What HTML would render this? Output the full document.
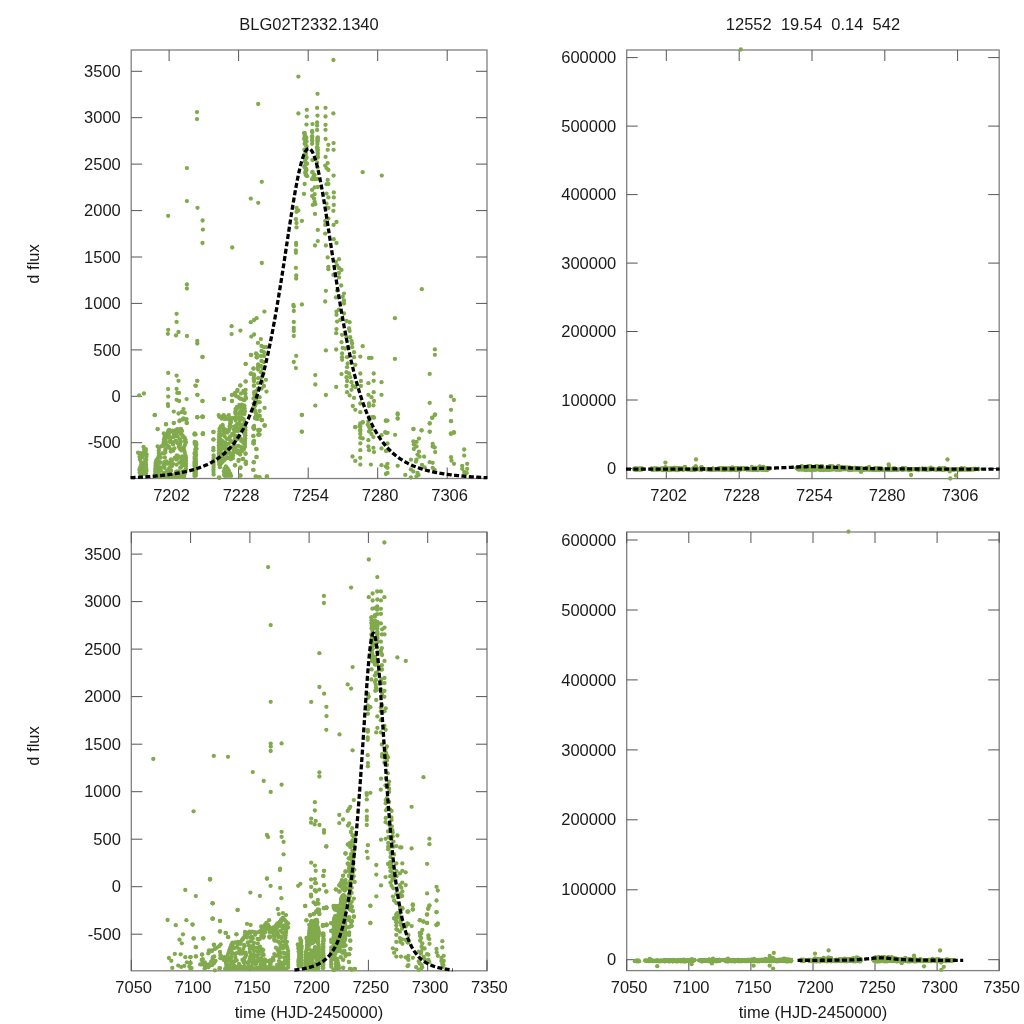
<!DOCTYPE html><html><head><meta charset="utf-8"><style>html,body{margin:0;padding:0;background:#fff;overflow:hidden}svg{display:block;will-change:transform}text{font-family:"Liberation Sans",sans-serif;font-size:16.5px;fill:#1a1a1a}</style></head><body>
<svg width="1024" height="1024" viewBox="0 0 1024 1024">
<rect width="1024" height="1024" fill="#fff"/>
<clipPath id="c1"><rect x="129.2" y="48" width="359.8" height="432.5"/></clipPath>
<rect x="131.2" y="50" width="355.8" height="428.5" fill="none" stroke="#808080" stroke-width="1.3"/>
<path d="M169.1,478.5V467.5M169.1,50V61M238.6,478.5V467.5M238.6,50V61M308.2,478.5V467.5M308.2,50V61M377.7,478.5V467.5M377.7,50V61M447.2,478.5V467.5M447.2,50V61M131.2,442.7H142.2M487,442.7H476M131.2,396.3H142.2M487,396.3H476M131.2,349.9H142.2M487,349.9H476M131.2,303.4H142.2M487,303.4H476M131.2,257.0H142.2M487,257.0H476M131.2,210.6H142.2M487,210.6H476M131.2,164.1H142.2M487,164.1H476M131.2,117.7H142.2M487,117.7H476M131.2,71.3H142.2M487,71.3H476" stroke="#555" stroke-width="1" fill="none"/>
<g fill="#80aa4c" clip-path="url(#c1)">
<polygon points="" stroke="#80aa4c" stroke-width="2" stroke-linejoin="round"/>
<polygon points="" stroke="#80aa4c" stroke-width="2" stroke-linejoin="round"/>
<polygon points="" stroke="#80aa4c" stroke-width="2" stroke-linejoin="round"/>
<polygon points="" stroke="#80aa4c" stroke-width="2" stroke-linejoin="round"/>
<polygon points="" stroke="#80aa4c" stroke-width="2" stroke-linejoin="round"/>
<polygon points="" stroke="#80aa4c" stroke-width="2" stroke-linejoin="round"/>
<polygon points="" stroke="#80aa4c" stroke-width="2" stroke-linejoin="round"/>
<polygon points="" stroke="#80aa4c" stroke-width="2" stroke-linejoin="round"/>
<polygon points="" stroke="#80aa4c" stroke-width="2" stroke-linejoin="round"/>
<polygon points="" stroke="#80aa4c" stroke-width="2" stroke-linejoin="round"/>
<polygon points="" stroke="#80aa4c" stroke-width="2" stroke-linejoin="round"/>
<polygon points="" stroke="#80aa4c" stroke-width="2" stroke-linejoin="round"/>
<polygon points="" stroke="#80aa4c" stroke-width="2" stroke-linejoin="round"/>
<polygon points="" stroke="#80aa4c" stroke-width="2" stroke-linejoin="round"/>
<polygon points="" stroke="#80aa4c" stroke-width="2" stroke-linejoin="round"/>
</g>
<g fill="#80aa4c">
<circle cx="197.0" cy="112.1" r="2.15"/>
<circle cx="197.0" cy="119.1" r="2.15"/>
<circle cx="186.9" cy="168.1" r="2.15"/>
<circle cx="258.2" cy="104.0" r="2.15"/>
<circle cx="333.4" cy="60.0" r="2.15"/>
<circle cx="298.4" cy="76.6" r="2.15"/>
<circle cx="317.5" cy="93.8" r="2.15"/>
<circle cx="298.4" cy="113.4" r="2.15"/>
<circle cx="306.8" cy="109.8" r="2.15"/>
<circle cx="306.8" cy="116.6" r="2.15"/>
<circle cx="317.1" cy="107.9" r="2.15"/>
<circle cx="317.5" cy="115.6" r="2.15"/>
<circle cx="325.5" cy="107.8" r="2.15"/>
<circle cx="325.5" cy="116.5" r="2.15"/>
<circle cx="333.4" cy="113.4" r="2.15"/>
<circle cx="306.5" cy="124.6" r="2.15"/>
<circle cx="312.5" cy="124.1" r="2.15"/>
<circle cx="317.1" cy="122.5" r="2.15"/>
<circle cx="317.1" cy="125.6" r="2.15"/>
<circle cx="317.1" cy="130.0" r="2.15"/>
<circle cx="325.5" cy="124.8" r="2.15"/>
<circle cx="325.5" cy="129.8" r="2.15"/>
<circle cx="312.1" cy="131.0" r="2.15"/>
<circle cx="325.6" cy="139.0" r="2.15"/>
<circle cx="328.4" cy="144.8" r="2.15"/>
<circle cx="333.6" cy="143.1" r="2.15"/>
<circle cx="327.7" cy="149.8" r="2.15"/>
<circle cx="333.6" cy="149.8" r="2.15"/>
<circle cx="325.6" cy="156.9" r="2.15"/>
<circle cx="327.7" cy="163.1" r="2.15"/>
<circle cx="325.2" cy="165.6" r="2.15"/>
<circle cx="326.5" cy="168.1" r="2.15"/>
<circle cx="328.4" cy="170.0" r="2.15"/>
<circle cx="333.6" cy="175.6" r="2.15"/>
<circle cx="362.7" cy="172.2" r="2.15"/>
<circle cx="381.8" cy="175.6" r="2.15"/>
<circle cx="304.0" cy="133.1" r="2.15"/>
<circle cx="305.5" cy="136.2" r="2.15"/>
<circle cx="304.0" cy="138.8" r="2.15"/>
<circle cx="306.5" cy="141.2" r="2.15"/>
<circle cx="304.6" cy="143.8" r="2.15"/>
<circle cx="306.5" cy="146.2" r="2.15"/>
<circle cx="304.6" cy="150.0" r="2.15"/>
<circle cx="305.9" cy="153.8" r="2.15"/>
<circle cx="306.5" cy="157.5" r="2.15"/>
<circle cx="305.2" cy="161.2" r="2.15"/>
<circle cx="307.1" cy="163.7" r="2.15"/>
<circle cx="304.6" cy="167.5" r="2.15"/>
<circle cx="306.5" cy="170.0" r="2.15"/>
<circle cx="305.2" cy="173.1" r="2.15"/>
<circle cx="307.1" cy="176.2" r="2.15"/>
<circle cx="312.1" cy="136.2" r="2.15"/>
<circle cx="312.1" cy="140.0" r="2.15"/>
<circle cx="312.1" cy="143.8" r="2.15"/>
<circle cx="312.5" cy="160.0" r="2.15"/>
<circle cx="312.5" cy="171.9" r="2.15"/>
<circle cx="314.6" cy="175.0" r="2.15"/>
<circle cx="317.8" cy="137.5" r="2.15"/>
<circle cx="317.8" cy="140.6" r="2.15"/>
<circle cx="317.1" cy="147.5" r="2.15"/>
<circle cx="317.8" cy="150.0" r="2.15"/>
<circle cx="317.8" cy="153.8" r="2.15"/>
<circle cx="317.8" cy="157.5" r="2.15"/>
<circle cx="317.1" cy="162.5" r="2.15"/>
<circle cx="317.5" cy="167.5" r="2.15"/>
<circle cx="186.9" cy="201.1" r="2.15"/>
<circle cx="197.5" cy="207.8" r="2.15"/>
<circle cx="168.2" cy="215.8" r="2.15"/>
<circle cx="202.6" cy="220.5" r="2.15"/>
<circle cx="202.9" cy="229.6" r="2.15"/>
<circle cx="202.5" cy="243.0" r="2.15"/>
<circle cx="232.2" cy="247.5" r="2.15"/>
<circle cx="250.8" cy="198.6" r="2.15"/>
<circle cx="258.2" cy="202.8" r="2.15"/>
<circle cx="186.9" cy="284.5" r="2.15"/>
<circle cx="186.9" cy="288.6" r="2.15"/>
<circle cx="261.8" cy="181.8" r="2.15"/>
<circle cx="304.6" cy="184.0" r="2.15"/>
<circle cx="304.0" cy="193.9" r="2.15"/>
<circle cx="312.1" cy="179.2" r="2.15"/>
<circle cx="314.6" cy="179.2" r="2.15"/>
<circle cx="317.1" cy="179.0" r="2.15"/>
<circle cx="327.7" cy="179.9" r="2.15"/>
<circle cx="326.5" cy="184.2" r="2.15"/>
<circle cx="328.4" cy="184.0" r="2.15"/>
<circle cx="312.1" cy="189.9" r="2.15"/>
<circle cx="314.6" cy="187.4" r="2.15"/>
<circle cx="317.8" cy="187.0" r="2.15"/>
<circle cx="312.1" cy="196.1" r="2.15"/>
<circle cx="314.6" cy="194.2" r="2.15"/>
<circle cx="314.0" cy="198.6" r="2.15"/>
<circle cx="314.6" cy="201.7" r="2.15"/>
<circle cx="312.8" cy="204.9" r="2.15"/>
<circle cx="315.3" cy="204.2" r="2.15"/>
<circle cx="326.5" cy="193.6" r="2.15"/>
<circle cx="328.4" cy="197.4" r="2.15"/>
<circle cx="333.8" cy="192.4" r="2.15"/>
<circle cx="333.8" cy="197.4" r="2.15"/>
<circle cx="333.8" cy="204.9" r="2.15"/>
<circle cx="333.4" cy="210.8" r="2.15"/>
<circle cx="326.5" cy="203.6" r="2.15"/>
<circle cx="328.4" cy="208.0" r="2.15"/>
<circle cx="296.5" cy="208.0" r="2.15"/>
<circle cx="296.5" cy="211.8" r="2.15"/>
<circle cx="298.4" cy="210.5" r="2.15"/>
<circle cx="295.9" cy="219.2" r="2.15"/>
<circle cx="296.5" cy="223.0" r="2.15"/>
<circle cx="296.5" cy="227.4" r="2.15"/>
<circle cx="301.9" cy="220.9" r="2.15"/>
<circle cx="315.0" cy="213.9" r="2.15"/>
<circle cx="317.8" cy="229.9" r="2.15"/>
<circle cx="325.2" cy="221.1" r="2.15"/>
<circle cx="328.4" cy="218.6" r="2.15"/>
<circle cx="325.2" cy="224.9" r="2.15"/>
<circle cx="336.5" cy="222.0" r="2.15"/>
<circle cx="333.6" cy="224.9" r="2.15"/>
<circle cx="325.2" cy="233.6" r="2.15"/>
<circle cx="333.8" cy="239.2" r="2.15"/>
<circle cx="336.5" cy="243.0" r="2.15"/>
<circle cx="317.8" cy="241.1" r="2.15"/>
<circle cx="315.0" cy="245.5" r="2.15"/>
<circle cx="325.9" cy="245.5" r="2.15"/>
<circle cx="296.1" cy="243.0" r="2.15"/>
<circle cx="296.1" cy="244.9" r="2.15"/>
<circle cx="295.9" cy="250.5" r="2.15"/>
<circle cx="295.9" cy="252.8" r="2.15"/>
<circle cx="327.7" cy="257.4" r="2.15"/>
<circle cx="339.0" cy="259.2" r="2.15"/>
<circle cx="335.9" cy="261.8" r="2.15"/>
<circle cx="337.1" cy="265.5" r="2.15"/>
<circle cx="328.4" cy="266.8" r="2.15"/>
<circle cx="328.4" cy="269.2" r="2.15"/>
<circle cx="339.0" cy="268.0" r="2.15"/>
<circle cx="341.5" cy="269.9" r="2.15"/>
<circle cx="339.0" cy="273.0" r="2.15"/>
<circle cx="333.4" cy="274.9" r="2.15"/>
<circle cx="339.0" cy="277.4" r="2.15"/>
<circle cx="295.9" cy="267.8" r="2.15"/>
<circle cx="296.2" cy="275.5" r="2.15"/>
<circle cx="296.2" cy="278.6" r="2.15"/>
<circle cx="261.8" cy="263.0" r="2.15"/>
<circle cx="325.9" cy="290.8" r="2.15"/>
<circle cx="325.2" cy="301.5" r="2.15"/>
<circle cx="341.2" cy="285.5" r="2.15"/>
<circle cx="337.1" cy="290.5" r="2.15"/>
<circle cx="344.0" cy="293.6" r="2.15"/>
<circle cx="342.7" cy="296.8" r="2.15"/>
<circle cx="344.0" cy="300.5" r="2.15"/>
<circle cx="335.9" cy="297.4" r="2.15"/>
<circle cx="344.0" cy="303.6" r="2.15"/>
<circle cx="293.4" cy="304.9" r="2.15"/>
<circle cx="301.9" cy="304.5" r="2.15"/>
<circle cx="421.8" cy="289.2" r="2.15"/>
<circle cx="176.6" cy="313.8" r="2.15"/>
<circle cx="176.6" cy="321.9" r="2.15"/>
<circle cx="168.2" cy="329.8" r="2.15"/>
<circle cx="167.9" cy="333.8" r="2.15"/>
<circle cx="176.0" cy="335.4" r="2.15"/>
<circle cx="178.5" cy="332.0" r="2.15"/>
<circle cx="187.0" cy="336.0" r="2.15"/>
<circle cx="197.3" cy="341.0" r="2.15"/>
<circle cx="197.3" cy="343.5" r="2.15"/>
<circle cx="202.5" cy="357.0" r="2.15"/>
<circle cx="231.6" cy="326.2" r="2.15"/>
<circle cx="231.6" cy="334.1" r="2.15"/>
<circle cx="240.4" cy="330.6" r="2.15"/>
<circle cx="250.8" cy="322.2" r="2.15"/>
<circle cx="254.1" cy="320.0" r="2.15"/>
<circle cx="256.6" cy="318.2" r="2.15"/>
<circle cx="251.3" cy="336.6" r="2.15"/>
<circle cx="254.1" cy="334.5" r="2.15"/>
<circle cx="257.9" cy="342.9" r="2.15"/>
<circle cx="251.3" cy="355.1" r="2.15"/>
<circle cx="256.0" cy="353.5" r="2.15"/>
<circle cx="256.6" cy="357.2" r="2.15"/>
<circle cx="245.7" cy="363.9" r="2.15"/>
<circle cx="253.5" cy="368.5" r="2.15"/>
<circle cx="257.9" cy="367.2" r="2.15"/>
<circle cx="251.0" cy="373.5" r="2.15"/>
<circle cx="254.1" cy="375.4" r="2.15"/>
<circle cx="254.1" cy="381.0" r="2.15"/>
<circle cx="254.1" cy="385.4" r="2.15"/>
<circle cx="245.7" cy="381.6" r="2.15"/>
<circle cx="240.4" cy="385.6" r="2.15"/>
<circle cx="168.2" cy="372.9" r="2.15"/>
<circle cx="176.6" cy="375.6" r="2.15"/>
<circle cx="178.5" cy="380.8" r="2.15"/>
<circle cx="197.3" cy="380.8" r="2.15"/>
<circle cx="195.4" cy="385.6" r="2.15"/>
<circle cx="168.1" cy="389.1" r="2.15"/>
<circle cx="176.6" cy="388.9" r="2.15"/>
<circle cx="177.3" cy="392.9" r="2.15"/>
<circle cx="179.1" cy="392.9" r="2.15"/>
<circle cx="168.2" cy="396.6" r="2.15"/>
<circle cx="197.3" cy="394.8" r="2.15"/>
<circle cx="186.6" cy="399.1" r="2.15"/>
<circle cx="202.5" cy="401.0" r="2.15"/>
<circle cx="176.6" cy="399.8" r="2.15"/>
<circle cx="179.1" cy="401.0" r="2.15"/>
<circle cx="168.1" cy="406.0" r="2.15"/>
<circle cx="167.9" cy="404.1" r="2.15"/>
<circle cx="224.1" cy="399.1" r="2.15"/>
<circle cx="232.0" cy="401.0" r="2.15"/>
<circle cx="154.7" cy="415.0" r="2.15"/>
<circle cx="173.8" cy="411.6" r="2.15"/>
<circle cx="178.5" cy="413.5" r="2.15"/>
<circle cx="181.6" cy="412.2" r="2.15"/>
<circle cx="183.5" cy="409.1" r="2.15"/>
<circle cx="184.8" cy="412.9" r="2.15"/>
<circle cx="197.3" cy="417.2" r="2.15"/>
<circle cx="202.5" cy="416.6" r="2.15"/>
<circle cx="166.0" cy="424.1" r="2.15"/>
<circle cx="173.8" cy="423.1" r="2.15"/>
<circle cx="179.8" cy="420.4" r="2.15"/>
<circle cx="183.5" cy="418.5" r="2.15"/>
<circle cx="186.0" cy="419.8" r="2.15"/>
<circle cx="186.6" cy="422.9" r="2.15"/>
<circle cx="157.6" cy="429.1" r="2.15"/>
<circle cx="168.5" cy="430.4" r="2.15"/>
<circle cx="177.3" cy="429.1" r="2.15"/>
<circle cx="180.4" cy="429.1" r="2.15"/>
<circle cx="182.0" cy="431.0" r="2.15"/>
<circle cx="194.7" cy="433.5" r="2.15"/>
<circle cx="202.9" cy="433.2" r="2.15"/>
<circle cx="139.1" cy="395.4" r="2.15"/>
<circle cx="143.9" cy="393.5" r="2.15"/>
<circle cx="254.1" cy="392.2" r="2.15"/>
<circle cx="254.7" cy="396.0" r="2.15"/>
<circle cx="253.5" cy="398.5" r="2.15"/>
<circle cx="257.3" cy="416.0" r="2.15"/>
<circle cx="255.4" cy="418.5" r="2.15"/>
<circle cx="254.1" cy="426.0" r="2.15"/>
<circle cx="254.1" cy="428.5" r="2.15"/>
<circle cx="258.5" cy="431.0" r="2.15"/>
<circle cx="237.3" cy="391.0" r="2.15"/>
<circle cx="234.7" cy="393.5" r="2.15"/>
<circle cx="232.2" cy="394.8" r="2.15"/>
<circle cx="241.0" cy="393.5" r="2.15"/>
<circle cx="243.5" cy="391.0" r="2.15"/>
<circle cx="245.4" cy="393.5" r="2.15"/>
<circle cx="246.0" cy="398.5" r="2.15"/>
<circle cx="243.5" cy="399.8" r="2.15"/>
<circle cx="239.8" cy="398.5" r="2.15"/>
<circle cx="236.0" cy="396.0" r="2.15"/>
<circle cx="260.9" cy="339.1" r="2.15"/>
<circle cx="261.5" cy="346.0" r="2.15"/>
<circle cx="264.0" cy="347.2" r="2.15"/>
<circle cx="266.5" cy="347.2" r="2.15"/>
<circle cx="261.5" cy="351.0" r="2.15"/>
<circle cx="264.0" cy="352.2" r="2.15"/>
<circle cx="260.9" cy="356.0" r="2.15"/>
<circle cx="264.0" cy="356.0" r="2.15"/>
<circle cx="261.5" cy="361.0" r="2.15"/>
<circle cx="264.0" cy="362.2" r="2.15"/>
<circle cx="260.9" cy="366.0" r="2.15"/>
<circle cx="262.7" cy="368.5" r="2.15"/>
<circle cx="260.9" cy="372.2" r="2.15"/>
<circle cx="263.4" cy="373.5" r="2.15"/>
<circle cx="261.5" cy="377.2" r="2.15"/>
<circle cx="265.9" cy="379.8" r="2.15"/>
<circle cx="262.1" cy="382.2" r="2.15"/>
<circle cx="264.0" cy="386.0" r="2.15"/>
<circle cx="261.5" cy="388.5" r="2.15"/>
<circle cx="266.5" cy="391.6" r="2.15"/>
<circle cx="259.6" cy="397.2" r="2.15"/>
<circle cx="259.6" cy="402.2" r="2.15"/>
<circle cx="264.6" cy="407.9" r="2.15"/>
<circle cx="259.6" cy="411.0" r="2.15"/>
<circle cx="259.6" cy="416.0" r="2.15"/>
<circle cx="261.5" cy="420.0" r="2.15"/>
<circle cx="264.6" cy="425.4" r="2.15"/>
<circle cx="259.6" cy="429.8" r="2.15"/>
<circle cx="264.4" cy="311.6" r="2.15"/>
<circle cx="293.8" cy="306.6" r="2.15"/>
<circle cx="293.8" cy="311.0" r="2.15"/>
<circle cx="293.8" cy="322.0" r="2.15"/>
<circle cx="293.8" cy="327.9" r="2.15"/>
<circle cx="293.8" cy="331.0" r="2.15"/>
<circle cx="293.8" cy="336.0" r="2.15"/>
<circle cx="296.2" cy="355.8" r="2.15"/>
<circle cx="293.8" cy="362.0" r="2.15"/>
<circle cx="295.9" cy="368.1" r="2.15"/>
<circle cx="315.3" cy="375.1" r="2.15"/>
<circle cx="315.3" cy="384.5" r="2.15"/>
<circle cx="325.9" cy="395.0" r="2.15"/>
<circle cx="315.3" cy="405.6" r="2.15"/>
<circle cx="301.8" cy="414.8" r="2.15"/>
<circle cx="301.8" cy="431.6" r="2.15"/>
<circle cx="325.9" cy="350.4" r="2.15"/>
<circle cx="336.2" cy="349.5" r="2.15"/>
<circle cx="336.2" cy="386.9" r="2.15"/>
<circle cx="336.5" cy="311.6" r="2.15"/>
<circle cx="339.0" cy="309.7" r="2.15"/>
<circle cx="336.5" cy="314.8" r="2.15"/>
<circle cx="344.0" cy="313.5" r="2.15"/>
<circle cx="337.1" cy="321.6" r="2.15"/>
<circle cx="340.3" cy="319.8" r="2.15"/>
<circle cx="346.5" cy="321.0" r="2.15"/>
<circle cx="349.6" cy="322.2" r="2.15"/>
<circle cx="349.0" cy="328.5" r="2.15"/>
<circle cx="349.6" cy="331.0" r="2.15"/>
<circle cx="336.5" cy="329.1" r="2.15"/>
<circle cx="336.2" cy="333.2" r="2.15"/>
<circle cx="342.1" cy="334.8" r="2.15"/>
<circle cx="346.5" cy="337.2" r="2.15"/>
<circle cx="350.2" cy="337.2" r="2.15"/>
<circle cx="351.5" cy="341.0" r="2.15"/>
<circle cx="352.1" cy="343.5" r="2.15"/>
<circle cx="341.5" cy="342.2" r="2.15"/>
<circle cx="342.7" cy="347.9" r="2.15"/>
<circle cx="345.2" cy="348.5" r="2.15"/>
<circle cx="352.1" cy="347.2" r="2.15"/>
<circle cx="354.0" cy="352.2" r="2.15"/>
<circle cx="342.1" cy="353.5" r="2.15"/>
<circle cx="342.1" cy="357.2" r="2.15"/>
<circle cx="342.1" cy="359.8" r="2.15"/>
<circle cx="347.1" cy="357.2" r="2.15"/>
<circle cx="354.0" cy="357.2" r="2.15"/>
<circle cx="347.7" cy="363.5" r="2.15"/>
<circle cx="347.1" cy="367.2" r="2.15"/>
<circle cx="355.3" cy="364.8" r="2.15"/>
<circle cx="346.5" cy="372.2" r="2.15"/>
<circle cx="349.0" cy="373.5" r="2.15"/>
<circle cx="346.5" cy="377.2" r="2.15"/>
<circle cx="350.2" cy="377.2" r="2.15"/>
<circle cx="347.1" cy="381.0" r="2.15"/>
<circle cx="346.5" cy="386.0" r="2.15"/>
<circle cx="351.5" cy="382.2" r="2.15"/>
<circle cx="352.8" cy="386.0" r="2.15"/>
<circle cx="351.5" cy="389.8" r="2.15"/>
<circle cx="355.3" cy="387.2" r="2.15"/>
<circle cx="347.1" cy="392.2" r="2.15"/>
<circle cx="349.6" cy="395.4" r="2.15"/>
<circle cx="354.0" cy="397.9" r="2.15"/>
<circle cx="341.5" cy="374.1" r="2.15"/>
<circle cx="360.3" cy="356.6" r="2.15"/>
<circle cx="362.7" cy="346.2" r="2.15"/>
<circle cx="369.0" cy="357.9" r="2.15"/>
<circle cx="371.5" cy="357.9" r="2.15"/>
<circle cx="360.3" cy="373.5" r="2.15"/>
<circle cx="373.7" cy="373.5" r="2.15"/>
<circle cx="373.7" cy="380.8" r="2.15"/>
<circle cx="368.4" cy="383.2" r="2.15"/>
<circle cx="360.9" cy="381.0" r="2.15"/>
<circle cx="360.9" cy="386.0" r="2.15"/>
<circle cx="381.5" cy="382.2" r="2.15"/>
<circle cx="381.5" cy="394.8" r="2.15"/>
<circle cx="373.7" cy="392.2" r="2.15"/>
<circle cx="368.4" cy="394.8" r="2.15"/>
<circle cx="371.5" cy="397.2" r="2.15"/>
<circle cx="374.0" cy="401.0" r="2.15"/>
<circle cx="369.0" cy="403.5" r="2.15"/>
<circle cx="373.4" cy="405.4" r="2.15"/>
<circle cx="369.0" cy="406.0" r="2.15"/>
<circle cx="360.3" cy="403.5" r="2.15"/>
<circle cx="352.8" cy="406.0" r="2.15"/>
<circle cx="355.3" cy="409.8" r="2.15"/>
<circle cx="360.3" cy="412.2" r="2.15"/>
<circle cx="369.0" cy="417.2" r="2.15"/>
<circle cx="373.7" cy="417.2" r="2.15"/>
<circle cx="362.7" cy="422.2" r="2.15"/>
<circle cx="359.6" cy="426.0" r="2.15"/>
<circle cx="355.3" cy="427.2" r="2.15"/>
<circle cx="367.7" cy="424.8" r="2.15"/>
<circle cx="370.2" cy="429.8" r="2.15"/>
<circle cx="360.3" cy="431.0" r="2.15"/>
<circle cx="385.9" cy="420.4" r="2.15"/>
<circle cx="385.2" cy="432.2" r="2.15"/>
<circle cx="394.9" cy="318.2" r="2.15"/>
<circle cx="394.9" cy="358.9" r="2.15"/>
<circle cx="434.9" cy="349.4" r="2.15"/>
<circle cx="434.9" cy="354.8" r="2.15"/>
<circle cx="429.7" cy="373.9" r="2.15"/>
<circle cx="451.0" cy="396.4" r="2.15"/>
<circle cx="453.9" cy="400.0" r="2.15"/>
<circle cx="429.7" cy="402.9" r="2.15"/>
<circle cx="451.0" cy="409.8" r="2.15"/>
<circle cx="397.6" cy="413.5" r="2.15"/>
<circle cx="397.6" cy="418.5" r="2.15"/>
<circle cx="435.1" cy="414.5" r="2.15"/>
<circle cx="432.2" cy="417.6" r="2.15"/>
<circle cx="429.7" cy="423.2" r="2.15"/>
<circle cx="451.0" cy="421.2" r="2.15"/>
<circle cx="413.5" cy="429.1" r="2.15"/>
<circle cx="421.6" cy="430.4" r="2.15"/>
<circle cx="429.7" cy="431.6" r="2.15"/>
<circle cx="453.9" cy="432.2" r="2.15"/>
<circle cx="450.8" cy="433.5" r="2.15"/>
<circle cx="154.8" cy="415.2" r="2.15"/>
<circle cx="197.4" cy="417.3" r="2.15"/>
<circle cx="202.7" cy="416.7" r="2.15"/>
<circle cx="179.4" cy="421.0" r="2.15"/>
<circle cx="182.6" cy="419.5" r="2.15"/>
<circle cx="186.5" cy="419.1" r="2.15"/>
<circle cx="186.9" cy="423.0" r="2.15"/>
<circle cx="173.8" cy="423.0" r="2.15"/>
<circle cx="166.0" cy="424.4" r="2.15"/>
<circle cx="157.7" cy="429.1" r="2.15"/>
<circle cx="194.4" cy="434.5" r="2.15"/>
<circle cx="202.7" cy="433.9" r="2.15"/>
<circle cx="157.6" cy="446.4" r="2.15"/>
<circle cx="169.3" cy="430.0" r="2.15"/>
<circle cx="170.8" cy="431.2" r="2.15"/>
<circle cx="143.5" cy="446.8" r="2.15"/>
<circle cx="145.8" cy="449.2" r="2.15"/>
<circle cx="138.0" cy="452.7" r="2.15"/>
<circle cx="140.4" cy="453.1" r="2.15"/>
<circle cx="146.6" cy="454.6" r="2.15"/>
<circle cx="163.8" cy="433.5" r="2.15"/>
<circle cx="181.0" cy="428.8" r="2.15"/>
<circle cx="202.6" cy="416.7" r="2.15"/>
<circle cx="203.0" cy="433.9" r="2.15"/>
<circle cx="213.5" cy="432.0" r="2.15"/>
<circle cx="213.5" cy="439.4" r="2.15"/>
<circle cx="255.7" cy="416.3" r="2.15"/>
<circle cx="258.8" cy="415.6" r="2.15"/>
<circle cx="261.9" cy="420.2" r="2.15"/>
<circle cx="264.7" cy="425.7" r="2.15"/>
<circle cx="253.7" cy="426.9" r="2.15"/>
<circle cx="253.7" cy="428.8" r="2.15"/>
<circle cx="259.2" cy="430.0" r="2.15"/>
<circle cx="258.8" cy="434.7" r="2.15"/>
<circle cx="253.3" cy="435.9" r="2.15"/>
<circle cx="254.1" cy="441.0" r="2.15"/>
<circle cx="253.7" cy="443.3" r="2.15"/>
<circle cx="256.5" cy="449.2" r="2.15"/>
<circle cx="256.5" cy="457.0" r="2.15"/>
<circle cx="253.7" cy="462.4" r="2.15"/>
<circle cx="253.3" cy="469.9" r="2.15"/>
<circle cx="255.7" cy="476.5" r="2.15"/>
<circle cx="259.2" cy="477.3" r="2.15"/>
<circle cx="267.0" cy="476.5" r="2.15"/>
<circle cx="245.5" cy="453.8" r="2.15"/>
<circle cx="240.1" cy="454.6" r="2.15"/>
<circle cx="243.2" cy="458.9" r="2.15"/>
<circle cx="238.5" cy="460.9" r="2.15"/>
<circle cx="245.9" cy="461.7" r="2.15"/>
<circle cx="245.9" cy="464.0" r="2.15"/>
<circle cx="235.0" cy="465.2" r="2.15"/>
<circle cx="240.5" cy="467.5" r="2.15"/>
<circle cx="240.5" cy="475.7" r="2.15"/>
<circle cx="219.0" cy="477.3" r="2.15"/>
<circle cx="220.5" cy="417.1" r="2.15"/>
<circle cx="222.9" cy="416.3" r="2.15"/>
<circle cx="259.6" cy="415.9" r="2.15"/>
<circle cx="261.8" cy="420.0" r="2.15"/>
<circle cx="264.6" cy="425.5" r="2.15"/>
<circle cx="259.6" cy="430.2" r="2.15"/>
<circle cx="259.6" cy="434.6" r="2.15"/>
<circle cx="301.9" cy="415.0" r="2.15"/>
<circle cx="301.9" cy="431.8" r="2.15"/>
<circle cx="259.6" cy="477.1" r="2.15"/>
<circle cx="266.8" cy="476.5" r="2.15"/>
<circle cx="355.3" cy="427.1" r="2.15"/>
<circle cx="360.3" cy="423.4" r="2.15"/>
<circle cx="362.7" cy="422.5" r="2.15"/>
<circle cx="360.3" cy="426.5" r="2.15"/>
<circle cx="360.3" cy="429.6" r="2.15"/>
<circle cx="360.3" cy="434.0" r="2.15"/>
<circle cx="360.3" cy="437.8" r="2.15"/>
<circle cx="362.7" cy="438.4" r="2.15"/>
<circle cx="360.3" cy="443.4" r="2.15"/>
<circle cx="360.3" cy="450.2" r="2.15"/>
<circle cx="360.3" cy="457.8" r="2.15"/>
<circle cx="352.5" cy="456.5" r="2.15"/>
<circle cx="355.3" cy="460.9" r="2.15"/>
<circle cx="360.3" cy="464.6" r="2.15"/>
<circle cx="369.0" cy="417.8" r="2.15"/>
<circle cx="372.1" cy="417.1" r="2.15"/>
<circle cx="374.0" cy="417.8" r="2.15"/>
<circle cx="368.4" cy="421.5" r="2.15"/>
<circle cx="369.0" cy="427.1" r="2.15"/>
<circle cx="371.5" cy="429.0" r="2.15"/>
<circle cx="369.0" cy="431.5" r="2.15"/>
<circle cx="371.5" cy="434.0" r="2.15"/>
<circle cx="373.4" cy="437.1" r="2.15"/>
<circle cx="368.4" cy="440.2" r="2.15"/>
<circle cx="368.4" cy="446.5" r="2.15"/>
<circle cx="373.4" cy="447.8" r="2.15"/>
<circle cx="369.0" cy="450.2" r="2.15"/>
<circle cx="374.0" cy="452.1" r="2.15"/>
<circle cx="370.9" cy="464.6" r="2.15"/>
<circle cx="381.5" cy="435.2" r="2.15"/>
<circle cx="385.9" cy="432.8" r="2.15"/>
<circle cx="381.5" cy="448.4" r="2.15"/>
<circle cx="385.9" cy="450.9" r="2.15"/>
<circle cx="381.5" cy="465.2" r="2.15"/>
<circle cx="385.9" cy="466.5" r="2.15"/>
<circle cx="385.9" cy="474.0" r="2.15"/>
<circle cx="385.9" cy="420.9" r="2.15"/>
<circle cx="397.7" cy="414.5" r="2.15"/>
<circle cx="397.7" cy="418.6" r="2.15"/>
<circle cx="387.5" cy="420.6" r="2.15"/>
<circle cx="387.5" cy="432.8" r="2.15"/>
<circle cx="387.5" cy="443.5" r="2.15"/>
<circle cx="387.5" cy="450.6" r="2.15"/>
<circle cx="395.1" cy="434.8" r="2.15"/>
<circle cx="413.4" cy="429.0" r="2.15"/>
<circle cx="421.5" cy="430.3" r="2.15"/>
<circle cx="429.7" cy="423.6" r="2.15"/>
<circle cx="432.2" cy="417.9" r="2.15"/>
<circle cx="434.7" cy="415.0" r="2.15"/>
<circle cx="429.7" cy="431.8" r="2.15"/>
<circle cx="419.0" cy="438.6" r="2.15"/>
<circle cx="413.4" cy="441.4" r="2.15"/>
<circle cx="416.5" cy="441.9" r="2.15"/>
<circle cx="413.9" cy="444.5" r="2.15"/>
<circle cx="416.5" cy="446.5" r="2.15"/>
<circle cx="413.9" cy="449.0" r="2.15"/>
<circle cx="432.7" cy="444.0" r="2.15"/>
<circle cx="434.7" cy="447.5" r="2.15"/>
<circle cx="435.2" cy="452.1" r="2.15"/>
<circle cx="432.7" cy="446.5" r="2.15"/>
<circle cx="419.0" cy="451.6" r="2.15"/>
<circle cx="417.5" cy="454.6" r="2.15"/>
<circle cx="419.5" cy="456.7" r="2.15"/>
<circle cx="416.5" cy="459.7" r="2.15"/>
<circle cx="415.9" cy="461.7" r="2.15"/>
<circle cx="410.9" cy="459.7" r="2.15"/>
<circle cx="424.1" cy="456.7" r="2.15"/>
<circle cx="429.7" cy="462.2" r="2.15"/>
<circle cx="432.7" cy="462.8" r="2.15"/>
<circle cx="422.0" cy="464.8" r="2.15"/>
<circle cx="424.6" cy="467.3" r="2.15"/>
<circle cx="432.7" cy="467.8" r="2.15"/>
<circle cx="434.7" cy="469.9" r="2.15"/>
<circle cx="410.9" cy="469.4" r="2.15"/>
<circle cx="413.4" cy="471.4" r="2.15"/>
<circle cx="417.5" cy="472.9" r="2.15"/>
<circle cx="418.5" cy="474.9" r="2.15"/>
<circle cx="405.3" cy="474.9" r="2.15"/>
<circle cx="410.9" cy="477.5" r="2.15"/>
<circle cx="416.5" cy="476.5" r="2.15"/>
<circle cx="397.7" cy="465.8" r="2.15"/>
<circle cx="387.5" cy="463.8" r="2.15"/>
<circle cx="387.5" cy="467.8" r="2.15"/>
<circle cx="387.5" cy="472.9" r="2.15"/>
<circle cx="451.0" cy="421.1" r="2.15"/>
<circle cx="451.0" cy="433.8" r="2.15"/>
<circle cx="454.0" cy="432.8" r="2.15"/>
<circle cx="451.0" cy="457.2" r="2.15"/>
<circle cx="451.5" cy="460.7" r="2.15"/>
<circle cx="454.0" cy="463.8" r="2.15"/>
<circle cx="464.2" cy="449.5" r="2.15"/>
<circle cx="464.2" cy="455.6" r="2.15"/>
<circle cx="462.2" cy="465.8" r="2.15"/>
<circle cx="467.2" cy="463.8" r="2.15"/>
<circle cx="462.2" cy="468.8" r="2.15"/>
<circle cx="467.2" cy="468.8" r="2.15"/>
<circle cx="464.2" cy="471.9" r="2.15"/>
<circle cx="466.7" cy="472.9" r="2.15"/>
<circle cx="464.2" cy="474.9" r="2.15"/>
<circle cx="202.5" cy="356.9" r="2.15"/>
<circle cx="197.2" cy="380.8" r="2.15"/>
<circle cx="195.9" cy="385.8" r="2.15"/>
<circle cx="197.5" cy="394.8" r="2.15"/>
<circle cx="202.5" cy="401.1" r="2.15"/>
<circle cx="224.1" cy="398.9" r="2.15"/>
<circle cx="231.9" cy="401.1" r="2.15"/>
<circle cx="218.7" cy="415.1" r="2.15"/>
<circle cx="223.7" cy="415.1" r="2.15"/>
<circle cx="228.8" cy="415.1" r="2.15"/>
<circle cx="245.6" cy="363.9" r="2.15"/>
<circle cx="250.9" cy="355.0" r="2.15"/>
<circle cx="256.9" cy="354.5" r="2.15"/>
<circle cx="256.9" cy="357.6" r="2.15"/>
<circle cx="258.1" cy="364.5" r="2.15"/>
<circle cx="258.1" cy="369.5" r="2.15"/>
<circle cx="253.4" cy="368.6" r="2.15"/>
<circle cx="250.6" cy="373.9" r="2.15"/>
<circle cx="253.8" cy="374.5" r="2.15"/>
<circle cx="253.8" cy="378.2" r="2.15"/>
<circle cx="253.8" cy="380.8" r="2.15"/>
<circle cx="258.1" cy="378.2" r="2.15"/>
<circle cx="258.1" cy="383.2" r="2.15"/>
<circle cx="253.8" cy="385.8" r="2.15"/>
<circle cx="245.6" cy="381.4" r="2.15"/>
<circle cx="240.3" cy="385.4" r="2.15"/>
<circle cx="237.5" cy="389.8" r="2.15"/>
<circle cx="231.9" cy="395.1" r="2.15"/>
<circle cx="235.0" cy="393.2" r="2.15"/>
<circle cx="238.1" cy="397.0" r="2.15"/>
<circle cx="241.2" cy="398.9" r="2.15"/>
<circle cx="245.6" cy="389.8" r="2.15"/>
<circle cx="245.0" cy="393.2" r="2.15"/>
<circle cx="245.6" cy="397.0" r="2.15"/>
<circle cx="244.4" cy="400.1" r="2.15"/>
<circle cx="197.2" cy="417.2" r="2.15"/>
<circle cx="202.5" cy="417.2" r="2.15"/>
<circle cx="202.8" cy="433.8" r="2.15"/>
<circle cx="195.6" cy="434.4" r="2.15"/>
<circle cx="213.4" cy="431.9" r="2.15"/>
<circle cx="213.4" cy="439.6" r="2.15"/>
<circle cx="253.4" cy="427.2" r="2.15"/>
<circle cx="253.4" cy="436.0" r="2.15"/>
<circle cx="253.4" cy="441.6" r="2.15"/>
<circle cx="253.4" cy="443.5" r="2.15"/>
<circle cx="256.2" cy="448.8" r="2.15"/>
<circle cx="256.6" cy="456.9" r="2.15"/>
<circle cx="253.8" cy="462.2" r="2.15"/>
<circle cx="253.4" cy="469.8" r="2.15"/>
<circle cx="258.1" cy="429.8" r="2.15"/>
<circle cx="258.1" cy="434.8" r="2.15"/>
<circle cx="240.0" cy="454.1" r="2.15"/>
<circle cx="245.6" cy="453.5" r="2.15"/>
<circle cx="238.7" cy="459.8" r="2.15"/>
<circle cx="242.5" cy="459.1" r="2.15"/>
<circle cx="245.6" cy="462.9" r="2.15"/>
<circle cx="235.0" cy="465.4" r="2.15"/>
<circle cx="240.3" cy="467.9" r="2.15"/>
<circle cx="240.3" cy="475.4" r="2.15"/>
<circle cx="256.2" cy="476.6" r="2.15"/>
<circle cx="255.0" cy="417.9" r="2.15"/>
<circle cx="257.5" cy="419.1" r="2.15"/>
<circle cx="219.4" cy="477.9" r="2.15"/>
<circle cx="140.0" cy="459.6" r="2.15"/>
<circle cx="141.0" cy="462.1" r="2.15"/>
<circle cx="141.4" cy="464.8" r="2.15"/>
<circle cx="140.2" cy="467.3" r="2.15"/>
<circle cx="139.4" cy="469.9" r="2.15"/>
<circle cx="139.7" cy="472.7" r="2.15"/>
<circle cx="140.9" cy="474.3" r="2.15"/>
<circle cx="143.7" cy="474.0" r="2.15"/>
<circle cx="146.1" cy="473.4" r="2.15"/>
<circle cx="146.5" cy="470.7" r="2.15"/>
<circle cx="146.3" cy="467.9" r="2.15"/>
<circle cx="146.1" cy="465.1" r="2.15"/>
<circle cx="145.8" cy="462.3" r="2.15"/>
<circle cx="146.2" cy="459.6" r="2.15"/>
<circle cx="146.4" cy="456.8" r="2.15"/>
<circle cx="146.1" cy="454.1" r="2.15"/>
<circle cx="145.6" cy="451.3" r="2.15"/>
<circle cx="144.3" cy="449.2" r="2.15"/>
<circle cx="144.0" cy="452.0" r="2.15"/>
<circle cx="142.6" cy="454.2" r="2.15"/>
<circle cx="139.8" cy="454.6" r="2.15"/>
<circle cx="139.5" cy="456.8" r="2.15"/>
<circle cx="145.1" cy="454.9" r="2.15"/>
<circle cx="140.3" cy="455.2" r="2.15"/>
<circle cx="142.0" cy="456.7" r="2.15"/>
<circle cx="142.0" cy="457.2" r="2.15"/>
<circle cx="145.1" cy="459.6" r="2.15"/>
<circle cx="142.9" cy="463.0" r="2.15"/>
<circle cx="141.6" cy="464.6" r="2.15"/>
<circle cx="145.2" cy="463.6" r="2.15"/>
<circle cx="141.9" cy="465.9" r="2.15"/>
<circle cx="143.8" cy="466.7" r="2.15"/>
<circle cx="139.9" cy="468.8" r="2.15"/>
<circle cx="142.7" cy="469.7" r="2.15"/>
<circle cx="145.1" cy="470.5" r="2.15"/>
<circle cx="140.1" cy="472.6" r="2.15"/>
<circle cx="143.8" cy="471.4" r="2.15"/>
<circle cx="186.0" cy="458.0" r="2.15"/>
<circle cx="185.4" cy="455.3" r="2.15"/>
<circle cx="184.8" cy="452.7" r="2.15"/>
<circle cx="184.2" cy="450.1" r="2.15"/>
<circle cx="183.7" cy="447.4" r="2.15"/>
<circle cx="184.9" cy="445.0" r="2.15"/>
<circle cx="185.9" cy="442.6" r="2.15"/>
<circle cx="185.6" cy="440.0" r="2.15"/>
<circle cx="184.6" cy="437.6" r="2.15"/>
<circle cx="182.7" cy="435.7" r="2.15"/>
<circle cx="180.8" cy="433.7" r="2.15"/>
<circle cx="179.9" cy="431.2" r="2.15"/>
<circle cx="178.0" cy="430.3" r="2.15"/>
<circle cx="175.3" cy="430.4" r="2.15"/>
<circle cx="172.6" cy="430.6" r="2.15"/>
<circle cx="169.9" cy="430.8" r="2.15"/>
<circle cx="167.8" cy="432.3" r="2.15"/>
<circle cx="166.1" cy="434.4" r="2.15"/>
<circle cx="164.6" cy="436.7" r="2.15"/>
<circle cx="164.0" cy="439.2" r="2.15"/>
<circle cx="163.7" cy="441.9" r="2.15"/>
<circle cx="163.3" cy="444.6" r="2.15"/>
<circle cx="161.2" cy="446.3" r="2.15"/>
<circle cx="159.0" cy="447.8" r="2.15"/>
<circle cx="158.8" cy="450.4" r="2.15"/>
<circle cx="158.8" cy="453.1" r="2.15"/>
<circle cx="158.8" cy="455.8" r="2.15"/>
<circle cx="157.8" cy="458.2" r="2.15"/>
<circle cx="156.3" cy="460.5" r="2.15"/>
<circle cx="155.6" cy="463.0" r="2.15"/>
<circle cx="155.5" cy="465.7" r="2.15"/>
<circle cx="155.3" cy="468.4" r="2.15"/>
<circle cx="155.2" cy="471.1" r="2.15"/>
<circle cx="155.1" cy="473.8" r="2.15"/>
<circle cx="155.0" cy="476.4" r="2.15"/>
<circle cx="157.3" cy="476.8" r="2.15"/>
<circle cx="160.0" cy="476.8" r="2.15"/>
<circle cx="162.7" cy="476.8" r="2.15"/>
<circle cx="165.4" cy="476.8" r="2.15"/>
<circle cx="168.1" cy="476.8" r="2.15"/>
<circle cx="170.8" cy="476.8" r="2.15"/>
<circle cx="173.5" cy="476.8" r="2.15"/>
<circle cx="176.2" cy="476.8" r="2.15"/>
<circle cx="178.9" cy="476.8" r="2.15"/>
<circle cx="181.6" cy="476.8" r="2.15"/>
<circle cx="184.1" cy="476.7" r="2.15"/>
<circle cx="184.7" cy="474.0" r="2.15"/>
<circle cx="185.4" cy="471.4" r="2.15"/>
<circle cx="186.0" cy="468.8" r="2.15"/>
<circle cx="186.0" cy="466.1" r="2.15"/>
<circle cx="186.0" cy="463.4" r="2.15"/>
<circle cx="186.0" cy="460.7" r="2.15"/>
<circle cx="178.7" cy="430.5" r="2.15"/>
<circle cx="169.6" cy="432.5" r="2.15"/>
<circle cx="174.6" cy="434.8" r="2.15"/>
<circle cx="176.9" cy="432.9" r="2.15"/>
<circle cx="180.3" cy="432.6" r="2.15"/>
<circle cx="166.4" cy="435.2" r="2.15"/>
<circle cx="168.9" cy="435.7" r="2.15"/>
<circle cx="173.7" cy="433.8" r="2.15"/>
<circle cx="175.2" cy="436.1" r="2.15"/>
<circle cx="177.6" cy="436.5" r="2.15"/>
<circle cx="181.9" cy="435.1" r="2.15"/>
<circle cx="165.3" cy="438.8" r="2.15"/>
<circle cx="167.8" cy="437.7" r="2.15"/>
<circle cx="171.5" cy="437.6" r="2.15"/>
<circle cx="173.2" cy="437.2" r="2.15"/>
<circle cx="179.8" cy="439.2" r="2.15"/>
<circle cx="183.3" cy="437.4" r="2.15"/>
<circle cx="165.9" cy="441.7" r="2.15"/>
<circle cx="170.2" cy="440.5" r="2.15"/>
<circle cx="175.8" cy="440.6" r="2.15"/>
<circle cx="180.7" cy="441.4" r="2.15"/>
<circle cx="184.8" cy="441.0" r="2.15"/>
<circle cx="165.9" cy="443.9" r="2.15"/>
<circle cx="169.8" cy="442.1" r="2.15"/>
<circle cx="172.2" cy="442.2" r="2.15"/>
<circle cx="175.2" cy="441.7" r="2.15"/>
<circle cx="177.7" cy="443.2" r="2.15"/>
<circle cx="180.5" cy="442.4" r="2.15"/>
<circle cx="163.2" cy="445.9" r="2.15"/>
<circle cx="167.3" cy="446.0" r="2.15"/>
<circle cx="168.7" cy="446.5" r="2.15"/>
<circle cx="173.0" cy="444.4" r="2.15"/>
<circle cx="178.7" cy="446.8" r="2.15"/>
<circle cx="180.0" cy="445.1" r="2.15"/>
<circle cx="165.5" cy="449.1" r="2.15"/>
<circle cx="168.7" cy="447.4" r="2.15"/>
<circle cx="170.8" cy="449.3" r="2.15"/>
<circle cx="174.3" cy="448.3" r="2.15"/>
<circle cx="180.0" cy="449.0" r="2.15"/>
<circle cx="181.1" cy="448.6" r="2.15"/>
<circle cx="165.3" cy="450.4" r="2.15"/>
<circle cx="165.3" cy="452.4" r="2.15"/>
<circle cx="170.8" cy="451.5" r="2.15"/>
<circle cx="173.2" cy="450.7" r="2.15"/>
<circle cx="181.4" cy="450.4" r="2.15"/>
<circle cx="159.4" cy="454.3" r="2.15"/>
<circle cx="162.3" cy="453.3" r="2.15"/>
<circle cx="164.0" cy="453.3" r="2.15"/>
<circle cx="160.0" cy="457.3" r="2.15"/>
<circle cx="164.9" cy="457.5" r="2.15"/>
<circle cx="176.8" cy="455.3" r="2.15"/>
<circle cx="178.5" cy="456.4" r="2.15"/>
<circle cx="182.2" cy="456.4" r="2.15"/>
<circle cx="184.9" cy="456.3" r="2.15"/>
<circle cx="156.9" cy="460.4" r="2.15"/>
<circle cx="159.5" cy="457.2" r="2.15"/>
<circle cx="160.7" cy="457.5" r="2.15"/>
<circle cx="170.9" cy="459.3" r="2.15"/>
<circle cx="174.7" cy="458.0" r="2.15"/>
<circle cx="177.4" cy="458.6" r="2.15"/>
<circle cx="180.6" cy="457.7" r="2.15"/>
<circle cx="184.4" cy="459.7" r="2.15"/>
<circle cx="157.6" cy="461.0" r="2.15"/>
<circle cx="159.7" cy="462.0" r="2.15"/>
<circle cx="164.2" cy="462.2" r="2.15"/>
<circle cx="166.3" cy="461.5" r="2.15"/>
<circle cx="169.6" cy="462.3" r="2.15"/>
<circle cx="171.9" cy="460.5" r="2.15"/>
<circle cx="176.4" cy="459.6" r="2.15"/>
<circle cx="179.5" cy="462.5" r="2.15"/>
<circle cx="181.7" cy="460.3" r="2.15"/>
<circle cx="184.8" cy="462.8" r="2.15"/>
<circle cx="156.6" cy="462.4" r="2.15"/>
<circle cx="160.3" cy="462.8" r="2.15"/>
<circle cx="165.1" cy="463.9" r="2.15"/>
<circle cx="167.7" cy="463.7" r="2.15"/>
<circle cx="170.3" cy="463.9" r="2.15"/>
<circle cx="173.1" cy="463.9" r="2.15"/>
<circle cx="176.6" cy="464.7" r="2.15"/>
<circle cx="181.8" cy="463.2" r="2.15"/>
<circle cx="183.3" cy="463.2" r="2.15"/>
<circle cx="157.9" cy="465.5" r="2.15"/>
<circle cx="161.0" cy="467.4" r="2.15"/>
<circle cx="163.9" cy="465.0" r="2.15"/>
<circle cx="170.0" cy="467.5" r="2.15"/>
<circle cx="172.0" cy="465.9" r="2.15"/>
<circle cx="181.3" cy="466.9" r="2.15"/>
<circle cx="183.5" cy="465.4" r="2.15"/>
<circle cx="158.1" cy="468.8" r="2.15"/>
<circle cx="159.4" cy="469.3" r="2.15"/>
<circle cx="164.6" cy="467.9" r="2.15"/>
<circle cx="169.2" cy="468.3" r="2.15"/>
<circle cx="171.1" cy="470.4" r="2.15"/>
<circle cx="180.2" cy="467.8" r="2.15"/>
<circle cx="157.6" cy="471.7" r="2.15"/>
<circle cx="160.9" cy="470.7" r="2.15"/>
<circle cx="163.9" cy="472.9" r="2.15"/>
<circle cx="166.8" cy="471.0" r="2.15"/>
<circle cx="169.4" cy="471.1" r="2.15"/>
<circle cx="176.2" cy="471.6" r="2.15"/>
<circle cx="178.1" cy="471.5" r="2.15"/>
<circle cx="182.2" cy="471.7" r="2.15"/>
<circle cx="185.0" cy="470.5" r="2.15"/>
<circle cx="156.2" cy="472.5" r="2.15"/>
<circle cx="159.6" cy="474.2" r="2.15"/>
<circle cx="165.0" cy="474.4" r="2.15"/>
<circle cx="168.7" cy="474.4" r="2.15"/>
<circle cx="171.1" cy="474.8" r="2.15"/>
<circle cx="174.9" cy="474.5" r="2.15"/>
<circle cx="177.8" cy="473.7" r="2.15"/>
<circle cx="181.0" cy="474.7" r="2.15"/>
<circle cx="182.1" cy="474.8" r="2.15"/>
<circle cx="194.6" cy="441.9" r="2.15"/>
<circle cx="194.7" cy="443.9" r="2.15"/>
<circle cx="195.9" cy="446.8" r="2.15"/>
<circle cx="195.2" cy="449.6" r="2.15"/>
<circle cx="194.7" cy="452.8" r="2.15"/>
<circle cx="194.6" cy="454.1" r="2.15"/>
<circle cx="194.6" cy="457.1" r="2.15"/>
<circle cx="194.6" cy="459.1" r="2.15"/>
<circle cx="194.5" cy="462.0" r="2.15"/>
<circle cx="194.5" cy="464.0" r="2.15"/>
<circle cx="194.5" cy="465.9" r="2.15"/>
<circle cx="194.5" cy="469.1" r="2.15"/>
<circle cx="194.5" cy="471.1" r="2.15"/>
<circle cx="194.5" cy="473.6" r="2.15"/>
<circle cx="194.5" cy="475.9" r="2.15"/>
<circle cx="244.9" cy="411.3" r="2.15"/>
<circle cx="244.6" cy="408.5" r="2.15"/>
<circle cx="244.4" cy="405.7" r="2.15"/>
<circle cx="241.9" cy="404.7" r="2.15"/>
<circle cx="239.4" cy="405.0" r="2.15"/>
<circle cx="237.2" cy="406.8" r="2.15"/>
<circle cx="235.6" cy="408.9" r="2.15"/>
<circle cx="235.4" cy="411.7" r="2.15"/>
<circle cx="235.8" cy="414.0" r="2.15"/>
<circle cx="238.7" cy="414.0" r="2.15"/>
<circle cx="241.5" cy="414.0" r="2.15"/>
<circle cx="244.4" cy="414.0" r="2.15"/>
<circle cx="241.8" cy="404.8" r="2.15"/>
<circle cx="237.0" cy="407.5" r="2.15"/>
<circle cx="239.7" cy="407.6" r="2.15"/>
<circle cx="242.6" cy="406.8" r="2.15"/>
<circle cx="236.5" cy="409.4" r="2.15"/>
<circle cx="242.0" cy="410.4" r="2.15"/>
<circle cx="243.4" cy="409.7" r="2.15"/>
<circle cx="235.4" cy="412.9" r="2.15"/>
<circle cx="240.2" cy="411.6" r="2.15"/>
<circle cx="257.9" cy="388.7" r="2.15"/>
<circle cx="256.3" cy="391.0" r="2.15"/>
<circle cx="254.7" cy="394.2" r="2.15"/>
<circle cx="254.7" cy="394.3" r="2.15"/>
<circle cx="256.7" cy="396.2" r="2.15"/>
<circle cx="255.4" cy="396.2" r="2.15"/>
<circle cx="256.5" cy="398.3" r="2.15"/>
<circle cx="256.9" cy="401.3" r="2.15"/>
<circle cx="253.7" cy="403.6" r="2.15"/>
<circle cx="256.8" cy="403.0" r="2.15"/>
<circle cx="253.9" cy="406.3" r="2.15"/>
<circle cx="255.1" cy="405.7" r="2.15"/>
<circle cx="253.5" cy="407.6" r="2.15"/>
<circle cx="253.3" cy="409.2" r="2.15"/>
<circle cx="254.2" cy="410.9" r="2.15"/>
<circle cx="255.1" cy="410.5" r="2.15"/>
<circle cx="256.0" cy="413.3" r="2.15"/>
<circle cx="219.9" cy="467.2" r="2.15"/>
<circle cx="220.5" cy="464.5" r="2.15"/>
<circle cx="222.1" cy="462.3" r="2.15"/>
<circle cx="224.1" cy="460.4" r="2.15"/>
<circle cx="226.0" cy="458.4" r="2.15"/>
<circle cx="228.5" cy="458.0" r="2.15"/>
<circle cx="231.0" cy="459.3" r="2.15"/>
<circle cx="232.8" cy="458.2" r="2.15"/>
<circle cx="233.0" cy="455.5" r="2.15"/>
<circle cx="233.2" cy="452.7" r="2.15"/>
<circle cx="235.4" cy="451.5" r="2.15"/>
<circle cx="237.7" cy="452.9" r="2.15"/>
<circle cx="240.0" cy="452.7" r="2.15"/>
<circle cx="242.2" cy="451.0" r="2.15"/>
<circle cx="244.0" cy="449.0" r="2.15"/>
<circle cx="244.9" cy="446.5" r="2.15"/>
<circle cx="245.0" cy="443.8" r="2.15"/>
<circle cx="245.1" cy="441.0" r="2.15"/>
<circle cx="245.2" cy="438.3" r="2.15"/>
<circle cx="245.3" cy="435.5" r="2.15"/>
<circle cx="245.4" cy="432.8" r="2.15"/>
<circle cx="245.5" cy="430.0" r="2.15"/>
<circle cx="245.3" cy="427.3" r="2.15"/>
<circle cx="244.8" cy="424.6" r="2.15"/>
<circle cx="244.4" cy="421.9" r="2.15"/>
<circle cx="243.7" cy="419.2" r="2.15"/>
<circle cx="241.9" cy="418.0" r="2.15"/>
<circle cx="239.2" cy="418.0" r="2.15"/>
<circle cx="236.4" cy="418.0" r="2.15"/>
<circle cx="233.7" cy="418.0" r="2.15"/>
<circle cx="231.0" cy="418.1" r="2.15"/>
<circle cx="230.4" cy="420.7" r="2.15"/>
<circle cx="230.1" cy="423.5" r="2.15"/>
<circle cx="229.8" cy="426.2" r="2.15"/>
<circle cx="229.5" cy="428.9" r="2.15"/>
<circle cx="227.5" cy="430.5" r="2.15"/>
<circle cx="224.9" cy="429.5" r="2.15"/>
<circle cx="223.0" cy="427.6" r="2.15"/>
<circle cx="222.7" cy="424.9" r="2.15"/>
<circle cx="220.8" cy="426.4" r="2.15"/>
<circle cx="219.6" cy="428.8" r="2.15"/>
<circle cx="219.4" cy="431.5" r="2.15"/>
<circle cx="219.2" cy="434.3" r="2.15"/>
<circle cx="219.1" cy="437.0" r="2.15"/>
<circle cx="218.9" cy="439.8" r="2.15"/>
<circle cx="218.9" cy="442.5" r="2.15"/>
<circle cx="218.9" cy="445.3" r="2.15"/>
<circle cx="218.9" cy="448.0" r="2.15"/>
<circle cx="218.9" cy="450.8" r="2.15"/>
<circle cx="218.9" cy="453.5" r="2.15"/>
<circle cx="218.9" cy="456.3" r="2.15"/>
<circle cx="218.9" cy="459.0" r="2.15"/>
<circle cx="218.9" cy="461.8" r="2.15"/>
<circle cx="219.3" cy="464.5" r="2.15"/>
<circle cx="231.3" cy="418.6" r="2.15"/>
<circle cx="230.6" cy="420.9" r="2.15"/>
<circle cx="235.6" cy="420.5" r="2.15"/>
<circle cx="239.9" cy="420.6" r="2.15"/>
<circle cx="230.8" cy="422.2" r="2.15"/>
<circle cx="237.4" cy="423.8" r="2.15"/>
<circle cx="239.7" cy="424.0" r="2.15"/>
<circle cx="243.0" cy="424.6" r="2.15"/>
<circle cx="230.0" cy="426.3" r="2.15"/>
<circle cx="231.0" cy="426.5" r="2.15"/>
<circle cx="234.8" cy="426.3" r="2.15"/>
<circle cx="236.5" cy="425.5" r="2.15"/>
<circle cx="240.8" cy="426.1" r="2.15"/>
<circle cx="221.0" cy="427.3" r="2.15"/>
<circle cx="233.9" cy="429.5" r="2.15"/>
<circle cx="237.2" cy="428.8" r="2.15"/>
<circle cx="239.7" cy="428.2" r="2.15"/>
<circle cx="241.7" cy="429.9" r="2.15"/>
<circle cx="223.1" cy="430.9" r="2.15"/>
<circle cx="226.5" cy="430.4" r="2.15"/>
<circle cx="228.7" cy="431.0" r="2.15"/>
<circle cx="234.7" cy="430.1" r="2.15"/>
<circle cx="234.6" cy="431.7" r="2.15"/>
<circle cx="237.9" cy="431.0" r="2.15"/>
<circle cx="240.5" cy="430.6" r="2.15"/>
<circle cx="221.5" cy="434.3" r="2.15"/>
<circle cx="224.8" cy="432.8" r="2.15"/>
<circle cx="227.4" cy="432.5" r="2.15"/>
<circle cx="232.2" cy="433.8" r="2.15"/>
<circle cx="233.4" cy="434.4" r="2.15"/>
<circle cx="236.7" cy="435.8" r="2.15"/>
<circle cx="244.0" cy="433.1" r="2.15"/>
<circle cx="220.1" cy="436.2" r="2.15"/>
<circle cx="224.6" cy="436.5" r="2.15"/>
<circle cx="230.1" cy="436.4" r="2.15"/>
<circle cx="234.0" cy="435.4" r="2.15"/>
<circle cx="235.8" cy="436.9" r="2.15"/>
<circle cx="245.2" cy="435.3" r="2.15"/>
<circle cx="220.9" cy="439.8" r="2.15"/>
<circle cx="226.7" cy="438.6" r="2.15"/>
<circle cx="228.0" cy="438.9" r="2.15"/>
<circle cx="229.7" cy="439.7" r="2.15"/>
<circle cx="235.1" cy="439.0" r="2.15"/>
<circle cx="237.1" cy="439.4" r="2.15"/>
<circle cx="240.3" cy="438.3" r="2.15"/>
<circle cx="243.7" cy="439.4" r="2.15"/>
<circle cx="220.4" cy="442.3" r="2.15"/>
<circle cx="222.7" cy="441.2" r="2.15"/>
<circle cx="225.1" cy="442.5" r="2.15"/>
<circle cx="231.2" cy="441.1" r="2.15"/>
<circle cx="241.3" cy="440.9" r="2.15"/>
<circle cx="244.4" cy="441.4" r="2.15"/>
<circle cx="222.1" cy="444.8" r="2.15"/>
<circle cx="225.4" cy="446.0" r="2.15"/>
<circle cx="228.6" cy="443.7" r="2.15"/>
<circle cx="232.4" cy="442.2" r="2.15"/>
<circle cx="234.5" cy="444.7" r="2.15"/>
<circle cx="243.4" cy="443.0" r="2.15"/>
<circle cx="220.2" cy="445.8" r="2.15"/>
<circle cx="222.6" cy="445.8" r="2.15"/>
<circle cx="226.4" cy="447.0" r="2.15"/>
<circle cx="232.3" cy="447.1" r="2.15"/>
<circle cx="235.1" cy="446.4" r="2.15"/>
<circle cx="238.4" cy="445.8" r="2.15"/>
<circle cx="241.0" cy="447.0" r="2.15"/>
<circle cx="244.7" cy="446.9" r="2.15"/>
<circle cx="220.7" cy="449.5" r="2.15"/>
<circle cx="222.7" cy="448.6" r="2.15"/>
<circle cx="225.3" cy="449.2" r="2.15"/>
<circle cx="228.9" cy="449.5" r="2.15"/>
<circle cx="233.2" cy="449.0" r="2.15"/>
<circle cx="235.6" cy="447.6" r="2.15"/>
<circle cx="241.9" cy="449.8" r="2.15"/>
<circle cx="220.6" cy="451.5" r="2.15"/>
<circle cx="223.9" cy="453.4" r="2.15"/>
<circle cx="226.5" cy="450.9" r="2.15"/>
<circle cx="229.2" cy="452.5" r="2.15"/>
<circle cx="233.9" cy="450.0" r="2.15"/>
<circle cx="236.2" cy="451.5" r="2.15"/>
<circle cx="238.1" cy="450.5" r="2.15"/>
<circle cx="221.1" cy="453.8" r="2.15"/>
<circle cx="225.7" cy="454.0" r="2.15"/>
<circle cx="226.5" cy="453.7" r="2.15"/>
<circle cx="231.5" cy="453.8" r="2.15"/>
<circle cx="222.4" cy="456.7" r="2.15"/>
<circle cx="226.5" cy="457.2" r="2.15"/>
<circle cx="230.4" cy="455.0" r="2.15"/>
<circle cx="231.7" cy="457.1" r="2.15"/>
<circle cx="219.1" cy="461.8" r="2.15"/>
<circle cx="220.8" cy="459.8" r="2.15"/>
<circle cx="224.4" cy="459.4" r="2.15"/>
<circle cx="230.5" cy="458.5" r="2.15"/>
<circle cx="231.1" cy="475.9" r="2.15"/>
<circle cx="230.1" cy="473.3" r="2.15"/>
<circle cx="228.9" cy="470.8" r="2.15"/>
<circle cx="227.5" cy="468.3" r="2.15"/>
<circle cx="225.9" cy="466.5" r="2.15"/>
<circle cx="224.5" cy="468.7" r="2.15"/>
<circle cx="223.9" cy="471.5" r="2.15"/>
<circle cx="224.2" cy="474.3" r="2.15"/>
<circle cx="225.5" cy="475.9" r="2.15"/>
<circle cx="228.3" cy="475.9" r="2.15"/>
<circle cx="226.9" cy="472.0" r="2.15"/>
<circle cx="224.4" cy="475.6" r="2.15"/>
<circle cx="228.1" cy="474.3" r="2.15"/>
<circle cx="213.4" cy="448.0" r="2.15"/>
<circle cx="213.4" cy="450.3" r="2.15"/>
<circle cx="213.6" cy="455.5" r="2.15"/>
<circle cx="213.6" cy="458.0" r="2.15"/>
<circle cx="213.4" cy="460.6" r="2.15"/>
<circle cx="213.5" cy="462.7" r="2.15"/>
<circle cx="213.5" cy="464.6" r="2.15"/>
<circle cx="213.6" cy="467.0" r="2.15"/>
<circle cx="213.5" cy="469.6" r="2.15"/>
<circle cx="213.5" cy="472.0" r="2.15"/>
<circle cx="213.6" cy="474.6" r="2.15"/>
<circle cx="225.3" cy="416.8" r="2.15"/>
<circle cx="222.3" cy="416.8" r="2.15"/>
<circle cx="219.3" cy="416.8" r="2.15"/>
<circle cx="221.6" cy="418.6" r="2.15"/>
<circle cx="224.5" cy="419.0" r="2.15"/>
<circle cx="227.4" cy="418.9" r="2.15"/>
<circle cx="196.0" cy="442.3" r="2.15"/>
<circle cx="196.4" cy="444.4" r="2.15"/>
<circle cx="196.6" cy="448.8" r="2.15"/>
<circle cx="195.9" cy="451.8" r="2.15"/>
<circle cx="195.9" cy="454.3" r="2.15"/>
<circle cx="195.9" cy="456.1" r="2.15"/>
<circle cx="195.9" cy="458.9" r="2.15"/>
<circle cx="195.9" cy="461.5" r="2.15"/>
<circle cx="195.9" cy="463.7" r="2.15"/>
<circle cx="195.9" cy="464.8" r="2.15"/>
<circle cx="195.9" cy="467.8" r="2.15"/>
<circle cx="195.9" cy="470.4" r="2.15"/>
<circle cx="195.9" cy="472.8" r="2.15"/>
<circle cx="195.9" cy="475.5" r="2.15"/>
<circle cx="304.8" cy="133.1" r="2.15"/>
<circle cx="304.6" cy="136.0" r="2.15"/>
<circle cx="306.3" cy="138.0" r="2.15"/>
<circle cx="305.2" cy="141.0" r="2.15"/>
<circle cx="305.6" cy="143.1" r="2.15"/>
<circle cx="304.6" cy="149.6" r="2.15"/>
<circle cx="305.7" cy="152.1" r="2.15"/>
<circle cx="304.7" cy="154.5" r="2.15"/>
<circle cx="305.7" cy="156.8" r="2.15"/>
<circle cx="306.0" cy="158.5" r="2.15"/>
<circle cx="305.3" cy="162.0" r="2.15"/>
<circle cx="305.9" cy="164.3" r="2.15"/>
<circle cx="304.6" cy="166.3" r="2.15"/>
<circle cx="306.1" cy="168.7" r="2.15"/>
<circle cx="305.6" cy="171.2" r="2.15"/>
<circle cx="305.9" cy="173.8" r="2.15"/>
<circle cx="306.0" cy="175.3" r="2.15"/>
<circle cx="312.2" cy="132.2" r="2.15"/>
<circle cx="312.1" cy="136.9" r="2.15"/>
<circle cx="312.3" cy="141.0" r="2.15"/>
<circle cx="312.4" cy="172.5" r="2.15"/>
<circle cx="313.9" cy="176.1" r="2.15"/>
<circle cx="313.5" cy="177.0" r="2.15"/>
<circle cx="313.8" cy="177.3" r="2.15"/>
<circle cx="317.5" cy="137.8" r="2.15"/>
<circle cx="317.5" cy="139.5" r="2.15"/>
<circle cx="317.4" cy="141.9" r="2.15"/>
<circle cx="317.4" cy="144.1" r="2.15"/>
<circle cx="317.4" cy="147.3" r="2.15"/>
<circle cx="317.3" cy="149.0" r="2.15"/>
<circle cx="317.5" cy="151.9" r="2.15"/>
<circle cx="317.7" cy="156.4" r="2.15"/>
</g>
<polyline points="130.56,477.69 131.15,477.66 131.75,477.63 132.35,477.60 132.94,477.57 133.54,477.54 134.13,477.51 134.73,477.48 135.32,477.45 135.92,477.42 136.51,477.39 137.11,477.35 137.71,477.32 138.30,477.29 138.90,477.25 139.49,477.22 140.09,477.18 140.68,477.15 141.28,477.11 141.88,477.07 142.47,477.03 143.07,477.00 143.66,476.96 144.26,476.92 144.85,476.88 145.45,476.84 146.04,476.80 146.64,476.75 147.24,476.71 147.83,476.67 148.43,476.62 149.02,476.58 149.62,476.53 150.21,476.49 150.81,476.44 151.41,476.39 152.00,476.34 152.60,476.29 153.19,476.24 153.79,476.19 154.38,476.14 154.98,476.08 155.58,476.03 156.17,475.98 156.77,475.92 157.36,475.86 157.96,475.81 158.55,475.75 159.15,475.69 159.74,475.63 160.34,475.57 160.94,475.50 161.53,475.44 162.13,475.38 162.72,475.31 163.32,475.24 163.91,475.17 164.51,475.10 165.11,475.03 165.70,474.96 166.30,474.89 166.89,474.81 167.49,474.74 168.08,474.66 168.68,474.58 169.27,474.50 169.87,474.42 170.47,474.34 171.06,474.25 171.66,474.17 172.25,474.08 172.85,473.99 173.44,473.90 174.04,473.81 174.64,473.72 175.23,473.62 175.83,473.52 176.42,473.42 177.02,473.32 177.61,473.22 178.21,473.12 178.81,473.01 179.40,472.90 180.00,472.79 180.59,472.68 181.19,472.56 181.78,472.44 182.38,472.32 182.97,472.20 183.57,472.08 184.17,471.95 184.76,471.82 185.36,471.69 185.95,471.56 186.55,471.42 187.14,471.28 187.74,471.14 188.34,471.00 188.93,470.85 189.53,470.70 190.12,470.55 190.72,470.39 191.31,470.23 191.91,470.07 192.50,469.90 193.10,469.73 193.70,469.56 194.29,469.38 194.89,469.20 195.48,469.02 196.08,468.83 196.67,468.64 197.27,468.45 197.87,468.25 198.46,468.05 199.06,467.84 199.65,467.63 200.25,467.41 200.84,467.19 201.44,466.97 202.04,466.74 202.63,466.51 203.23,466.27 203.82,466.02 204.42,465.77 205.01,465.52 205.61,465.26 206.20,464.99 206.80,464.72 207.40,464.45 207.99,464.16 208.59,463.87 209.18,463.58 209.78,463.28 210.37,462.97 210.97,462.66 211.57,462.33 212.16,462.01 212.76,461.67 213.35,461.33 213.95,460.98 214.54,460.62 215.14,460.25 215.73,459.88 216.33,459.49 216.93,459.10 217.52,458.70 218.12,458.29 218.71,457.88 219.31,457.45 219.90,457.01 220.50,456.57 221.10,456.11 221.69,455.64 222.29,455.16 222.88,454.67 223.48,454.17 224.07,453.66 224.67,453.14 225.27,452.60 225.86,452.06 226.46,451.50 227.05,450.92 227.65,450.34 228.24,449.74 228.84,449.12 229.43,448.50 230.03,447.85 230.63,447.20 231.22,446.52 231.82,445.83 232.41,445.13 233.01,444.41 233.60,443.67 234.20,442.91 234.80,442.14 235.39,441.35 235.99,440.54 236.58,439.71 237.18,438.86 237.77,437.99 238.37,437.10 238.96,436.19 239.56,435.26 240.16,434.30 240.75,433.33 241.35,432.33 241.94,431.30 242.54,430.25 243.13,429.18 243.73,428.08 244.33,426.96 244.92,425.80 245.52,424.63 246.11,423.42 246.71,422.18 247.30,420.92 247.90,419.63 248.50,418.30 249.09,416.95 249.69,415.56 250.28,414.14 250.88,412.68 251.47,411.20 252.07,409.67 252.66,408.12 253.26,406.52 253.86,404.89 254.45,403.22 255.05,401.52 255.64,399.77 256.24,397.99 256.83,396.16 257.43,394.29 258.03,392.38 258.62,390.43 259.22,388.43 259.81,386.39 260.41,384.31 261.00,382.18 261.60,380.00 262.19,377.78 262.79,375.51 263.39,373.19 263.98,370.82 264.58,368.40 265.17,365.94 265.77,363.42 266.36,360.85 266.96,358.23 267.56,355.56 268.15,352.84 268.75,350.07 269.34,347.24 269.94,344.36 270.53,341.43 271.13,338.45 271.73,335.41 272.32,332.33 272.92,329.19 273.51,326.00 274.11,322.76 274.70,319.47 275.30,316.13 275.89,312.74 276.49,309.30 277.09,305.82 277.68,302.29 278.28,298.72 278.87,295.11 279.47,291.45 280.06,287.76 280.66,284.03 281.26,280.27 281.85,276.48 282.45,272.65 283.04,268.81 283.64,264.94 284.23,261.05 284.83,257.14 285.43,253.23 286.02,249.30 286.62,245.37 287.21,241.44 287.81,237.52 288.40,233.61 289.00,229.71 289.59,225.83 290.19,221.98 290.79,218.16 291.38,214.37 291.98,210.63 292.57,206.94 293.17,203.30 293.76,199.73 294.36,196.23 294.96,192.79 295.55,189.45 296.15,186.18 296.74,183.02 297.34,179.95 297.93,176.99 298.53,174.15 299.12,171.43 299.72,168.83 300.32,166.37 300.91,164.05 301.51,161.87 302.10,159.84 302.70,157.97 303.29,156.25 303.89,154.70 304.49,153.32 305.08,152.11 305.68,151.07 306.27,150.21 306.87,149.54 307.46,149.04 308.06,148.73 308.66,148.60 309.25,148.65 309.85,148.89 310.44,149.32 311.04,149.92 311.63,150.71 312.23,151.68 312.82,152.82 313.42,154.13 314.02,155.62 314.61,157.27 315.21,159.08 315.80,161.05 316.40,163.17 316.99,165.43 317.59,167.84 318.19,170.38 318.78,173.06 319.38,175.85 319.97,178.76 320.57,181.79 321.16,184.91 321.76,188.14 322.35,191.45 322.95,194.85 323.55,198.33 324.14,201.88 324.74,205.49 325.33,209.16 325.93,212.88 326.52,216.65 327.12,220.46 327.72,224.30 328.31,228.16 328.91,232.05 329.50,235.96 330.10,239.88 330.69,243.81 331.29,247.74 331.89,251.67 332.48,255.59 333.08,259.50 333.67,263.39 334.27,267.27 334.86,271.13 335.46,274.96 336.05,278.77 336.65,282.54 337.25,286.28 337.84,289.99 338.44,293.66 339.03,297.29 339.63,300.88 340.22,304.42 340.82,307.92 341.42,311.38 342.01,314.79 342.61,318.15 343.20,321.46 343.80,324.72 344.39,327.93 344.99,331.09 345.58,334.19 346.18,337.25 346.78,340.25 347.37,343.21 347.97,346.10 348.56,348.95 349.16,351.75 349.75,354.49 350.35,357.18 350.95,359.82 351.54,362.41 352.14,364.94 352.73,367.43 353.33,369.87 353.92,372.26 354.52,374.59 355.12,376.88 355.71,379.13 356.31,381.32 356.90,383.47 357.50,385.57 358.09,387.63 358.69,389.64 359.28,391.61 359.88,393.54 360.48,395.42 361.07,397.27 361.67,399.07 362.26,400.83 362.86,402.55 363.45,404.23 364.05,405.88 364.65,407.49 365.24,409.06 365.84,410.60 366.43,412.10 367.03,413.56 367.62,415.00 368.22,416.40 368.81,417.77 369.41,419.10 370.01,420.41 370.60,421.69 371.20,422.93 371.79,424.15 372.39,425.34 372.98,426.50 373.58,427.64 374.18,428.75 374.77,429.83 375.37,430.89 375.96,431.92 376.56,432.93 377.15,433.92 377.75,434.88 378.35,435.82 378.94,436.74 379.54,437.64 380.13,438.52 380.73,439.37 381.32,440.21 381.92,441.03 382.51,441.83 383.11,442.61 383.71,443.37 384.30,444.12 384.90,444.84 385.49,445.56 386.09,446.25 386.68,446.93 387.28,447.59 387.88,448.24 388.47,448.88 389.07,449.50 389.66,450.10 390.26,450.69 390.85,451.27 391.45,451.84 392.04,452.39 392.64,452.93 393.24,453.46 393.83,453.97 394.43,454.48 395.02,454.97 395.62,455.45 396.21,455.92 396.81,456.39 397.41,456.84 398.00,457.28 398.60,457.71 399.19,458.13 399.79,458.54 400.38,458.95 400.98,459.34 401.58,459.73 402.17,460.10 402.77,460.47 403.36,460.83 403.96,461.19 404.55,461.53 405.15,461.87 405.74,462.20 406.34,462.53 406.94,462.85 407.53,463.16 408.13,463.46 408.72,463.76 409.32,464.05 409.91,464.33 410.51,464.61 411.11,464.89 411.70,465.15 412.30,465.42 412.89,465.67 413.49,465.92 414.08,466.17 414.68,466.41 415.28,466.65 415.87,466.88 416.47,467.10 417.06,467.33 417.66,467.54 418.25,467.76 418.85,467.97 419.44,468.17 420.04,468.37 420.64,468.57 421.23,468.76 421.83,468.95 422.42,469.13 423.02,469.31 423.61,469.49 424.21,469.66 424.81,469.83 425.40,470.00 426.00,470.17 426.59,470.33 427.19,470.48 427.78,470.64 428.38,470.79 428.97,470.94 429.57,471.08 430.17,471.23 430.76,471.37 431.36,471.50 431.95,471.64 432.55,471.77 433.14,471.90 433.74,472.03 434.34,472.15 434.93,472.28 435.53,472.40 436.12,472.51 436.72,472.63 437.31,472.74 437.91,472.86 438.51,472.97 439.10,473.07 439.70,473.18 440.29,473.28 440.89,473.38 441.48,473.48 442.08,473.58 442.67,473.68 443.27,473.77 443.87,473.87 444.46,473.96 445.06,474.05 445.65,474.13 446.25,474.22 446.84,474.31 447.44,474.39 448.04,474.47 448.63,474.55 449.23,474.63 449.82,474.71 450.42,474.78 451.01,474.86 451.61,474.93 452.20,475.01 452.80,475.08 453.40,475.15 453.99,475.22 454.59,475.28 455.18,475.35 455.78,475.41 456.37,475.48 456.97,475.54 457.57,475.60 458.16,475.66 458.76,475.72 459.35,475.78 459.95,475.84 460.54,475.90 461.14,475.95 461.74,476.01 462.33,476.06 462.93,476.12 463.52,476.17 464.12,476.22 464.71,476.27 465.31,476.32 465.90,476.37 466.50,476.42 467.10,476.47 467.69,476.51 468.29,476.56 468.88,476.60 469.48,476.65 470.07,476.69 470.67,476.74 471.27,476.78 471.86,476.82 472.46,476.86 473.05,476.90 473.65,476.94 474.24,476.98 474.84,477.02 475.43,477.06 476.03,477.10 476.63,477.13 477.22,477.17 477.82,477.20 478.41,477.24 479.01,477.27 479.60,477.31 480.20,477.34 480.80,477.37 481.39,477.41 481.99,477.44 482.58,477.47 483.18,477.50 483.77,477.53 484.37,477.56 484.97,477.59 485.56,477.62 486.16,477.65 486.75,477.68 487.35,477.71" fill="none" stroke="#000" stroke-width="3.3" stroke-dasharray="5 2.4"/>
<text x="171.5" y="501.0" text-anchor="middle">7202</text>
<text x="241.0" y="501.0" text-anchor="middle">7228</text>
<text x="310.6" y="501.0" text-anchor="middle">7254</text>
<text x="380.1" y="501.0" text-anchor="middle">7280</text>
<text x="449.6" y="501.0" text-anchor="middle">7306</text>
<text x="120.8" y="448.3" text-anchor="end">-500</text>
<text x="120.8" y="401.9" text-anchor="end">0</text>
<text x="120.8" y="355.5" text-anchor="end">500</text>
<text x="120.8" y="309.0" text-anchor="end">1000</text>
<text x="120.8" y="262.6" text-anchor="end">1500</text>
<text x="120.8" y="216.2" text-anchor="end">2000</text>
<text x="120.8" y="169.7" text-anchor="end">2500</text>
<text x="120.8" y="123.3" text-anchor="end">3000</text>
<text x="120.8" y="76.9" text-anchor="end">3500</text>
<clipPath id="c2"><rect x="624.7" y="48" width="376.5" height="432.6"/></clipPath>
<rect x="626.7" y="50" width="372.5" height="428.6" fill="none" stroke="#808080" stroke-width="1.3"/>
<path d="M666.3,478.6V467.6M666.3,50V61M739.2,478.6V467.6M739.2,50V61M812.0,478.6V467.6M812.0,50V61M884.8,478.6V467.6M884.8,50V61M957.6,478.6V467.6M957.6,50V61M626.7,468.5H637.7M999.2,468.5H988.2M626.7,400.0H637.7M999.2,400.0H988.2M626.7,331.5H637.7M999.2,331.5H988.2M626.7,263.1H637.7M999.2,263.1H988.2M626.7,194.6H637.7M999.2,194.6H988.2M626.7,126.1H637.7M999.2,126.1H988.2M626.7,57.6H637.7M999.2,57.6H988.2" stroke="#555" stroke-width="1" fill="none"/>
<g fill="#80aa4c" clip-path="url(#c2)">
<polygon points="" stroke="#80aa4c" stroke-width="2" stroke-linejoin="round"/>
<polygon points="" stroke="#80aa4c" stroke-width="2" stroke-linejoin="round"/>
<polygon points="" stroke="#80aa4c" stroke-width="2" stroke-linejoin="round"/>
<polygon points="" stroke="#80aa4c" stroke-width="2" stroke-linejoin="round"/>
<polygon points="" stroke="#80aa4c" stroke-width="2" stroke-linejoin="round"/>
<polygon points="" stroke="#80aa4c" stroke-width="2" stroke-linejoin="round"/>
<polygon points="" stroke="#80aa4c" stroke-width="2" stroke-linejoin="round"/>
<polygon points="" stroke="#80aa4c" stroke-width="2" stroke-linejoin="round"/>
<polygon points="" stroke="#80aa4c" stroke-width="2" stroke-linejoin="round"/>
<polygon points="" stroke="#80aa4c" stroke-width="2" stroke-linejoin="round"/>
<polygon points="" stroke="#80aa4c" stroke-width="2" stroke-linejoin="round"/>
<polygon points="" stroke="#80aa4c" stroke-width="2" stroke-linejoin="round"/>
<polygon points="" stroke="#80aa4c" stroke-width="2" stroke-linejoin="round"/>
<polygon points="" stroke="#80aa4c" stroke-width="2" stroke-linejoin="round"/>
<polygon points="" stroke="#80aa4c" stroke-width="2" stroke-linejoin="round"/>
</g>
<g fill="#80aa4c">
<circle cx="695.6" cy="466.4" r="2.15"/>
<circle cx="695.6" cy="466.5" r="2.15"/>
<circle cx="685.0" cy="466.8" r="2.15"/>
<circle cx="759.7" cy="466.3" r="2.15"/>
<circle cx="838.4" cy="466.0" r="2.15"/>
<circle cx="801.7" cy="466.1" r="2.15"/>
<circle cx="821.7" cy="466.3" r="2.15"/>
<circle cx="801.7" cy="466.4" r="2.15"/>
<circle cx="810.5" cy="466.4" r="2.15"/>
<circle cx="810.5" cy="466.4" r="2.15"/>
<circle cx="821.4" cy="466.4" r="2.15"/>
<circle cx="821.7" cy="466.4" r="2.15"/>
<circle cx="830.1" cy="466.4" r="2.15"/>
<circle cx="830.1" cy="466.4" r="2.15"/>
<circle cx="838.4" cy="466.4" r="2.15"/>
<circle cx="810.2" cy="466.5" r="2.15"/>
<circle cx="816.5" cy="466.5" r="2.15"/>
<circle cx="821.4" cy="466.5" r="2.15"/>
<circle cx="821.4" cy="466.5" r="2.15"/>
<circle cx="821.4" cy="466.5" r="2.15"/>
<circle cx="830.1" cy="466.5" r="2.15"/>
<circle cx="830.1" cy="466.5" r="2.15"/>
<circle cx="816.1" cy="466.5" r="2.15"/>
<circle cx="830.3" cy="466.6" r="2.15"/>
<circle cx="833.1" cy="466.6" r="2.15"/>
<circle cx="838.6" cy="466.6" r="2.15"/>
<circle cx="832.5" cy="466.7" r="2.15"/>
<circle cx="838.6" cy="466.7" r="2.15"/>
<circle cx="830.3" cy="466.7" r="2.15"/>
<circle cx="832.5" cy="466.8" r="2.15"/>
<circle cx="829.9" cy="466.8" r="2.15"/>
<circle cx="831.2" cy="466.8" r="2.15"/>
<circle cx="833.1" cy="466.8" r="2.15"/>
<circle cx="838.6" cy="466.9" r="2.15"/>
<circle cx="869.1" cy="466.8" r="2.15"/>
<circle cx="889.0" cy="466.9" r="2.15"/>
<circle cx="807.6" cy="466.6" r="2.15"/>
<circle cx="809.2" cy="466.6" r="2.15"/>
<circle cx="807.6" cy="466.6" r="2.15"/>
<circle cx="810.2" cy="466.6" r="2.15"/>
<circle cx="808.3" cy="466.6" r="2.15"/>
<circle cx="810.2" cy="466.7" r="2.15"/>
<circle cx="808.3" cy="466.7" r="2.15"/>
<circle cx="809.6" cy="466.7" r="2.15"/>
<circle cx="810.2" cy="466.7" r="2.15"/>
<circle cx="808.9" cy="466.8" r="2.15"/>
<circle cx="810.9" cy="466.8" r="2.15"/>
<circle cx="808.3" cy="466.8" r="2.15"/>
<circle cx="810.2" cy="466.8" r="2.15"/>
<circle cx="808.9" cy="466.9" r="2.15"/>
<circle cx="810.9" cy="466.9" r="2.15"/>
<circle cx="816.1" cy="466.6" r="2.15"/>
<circle cx="816.1" cy="466.6" r="2.15"/>
<circle cx="816.1" cy="466.6" r="2.15"/>
<circle cx="816.5" cy="466.8" r="2.15"/>
<circle cx="816.5" cy="466.8" r="2.15"/>
<circle cx="818.7" cy="466.9" r="2.15"/>
<circle cx="822.0" cy="466.6" r="2.15"/>
<circle cx="822.0" cy="466.6" r="2.15"/>
<circle cx="821.4" cy="466.7" r="2.15"/>
<circle cx="822.0" cy="466.7" r="2.15"/>
<circle cx="822.0" cy="466.7" r="2.15"/>
<circle cx="822.0" cy="466.7" r="2.15"/>
<circle cx="821.4" cy="466.8" r="2.15"/>
<circle cx="821.7" cy="466.8" r="2.15"/>
<circle cx="685.0" cy="467.1" r="2.15"/>
<circle cx="696.1" cy="467.1" r="2.15"/>
<circle cx="665.5" cy="467.2" r="2.15"/>
<circle cx="701.5" cy="467.2" r="2.15"/>
<circle cx="701.7" cy="467.3" r="2.15"/>
<circle cx="701.3" cy="467.4" r="2.15"/>
<circle cx="732.5" cy="467.4" r="2.15"/>
<circle cx="751.9" cy="467.0" r="2.15"/>
<circle cx="759.7" cy="467.1" r="2.15"/>
<circle cx="685.0" cy="467.7" r="2.15"/>
<circle cx="685.0" cy="467.7" r="2.15"/>
<circle cx="763.4" cy="466.9" r="2.15"/>
<circle cx="808.3" cy="466.9" r="2.15"/>
<circle cx="807.6" cy="467.0" r="2.15"/>
<circle cx="816.1" cy="466.9" r="2.15"/>
<circle cx="818.7" cy="466.9" r="2.15"/>
<circle cx="821.4" cy="466.9" r="2.15"/>
<circle cx="832.5" cy="466.9" r="2.15"/>
<circle cx="831.2" cy="466.9" r="2.15"/>
<circle cx="833.1" cy="466.9" r="2.15"/>
<circle cx="816.1" cy="467.0" r="2.15"/>
<circle cx="818.7" cy="467.0" r="2.15"/>
<circle cx="822.0" cy="467.0" r="2.15"/>
<circle cx="816.1" cy="467.0" r="2.15"/>
<circle cx="818.7" cy="467.0" r="2.15"/>
<circle cx="818.1" cy="467.0" r="2.15"/>
<circle cx="818.7" cy="467.1" r="2.15"/>
<circle cx="816.8" cy="467.1" r="2.15"/>
<circle cx="819.4" cy="467.1" r="2.15"/>
<circle cx="831.2" cy="467.0" r="2.15"/>
<circle cx="833.1" cy="467.0" r="2.15"/>
<circle cx="838.8" cy="467.0" r="2.15"/>
<circle cx="838.8" cy="467.0" r="2.15"/>
<circle cx="838.8" cy="467.1" r="2.15"/>
<circle cx="838.4" cy="467.1" r="2.15"/>
<circle cx="831.2" cy="467.1" r="2.15"/>
<circle cx="833.1" cy="467.1" r="2.15"/>
<circle cx="799.8" cy="467.1" r="2.15"/>
<circle cx="799.8" cy="467.1" r="2.15"/>
<circle cx="801.7" cy="467.1" r="2.15"/>
<circle cx="799.1" cy="467.2" r="2.15"/>
<circle cx="799.8" cy="467.2" r="2.15"/>
<circle cx="799.8" cy="467.3" r="2.15"/>
<circle cx="805.4" cy="467.2" r="2.15"/>
<circle cx="819.1" cy="467.2" r="2.15"/>
<circle cx="822.0" cy="467.3" r="2.15"/>
<circle cx="829.9" cy="467.2" r="2.15"/>
<circle cx="833.1" cy="467.2" r="2.15"/>
<circle cx="829.9" cy="467.2" r="2.15"/>
<circle cx="841.6" cy="467.2" r="2.15"/>
<circle cx="838.6" cy="467.2" r="2.15"/>
<circle cx="829.9" cy="467.3" r="2.15"/>
<circle cx="838.8" cy="467.3" r="2.15"/>
<circle cx="841.6" cy="467.4" r="2.15"/>
<circle cx="822.0" cy="467.4" r="2.15"/>
<circle cx="819.1" cy="467.4" r="2.15"/>
<circle cx="830.5" cy="467.4" r="2.15"/>
<circle cx="799.4" cy="467.4" r="2.15"/>
<circle cx="799.4" cy="467.4" r="2.15"/>
<circle cx="799.1" cy="467.4" r="2.15"/>
<circle cx="799.1" cy="467.4" r="2.15"/>
<circle cx="832.5" cy="467.5" r="2.15"/>
<circle cx="844.3" cy="467.5" r="2.15"/>
<circle cx="841.0" cy="467.5" r="2.15"/>
<circle cx="842.3" cy="467.5" r="2.15"/>
<circle cx="833.1" cy="467.5" r="2.15"/>
<circle cx="833.1" cy="467.6" r="2.15"/>
<circle cx="844.3" cy="467.6" r="2.15"/>
<circle cx="846.9" cy="467.6" r="2.15"/>
<circle cx="844.3" cy="467.6" r="2.15"/>
<circle cx="838.4" cy="467.6" r="2.15"/>
<circle cx="844.3" cy="467.6" r="2.15"/>
<circle cx="799.1" cy="467.6" r="2.15"/>
<circle cx="799.5" cy="467.6" r="2.15"/>
<circle cx="799.5" cy="467.6" r="2.15"/>
<circle cx="763.4" cy="467.5" r="2.15"/>
<circle cx="830.5" cy="467.7" r="2.15"/>
<circle cx="829.9" cy="467.8" r="2.15"/>
<circle cx="846.6" cy="467.7" r="2.15"/>
<circle cx="842.3" cy="467.7" r="2.15"/>
<circle cx="849.5" cy="467.7" r="2.15"/>
<circle cx="848.2" cy="467.8" r="2.15"/>
<circle cx="849.5" cy="467.8" r="2.15"/>
<circle cx="841.0" cy="467.8" r="2.15"/>
<circle cx="849.5" cy="467.8" r="2.15"/>
<circle cx="796.5" cy="467.8" r="2.15"/>
<circle cx="805.4" cy="467.8" r="2.15"/>
<circle cx="930.9" cy="467.7" r="2.15"/>
<circle cx="674.3" cy="467.9" r="2.15"/>
<circle cx="674.3" cy="468.0" r="2.15"/>
<circle cx="665.5" cy="468.0" r="2.15"/>
<circle cx="665.1" cy="468.0" r="2.15"/>
<circle cx="673.6" cy="468.1" r="2.15"/>
<circle cx="676.2" cy="468.0" r="2.15"/>
<circle cx="685.1" cy="468.1" r="2.15"/>
<circle cx="695.9" cy="468.1" r="2.15"/>
<circle cx="695.9" cy="468.1" r="2.15"/>
<circle cx="701.3" cy="468.2" r="2.15"/>
<circle cx="731.8" cy="468.0" r="2.15"/>
<circle cx="731.8" cy="468.0" r="2.15"/>
<circle cx="741.0" cy="468.0" r="2.15"/>
<circle cx="751.9" cy="468.0" r="2.15"/>
<circle cx="755.4" cy="467.9" r="2.15"/>
<circle cx="758.0" cy="467.9" r="2.15"/>
<circle cx="752.4" cy="468.1" r="2.15"/>
<circle cx="755.4" cy="468.0" r="2.15"/>
<circle cx="759.3" cy="468.1" r="2.15"/>
<circle cx="752.4" cy="468.2" r="2.15"/>
<circle cx="757.4" cy="468.2" r="2.15"/>
<circle cx="758.0" cy="468.2" r="2.15"/>
<circle cx="746.6" cy="468.3" r="2.15"/>
<circle cx="754.7" cy="468.3" r="2.15"/>
<circle cx="759.3" cy="468.3" r="2.15"/>
<circle cx="752.1" cy="468.3" r="2.15"/>
<circle cx="755.4" cy="468.3" r="2.15"/>
<circle cx="755.4" cy="468.4" r="2.15"/>
<circle cx="755.4" cy="468.4" r="2.15"/>
<circle cx="746.6" cy="468.4" r="2.15"/>
<circle cx="741.0" cy="468.4" r="2.15"/>
<circle cx="665.5" cy="468.3" r="2.15"/>
<circle cx="674.3" cy="468.3" r="2.15"/>
<circle cx="676.2" cy="468.4" r="2.15"/>
<circle cx="695.9" cy="468.4" r="2.15"/>
<circle cx="693.9" cy="468.4" r="2.15"/>
<circle cx="665.4" cy="468.4" r="2.15"/>
<circle cx="674.3" cy="468.4" r="2.15"/>
<circle cx="674.9" cy="468.5" r="2.15"/>
<circle cx="676.9" cy="468.5" r="2.15"/>
<circle cx="665.5" cy="468.5" r="2.15"/>
<circle cx="695.9" cy="468.5" r="2.15"/>
<circle cx="684.7" cy="468.5" r="2.15"/>
<circle cx="701.3" cy="468.5" r="2.15"/>
<circle cx="674.3" cy="468.5" r="2.15"/>
<circle cx="676.9" cy="468.5" r="2.15"/>
<circle cx="665.4" cy="468.6" r="2.15"/>
<circle cx="665.1" cy="468.6" r="2.15"/>
<circle cx="724.0" cy="468.5" r="2.15"/>
<circle cx="732.2" cy="468.5" r="2.15"/>
<circle cx="651.4" cy="468.6" r="2.15"/>
<circle cx="671.2" cy="468.6" r="2.15"/>
<circle cx="676.2" cy="468.6" r="2.15"/>
<circle cx="679.5" cy="468.6" r="2.15"/>
<circle cx="681.5" cy="468.6" r="2.15"/>
<circle cx="682.8" cy="468.6" r="2.15"/>
<circle cx="695.9" cy="468.7" r="2.15"/>
<circle cx="701.3" cy="468.7" r="2.15"/>
<circle cx="663.1" cy="468.7" r="2.15"/>
<circle cx="671.2" cy="468.7" r="2.15"/>
<circle cx="677.5" cy="468.7" r="2.15"/>
<circle cx="681.5" cy="468.7" r="2.15"/>
<circle cx="684.1" cy="468.7" r="2.15"/>
<circle cx="684.7" cy="468.7" r="2.15"/>
<circle cx="654.4" cy="468.7" r="2.15"/>
<circle cx="665.8" cy="468.8" r="2.15"/>
<circle cx="674.9" cy="468.7" r="2.15"/>
<circle cx="678.2" cy="468.7" r="2.15"/>
<circle cx="679.9" cy="468.8" r="2.15"/>
<circle cx="693.2" cy="468.8" r="2.15"/>
<circle cx="701.7" cy="468.8" r="2.15"/>
<circle cx="635.0" cy="468.5" r="2.15"/>
<circle cx="640.0" cy="468.5" r="2.15"/>
<circle cx="755.4" cy="468.5" r="2.15"/>
<circle cx="756.0" cy="468.5" r="2.15"/>
<circle cx="754.7" cy="468.5" r="2.15"/>
<circle cx="758.7" cy="468.6" r="2.15"/>
<circle cx="756.7" cy="468.7" r="2.15"/>
<circle cx="755.4" cy="468.7" r="2.15"/>
<circle cx="755.4" cy="468.7" r="2.15"/>
<circle cx="760.0" cy="468.8" r="2.15"/>
<circle cx="737.7" cy="468.5" r="2.15"/>
<circle cx="735.1" cy="468.5" r="2.15"/>
<circle cx="732.5" cy="468.5" r="2.15"/>
<circle cx="741.7" cy="468.5" r="2.15"/>
<circle cx="744.3" cy="468.5" r="2.15"/>
<circle cx="746.2" cy="468.5" r="2.15"/>
<circle cx="746.9" cy="468.5" r="2.15"/>
<circle cx="744.3" cy="468.5" r="2.15"/>
<circle cx="740.3" cy="468.5" r="2.15"/>
<circle cx="736.4" cy="468.5" r="2.15"/>
<circle cx="762.5" cy="468.1" r="2.15"/>
<circle cx="763.1" cy="468.1" r="2.15"/>
<circle cx="765.7" cy="468.1" r="2.15"/>
<circle cx="768.4" cy="468.1" r="2.15"/>
<circle cx="763.1" cy="468.2" r="2.15"/>
<circle cx="765.7" cy="468.2" r="2.15"/>
<circle cx="762.5" cy="468.2" r="2.15"/>
<circle cx="765.7" cy="468.2" r="2.15"/>
<circle cx="763.1" cy="468.2" r="2.15"/>
<circle cx="765.7" cy="468.2" r="2.15"/>
<circle cx="762.5" cy="468.3" r="2.15"/>
<circle cx="764.4" cy="468.3" r="2.15"/>
<circle cx="762.5" cy="468.3" r="2.15"/>
<circle cx="765.1" cy="468.3" r="2.15"/>
<circle cx="763.1" cy="468.4" r="2.15"/>
<circle cx="767.7" cy="468.4" r="2.15"/>
<circle cx="763.8" cy="468.4" r="2.15"/>
<circle cx="765.7" cy="468.4" r="2.15"/>
<circle cx="763.1" cy="468.4" r="2.15"/>
<circle cx="768.4" cy="468.5" r="2.15"/>
<circle cx="761.2" cy="468.5" r="2.15"/>
<circle cx="761.2" cy="468.5" r="2.15"/>
<circle cx="766.4" cy="468.6" r="2.15"/>
<circle cx="761.2" cy="468.6" r="2.15"/>
<circle cx="761.2" cy="468.6" r="2.15"/>
<circle cx="763.1" cy="468.7" r="2.15"/>
<circle cx="766.4" cy="468.7" r="2.15"/>
<circle cx="761.2" cy="468.7" r="2.15"/>
<circle cx="766.1" cy="467.9" r="2.15"/>
<circle cx="796.9" cy="467.8" r="2.15"/>
<circle cx="796.9" cy="467.9" r="2.15"/>
<circle cx="796.9" cy="468.0" r="2.15"/>
<circle cx="796.9" cy="468.0" r="2.15"/>
<circle cx="796.9" cy="468.0" r="2.15"/>
<circle cx="796.9" cy="468.1" r="2.15"/>
<circle cx="799.5" cy="468.2" r="2.15"/>
<circle cx="796.9" cy="468.2" r="2.15"/>
<circle cx="799.1" cy="468.3" r="2.15"/>
<circle cx="819.4" cy="468.3" r="2.15"/>
<circle cx="819.4" cy="468.4" r="2.15"/>
<circle cx="830.5" cy="468.5" r="2.15"/>
<circle cx="819.4" cy="468.6" r="2.15"/>
<circle cx="805.3" cy="468.6" r="2.15"/>
<circle cx="805.3" cy="468.8" r="2.15"/>
<circle cx="830.5" cy="468.2" r="2.15"/>
<circle cx="841.4" cy="468.2" r="2.15"/>
<circle cx="841.4" cy="468.4" r="2.15"/>
<circle cx="841.6" cy="467.9" r="2.15"/>
<circle cx="844.3" cy="467.9" r="2.15"/>
<circle cx="841.6" cy="467.9" r="2.15"/>
<circle cx="849.5" cy="467.9" r="2.15"/>
<circle cx="842.3" cy="467.9" r="2.15"/>
<circle cx="845.6" cy="467.9" r="2.15"/>
<circle cx="852.1" cy="467.9" r="2.15"/>
<circle cx="855.4" cy="468.0" r="2.15"/>
<circle cx="854.7" cy="468.0" r="2.15"/>
<circle cx="855.4" cy="468.0" r="2.15"/>
<circle cx="841.6" cy="468.0" r="2.15"/>
<circle cx="841.4" cy="468.0" r="2.15"/>
<circle cx="847.5" cy="468.0" r="2.15"/>
<circle cx="852.1" cy="468.1" r="2.15"/>
<circle cx="856.0" cy="468.1" r="2.15"/>
<circle cx="857.3" cy="468.1" r="2.15"/>
<circle cx="858.0" cy="468.1" r="2.15"/>
<circle cx="846.9" cy="468.1" r="2.15"/>
<circle cx="848.2" cy="468.1" r="2.15"/>
<circle cx="850.8" cy="468.1" r="2.15"/>
<circle cx="858.0" cy="468.1" r="2.15"/>
<circle cx="860.0" cy="468.2" r="2.15"/>
<circle cx="847.5" cy="468.2" r="2.15"/>
<circle cx="847.5" cy="468.2" r="2.15"/>
<circle cx="847.5" cy="468.2" r="2.15"/>
<circle cx="852.8" cy="468.2" r="2.15"/>
<circle cx="860.0" cy="468.2" r="2.15"/>
<circle cx="853.4" cy="468.3" r="2.15"/>
<circle cx="852.8" cy="468.3" r="2.15"/>
<circle cx="861.3" cy="468.3" r="2.15"/>
<circle cx="852.1" cy="468.3" r="2.15"/>
<circle cx="854.7" cy="468.3" r="2.15"/>
<circle cx="852.1" cy="468.4" r="2.15"/>
<circle cx="856.0" cy="468.4" r="2.15"/>
<circle cx="852.8" cy="468.4" r="2.15"/>
<circle cx="852.1" cy="468.4" r="2.15"/>
<circle cx="857.3" cy="468.4" r="2.15"/>
<circle cx="858.6" cy="468.4" r="2.15"/>
<circle cx="857.3" cy="468.5" r="2.15"/>
<circle cx="861.3" cy="468.4" r="2.15"/>
<circle cx="852.8" cy="468.5" r="2.15"/>
<circle cx="855.4" cy="468.5" r="2.15"/>
<circle cx="860.0" cy="468.5" r="2.15"/>
<circle cx="846.9" cy="468.3" r="2.15"/>
<circle cx="866.5" cy="468.2" r="2.15"/>
<circle cx="869.1" cy="468.1" r="2.15"/>
<circle cx="875.7" cy="468.2" r="2.15"/>
<circle cx="878.3" cy="468.2" r="2.15"/>
<circle cx="866.5" cy="468.3" r="2.15"/>
<circle cx="880.6" cy="468.3" r="2.15"/>
<circle cx="880.6" cy="468.4" r="2.15"/>
<circle cx="875.0" cy="468.4" r="2.15"/>
<circle cx="867.2" cy="468.4" r="2.15"/>
<circle cx="867.2" cy="468.4" r="2.15"/>
<circle cx="888.7" cy="468.4" r="2.15"/>
<circle cx="888.7" cy="468.5" r="2.15"/>
<circle cx="880.6" cy="468.5" r="2.15"/>
<circle cx="875.0" cy="468.5" r="2.15"/>
<circle cx="878.3" cy="468.5" r="2.15"/>
<circle cx="880.9" cy="468.5" r="2.15"/>
<circle cx="875.7" cy="468.6" r="2.15"/>
<circle cx="880.2" cy="468.6" r="2.15"/>
<circle cx="875.7" cy="468.6" r="2.15"/>
<circle cx="866.5" cy="468.6" r="2.15"/>
<circle cx="858.6" cy="468.6" r="2.15"/>
<circle cx="861.3" cy="468.6" r="2.15"/>
<circle cx="866.5" cy="468.6" r="2.15"/>
<circle cx="875.7" cy="468.7" r="2.15"/>
<circle cx="880.6" cy="468.7" r="2.15"/>
<circle cx="869.1" cy="468.7" r="2.15"/>
<circle cx="865.8" cy="468.7" r="2.15"/>
<circle cx="861.3" cy="468.7" r="2.15"/>
<circle cx="874.4" cy="468.7" r="2.15"/>
<circle cx="877.0" cy="468.7" r="2.15"/>
<circle cx="866.5" cy="468.8" r="2.15"/>
<circle cx="893.3" cy="468.7" r="2.15"/>
<circle cx="892.7" cy="468.8" r="2.15"/>
<circle cx="902.8" cy="467.9" r="2.15"/>
<circle cx="902.8" cy="468.2" r="2.15"/>
<circle cx="944.6" cy="468.2" r="2.15"/>
<circle cx="944.6" cy="468.2" r="2.15"/>
<circle cx="939.3" cy="468.3" r="2.15"/>
<circle cx="961.5" cy="468.5" r="2.15"/>
<circle cx="964.5" cy="468.5" r="2.15"/>
<circle cx="939.3" cy="468.5" r="2.15"/>
<circle cx="961.5" cy="468.6" r="2.15"/>
<circle cx="905.6" cy="468.6" r="2.15"/>
<circle cx="905.6" cy="468.7" r="2.15"/>
<circle cx="944.9" cy="468.6" r="2.15"/>
<circle cx="941.9" cy="468.7" r="2.15"/>
<circle cx="939.3" cy="468.7" r="2.15"/>
<circle cx="961.5" cy="468.7" r="2.15"/>
<circle cx="922.3" cy="468.7" r="2.15"/>
<circle cx="930.8" cy="468.8" r="2.15"/>
<circle cx="939.3" cy="468.8" r="2.15"/>
<circle cx="964.5" cy="468.8" r="2.15"/>
<circle cx="961.2" cy="468.8" r="2.15"/>
<circle cx="651.4" cy="468.6" r="2.15"/>
<circle cx="696.0" cy="468.7" r="2.15"/>
<circle cx="701.6" cy="468.7" r="2.15"/>
<circle cx="677.2" cy="468.7" r="2.15"/>
<circle cx="680.5" cy="468.7" r="2.15"/>
<circle cx="684.6" cy="468.7" r="2.15"/>
<circle cx="685.0" cy="468.7" r="2.15"/>
<circle cx="671.3" cy="468.7" r="2.15"/>
<circle cx="663.1" cy="468.7" r="2.15"/>
<circle cx="654.5" cy="468.7" r="2.15"/>
<circle cx="692.9" cy="468.8" r="2.15"/>
<circle cx="701.6" cy="468.8" r="2.15"/>
<circle cx="654.3" cy="468.9" r="2.15"/>
<circle cx="666.6" cy="468.7" r="2.15"/>
<circle cx="668.2" cy="468.8" r="2.15"/>
<circle cx="639.6" cy="468.9" r="2.15"/>
<circle cx="642.0" cy="468.9" r="2.15"/>
<circle cx="633.9" cy="468.9" r="2.15"/>
<circle cx="636.3" cy="468.9" r="2.15"/>
<circle cx="642.8" cy="468.9" r="2.15"/>
<circle cx="660.8" cy="468.8" r="2.15"/>
<circle cx="678.8" cy="468.7" r="2.15"/>
<circle cx="701.4" cy="468.7" r="2.15"/>
<circle cx="701.8" cy="468.8" r="2.15"/>
<circle cx="712.9" cy="468.8" r="2.15"/>
<circle cx="712.9" cy="468.8" r="2.15"/>
<circle cx="757.0" cy="468.6" r="2.15"/>
<circle cx="760.3" cy="468.6" r="2.15"/>
<circle cx="763.6" cy="468.7" r="2.15"/>
<circle cx="766.4" cy="468.7" r="2.15"/>
<circle cx="755.0" cy="468.7" r="2.15"/>
<circle cx="755.0" cy="468.7" r="2.15"/>
<circle cx="760.7" cy="468.7" r="2.15"/>
<circle cx="760.3" cy="468.8" r="2.15"/>
<circle cx="754.6" cy="468.8" r="2.15"/>
<circle cx="755.4" cy="468.8" r="2.15"/>
<circle cx="755.0" cy="468.8" r="2.15"/>
<circle cx="757.8" cy="468.9" r="2.15"/>
<circle cx="757.8" cy="468.9" r="2.15"/>
<circle cx="755.0" cy="469.0" r="2.15"/>
<circle cx="754.6" cy="469.0" r="2.15"/>
<circle cx="757.0" cy="469.1" r="2.15"/>
<circle cx="760.7" cy="469.1" r="2.15"/>
<circle cx="768.9" cy="469.1" r="2.15"/>
<circle cx="746.4" cy="468.9" r="2.15"/>
<circle cx="740.7" cy="468.9" r="2.15"/>
<circle cx="743.9" cy="469.0" r="2.15"/>
<circle cx="739.0" cy="469.0" r="2.15"/>
<circle cx="746.8" cy="469.0" r="2.15"/>
<circle cx="746.8" cy="469.0" r="2.15"/>
<circle cx="735.4" cy="469.0" r="2.15"/>
<circle cx="741.1" cy="469.0" r="2.15"/>
<circle cx="741.1" cy="469.1" r="2.15"/>
<circle cx="718.6" cy="469.1" r="2.15"/>
<circle cx="720.2" cy="468.7" r="2.15"/>
<circle cx="722.7" cy="468.6" r="2.15"/>
<circle cx="761.2" cy="468.6" r="2.15"/>
<circle cx="763.4" cy="468.7" r="2.15"/>
<circle cx="766.4" cy="468.7" r="2.15"/>
<circle cx="761.2" cy="468.8" r="2.15"/>
<circle cx="761.2" cy="468.8" r="2.15"/>
<circle cx="805.4" cy="468.6" r="2.15"/>
<circle cx="805.4" cy="468.8" r="2.15"/>
<circle cx="761.2" cy="469.1" r="2.15"/>
<circle cx="768.6" cy="469.1" r="2.15"/>
<circle cx="861.3" cy="468.7" r="2.15"/>
<circle cx="866.5" cy="468.7" r="2.15"/>
<circle cx="869.1" cy="468.7" r="2.15"/>
<circle cx="866.5" cy="468.7" r="2.15"/>
<circle cx="866.5" cy="468.7" r="2.15"/>
<circle cx="866.5" cy="468.8" r="2.15"/>
<circle cx="866.5" cy="468.8" r="2.15"/>
<circle cx="869.1" cy="468.8" r="2.15"/>
<circle cx="866.5" cy="468.8" r="2.15"/>
<circle cx="866.5" cy="468.9" r="2.15"/>
<circle cx="866.5" cy="469.0" r="2.15"/>
<circle cx="858.4" cy="468.9" r="2.15"/>
<circle cx="861.3" cy="469.0" r="2.15"/>
<circle cx="866.5" cy="469.0" r="2.15"/>
<circle cx="875.7" cy="468.7" r="2.15"/>
<circle cx="878.9" cy="468.7" r="2.15"/>
<circle cx="880.9" cy="468.7" r="2.15"/>
<circle cx="875.0" cy="468.7" r="2.15"/>
<circle cx="875.7" cy="468.7" r="2.15"/>
<circle cx="878.3" cy="468.7" r="2.15"/>
<circle cx="875.7" cy="468.8" r="2.15"/>
<circle cx="878.3" cy="468.8" r="2.15"/>
<circle cx="880.2" cy="468.8" r="2.15"/>
<circle cx="875.0" cy="468.8" r="2.15"/>
<circle cx="875.0" cy="468.9" r="2.15"/>
<circle cx="880.2" cy="468.9" r="2.15"/>
<circle cx="875.7" cy="468.9" r="2.15"/>
<circle cx="880.9" cy="468.9" r="2.15"/>
<circle cx="877.6" cy="469.0" r="2.15"/>
<circle cx="888.7" cy="468.8" r="2.15"/>
<circle cx="893.3" cy="468.8" r="2.15"/>
<circle cx="888.7" cy="468.9" r="2.15"/>
<circle cx="893.3" cy="468.9" r="2.15"/>
<circle cx="888.7" cy="469.0" r="2.15"/>
<circle cx="893.3" cy="469.0" r="2.15"/>
<circle cx="893.3" cy="469.1" r="2.15"/>
<circle cx="893.3" cy="468.7" r="2.15"/>
<circle cx="905.7" cy="468.6" r="2.15"/>
<circle cx="905.7" cy="468.7" r="2.15"/>
<circle cx="895.0" cy="468.7" r="2.15"/>
<circle cx="895.0" cy="468.8" r="2.15"/>
<circle cx="895.0" cy="468.8" r="2.15"/>
<circle cx="895.0" cy="468.9" r="2.15"/>
<circle cx="903.0" cy="468.8" r="2.15"/>
<circle cx="922.2" cy="468.7" r="2.15"/>
<circle cx="930.7" cy="468.8" r="2.15"/>
<circle cx="939.2" cy="468.7" r="2.15"/>
<circle cx="941.8" cy="468.7" r="2.15"/>
<circle cx="944.5" cy="468.6" r="2.15"/>
<circle cx="939.2" cy="468.8" r="2.15"/>
<circle cx="928.0" cy="468.8" r="2.15"/>
<circle cx="922.2" cy="468.8" r="2.15"/>
<circle cx="925.3" cy="468.8" r="2.15"/>
<circle cx="922.7" cy="468.9" r="2.15"/>
<circle cx="925.3" cy="468.9" r="2.15"/>
<circle cx="922.7" cy="468.9" r="2.15"/>
<circle cx="942.4" cy="468.9" r="2.15"/>
<circle cx="944.5" cy="468.9" r="2.15"/>
<circle cx="945.0" cy="468.9" r="2.15"/>
<circle cx="942.4" cy="468.9" r="2.15"/>
<circle cx="928.0" cy="468.9" r="2.15"/>
<circle cx="926.4" cy="468.9" r="2.15"/>
<circle cx="928.5" cy="468.9" r="2.15"/>
<circle cx="925.3" cy="469.0" r="2.15"/>
<circle cx="924.8" cy="469.0" r="2.15"/>
<circle cx="919.5" cy="469.0" r="2.15"/>
<circle cx="933.3" cy="468.9" r="2.15"/>
<circle cx="939.2" cy="469.0" r="2.15"/>
<circle cx="942.4" cy="469.0" r="2.15"/>
<circle cx="931.2" cy="469.0" r="2.15"/>
<circle cx="933.8" cy="469.0" r="2.15"/>
<circle cx="942.4" cy="469.0" r="2.15"/>
<circle cx="944.5" cy="469.0" r="2.15"/>
<circle cx="919.5" cy="469.0" r="2.15"/>
<circle cx="922.2" cy="469.1" r="2.15"/>
<circle cx="926.4" cy="469.1" r="2.15"/>
<circle cx="927.5" cy="469.1" r="2.15"/>
<circle cx="913.6" cy="469.1" r="2.15"/>
<circle cx="919.5" cy="469.1" r="2.15"/>
<circle cx="925.3" cy="469.1" r="2.15"/>
<circle cx="905.7" cy="469.0" r="2.15"/>
<circle cx="895.0" cy="469.0" r="2.15"/>
<circle cx="895.0" cy="469.0" r="2.15"/>
<circle cx="895.0" cy="469.1" r="2.15"/>
<circle cx="961.5" cy="468.7" r="2.15"/>
<circle cx="961.5" cy="468.8" r="2.15"/>
<circle cx="964.7" cy="468.8" r="2.15"/>
<circle cx="961.5" cy="468.9" r="2.15"/>
<circle cx="962.0" cy="469.0" r="2.15"/>
<circle cx="964.7" cy="469.0" r="2.15"/>
<circle cx="975.3" cy="468.9" r="2.15"/>
<circle cx="975.3" cy="468.9" r="2.15"/>
<circle cx="973.2" cy="469.0" r="2.15"/>
<circle cx="978.5" cy="469.0" r="2.15"/>
<circle cx="973.2" cy="469.0" r="2.15"/>
<circle cx="978.5" cy="469.0" r="2.15"/>
<circle cx="975.3" cy="469.1" r="2.15"/>
<circle cx="978.0" cy="469.1" r="2.15"/>
<circle cx="975.3" cy="469.1" r="2.15"/>
<circle cx="701.3" cy="468.2" r="2.15"/>
<circle cx="695.8" cy="468.4" r="2.15"/>
<circle cx="694.5" cy="468.4" r="2.15"/>
<circle cx="696.1" cy="468.5" r="2.15"/>
<circle cx="701.3" cy="468.5" r="2.15"/>
<circle cx="723.9" cy="468.5" r="2.15"/>
<circle cx="732.1" cy="468.5" r="2.15"/>
<circle cx="718.4" cy="468.6" r="2.15"/>
<circle cx="723.6" cy="468.6" r="2.15"/>
<circle cx="728.8" cy="468.6" r="2.15"/>
<circle cx="746.5" cy="468.3" r="2.15"/>
<circle cx="752.1" cy="468.2" r="2.15"/>
<circle cx="758.3" cy="468.2" r="2.15"/>
<circle cx="758.3" cy="468.2" r="2.15"/>
<circle cx="759.6" cy="468.3" r="2.15"/>
<circle cx="759.6" cy="468.3" r="2.15"/>
<circle cx="754.7" cy="468.3" r="2.15"/>
<circle cx="751.7" cy="468.3" r="2.15"/>
<circle cx="755.0" cy="468.3" r="2.15"/>
<circle cx="755.0" cy="468.4" r="2.15"/>
<circle cx="755.0" cy="468.4" r="2.15"/>
<circle cx="759.6" cy="468.4" r="2.15"/>
<circle cx="759.6" cy="468.4" r="2.15"/>
<circle cx="755.0" cy="468.4" r="2.15"/>
<circle cx="746.5" cy="468.4" r="2.15"/>
<circle cx="740.9" cy="468.4" r="2.15"/>
<circle cx="738.0" cy="468.5" r="2.15"/>
<circle cx="732.1" cy="468.5" r="2.15"/>
<circle cx="735.4" cy="468.5" r="2.15"/>
<circle cx="738.6" cy="468.5" r="2.15"/>
<circle cx="741.9" cy="468.5" r="2.15"/>
<circle cx="746.5" cy="468.5" r="2.15"/>
<circle cx="745.8" cy="468.5" r="2.15"/>
<circle cx="746.5" cy="468.5" r="2.15"/>
<circle cx="745.2" cy="468.5" r="2.15"/>
<circle cx="695.8" cy="468.7" r="2.15"/>
<circle cx="701.3" cy="468.7" r="2.15"/>
<circle cx="701.7" cy="468.8" r="2.15"/>
<circle cx="694.1" cy="468.8" r="2.15"/>
<circle cx="712.8" cy="468.8" r="2.15"/>
<circle cx="712.8" cy="468.8" r="2.15"/>
<circle cx="754.7" cy="468.7" r="2.15"/>
<circle cx="754.7" cy="468.8" r="2.15"/>
<circle cx="754.7" cy="468.8" r="2.15"/>
<circle cx="754.7" cy="468.8" r="2.15"/>
<circle cx="757.6" cy="468.9" r="2.15"/>
<circle cx="757.9" cy="468.9" r="2.15"/>
<circle cx="755.0" cy="469.0" r="2.15"/>
<circle cx="754.7" cy="469.0" r="2.15"/>
<circle cx="759.6" cy="468.7" r="2.15"/>
<circle cx="759.6" cy="468.8" r="2.15"/>
<circle cx="740.6" cy="468.9" r="2.15"/>
<circle cx="746.5" cy="468.9" r="2.15"/>
<circle cx="739.3" cy="469.0" r="2.15"/>
<circle cx="743.2" cy="469.0" r="2.15"/>
<circle cx="746.5" cy="469.0" r="2.15"/>
<circle cx="735.4" cy="469.0" r="2.15"/>
<circle cx="740.9" cy="469.0" r="2.15"/>
<circle cx="740.9" cy="469.1" r="2.15"/>
<circle cx="757.6" cy="469.1" r="2.15"/>
<circle cx="756.3" cy="468.7" r="2.15"/>
<circle cx="758.9" cy="468.7" r="2.15"/>
<circle cx="719.0" cy="469.1" r="2.15"/>
<circle cx="635.9" cy="469.0" r="2.15"/>
<circle cx="637.0" cy="469.0" r="2.15"/>
<circle cx="637.4" cy="469.0" r="2.15"/>
<circle cx="636.1" cy="469.0" r="2.15"/>
<circle cx="635.3" cy="469.0" r="2.15"/>
<circle cx="635.6" cy="469.1" r="2.15"/>
<circle cx="636.9" cy="469.1" r="2.15"/>
<circle cx="639.8" cy="469.1" r="2.15"/>
<circle cx="642.3" cy="469.1" r="2.15"/>
<circle cx="642.7" cy="469.0" r="2.15"/>
<circle cx="642.5" cy="469.0" r="2.15"/>
<circle cx="642.3" cy="469.0" r="2.15"/>
<circle cx="642.0" cy="469.0" r="2.15"/>
<circle cx="642.5" cy="469.0" r="2.15"/>
<circle cx="642.7" cy="468.9" r="2.15"/>
<circle cx="642.3" cy="468.9" r="2.15"/>
<circle cx="641.8" cy="468.9" r="2.15"/>
<circle cx="640.4" cy="468.9" r="2.15"/>
<circle cx="640.1" cy="468.9" r="2.15"/>
<circle cx="638.6" cy="468.9" r="2.15"/>
<circle cx="635.8" cy="468.9" r="2.15"/>
<circle cx="635.4" cy="468.9" r="2.15"/>
<circle cx="641.3" cy="468.9" r="2.15"/>
<circle cx="636.2" cy="468.9" r="2.15"/>
<circle cx="638.0" cy="468.9" r="2.15"/>
<circle cx="638.0" cy="468.9" r="2.15"/>
<circle cx="641.3" cy="469.0" r="2.15"/>
<circle cx="639.0" cy="469.0" r="2.15"/>
<circle cx="637.6" cy="469.0" r="2.15"/>
<circle cx="641.4" cy="469.0" r="2.15"/>
<circle cx="637.9" cy="469.0" r="2.15"/>
<circle cx="639.9" cy="469.0" r="2.15"/>
<circle cx="635.8" cy="469.0" r="2.15"/>
<circle cx="638.7" cy="469.0" r="2.15"/>
<circle cx="641.3" cy="469.0" r="2.15"/>
<circle cx="636.0" cy="469.1" r="2.15"/>
<circle cx="639.9" cy="469.1" r="2.15"/>
<circle cx="684.1" cy="469.0" r="2.15"/>
<circle cx="683.5" cy="468.9" r="2.15"/>
<circle cx="682.8" cy="468.9" r="2.15"/>
<circle cx="682.2" cy="468.9" r="2.15"/>
<circle cx="681.7" cy="468.9" r="2.15"/>
<circle cx="682.9" cy="468.9" r="2.15"/>
<circle cx="684.0" cy="468.8" r="2.15"/>
<circle cx="683.6" cy="468.8" r="2.15"/>
<circle cx="682.6" cy="468.8" r="2.15"/>
<circle cx="680.6" cy="468.8" r="2.15"/>
<circle cx="678.6" cy="468.8" r="2.15"/>
<circle cx="677.7" cy="468.8" r="2.15"/>
<circle cx="675.7" cy="468.8" r="2.15"/>
<circle cx="672.8" cy="468.8" r="2.15"/>
<circle cx="670.0" cy="468.8" r="2.15"/>
<circle cx="667.2" cy="468.8" r="2.15"/>
<circle cx="665.0" cy="468.8" r="2.15"/>
<circle cx="663.3" cy="468.8" r="2.15"/>
<circle cx="661.7" cy="468.8" r="2.15"/>
<circle cx="661.0" cy="468.8" r="2.15"/>
<circle cx="660.7" cy="468.8" r="2.15"/>
<circle cx="660.3" cy="468.9" r="2.15"/>
<circle cx="658.1" cy="468.9" r="2.15"/>
<circle cx="655.8" cy="468.9" r="2.15"/>
<circle cx="655.6" cy="468.9" r="2.15"/>
<circle cx="655.6" cy="468.9" r="2.15"/>
<circle cx="655.6" cy="468.9" r="2.15"/>
<circle cx="654.6" cy="469.0" r="2.15"/>
<circle cx="653.0" cy="469.0" r="2.15"/>
<circle cx="652.2" cy="469.0" r="2.15"/>
<circle cx="652.1" cy="469.0" r="2.15"/>
<circle cx="652.0" cy="469.0" r="2.15"/>
<circle cx="651.8" cy="469.1" r="2.15"/>
<circle cx="651.7" cy="469.1" r="2.15"/>
<circle cx="651.6" cy="469.1" r="2.15"/>
<circle cx="654.0" cy="469.1" r="2.15"/>
<circle cx="656.8" cy="469.1" r="2.15"/>
<circle cx="659.6" cy="469.1" r="2.15"/>
<circle cx="662.5" cy="469.1" r="2.15"/>
<circle cx="665.3" cy="469.1" r="2.15"/>
<circle cx="668.1" cy="469.1" r="2.15"/>
<circle cx="671.0" cy="469.1" r="2.15"/>
<circle cx="673.8" cy="469.1" r="2.15"/>
<circle cx="676.6" cy="469.1" r="2.15"/>
<circle cx="679.4" cy="469.1" r="2.15"/>
<circle cx="682.1" cy="469.1" r="2.15"/>
<circle cx="682.8" cy="469.1" r="2.15"/>
<circle cx="683.4" cy="469.1" r="2.15"/>
<circle cx="684.0" cy="469.0" r="2.15"/>
<circle cx="684.1" cy="469.0" r="2.15"/>
<circle cx="684.1" cy="469.0" r="2.15"/>
<circle cx="684.1" cy="469.0" r="2.15"/>
<circle cx="676.4" cy="468.8" r="2.15"/>
<circle cx="666.9" cy="468.8" r="2.15"/>
<circle cx="672.1" cy="468.8" r="2.15"/>
<circle cx="674.5" cy="468.8" r="2.15"/>
<circle cx="678.1" cy="468.8" r="2.15"/>
<circle cx="663.6" cy="468.8" r="2.15"/>
<circle cx="666.2" cy="468.8" r="2.15"/>
<circle cx="671.2" cy="468.8" r="2.15"/>
<circle cx="672.8" cy="468.8" r="2.15"/>
<circle cx="675.3" cy="468.8" r="2.15"/>
<circle cx="679.8" cy="468.8" r="2.15"/>
<circle cx="662.4" cy="468.8" r="2.15"/>
<circle cx="665.1" cy="468.8" r="2.15"/>
<circle cx="668.9" cy="468.8" r="2.15"/>
<circle cx="670.7" cy="468.8" r="2.15"/>
<circle cx="677.6" cy="468.8" r="2.15"/>
<circle cx="681.2" cy="468.8" r="2.15"/>
<circle cx="663.0" cy="468.8" r="2.15"/>
<circle cx="667.6" cy="468.8" r="2.15"/>
<circle cx="673.4" cy="468.8" r="2.15"/>
<circle cx="678.5" cy="468.8" r="2.15"/>
<circle cx="682.9" cy="468.8" r="2.15"/>
<circle cx="663.0" cy="468.9" r="2.15"/>
<circle cx="667.1" cy="468.8" r="2.15"/>
<circle cx="669.6" cy="468.8" r="2.15"/>
<circle cx="672.8" cy="468.8" r="2.15"/>
<circle cx="675.4" cy="468.8" r="2.15"/>
<circle cx="678.3" cy="468.8" r="2.15"/>
<circle cx="660.2" cy="468.9" r="2.15"/>
<circle cx="664.5" cy="468.9" r="2.15"/>
<circle cx="666.0" cy="468.9" r="2.15"/>
<circle cx="670.4" cy="468.9" r="2.15"/>
<circle cx="676.4" cy="468.9" r="2.15"/>
<circle cx="677.8" cy="468.9" r="2.15"/>
<circle cx="662.6" cy="468.9" r="2.15"/>
<circle cx="665.9" cy="468.9" r="2.15"/>
<circle cx="668.2" cy="468.9" r="2.15"/>
<circle cx="671.9" cy="468.9" r="2.15"/>
<circle cx="677.8" cy="468.9" r="2.15"/>
<circle cx="679.0" cy="468.9" r="2.15"/>
<circle cx="662.4" cy="468.9" r="2.15"/>
<circle cx="662.4" cy="468.9" r="2.15"/>
<circle cx="668.1" cy="468.9" r="2.15"/>
<circle cx="670.6" cy="468.9" r="2.15"/>
<circle cx="679.3" cy="468.9" r="2.15"/>
<circle cx="656.2" cy="468.9" r="2.15"/>
<circle cx="659.2" cy="468.9" r="2.15"/>
<circle cx="661.1" cy="468.9" r="2.15"/>
<circle cx="656.8" cy="469.0" r="2.15"/>
<circle cx="662.0" cy="469.0" r="2.15"/>
<circle cx="674.5" cy="468.9" r="2.15"/>
<circle cx="676.2" cy="468.9" r="2.15"/>
<circle cx="680.0" cy="468.9" r="2.15"/>
<circle cx="682.9" cy="468.9" r="2.15"/>
<circle cx="653.6" cy="469.0" r="2.15"/>
<circle cx="656.3" cy="468.9" r="2.15"/>
<circle cx="657.6" cy="469.0" r="2.15"/>
<circle cx="668.2" cy="469.0" r="2.15"/>
<circle cx="672.2" cy="469.0" r="2.15"/>
<circle cx="675.1" cy="469.0" r="2.15"/>
<circle cx="678.4" cy="469.0" r="2.15"/>
<circle cx="682.4" cy="469.0" r="2.15"/>
<circle cx="654.4" cy="469.0" r="2.15"/>
<circle cx="656.5" cy="469.0" r="2.15"/>
<circle cx="661.2" cy="469.0" r="2.15"/>
<circle cx="663.4" cy="469.0" r="2.15"/>
<circle cx="666.9" cy="469.0" r="2.15"/>
<circle cx="669.3" cy="469.0" r="2.15"/>
<circle cx="674.0" cy="469.0" r="2.15"/>
<circle cx="677.3" cy="469.0" r="2.15"/>
<circle cx="679.6" cy="469.0" r="2.15"/>
<circle cx="682.8" cy="469.0" r="2.15"/>
<circle cx="653.3" cy="469.0" r="2.15"/>
<circle cx="657.2" cy="469.0" r="2.15"/>
<circle cx="662.1" cy="469.0" r="2.15"/>
<circle cx="664.9" cy="469.0" r="2.15"/>
<circle cx="667.6" cy="469.0" r="2.15"/>
<circle cx="670.6" cy="469.0" r="2.15"/>
<circle cx="674.2" cy="469.0" r="2.15"/>
<circle cx="679.7" cy="469.0" r="2.15"/>
<circle cx="681.2" cy="469.0" r="2.15"/>
<circle cx="654.7" cy="469.0" r="2.15"/>
<circle cx="657.9" cy="469.0" r="2.15"/>
<circle cx="661.0" cy="469.0" r="2.15"/>
<circle cx="667.4" cy="469.0" r="2.15"/>
<circle cx="669.4" cy="469.0" r="2.15"/>
<circle cx="679.1" cy="469.0" r="2.15"/>
<circle cx="681.5" cy="469.0" r="2.15"/>
<circle cx="654.9" cy="469.0" r="2.15"/>
<circle cx="656.3" cy="469.0" r="2.15"/>
<circle cx="661.6" cy="469.0" r="2.15"/>
<circle cx="666.5" cy="469.0" r="2.15"/>
<circle cx="668.5" cy="469.0" r="2.15"/>
<circle cx="678.0" cy="469.0" r="2.15"/>
<circle cx="654.3" cy="469.1" r="2.15"/>
<circle cx="657.8" cy="469.0" r="2.15"/>
<circle cx="661.0" cy="469.1" r="2.15"/>
<circle cx="664.0" cy="469.1" r="2.15"/>
<circle cx="666.7" cy="469.1" r="2.15"/>
<circle cx="673.8" cy="469.1" r="2.15"/>
<circle cx="675.8" cy="469.1" r="2.15"/>
<circle cx="680.1" cy="469.1" r="2.15"/>
<circle cx="683.1" cy="469.0" r="2.15"/>
<circle cx="652.9" cy="469.1" r="2.15"/>
<circle cx="656.4" cy="469.1" r="2.15"/>
<circle cx="662.1" cy="469.1" r="2.15"/>
<circle cx="665.9" cy="469.1" r="2.15"/>
<circle cx="668.4" cy="469.1" r="2.15"/>
<circle cx="672.4" cy="469.1" r="2.15"/>
<circle cx="675.5" cy="469.1" r="2.15"/>
<circle cx="678.9" cy="469.1" r="2.15"/>
<circle cx="680.0" cy="469.1" r="2.15"/>
<circle cx="693.1" cy="468.8" r="2.15"/>
<circle cx="693.2" cy="468.9" r="2.15"/>
<circle cx="694.4" cy="468.9" r="2.15"/>
<circle cx="693.8" cy="468.9" r="2.15"/>
<circle cx="693.1" cy="468.9" r="2.15"/>
<circle cx="693.1" cy="468.9" r="2.15"/>
<circle cx="693.1" cy="468.9" r="2.15"/>
<circle cx="693.0" cy="469.0" r="2.15"/>
<circle cx="693.0" cy="469.0" r="2.15"/>
<circle cx="693.0" cy="469.0" r="2.15"/>
<circle cx="693.0" cy="469.0" r="2.15"/>
<circle cx="693.0" cy="469.0" r="2.15"/>
<circle cx="693.0" cy="469.1" r="2.15"/>
<circle cx="693.0" cy="469.1" r="2.15"/>
<circle cx="693.0" cy="469.1" r="2.15"/>
<circle cx="745.7" cy="468.6" r="2.15"/>
<circle cx="745.5" cy="468.6" r="2.15"/>
<circle cx="745.2" cy="468.6" r="2.15"/>
<circle cx="742.6" cy="468.6" r="2.15"/>
<circle cx="740.0" cy="468.6" r="2.15"/>
<circle cx="737.7" cy="468.6" r="2.15"/>
<circle cx="736.0" cy="468.6" r="2.15"/>
<circle cx="735.8" cy="468.6" r="2.15"/>
<circle cx="736.3" cy="468.6" r="2.15"/>
<circle cx="739.2" cy="468.6" r="2.15"/>
<circle cx="742.2" cy="468.6" r="2.15"/>
<circle cx="745.2" cy="468.6" r="2.15"/>
<circle cx="742.4" cy="468.6" r="2.15"/>
<circle cx="737.5" cy="468.6" r="2.15"/>
<circle cx="740.3" cy="468.6" r="2.15"/>
<circle cx="743.4" cy="468.6" r="2.15"/>
<circle cx="736.9" cy="468.6" r="2.15"/>
<circle cx="742.7" cy="468.6" r="2.15"/>
<circle cx="744.2" cy="468.6" r="2.15"/>
<circle cx="735.8" cy="468.6" r="2.15"/>
<circle cx="740.8" cy="468.6" r="2.15"/>
<circle cx="759.3" cy="468.4" r="2.15"/>
<circle cx="757.6" cy="468.5" r="2.15"/>
<circle cx="756.0" cy="468.5" r="2.15"/>
<circle cx="756.0" cy="468.5" r="2.15"/>
<circle cx="758.1" cy="468.5" r="2.15"/>
<circle cx="756.8" cy="468.5" r="2.15"/>
<circle cx="757.9" cy="468.5" r="2.15"/>
<circle cx="758.3" cy="468.5" r="2.15"/>
<circle cx="755.0" cy="468.6" r="2.15"/>
<circle cx="758.2" cy="468.5" r="2.15"/>
<circle cx="755.1" cy="468.6" r="2.15"/>
<circle cx="756.4" cy="468.6" r="2.15"/>
<circle cx="754.7" cy="468.6" r="2.15"/>
<circle cx="754.5" cy="468.6" r="2.15"/>
<circle cx="755.5" cy="468.6" r="2.15"/>
<circle cx="756.4" cy="468.6" r="2.15"/>
<circle cx="757.4" cy="468.6" r="2.15"/>
<circle cx="719.6" cy="469.0" r="2.15"/>
<circle cx="720.2" cy="469.0" r="2.15"/>
<circle cx="721.9" cy="469.0" r="2.15"/>
<circle cx="723.9" cy="469.0" r="2.15"/>
<circle cx="726.0" cy="469.0" r="2.15"/>
<circle cx="728.6" cy="469.0" r="2.15"/>
<circle cx="731.2" cy="469.0" r="2.15"/>
<circle cx="733.1" cy="469.0" r="2.15"/>
<circle cx="733.3" cy="468.9" r="2.15"/>
<circle cx="733.4" cy="468.9" r="2.15"/>
<circle cx="735.8" cy="468.9" r="2.15"/>
<circle cx="738.2" cy="468.9" r="2.15"/>
<circle cx="740.6" cy="468.9" r="2.15"/>
<circle cx="742.9" cy="468.9" r="2.15"/>
<circle cx="744.8" cy="468.9" r="2.15"/>
<circle cx="745.8" cy="468.9" r="2.15"/>
<circle cx="745.9" cy="468.9" r="2.15"/>
<circle cx="746.0" cy="468.8" r="2.15"/>
<circle cx="746.0" cy="468.8" r="2.15"/>
<circle cx="746.1" cy="468.8" r="2.15"/>
<circle cx="746.2" cy="468.8" r="2.15"/>
<circle cx="746.3" cy="468.7" r="2.15"/>
<circle cx="746.1" cy="468.7" r="2.15"/>
<circle cx="745.7" cy="468.7" r="2.15"/>
<circle cx="745.2" cy="468.7" r="2.15"/>
<circle cx="744.5" cy="468.7" r="2.15"/>
<circle cx="742.6" cy="468.7" r="2.15"/>
<circle cx="739.8" cy="468.7" r="2.15"/>
<circle cx="736.9" cy="468.7" r="2.15"/>
<circle cx="734.0" cy="468.7" r="2.15"/>
<circle cx="731.2" cy="468.7" r="2.15"/>
<circle cx="730.6" cy="468.7" r="2.15"/>
<circle cx="730.2" cy="468.7" r="2.15"/>
<circle cx="729.9" cy="468.7" r="2.15"/>
<circle cx="729.6" cy="468.7" r="2.15"/>
<circle cx="727.5" cy="468.8" r="2.15"/>
<circle cx="724.8" cy="468.7" r="2.15"/>
<circle cx="722.9" cy="468.7" r="2.15"/>
<circle cx="722.5" cy="468.7" r="2.15"/>
<circle cx="720.5" cy="468.7" r="2.15"/>
<circle cx="719.2" cy="468.7" r="2.15"/>
<circle cx="719.0" cy="468.8" r="2.15"/>
<circle cx="718.8" cy="468.8" r="2.15"/>
<circle cx="718.7" cy="468.8" r="2.15"/>
<circle cx="718.6" cy="468.8" r="2.15"/>
<circle cx="718.5" cy="468.8" r="2.15"/>
<circle cx="718.5" cy="468.9" r="2.15"/>
<circle cx="718.5" cy="468.9" r="2.15"/>
<circle cx="718.5" cy="468.9" r="2.15"/>
<circle cx="718.5" cy="468.9" r="2.15"/>
<circle cx="718.5" cy="468.9" r="2.15"/>
<circle cx="718.5" cy="469.0" r="2.15"/>
<circle cx="718.5" cy="469.0" r="2.15"/>
<circle cx="718.9" cy="469.0" r="2.15"/>
<circle cx="731.5" cy="468.7" r="2.15"/>
<circle cx="730.7" cy="468.7" r="2.15"/>
<circle cx="736.0" cy="468.7" r="2.15"/>
<circle cx="740.5" cy="468.7" r="2.15"/>
<circle cx="731.0" cy="468.7" r="2.15"/>
<circle cx="737.8" cy="468.7" r="2.15"/>
<circle cx="740.3" cy="468.7" r="2.15"/>
<circle cx="743.7" cy="468.7" r="2.15"/>
<circle cx="730.1" cy="468.7" r="2.15"/>
<circle cx="731.1" cy="468.7" r="2.15"/>
<circle cx="735.1" cy="468.7" r="2.15"/>
<circle cx="736.9" cy="468.7" r="2.15"/>
<circle cx="741.4" cy="468.7" r="2.15"/>
<circle cx="720.8" cy="468.7" r="2.15"/>
<circle cx="734.2" cy="468.7" r="2.15"/>
<circle cx="737.7" cy="468.7" r="2.15"/>
<circle cx="740.3" cy="468.7" r="2.15"/>
<circle cx="742.3" cy="468.7" r="2.15"/>
<circle cx="722.9" cy="468.8" r="2.15"/>
<circle cx="726.4" cy="468.8" r="2.15"/>
<circle cx="728.8" cy="468.8" r="2.15"/>
<circle cx="735.0" cy="468.7" r="2.15"/>
<circle cx="735.0" cy="468.8" r="2.15"/>
<circle cx="738.4" cy="468.8" r="2.15"/>
<circle cx="741.1" cy="468.8" r="2.15"/>
<circle cx="721.2" cy="468.8" r="2.15"/>
<circle cx="724.7" cy="468.8" r="2.15"/>
<circle cx="727.4" cy="468.8" r="2.15"/>
<circle cx="732.4" cy="468.8" r="2.15"/>
<circle cx="733.7" cy="468.8" r="2.15"/>
<circle cx="737.2" cy="468.8" r="2.15"/>
<circle cx="744.8" cy="468.8" r="2.15"/>
<circle cx="719.8" cy="468.8" r="2.15"/>
<circle cx="724.4" cy="468.8" r="2.15"/>
<circle cx="730.2" cy="468.8" r="2.15"/>
<circle cx="734.3" cy="468.8" r="2.15"/>
<circle cx="736.2" cy="468.8" r="2.15"/>
<circle cx="746.0" cy="468.8" r="2.15"/>
<circle cx="720.6" cy="468.8" r="2.15"/>
<circle cx="726.7" cy="468.8" r="2.15"/>
<circle cx="728.0" cy="468.8" r="2.15"/>
<circle cx="729.8" cy="468.8" r="2.15"/>
<circle cx="735.5" cy="468.8" r="2.15"/>
<circle cx="737.6" cy="468.8" r="2.15"/>
<circle cx="740.9" cy="468.8" r="2.15"/>
<circle cx="744.5" cy="468.8" r="2.15"/>
<circle cx="720.1" cy="468.8" r="2.15"/>
<circle cx="722.5" cy="468.8" r="2.15"/>
<circle cx="725.0" cy="468.8" r="2.15"/>
<circle cx="731.4" cy="468.8" r="2.15"/>
<circle cx="742.0" cy="468.8" r="2.15"/>
<circle cx="745.3" cy="468.8" r="2.15"/>
<circle cx="721.8" cy="468.9" r="2.15"/>
<circle cx="725.3" cy="468.9" r="2.15"/>
<circle cx="728.7" cy="468.8" r="2.15"/>
<circle cx="732.7" cy="468.8" r="2.15"/>
<circle cx="734.8" cy="468.9" r="2.15"/>
<circle cx="744.2" cy="468.8" r="2.15"/>
<circle cx="719.8" cy="468.9" r="2.15"/>
<circle cx="722.3" cy="468.9" r="2.15"/>
<circle cx="726.3" cy="468.9" r="2.15"/>
<circle cx="732.5" cy="468.9" r="2.15"/>
<circle cx="735.4" cy="468.9" r="2.15"/>
<circle cx="739.0" cy="468.9" r="2.15"/>
<circle cx="741.7" cy="468.9" r="2.15"/>
<circle cx="745.5" cy="468.9" r="2.15"/>
<circle cx="720.4" cy="468.9" r="2.15"/>
<circle cx="722.5" cy="468.9" r="2.15"/>
<circle cx="725.2" cy="468.9" r="2.15"/>
<circle cx="729.0" cy="468.9" r="2.15"/>
<circle cx="733.5" cy="468.9" r="2.15"/>
<circle cx="736.0" cy="468.9" r="2.15"/>
<circle cx="742.6" cy="468.9" r="2.15"/>
<circle cx="720.3" cy="468.9" r="2.15"/>
<circle cx="723.7" cy="468.9" r="2.15"/>
<circle cx="726.5" cy="468.9" r="2.15"/>
<circle cx="729.3" cy="468.9" r="2.15"/>
<circle cx="734.3" cy="468.9" r="2.15"/>
<circle cx="736.6" cy="468.9" r="2.15"/>
<circle cx="738.7" cy="468.9" r="2.15"/>
<circle cx="720.9" cy="468.9" r="2.15"/>
<circle cx="725.6" cy="468.9" r="2.15"/>
<circle cx="726.5" cy="468.9" r="2.15"/>
<circle cx="731.8" cy="468.9" r="2.15"/>
<circle cx="722.2" cy="468.9" r="2.15"/>
<circle cx="726.5" cy="468.9" r="2.15"/>
<circle cx="730.6" cy="468.9" r="2.15"/>
<circle cx="732.0" cy="468.9" r="2.15"/>
<circle cx="718.8" cy="469.0" r="2.15"/>
<circle cx="720.5" cy="469.0" r="2.15"/>
<circle cx="724.3" cy="469.0" r="2.15"/>
<circle cx="730.6" cy="469.0" r="2.15"/>
<circle cx="731.3" cy="469.1" r="2.15"/>
<circle cx="730.3" cy="469.1" r="2.15"/>
<circle cx="729.0" cy="469.0" r="2.15"/>
<circle cx="727.5" cy="469.0" r="2.15"/>
<circle cx="725.9" cy="469.0" r="2.15"/>
<circle cx="724.4" cy="469.0" r="2.15"/>
<circle cx="723.8" cy="469.1" r="2.15"/>
<circle cx="724.0" cy="469.1" r="2.15"/>
<circle cx="725.4" cy="469.1" r="2.15"/>
<circle cx="728.4" cy="469.1" r="2.15"/>
<circle cx="726.9" cy="469.1" r="2.15"/>
<circle cx="724.2" cy="469.1" r="2.15"/>
<circle cx="728.1" cy="469.1" r="2.15"/>
<circle cx="712.8" cy="468.9" r="2.15"/>
<circle cx="712.8" cy="468.9" r="2.15"/>
<circle cx="713.0" cy="468.9" r="2.15"/>
<circle cx="712.9" cy="469.0" r="2.15"/>
<circle cx="712.7" cy="469.0" r="2.15"/>
<circle cx="712.8" cy="469.0" r="2.15"/>
<circle cx="712.9" cy="469.0" r="2.15"/>
<circle cx="713.0" cy="469.0" r="2.15"/>
<circle cx="712.9" cy="469.0" r="2.15"/>
<circle cx="712.9" cy="469.1" r="2.15"/>
<circle cx="712.9" cy="469.1" r="2.15"/>
<circle cx="725.2" cy="468.7" r="2.15"/>
<circle cx="722.1" cy="468.7" r="2.15"/>
<circle cx="718.9" cy="468.7" r="2.15"/>
<circle cx="721.4" cy="468.7" r="2.15"/>
<circle cx="724.4" cy="468.7" r="2.15"/>
<circle cx="727.4" cy="468.7" r="2.15"/>
<circle cx="694.6" cy="468.8" r="2.15"/>
<circle cx="694.9" cy="468.9" r="2.15"/>
<circle cx="695.1" cy="468.9" r="2.15"/>
<circle cx="694.5" cy="468.9" r="2.15"/>
<circle cx="694.5" cy="468.9" r="2.15"/>
<circle cx="694.5" cy="468.9" r="2.15"/>
<circle cx="694.5" cy="469.0" r="2.15"/>
<circle cx="694.5" cy="469.0" r="2.15"/>
<circle cx="694.5" cy="469.0" r="2.15"/>
<circle cx="694.5" cy="469.0" r="2.15"/>
<circle cx="694.5" cy="469.0" r="2.15"/>
<circle cx="694.5" cy="469.0" r="2.15"/>
<circle cx="694.5" cy="469.1" r="2.15"/>
<circle cx="694.5" cy="469.1" r="2.15"/>
<circle cx="808.5" cy="466.6" r="2.15"/>
<circle cx="808.3" cy="466.6" r="2.15"/>
<circle cx="810.0" cy="466.6" r="2.15"/>
<circle cx="808.8" cy="466.6" r="2.15"/>
<circle cx="809.3" cy="466.6" r="2.15"/>
<circle cx="808.2" cy="466.7" r="2.15"/>
<circle cx="809.4" cy="466.7" r="2.15"/>
<circle cx="808.3" cy="466.7" r="2.15"/>
<circle cx="809.4" cy="466.7" r="2.15"/>
<circle cx="809.7" cy="466.7" r="2.15"/>
<circle cx="809.0" cy="466.8" r="2.15"/>
<circle cx="809.6" cy="466.8" r="2.15"/>
<circle cx="808.3" cy="466.8" r="2.15"/>
<circle cx="809.8" cy="466.8" r="2.15"/>
<circle cx="809.3" cy="466.8" r="2.15"/>
<circle cx="809.6" cy="466.9" r="2.15"/>
<circle cx="809.7" cy="466.9" r="2.15"/>
<circle cx="816.2" cy="466.6" r="2.15"/>
<circle cx="816.1" cy="466.6" r="2.15"/>
<circle cx="816.3" cy="466.6" r="2.15"/>
<circle cx="816.4" cy="466.8" r="2.15"/>
<circle cx="818.0" cy="466.9" r="2.15"/>
<circle cx="817.6" cy="466.9" r="2.15"/>
<circle cx="817.9" cy="466.9" r="2.15"/>
<circle cx="821.7" cy="466.6" r="2.15"/>
<circle cx="821.8" cy="466.6" r="2.15"/>
<circle cx="821.6" cy="466.6" r="2.15"/>
<circle cx="821.7" cy="466.6" r="2.15"/>
<circle cx="821.7" cy="466.7" r="2.15"/>
<circle cx="821.6" cy="466.7" r="2.15"/>
<circle cx="821.7" cy="466.7" r="2.15"/>
<circle cx="822.0" cy="466.7" r="2.15"/>
<circle cx="665.4" cy="462.6" r="2.15"/>
<circle cx="696.0" cy="459.4" r="2.15"/>
<circle cx="861.0" cy="471.9" r="2.15"/>
<circle cx="888.7" cy="464.5" r="2.15"/>
<circle cx="947.5" cy="459.5" r="2.15"/>
<circle cx="950.3" cy="478.5" r="2.15"/>
<circle cx="955.9" cy="475.5" r="2.15"/>
<circle cx="911.1" cy="475.0" r="2.15"/>
<circle cx="949.7" cy="471.4" r="2.15"/>
<circle cx="740.8" cy="49.5" r="2.15"/>
<circle cx="634.7" cy="469.7" r="2.15"/>
<circle cx="636.1" cy="469.9" r="2.15"/>
<circle cx="637.5" cy="469.4" r="2.15"/>
<circle cx="638.9" cy="469.6" r="2.15"/>
<circle cx="640.3" cy="469.8" r="2.15"/>
<circle cx="652.3" cy="469.9" r="2.15"/>
<circle cx="653.7" cy="469.3" r="2.15"/>
<circle cx="655.1" cy="469.4" r="2.15"/>
<circle cx="656.5" cy="469.7" r="2.15"/>
<circle cx="657.9" cy="469.7" r="2.15"/>
<circle cx="659.3" cy="469.4" r="2.15"/>
<circle cx="660.7" cy="469.1" r="2.15"/>
<circle cx="662.1" cy="470.1" r="2.15"/>
<circle cx="663.5" cy="470.0" r="2.15"/>
<circle cx="664.9" cy="469.8" r="2.15"/>
<circle cx="666.3" cy="469.6" r="2.15"/>
<circle cx="667.7" cy="470.1" r="2.15"/>
<circle cx="669.1" cy="470.1" r="2.15"/>
<circle cx="670.5" cy="469.9" r="2.15"/>
<circle cx="671.9" cy="469.7" r="2.15"/>
<circle cx="673.4" cy="469.4" r="2.15"/>
<circle cx="674.8" cy="469.5" r="2.15"/>
<circle cx="676.2" cy="470.1" r="2.15"/>
<circle cx="677.6" cy="470.1" r="2.15"/>
<circle cx="679.0" cy="469.7" r="2.15"/>
<circle cx="680.4" cy="469.2" r="2.15"/>
<circle cx="681.8" cy="469.2" r="2.15"/>
<circle cx="683.2" cy="469.8" r="2.15"/>
<circle cx="684.6" cy="469.2" r="2.15"/>
<circle cx="686.0" cy="469.2" r="2.15"/>
<circle cx="687.4" cy="469.7" r="2.15"/>
<circle cx="688.8" cy="469.4" r="2.15"/>
<circle cx="690.2" cy="469.8" r="2.15"/>
<circle cx="691.6" cy="470.0" r="2.15"/>
<circle cx="693.0" cy="469.6" r="2.15"/>
<circle cx="694.4" cy="470.1" r="2.15"/>
<circle cx="695.8" cy="469.5" r="2.15"/>
<circle cx="697.2" cy="469.3" r="2.15"/>
<circle cx="698.6" cy="469.2" r="2.15"/>
<circle cx="700.0" cy="469.7" r="2.15"/>
<circle cx="701.4" cy="470.0" r="2.15"/>
<circle cx="702.8" cy="469.2" r="2.15"/>
<circle cx="704.2" cy="469.2" r="2.15"/>
<circle cx="705.6" cy="469.1" r="2.15"/>
<circle cx="707.0" cy="469.5" r="2.15"/>
<circle cx="708.4" cy="469.5" r="2.15"/>
<circle cx="709.8" cy="469.8" r="2.15"/>
<circle cx="711.2" cy="470.0" r="2.15"/>
<circle cx="712.6" cy="469.8" r="2.15"/>
<circle cx="714.0" cy="469.4" r="2.15"/>
<circle cx="715.4" cy="469.8" r="2.15"/>
<circle cx="716.8" cy="469.4" r="2.15"/>
<circle cx="718.2" cy="469.6" r="2.15"/>
<circle cx="719.6" cy="469.7" r="2.15"/>
<circle cx="721.0" cy="469.1" r="2.15"/>
<circle cx="722.4" cy="470.0" r="2.15"/>
<circle cx="723.8" cy="469.6" r="2.15"/>
<circle cx="725.2" cy="470.0" r="2.15"/>
<circle cx="726.6" cy="469.2" r="2.15"/>
<circle cx="728.0" cy="469.6" r="2.15"/>
<circle cx="729.4" cy="469.8" r="2.15"/>
<circle cx="730.8" cy="470.0" r="2.15"/>
<circle cx="732.2" cy="469.5" r="2.15"/>
<circle cx="733.6" cy="469.7" r="2.15"/>
<circle cx="735.0" cy="470.0" r="2.15"/>
<circle cx="736.4" cy="470.1" r="2.15"/>
<circle cx="737.8" cy="469.7" r="2.15"/>
<circle cx="739.2" cy="469.5" r="2.15"/>
<circle cx="740.6" cy="469.6" r="2.15"/>
<circle cx="742.0" cy="469.2" r="2.15"/>
<circle cx="743.4" cy="469.2" r="2.15"/>
<circle cx="744.8" cy="469.2" r="2.15"/>
<circle cx="746.2" cy="469.3" r="2.15"/>
<circle cx="747.6" cy="469.7" r="2.15"/>
<circle cx="749.0" cy="469.6" r="2.15"/>
<circle cx="750.4" cy="469.7" r="2.15"/>
<circle cx="751.8" cy="469.7" r="2.15"/>
<circle cx="753.2" cy="470.1" r="2.15"/>
<circle cx="754.6" cy="469.3" r="2.15"/>
<circle cx="756.0" cy="469.9" r="2.15"/>
<circle cx="757.4" cy="470.1" r="2.15"/>
<circle cx="758.8" cy="469.7" r="2.15"/>
<circle cx="760.2" cy="469.4" r="2.15"/>
<circle cx="761.6" cy="469.7" r="2.15"/>
<circle cx="763.0" cy="469.8" r="2.15"/>
<circle cx="764.4" cy="469.5" r="2.15"/>
<circle cx="765.8" cy="470.0" r="2.15"/>
<circle cx="767.2" cy="470.1" r="2.15"/>
<circle cx="798.2" cy="469.5" r="2.15"/>
<circle cx="799.6" cy="469.6" r="2.15"/>
<circle cx="801.0" cy="469.3" r="2.15"/>
<circle cx="802.4" cy="469.7" r="2.15"/>
<circle cx="803.8" cy="469.3" r="2.15"/>
<circle cx="805.2" cy="470.1" r="2.15"/>
<circle cx="806.6" cy="470.1" r="2.15"/>
<circle cx="808.0" cy="469.5" r="2.15"/>
<circle cx="809.4" cy="469.9" r="2.15"/>
<circle cx="810.8" cy="470.1" r="2.15"/>
<circle cx="812.2" cy="470.0" r="2.15"/>
<circle cx="813.6" cy="469.8" r="2.15"/>
<circle cx="815.0" cy="469.8" r="2.15"/>
<circle cx="816.4" cy="469.6" r="2.15"/>
<circle cx="817.8" cy="469.2" r="2.15"/>
<circle cx="819.2" cy="469.8" r="2.15"/>
<circle cx="820.6" cy="470.0" r="2.15"/>
<circle cx="822.0" cy="469.5" r="2.15"/>
<circle cx="823.4" cy="470.1" r="2.15"/>
<circle cx="824.8" cy="469.7" r="2.15"/>
<circle cx="826.2" cy="469.8" r="2.15"/>
<circle cx="827.6" cy="469.7" r="2.15"/>
<circle cx="829.0" cy="470.1" r="2.15"/>
<circle cx="830.4" cy="469.6" r="2.15"/>
<circle cx="831.8" cy="469.5" r="2.15"/>
<circle cx="833.2" cy="469.4" r="2.15"/>
<circle cx="834.6" cy="469.2" r="2.15"/>
<circle cx="836.0" cy="469.8" r="2.15"/>
<circle cx="837.4" cy="469.5" r="2.15"/>
<circle cx="838.8" cy="469.7" r="2.15"/>
<circle cx="840.2" cy="469.9" r="2.15"/>
<circle cx="841.6" cy="469.2" r="2.15"/>
<circle cx="843.0" cy="469.4" r="2.15"/>
<circle cx="844.4" cy="469.2" r="2.15"/>
<circle cx="845.8" cy="469.3" r="2.15"/>
<circle cx="847.2" cy="469.2" r="2.15"/>
<circle cx="848.6" cy="470.0" r="2.15"/>
<circle cx="850.0" cy="470.1" r="2.15"/>
<circle cx="851.4" cy="469.9" r="2.15"/>
<circle cx="852.8" cy="469.7" r="2.15"/>
<circle cx="854.2" cy="469.4" r="2.15"/>
<circle cx="855.6" cy="469.7" r="2.15"/>
<circle cx="857.0" cy="469.6" r="2.15"/>
<circle cx="858.4" cy="469.4" r="2.15"/>
<circle cx="859.8" cy="470.1" r="2.15"/>
<circle cx="861.2" cy="469.4" r="2.15"/>
<circle cx="862.6" cy="470.1" r="2.15"/>
<circle cx="864.0" cy="469.9" r="2.15"/>
<circle cx="865.4" cy="469.4" r="2.15"/>
<circle cx="866.8" cy="469.4" r="2.15"/>
<circle cx="868.2" cy="469.7" r="2.15"/>
<circle cx="869.6" cy="469.8" r="2.15"/>
<circle cx="871.0" cy="469.3" r="2.15"/>
<circle cx="872.4" cy="469.9" r="2.15"/>
<circle cx="873.8" cy="470.1" r="2.15"/>
<circle cx="875.2" cy="469.9" r="2.15"/>
<circle cx="876.6" cy="470.1" r="2.15"/>
<circle cx="878.0" cy="469.3" r="2.15"/>
<circle cx="879.4" cy="470.0" r="2.15"/>
<circle cx="880.8" cy="469.1" r="2.15"/>
<circle cx="882.2" cy="469.9" r="2.15"/>
<circle cx="883.6" cy="469.8" r="2.15"/>
<circle cx="885.0" cy="469.5" r="2.15"/>
<circle cx="886.4" cy="469.8" r="2.15"/>
<circle cx="887.8" cy="469.8" r="2.15"/>
<circle cx="889.2" cy="470.0" r="2.15"/>
<circle cx="890.6" cy="469.7" r="2.15"/>
<circle cx="892.0" cy="470.1" r="2.15"/>
<circle cx="893.4" cy="469.9" r="2.15"/>
<circle cx="894.8" cy="469.2" r="2.15"/>
<circle cx="896.2" cy="469.9" r="2.15"/>
<circle cx="897.6" cy="469.9" r="2.15"/>
<circle cx="899.0" cy="469.4" r="2.15"/>
<circle cx="900.4" cy="469.2" r="2.15"/>
<circle cx="901.8" cy="469.8" r="2.15"/>
<circle cx="903.2" cy="469.8" r="2.15"/>
<circle cx="904.6" cy="469.4" r="2.15"/>
<circle cx="906.0" cy="469.3" r="2.15"/>
<circle cx="907.4" cy="469.5" r="2.15"/>
<circle cx="908.8" cy="470.0" r="2.15"/>
<circle cx="910.2" cy="470.0" r="2.15"/>
<circle cx="911.6" cy="469.4" r="2.15"/>
<circle cx="913.0" cy="469.4" r="2.15"/>
<circle cx="914.4" cy="469.2" r="2.15"/>
<circle cx="915.8" cy="469.3" r="2.15"/>
<circle cx="917.2" cy="469.7" r="2.15"/>
<circle cx="918.6" cy="470.0" r="2.15"/>
<circle cx="920.0" cy="469.2" r="2.15"/>
<circle cx="921.4" cy="469.4" r="2.15"/>
<circle cx="922.8" cy="469.6" r="2.15"/>
<circle cx="924.2" cy="469.4" r="2.15"/>
<circle cx="925.6" cy="469.7" r="2.15"/>
<circle cx="927.0" cy="469.8" r="2.15"/>
<circle cx="928.4" cy="469.6" r="2.15"/>
<circle cx="929.8" cy="469.6" r="2.15"/>
<circle cx="931.2" cy="469.4" r="2.15"/>
<circle cx="932.6" cy="469.2" r="2.15"/>
<circle cx="934.0" cy="469.3" r="2.15"/>
<circle cx="935.4" cy="469.7" r="2.15"/>
<circle cx="936.8" cy="469.8" r="2.15"/>
<circle cx="938.2" cy="469.2" r="2.15"/>
<circle cx="939.6" cy="469.7" r="2.15"/>
<circle cx="941.0" cy="469.3" r="2.15"/>
<circle cx="942.4" cy="470.0" r="2.15"/>
<circle cx="943.8" cy="469.7" r="2.15"/>
<circle cx="945.2" cy="469.6" r="2.15"/>
<circle cx="946.6" cy="469.3" r="2.15"/>
<circle cx="948.0" cy="469.2" r="2.15"/>
<circle cx="949.4" cy="470.0" r="2.15"/>
<circle cx="950.8" cy="469.5" r="2.15"/>
<circle cx="952.2" cy="469.5" r="2.15"/>
<circle cx="953.6" cy="470.0" r="2.15"/>
<circle cx="955.0" cy="469.3" r="2.15"/>
<circle cx="956.4" cy="469.6" r="2.15"/>
<circle cx="957.8" cy="469.2" r="2.15"/>
<circle cx="959.2" cy="470.0" r="2.15"/>
<circle cx="960.6" cy="469.6" r="2.15"/>
<circle cx="962.0" cy="469.8" r="2.15"/>
<circle cx="963.4" cy="469.5" r="2.15"/>
<circle cx="964.8" cy="469.5" r="2.15"/>
<circle cx="966.2" cy="469.6" r="2.15"/>
<circle cx="967.6" cy="469.8" r="2.15"/>
<circle cx="969.0" cy="469.6" r="2.15"/>
<circle cx="970.4" cy="469.8" r="2.15"/>
<circle cx="971.8" cy="469.2" r="2.15"/>
<circle cx="973.2" cy="469.7" r="2.15"/>
</g>
<polyline points="626.03,469.10 626.65,469.10 627.28,469.10 627.90,469.10 628.52,469.10 629.15,469.10 629.77,469.10 630.39,469.10 631.02,469.10 631.64,469.10 632.26,469.10 632.89,469.10 633.51,469.10 634.13,469.10 634.76,469.10 635.38,469.10 636.01,469.10 636.63,469.10 637.25,469.10 637.88,469.10 638.50,469.10 639.12,469.10 639.75,469.10 640.37,469.09 640.99,469.09 641.62,469.09 642.24,469.09 642.87,469.09 643.49,469.09 644.11,469.09 644.74,469.09 645.36,469.09 645.98,469.09 646.61,469.09 647.23,469.09 647.85,469.09 648.48,469.09 649.10,469.09 649.72,469.09 650.35,469.09 650.97,469.09 651.60,469.09 652.22,469.09 652.84,469.09 653.47,469.09 654.09,469.09 654.71,469.09 655.34,469.09 655.96,469.09 656.58,469.09 657.21,469.08 657.83,469.08 658.46,469.08 659.08,469.08 659.70,469.08 660.33,469.08 660.95,469.08 661.57,469.08 662.20,469.08 662.82,469.08 663.44,469.08 664.07,469.08 664.69,469.08 665.31,469.08 665.94,469.08 666.56,469.08 667.19,469.08 667.81,469.08 668.43,469.08 669.06,469.07 669.68,469.07 670.30,469.07 670.93,469.07 671.55,469.07 672.17,469.07 672.80,469.07 673.42,469.07 674.05,469.07 674.67,469.07 675.29,469.07 675.92,469.07 676.54,469.07 677.16,469.07 677.79,469.06 678.41,469.06 679.03,469.06 679.66,469.06 680.28,469.06 680.90,469.06 681.53,469.06 682.15,469.06 682.78,469.06 683.40,469.06 684.02,469.06 684.65,469.05 685.27,469.05 685.89,469.05 686.52,469.05 687.14,469.05 687.76,469.05 688.39,469.05 689.01,469.05 689.64,469.05 690.26,469.04 690.88,469.04 691.51,469.04 692.13,469.04 692.75,469.04 693.38,469.04 694.00,469.04 694.62,469.04 695.25,469.03 695.87,469.03 696.49,469.03 697.12,469.03 697.74,469.03 698.37,469.03 698.99,469.02 699.61,469.02 700.24,469.02 700.86,469.02 701.48,469.02 702.11,469.02 702.73,469.01 703.35,469.01 703.98,469.01 704.60,469.01 705.23,469.01 705.85,469.00 706.47,469.00 707.10,469.00 707.72,469.00 708.34,469.00 708.97,468.99 709.59,468.99 710.21,468.99 710.84,468.99 711.46,468.98 712.08,468.98 712.71,468.98 713.33,468.98 713.96,468.97 714.58,468.97 715.20,468.97 715.83,468.97 716.45,468.96 717.07,468.96 717.70,468.96 718.32,468.95 718.94,468.95 719.57,468.95 720.19,468.94 720.82,468.94 721.44,468.94 722.06,468.93 722.69,468.93 723.31,468.93 723.93,468.92 724.56,468.92 725.18,468.92 725.80,468.91 726.43,468.91 727.05,468.90 727.67,468.90 728.30,468.89 728.92,468.89 729.55,468.89 730.17,468.88 730.79,468.88 731.42,468.87 732.04,468.87 732.66,468.86 733.29,468.86 733.91,468.85 734.53,468.84 735.16,468.84 735.78,468.83 736.41,468.83 737.03,468.82 737.65,468.81 738.28,468.81 738.90,468.80 739.52,468.79 740.15,468.79 740.77,468.78 741.39,468.77 742.02,468.77 742.64,468.76 743.26,468.75 743.89,468.74 744.51,468.73 745.14,468.73 745.76,468.72 746.38,468.71 747.01,468.70 747.63,468.69 748.25,468.68 748.88,468.67 749.50,468.66 750.12,468.65 750.75,468.64 751.37,468.63 752.00,468.62 752.62,468.61 753.24,468.60 753.87,468.59 754.49,468.58 755.11,468.56 755.74,468.55 756.36,468.54 756.98,468.53 757.61,468.51 758.23,468.50 758.85,468.49 759.48,468.47 760.10,468.46 760.73,468.44 761.35,468.43 761.97,468.41 762.60,468.40 763.22,468.38 763.84,468.36 764.47,468.35 765.09,468.33 765.71,468.31 766.34,468.29 766.96,468.28 767.59,468.26 768.21,468.24 768.83,468.22 769.46,468.20 770.08,468.18 770.70,468.16 771.33,468.14 771.95,468.12 772.57,468.10 773.20,468.07 773.82,468.05 774.44,468.03 775.07,468.01 775.69,467.98 776.32,467.96 776.94,467.93 777.56,467.91 778.19,467.88 778.81,467.86 779.43,467.83 780.06,467.81 780.68,467.78 781.30,467.75 781.93,467.73 782.55,467.70 783.18,467.67 783.80,467.64 784.42,467.62 785.05,467.59 785.67,467.56 786.29,467.53 786.92,467.50 787.54,467.47 788.16,467.44 788.79,467.42 789.41,467.39 790.03,467.36 790.66,467.33 791.28,467.30 791.91,467.27 792.53,467.24 793.15,467.21 793.78,467.19 794.40,467.16 795.02,467.13 795.65,467.10 796.27,467.08 796.89,467.05 797.52,467.02 798.14,467.00 798.77,466.97 799.39,466.95 800.01,466.93 800.64,466.90 801.26,466.88 801.88,466.86 802.51,466.84 803.13,466.82 803.75,466.80 804.38,466.79 805.00,466.77 805.62,466.76 806.25,466.74 806.87,466.73 807.50,466.72 808.12,466.71 808.74,466.70 809.37,466.69 809.99,466.69 810.61,466.68 811.24,466.68 811.86,466.67 812.48,466.67 813.11,466.67 813.73,466.68 814.35,466.68 814.98,466.68 815.60,466.69 816.23,466.70 816.85,466.70 817.47,466.71 818.10,466.72 818.72,466.74 819.34,466.75 819.97,466.77 820.59,466.78 821.21,466.80 821.84,466.82 822.46,466.83 823.09,466.85 823.71,466.87 824.33,466.90 824.96,466.92 825.58,466.94 826.20,466.96 826.83,466.99 827.45,467.01 828.07,467.04 828.70,467.07 829.32,467.09 829.94,467.12 830.57,467.15 831.19,467.18 831.82,467.20 832.44,467.23 833.06,467.26 833.69,467.29 834.31,467.32 834.93,467.35 835.56,467.38 836.18,467.40 836.80,467.43 837.43,467.46 838.05,467.49 838.68,467.52 839.30,467.55 839.92,467.58 840.55,467.61 841.17,467.63 841.79,467.66 842.42,467.69 843.04,467.72 843.66,467.74 844.29,467.77 844.91,467.80 845.53,467.82 846.16,467.85 846.78,467.87 847.41,467.90 848.03,467.92 848.65,467.95 849.28,467.97 849.90,468.00 850.52,468.02 851.15,468.04 851.77,468.06 852.39,468.09 853.02,468.11 853.64,468.13 854.27,468.15 854.89,468.17 855.51,468.19 856.14,468.21 856.76,468.23 857.38,468.25 858.01,468.27 858.63,468.29 859.25,468.31 859.88,468.32 860.50,468.34 861.12,468.36 861.75,468.37 862.37,468.39 863.00,468.41 863.62,468.42 864.24,468.44 864.87,468.45 865.49,468.47 866.11,468.48 866.74,468.49 867.36,468.51 867.98,468.52 868.61,468.53 869.23,468.55 869.86,468.56 870.48,468.57 871.10,468.58 871.73,468.59 872.35,468.61 872.97,468.62 873.60,468.63 874.22,468.64 874.84,468.65 875.47,468.66 876.09,468.67 876.71,468.68 877.34,468.69 877.96,468.70 878.59,468.71 879.21,468.71 879.83,468.72 880.46,468.73 881.08,468.74 881.70,468.75 882.33,468.76 882.95,468.76 883.57,468.77 884.20,468.78 884.82,468.78 885.45,468.79 886.07,468.80 886.69,468.81 887.32,468.81 887.94,468.82 888.56,468.82 889.19,468.83 889.81,468.84 890.43,468.84 891.06,468.85 891.68,468.85 892.30,468.86 892.93,468.86 893.55,468.87 894.18,468.87 894.80,468.88 895.42,468.88 896.05,468.89 896.67,468.89 897.29,468.90 897.92,468.90 898.54,468.91 899.16,468.91 899.79,468.91 900.41,468.92 901.04,468.92 901.66,468.93 902.28,468.93 902.91,468.93 903.53,468.94 904.15,468.94 904.78,468.94 905.40,468.95 906.02,468.95 906.65,468.95 907.27,468.96 907.89,468.96 908.52,468.96 909.14,468.97 909.77,468.97 910.39,468.97 911.01,468.97 911.64,468.98 912.26,468.98 912.88,468.98 913.51,468.98 914.13,468.99 914.75,468.99 915.38,468.99 916.00,468.99 916.63,469.00 917.25,469.00 917.87,469.00 918.50,469.00 919.12,469.00 919.74,469.01 920.37,469.01 920.99,469.01 921.61,469.01 922.24,469.01 922.86,469.02 923.48,469.02 924.11,469.02 924.73,469.02 925.36,469.02 925.98,469.02 926.60,469.03 927.23,469.03 927.85,469.03 928.47,469.03 929.10,469.03 929.72,469.03 930.34,469.03 930.97,469.04 931.59,469.04 932.22,469.04 932.84,469.04 933.46,469.04 934.09,469.04 934.71,469.04 935.33,469.04 935.96,469.05 936.58,469.05 937.20,469.05 937.83,469.05 938.45,469.05 939.07,469.05 939.70,469.05 940.32,469.05 940.95,469.05 941.57,469.06 942.19,469.06 942.82,469.06 943.44,469.06 944.06,469.06 944.69,469.06 945.31,469.06 945.93,469.06 946.56,469.06 947.18,469.06 947.81,469.06 948.43,469.07 949.05,469.07 949.68,469.07 950.30,469.07 950.92,469.07 951.55,469.07 952.17,469.07 952.79,469.07 953.42,469.07 954.04,469.07 954.66,469.07 955.29,469.07 955.91,469.07 956.54,469.07 957.16,469.08 957.78,469.08 958.41,469.08 959.03,469.08 959.65,469.08 960.28,469.08 960.90,469.08 961.52,469.08 962.15,469.08 962.77,469.08 963.40,469.08 964.02,469.08 964.64,469.08 965.27,469.08 965.89,469.08 966.51,469.08 967.14,469.08 967.76,469.08 968.38,469.09 969.01,469.09 969.63,469.09 970.25,469.09 970.88,469.09 971.50,469.09 972.13,469.09 972.75,469.09 973.37,469.09 974.00,469.09 974.62,469.09 975.24,469.09 975.87,469.09 976.49,469.09 977.11,469.09 977.74,469.09 978.36,469.09 978.99,469.09 979.61,469.09 980.23,469.09 980.86,469.09 981.48,469.09 982.10,469.09 982.73,469.09 983.35,469.09 983.97,469.09 984.60,469.09 985.22,469.09 985.84,469.10 986.47,469.10 987.09,469.10 987.72,469.10 988.34,469.10 988.96,469.10 989.59,469.10 990.21,469.10 990.83,469.10 991.46,469.10 992.08,469.10 992.70,469.10 993.33,469.10 993.95,469.10 994.58,469.10 995.20,469.10 995.82,469.10 996.45,469.10 997.07,469.10 997.69,469.10 998.32,469.10 998.94,469.10 999.56,469.10" fill="none" stroke="#000" stroke-width="3.3" stroke-dasharray="5 2.4"/>
<text x="668.7" y="501.1" text-anchor="middle">7202</text>
<text x="741.6" y="501.1" text-anchor="middle">7228</text>
<text x="814.4" y="501.1" text-anchor="middle">7254</text>
<text x="887.2" y="501.1" text-anchor="middle">7280</text>
<text x="960.0" y="501.1" text-anchor="middle">7306</text>
<text x="616.3" y="474.1" text-anchor="end">0</text>
<text x="616.3" y="405.6" text-anchor="end">100000</text>
<text x="616.3" y="337.1" text-anchor="end">200000</text>
<text x="616.3" y="268.7" text-anchor="end">300000</text>
<text x="616.3" y="200.2" text-anchor="end">400000</text>
<text x="616.3" y="131.7" text-anchor="end">500000</text>
<text x="616.3" y="63.2" text-anchor="end">600000</text>
<clipPath id="c3"><rect x="129.3" y="530" width="359.7" height="442.79999999999995"/></clipPath>
<rect x="131.3" y="532" width="355.7" height="438.79999999999995" fill="none" stroke="#808080" stroke-width="1.3"/>
<path d="M131.3,970.8V959.8M131.3,532V543M190.6,970.8V959.8M190.6,532V543M249.9,970.8V959.8M249.9,532V543M309.1,970.8V959.8M309.1,532V543M368.4,970.8V959.8M368.4,532V543M427.7,970.8V959.8M427.7,532V543M487.0,970.8V959.8M487.0,532V543M131.3,934.2H142.3M487,934.2H476M131.3,886.7H142.3M487,886.7H476M131.3,839.2H142.3M487,839.2H476M131.3,791.7H142.3M487,791.7H476M131.3,744.2H142.3M487,744.2H476M131.3,696.6H142.3M487,696.6H476M131.3,649.1H142.3M487,649.1H476M131.3,601.6H142.3M487,601.6H476M131.3,554.1H142.3M487,554.1H476" stroke="#555" stroke-width="1" fill="none"/>
<g fill="#80aa4c" clip-path="url(#c3)">
<polygon points="" stroke="#80aa4c" stroke-width="2" stroke-linejoin="round"/>
<polygon points="" stroke="#80aa4c" stroke-width="2" stroke-linejoin="round"/>
<polygon points="" stroke="#80aa4c" stroke-width="2" stroke-linejoin="round"/>
<polygon points="" stroke="#80aa4c" stroke-width="2" stroke-linejoin="round"/>
<polygon points="" stroke="#80aa4c" stroke-width="2" stroke-linejoin="round"/>
<polygon points="" stroke="#80aa4c" stroke-width="2" stroke-linejoin="round"/>
<polygon points="" stroke="#80aa4c" stroke-width="2" stroke-linejoin="round"/>
<polygon points="" stroke="#80aa4c" stroke-width="2" stroke-linejoin="round"/>
<polygon points="" stroke="#80aa4c" stroke-width="2" stroke-linejoin="round"/>
<polygon points="" stroke="#80aa4c" stroke-width="2" stroke-linejoin="round"/>
<polygon points="" stroke="#80aa4c" stroke-width="2" stroke-linejoin="round"/>
<polygon points="" stroke="#80aa4c" stroke-width="2" stroke-linejoin="round"/>
<polygon points="" stroke="#80aa4c" stroke-width="2" stroke-linejoin="round"/>
<polygon points="" stroke="#80aa4c" stroke-width="2" stroke-linejoin="round"/>
<polygon points="" stroke="#80aa4c" stroke-width="2" stroke-linejoin="round"/>
</g>
<g fill="#80aa4c">
<circle cx="323.9" cy="595.9" r="2.15"/>
<circle cx="323.9" cy="603.0" r="2.15"/>
<circle cx="319.4" cy="653.2" r="2.15"/>
<circle cx="351.1" cy="587.6" r="2.15"/>
<circle cx="384.4" cy="542.5" r="2.15"/>
<circle cx="368.8" cy="559.5" r="2.15"/>
<circle cx="377.3" cy="577.1" r="2.15"/>
<circle cx="368.8" cy="597.2" r="2.15"/>
<circle cx="372.6" cy="593.5" r="2.15"/>
<circle cx="372.6" cy="600.5" r="2.15"/>
<circle cx="377.2" cy="591.5" r="2.15"/>
<circle cx="377.3" cy="599.5" r="2.15"/>
<circle cx="380.9" cy="591.4" r="2.15"/>
<circle cx="380.9" cy="600.4" r="2.15"/>
<circle cx="384.4" cy="597.2" r="2.15"/>
<circle cx="372.4" cy="608.7" r="2.15"/>
<circle cx="375.1" cy="608.2" r="2.15"/>
<circle cx="377.2" cy="606.5" r="2.15"/>
<circle cx="377.2" cy="609.7" r="2.15"/>
<circle cx="377.2" cy="614.2" r="2.15"/>
<circle cx="380.9" cy="608.8" r="2.15"/>
<circle cx="380.9" cy="613.9" r="2.15"/>
<circle cx="374.9" cy="615.2" r="2.15"/>
<circle cx="380.9" cy="623.4" r="2.15"/>
<circle cx="382.1" cy="629.3" r="2.15"/>
<circle cx="384.5" cy="627.6" r="2.15"/>
<circle cx="381.9" cy="634.4" r="2.15"/>
<circle cx="384.5" cy="634.4" r="2.15"/>
<circle cx="380.9" cy="641.7" r="2.15"/>
<circle cx="381.9" cy="648.1" r="2.15"/>
<circle cx="380.8" cy="650.6" r="2.15"/>
<circle cx="381.3" cy="653.2" r="2.15"/>
<circle cx="382.1" cy="655.1" r="2.15"/>
<circle cx="384.5" cy="660.9" r="2.15"/>
<circle cx="397.4" cy="657.4" r="2.15"/>
<circle cx="405.8" cy="660.9" r="2.15"/>
<circle cx="371.3" cy="617.4" r="2.15"/>
<circle cx="372.0" cy="620.6" r="2.15"/>
<circle cx="371.3" cy="623.1" r="2.15"/>
<circle cx="372.4" cy="625.7" r="2.15"/>
<circle cx="371.6" cy="628.2" r="2.15"/>
<circle cx="372.4" cy="630.8" r="2.15"/>
<circle cx="371.6" cy="634.6" r="2.15"/>
<circle cx="372.2" cy="638.5" r="2.15"/>
<circle cx="372.4" cy="642.3" r="2.15"/>
<circle cx="371.9" cy="646.2" r="2.15"/>
<circle cx="372.7" cy="648.7" r="2.15"/>
<circle cx="371.6" cy="652.6" r="2.15"/>
<circle cx="372.4" cy="655.1" r="2.15"/>
<circle cx="371.9" cy="658.3" r="2.15"/>
<circle cx="372.7" cy="661.5" r="2.15"/>
<circle cx="374.9" cy="620.6" r="2.15"/>
<circle cx="374.9" cy="624.4" r="2.15"/>
<circle cx="374.9" cy="628.2" r="2.15"/>
<circle cx="375.1" cy="644.9" r="2.15"/>
<circle cx="375.1" cy="657.0" r="2.15"/>
<circle cx="376.0" cy="660.2" r="2.15"/>
<circle cx="377.4" cy="621.9" r="2.15"/>
<circle cx="377.4" cy="625.0" r="2.15"/>
<circle cx="377.2" cy="632.1" r="2.15"/>
<circle cx="377.4" cy="634.6" r="2.15"/>
<circle cx="377.4" cy="638.5" r="2.15"/>
<circle cx="377.4" cy="642.3" r="2.15"/>
<circle cx="377.2" cy="647.4" r="2.15"/>
<circle cx="377.3" cy="652.6" r="2.15"/>
<circle cx="319.4" cy="687.0" r="2.15"/>
<circle cx="324.1" cy="693.7" r="2.15"/>
<circle cx="311.2" cy="701.9" r="2.15"/>
<circle cx="326.4" cy="706.8" r="2.15"/>
<circle cx="326.5" cy="716.1" r="2.15"/>
<circle cx="326.3" cy="729.8" r="2.15"/>
<circle cx="339.5" cy="734.4" r="2.15"/>
<circle cx="347.7" cy="684.4" r="2.15"/>
<circle cx="351.1" cy="688.6" r="2.15"/>
<circle cx="319.4" cy="772.3" r="2.15"/>
<circle cx="319.4" cy="776.5" r="2.15"/>
<circle cx="352.6" cy="667.1" r="2.15"/>
<circle cx="371.6" cy="669.4" r="2.15"/>
<circle cx="371.3" cy="679.5" r="2.15"/>
<circle cx="374.9" cy="664.6" r="2.15"/>
<circle cx="376.0" cy="664.6" r="2.15"/>
<circle cx="377.2" cy="664.3" r="2.15"/>
<circle cx="381.9" cy="665.2" r="2.15"/>
<circle cx="381.3" cy="669.7" r="2.15"/>
<circle cx="382.1" cy="669.4" r="2.15"/>
<circle cx="374.9" cy="675.5" r="2.15"/>
<circle cx="376.0" cy="672.9" r="2.15"/>
<circle cx="377.4" cy="672.5" r="2.15"/>
<circle cx="374.9" cy="681.8" r="2.15"/>
<circle cx="376.0" cy="679.9" r="2.15"/>
<circle cx="375.8" cy="684.4" r="2.15"/>
<circle cx="376.0" cy="687.6" r="2.15"/>
<circle cx="375.2" cy="690.8" r="2.15"/>
<circle cx="376.3" cy="690.2" r="2.15"/>
<circle cx="381.3" cy="679.3" r="2.15"/>
<circle cx="382.1" cy="683.1" r="2.15"/>
<circle cx="384.5" cy="678.0" r="2.15"/>
<circle cx="384.5" cy="683.1" r="2.15"/>
<circle cx="384.5" cy="690.8" r="2.15"/>
<circle cx="384.4" cy="696.8" r="2.15"/>
<circle cx="381.3" cy="689.5" r="2.15"/>
<circle cx="382.1" cy="694.0" r="2.15"/>
<circle cx="368.0" cy="694.0" r="2.15"/>
<circle cx="368.0" cy="697.8" r="2.15"/>
<circle cx="368.8" cy="696.6" r="2.15"/>
<circle cx="367.7" cy="705.5" r="2.15"/>
<circle cx="368.0" cy="709.4" r="2.15"/>
<circle cx="368.0" cy="713.8" r="2.15"/>
<circle cx="370.4" cy="707.2" r="2.15"/>
<circle cx="376.2" cy="700.0" r="2.15"/>
<circle cx="377.4" cy="716.4" r="2.15"/>
<circle cx="380.8" cy="707.4" r="2.15"/>
<circle cx="382.1" cy="704.9" r="2.15"/>
<circle cx="380.8" cy="711.3" r="2.15"/>
<circle cx="385.7" cy="708.3" r="2.15"/>
<circle cx="384.5" cy="711.3" r="2.15"/>
<circle cx="380.8" cy="720.2" r="2.15"/>
<circle cx="384.5" cy="726.0" r="2.15"/>
<circle cx="385.7" cy="729.8" r="2.15"/>
<circle cx="377.4" cy="727.9" r="2.15"/>
<circle cx="376.2" cy="732.4" r="2.15"/>
<circle cx="381.0" cy="732.4" r="2.15"/>
<circle cx="367.8" cy="729.8" r="2.15"/>
<circle cx="367.8" cy="731.7" r="2.15"/>
<circle cx="367.7" cy="737.5" r="2.15"/>
<circle cx="367.7" cy="739.8" r="2.15"/>
<circle cx="381.9" cy="744.5" r="2.15"/>
<circle cx="386.9" cy="746.5" r="2.15"/>
<circle cx="385.5" cy="749.0" r="2.15"/>
<circle cx="386.0" cy="752.8" r="2.15"/>
<circle cx="382.1" cy="754.1" r="2.15"/>
<circle cx="382.1" cy="756.7" r="2.15"/>
<circle cx="386.9" cy="755.4" r="2.15"/>
<circle cx="388.0" cy="757.3" r="2.15"/>
<circle cx="386.9" cy="760.5" r="2.15"/>
<circle cx="384.4" cy="762.4" r="2.15"/>
<circle cx="386.9" cy="765.0" r="2.15"/>
<circle cx="367.7" cy="755.2" r="2.15"/>
<circle cx="367.9" cy="763.1" r="2.15"/>
<circle cx="367.9" cy="766.3" r="2.15"/>
<circle cx="352.6" cy="750.3" r="2.15"/>
<circle cx="381.0" cy="778.7" r="2.15"/>
<circle cx="380.8" cy="789.7" r="2.15"/>
<circle cx="387.8" cy="773.3" r="2.15"/>
<circle cx="386.0" cy="778.4" r="2.15"/>
<circle cx="389.1" cy="781.6" r="2.15"/>
<circle cx="388.5" cy="784.8" r="2.15"/>
<circle cx="389.1" cy="788.7" r="2.15"/>
<circle cx="385.5" cy="785.5" r="2.15"/>
<circle cx="389.1" cy="791.9" r="2.15"/>
<circle cx="366.6" cy="793.1" r="2.15"/>
<circle cx="370.4" cy="792.8" r="2.15"/>
<circle cx="423.5" cy="777.2" r="2.15"/>
<circle cx="314.9" cy="802.2" r="2.15"/>
<circle cx="314.9" cy="810.5" r="2.15"/>
<circle cx="311.2" cy="818.6" r="2.15"/>
<circle cx="311.0" cy="822.7" r="2.15"/>
<circle cx="314.6" cy="824.4" r="2.15"/>
<circle cx="315.7" cy="820.9" r="2.15"/>
<circle cx="319.5" cy="825.0" r="2.15"/>
<circle cx="324.0" cy="830.1" r="2.15"/>
<circle cx="324.0" cy="832.7" r="2.15"/>
<circle cx="326.3" cy="846.5" r="2.15"/>
<circle cx="339.3" cy="815.0" r="2.15"/>
<circle cx="339.3" cy="823.1" r="2.15"/>
<circle cx="343.1" cy="819.5" r="2.15"/>
<circle cx="347.7" cy="810.9" r="2.15"/>
<circle cx="349.2" cy="808.6" r="2.15"/>
<circle cx="350.3" cy="806.8" r="2.15"/>
<circle cx="348.0" cy="825.6" r="2.15"/>
<circle cx="349.2" cy="823.5" r="2.15"/>
<circle cx="350.9" cy="832.0" r="2.15"/>
<circle cx="348.0" cy="844.6" r="2.15"/>
<circle cx="350.1" cy="842.9" r="2.15"/>
<circle cx="350.3" cy="846.7" r="2.15"/>
<circle cx="345.5" cy="853.5" r="2.15"/>
<circle cx="348.9" cy="858.3" r="2.15"/>
<circle cx="350.9" cy="857.0" r="2.15"/>
<circle cx="347.8" cy="863.4" r="2.15"/>
<circle cx="349.2" cy="865.3" r="2.15"/>
<circle cx="349.2" cy="871.1" r="2.15"/>
<circle cx="349.2" cy="875.5" r="2.15"/>
<circle cx="345.5" cy="871.7" r="2.15"/>
<circle cx="343.1" cy="875.8" r="2.15"/>
<circle cx="311.2" cy="862.7" r="2.15"/>
<circle cx="314.9" cy="865.6" r="2.15"/>
<circle cx="315.7" cy="870.8" r="2.15"/>
<circle cx="324.0" cy="870.8" r="2.15"/>
<circle cx="323.2" cy="875.8" r="2.15"/>
<circle cx="311.1" cy="879.4" r="2.15"/>
<circle cx="314.9" cy="879.1" r="2.15"/>
<circle cx="315.1" cy="883.2" r="2.15"/>
<circle cx="316.0" cy="883.2" r="2.15"/>
<circle cx="311.2" cy="887.0" r="2.15"/>
<circle cx="324.0" cy="885.1" r="2.15"/>
<circle cx="319.3" cy="889.6" r="2.15"/>
<circle cx="326.3" cy="891.5" r="2.15"/>
<circle cx="314.9" cy="890.2" r="2.15"/>
<circle cx="316.0" cy="891.5" r="2.15"/>
<circle cx="311.1" cy="896.6" r="2.15"/>
<circle cx="311.0" cy="894.7" r="2.15"/>
<circle cx="335.9" cy="889.6" r="2.15"/>
<circle cx="339.4" cy="891.5" r="2.15"/>
<circle cx="305.2" cy="905.9" r="2.15"/>
<circle cx="313.6" cy="902.4" r="2.15"/>
<circle cx="315.7" cy="904.3" r="2.15"/>
<circle cx="317.1" cy="903.0" r="2.15"/>
<circle cx="317.9" cy="899.8" r="2.15"/>
<circle cx="318.5" cy="903.7" r="2.15"/>
<circle cx="324.0" cy="908.2" r="2.15"/>
<circle cx="326.3" cy="907.5" r="2.15"/>
<circle cx="310.2" cy="915.2" r="2.15"/>
<circle cx="313.6" cy="914.2" r="2.15"/>
<circle cx="316.3" cy="911.4" r="2.15"/>
<circle cx="317.9" cy="909.4" r="2.15"/>
<circle cx="319.0" cy="910.7" r="2.15"/>
<circle cx="319.3" cy="913.9" r="2.15"/>
<circle cx="306.4" cy="920.3" r="2.15"/>
<circle cx="311.3" cy="921.6" r="2.15"/>
<circle cx="315.1" cy="920.3" r="2.15"/>
<circle cx="316.5" cy="920.3" r="2.15"/>
<circle cx="317.3" cy="922.2" r="2.15"/>
<circle cx="322.9" cy="924.8" r="2.15"/>
<circle cx="326.5" cy="924.5" r="2.15"/>
<circle cx="298.2" cy="885.8" r="2.15"/>
<circle cx="300.4" cy="883.8" r="2.15"/>
<circle cx="349.2" cy="882.6" r="2.15"/>
<circle cx="349.5" cy="886.4" r="2.15"/>
<circle cx="348.9" cy="889.0" r="2.15"/>
<circle cx="350.6" cy="906.9" r="2.15"/>
<circle cx="349.8" cy="909.4" r="2.15"/>
<circle cx="349.2" cy="917.1" r="2.15"/>
<circle cx="349.2" cy="919.7" r="2.15"/>
<circle cx="351.2" cy="922.2" r="2.15"/>
<circle cx="341.7" cy="881.3" r="2.15"/>
<circle cx="340.6" cy="883.8" r="2.15"/>
<circle cx="339.5" cy="885.1" r="2.15"/>
<circle cx="343.4" cy="883.8" r="2.15"/>
<circle cx="344.5" cy="881.3" r="2.15"/>
<circle cx="345.3" cy="883.8" r="2.15"/>
<circle cx="345.6" cy="889.0" r="2.15"/>
<circle cx="344.5" cy="890.2" r="2.15"/>
<circle cx="342.9" cy="889.0" r="2.15"/>
<circle cx="341.2" cy="886.4" r="2.15"/>
<circle cx="352.2" cy="828.2" r="2.15"/>
<circle cx="352.5" cy="835.2" r="2.15"/>
<circle cx="353.6" cy="836.5" r="2.15"/>
<circle cx="354.7" cy="836.5" r="2.15"/>
<circle cx="352.5" cy="840.4" r="2.15"/>
<circle cx="353.6" cy="841.6" r="2.15"/>
<circle cx="352.2" cy="845.5" r="2.15"/>
<circle cx="353.6" cy="845.5" r="2.15"/>
<circle cx="352.5" cy="850.6" r="2.15"/>
<circle cx="353.6" cy="851.9" r="2.15"/>
<circle cx="352.2" cy="855.7" r="2.15"/>
<circle cx="353.0" cy="858.3" r="2.15"/>
<circle cx="352.2" cy="862.1" r="2.15"/>
<circle cx="353.3" cy="863.4" r="2.15"/>
<circle cx="352.5" cy="867.2" r="2.15"/>
<circle cx="354.4" cy="869.8" r="2.15"/>
<circle cx="352.8" cy="872.3" r="2.15"/>
<circle cx="353.6" cy="876.2" r="2.15"/>
<circle cx="352.5" cy="878.7" r="2.15"/>
<circle cx="354.7" cy="881.9" r="2.15"/>
<circle cx="351.7" cy="887.7" r="2.15"/>
<circle cx="351.7" cy="892.8" r="2.15"/>
<circle cx="353.9" cy="898.6" r="2.15"/>
<circle cx="351.7" cy="901.8" r="2.15"/>
<circle cx="351.7" cy="906.9" r="2.15"/>
<circle cx="352.5" cy="911.0" r="2.15"/>
<circle cx="353.9" cy="916.5" r="2.15"/>
<circle cx="351.7" cy="920.9" r="2.15"/>
<circle cx="353.8" cy="800.1" r="2.15"/>
<circle cx="366.8" cy="794.9" r="2.15"/>
<circle cx="366.8" cy="799.4" r="2.15"/>
<circle cx="366.8" cy="810.7" r="2.15"/>
<circle cx="366.8" cy="816.7" r="2.15"/>
<circle cx="366.8" cy="819.9" r="2.15"/>
<circle cx="366.8" cy="825.0" r="2.15"/>
<circle cx="367.9" cy="845.2" r="2.15"/>
<circle cx="366.8" cy="851.6" r="2.15"/>
<circle cx="367.7" cy="857.9" r="2.15"/>
<circle cx="376.3" cy="865.0" r="2.15"/>
<circle cx="376.3" cy="874.6" r="2.15"/>
<circle cx="381.0" cy="885.4" r="2.15"/>
<circle cx="376.3" cy="896.3" r="2.15"/>
<circle cx="370.3" cy="905.6" r="2.15"/>
<circle cx="370.3" cy="922.9" r="2.15"/>
<circle cx="381.0" cy="839.7" r="2.15"/>
<circle cx="385.6" cy="838.8" r="2.15"/>
<circle cx="385.6" cy="877.1" r="2.15"/>
<circle cx="385.7" cy="800.1" r="2.15"/>
<circle cx="386.9" cy="798.1" r="2.15"/>
<circle cx="385.7" cy="803.3" r="2.15"/>
<circle cx="389.1" cy="802.0" r="2.15"/>
<circle cx="386.0" cy="810.3" r="2.15"/>
<circle cx="387.4" cy="808.4" r="2.15"/>
<circle cx="390.2" cy="809.6" r="2.15"/>
<circle cx="391.6" cy="810.9" r="2.15"/>
<circle cx="391.3" cy="817.3" r="2.15"/>
<circle cx="391.6" cy="819.9" r="2.15"/>
<circle cx="385.7" cy="818.0" r="2.15"/>
<circle cx="385.6" cy="822.2" r="2.15"/>
<circle cx="388.2" cy="823.7" r="2.15"/>
<circle cx="390.2" cy="826.3" r="2.15"/>
<circle cx="391.8" cy="826.3" r="2.15"/>
<circle cx="392.4" cy="830.1" r="2.15"/>
<circle cx="392.7" cy="832.7" r="2.15"/>
<circle cx="388.0" cy="831.4" r="2.15"/>
<circle cx="388.5" cy="837.2" r="2.15"/>
<circle cx="389.6" cy="837.8" r="2.15"/>
<circle cx="392.7" cy="836.5" r="2.15"/>
<circle cx="393.5" cy="841.6" r="2.15"/>
<circle cx="388.2" cy="842.9" r="2.15"/>
<circle cx="388.2" cy="846.7" r="2.15"/>
<circle cx="388.2" cy="849.3" r="2.15"/>
<circle cx="390.5" cy="846.7" r="2.15"/>
<circle cx="393.5" cy="846.7" r="2.15"/>
<circle cx="390.7" cy="853.1" r="2.15"/>
<circle cx="390.5" cy="857.0" r="2.15"/>
<circle cx="394.1" cy="854.4" r="2.15"/>
<circle cx="390.2" cy="862.1" r="2.15"/>
<circle cx="391.3" cy="863.4" r="2.15"/>
<circle cx="390.2" cy="867.2" r="2.15"/>
<circle cx="391.8" cy="867.2" r="2.15"/>
<circle cx="390.5" cy="871.1" r="2.15"/>
<circle cx="390.2" cy="876.2" r="2.15"/>
<circle cx="392.4" cy="872.3" r="2.15"/>
<circle cx="392.9" cy="876.2" r="2.15"/>
<circle cx="392.4" cy="880.0" r="2.15"/>
<circle cx="394.1" cy="877.5" r="2.15"/>
<circle cx="390.5" cy="882.6" r="2.15"/>
<circle cx="391.6" cy="885.8" r="2.15"/>
<circle cx="393.5" cy="888.3" r="2.15"/>
<circle cx="388.0" cy="864.0" r="2.15"/>
<circle cx="396.3" cy="846.1" r="2.15"/>
<circle cx="397.4" cy="835.5" r="2.15"/>
<circle cx="400.2" cy="847.4" r="2.15"/>
<circle cx="401.3" cy="847.4" r="2.15"/>
<circle cx="396.3" cy="863.4" r="2.15"/>
<circle cx="402.3" cy="863.4" r="2.15"/>
<circle cx="402.3" cy="870.8" r="2.15"/>
<circle cx="399.9" cy="873.4" r="2.15"/>
<circle cx="396.5" cy="871.1" r="2.15"/>
<circle cx="396.5" cy="876.2" r="2.15"/>
<circle cx="405.7" cy="872.3" r="2.15"/>
<circle cx="405.7" cy="885.1" r="2.15"/>
<circle cx="402.3" cy="882.6" r="2.15"/>
<circle cx="399.9" cy="885.1" r="2.15"/>
<circle cx="401.3" cy="887.7" r="2.15"/>
<circle cx="402.4" cy="891.5" r="2.15"/>
<circle cx="400.2" cy="894.1" r="2.15"/>
<circle cx="402.1" cy="896.0" r="2.15"/>
<circle cx="400.2" cy="896.6" r="2.15"/>
<circle cx="396.3" cy="894.1" r="2.15"/>
<circle cx="392.9" cy="896.6" r="2.15"/>
<circle cx="394.1" cy="900.5" r="2.15"/>
<circle cx="396.3" cy="903.0" r="2.15"/>
<circle cx="400.2" cy="908.2" r="2.15"/>
<circle cx="402.3" cy="908.2" r="2.15"/>
<circle cx="397.4" cy="913.3" r="2.15"/>
<circle cx="396.0" cy="917.1" r="2.15"/>
<circle cx="394.1" cy="918.4" r="2.15"/>
<circle cx="399.6" cy="915.8" r="2.15"/>
<circle cx="400.7" cy="920.9" r="2.15"/>
<circle cx="396.3" cy="922.2" r="2.15"/>
<circle cx="407.6" cy="911.4" r="2.15"/>
<circle cx="407.4" cy="923.5" r="2.15"/>
<circle cx="411.6" cy="806.8" r="2.15"/>
<circle cx="411.6" cy="848.4" r="2.15"/>
<circle cx="429.4" cy="838.7" r="2.15"/>
<circle cx="429.4" cy="844.2" r="2.15"/>
<circle cx="427.1" cy="863.8" r="2.15"/>
<circle cx="436.5" cy="886.8" r="2.15"/>
<circle cx="437.8" cy="890.5" r="2.15"/>
<circle cx="427.1" cy="893.4" r="2.15"/>
<circle cx="436.5" cy="900.5" r="2.15"/>
<circle cx="412.8" cy="904.3" r="2.15"/>
<circle cx="412.8" cy="909.4" r="2.15"/>
<circle cx="429.5" cy="905.3" r="2.15"/>
<circle cx="428.2" cy="908.5" r="2.15"/>
<circle cx="427.1" cy="914.3" r="2.15"/>
<circle cx="436.5" cy="912.2" r="2.15"/>
<circle cx="419.9" cy="920.3" r="2.15"/>
<circle cx="423.5" cy="921.6" r="2.15"/>
<circle cx="427.1" cy="922.9" r="2.15"/>
<circle cx="437.8" cy="923.5" r="2.15"/>
<circle cx="436.4" cy="924.8" r="2.15"/>
<circle cx="305.2" cy="906.0" r="2.15"/>
<circle cx="324.1" cy="908.2" r="2.15"/>
<circle cx="326.4" cy="907.6" r="2.15"/>
<circle cx="316.1" cy="912.0" r="2.15"/>
<circle cx="317.5" cy="910.4" r="2.15"/>
<circle cx="319.2" cy="910.0" r="2.15"/>
<circle cx="319.4" cy="914.0" r="2.15"/>
<circle cx="313.6" cy="914.0" r="2.15"/>
<circle cx="310.2" cy="915.5" r="2.15"/>
<circle cx="306.5" cy="920.3" r="2.15"/>
<circle cx="322.8" cy="925.9" r="2.15"/>
<circle cx="326.4" cy="925.2" r="2.15"/>
<circle cx="306.4" cy="938.0" r="2.15"/>
<circle cx="311.6" cy="921.2" r="2.15"/>
<circle cx="312.3" cy="922.4" r="2.15"/>
<circle cx="300.2" cy="938.4" r="2.15"/>
<circle cx="301.2" cy="940.8" r="2.15"/>
<circle cx="297.8" cy="944.4" r="2.15"/>
<circle cx="298.8" cy="944.8" r="2.15"/>
<circle cx="301.6" cy="946.4" r="2.15"/>
<circle cx="309.2" cy="924.8" r="2.15"/>
<circle cx="316.8" cy="920.0" r="2.15"/>
<circle cx="326.4" cy="907.6" r="2.15"/>
<circle cx="326.5" cy="925.2" r="2.15"/>
<circle cx="331.2" cy="923.2" r="2.15"/>
<circle cx="331.2" cy="930.8" r="2.15"/>
<circle cx="349.9" cy="907.2" r="2.15"/>
<circle cx="351.3" cy="906.4" r="2.15"/>
<circle cx="352.7" cy="911.2" r="2.15"/>
<circle cx="353.9" cy="916.8" r="2.15"/>
<circle cx="349.1" cy="918.0" r="2.15"/>
<circle cx="349.1" cy="920.0" r="2.15"/>
<circle cx="351.5" cy="921.2" r="2.15"/>
<circle cx="351.3" cy="926.0" r="2.15"/>
<circle cx="348.9" cy="927.2" r="2.15"/>
<circle cx="349.2" cy="932.4" r="2.15"/>
<circle cx="349.1" cy="934.8" r="2.15"/>
<circle cx="350.3" cy="940.8" r="2.15"/>
<circle cx="350.3" cy="948.8" r="2.15"/>
<circle cx="349.1" cy="954.4" r="2.15"/>
<circle cx="348.9" cy="962.0" r="2.15"/>
<circle cx="349.9" cy="968.8" r="2.15"/>
<circle cx="351.5" cy="969.6" r="2.15"/>
<circle cx="354.9" cy="968.8" r="2.15"/>
<circle cx="345.4" cy="945.6" r="2.15"/>
<circle cx="343.0" cy="946.4" r="2.15"/>
<circle cx="344.4" cy="950.8" r="2.15"/>
<circle cx="342.3" cy="952.8" r="2.15"/>
<circle cx="345.6" cy="953.6" r="2.15"/>
<circle cx="345.6" cy="956.0" r="2.15"/>
<circle cx="340.7" cy="957.2" r="2.15"/>
<circle cx="343.2" cy="959.6" r="2.15"/>
<circle cx="343.2" cy="968.0" r="2.15"/>
<circle cx="333.6" cy="969.6" r="2.15"/>
<circle cx="334.3" cy="908.0" r="2.15"/>
<circle cx="335.4" cy="907.2" r="2.15"/>
<circle cx="351.7" cy="906.7" r="2.15"/>
<circle cx="352.6" cy="911.0" r="2.15"/>
<circle cx="353.9" cy="916.6" r="2.15"/>
<circle cx="351.7" cy="921.5" r="2.15"/>
<circle cx="351.7" cy="925.9" r="2.15"/>
<circle cx="370.4" cy="905.9" r="2.15"/>
<circle cx="370.4" cy="923.0" r="2.15"/>
<circle cx="351.7" cy="969.4" r="2.15"/>
<circle cx="354.8" cy="968.8" r="2.15"/>
<circle cx="394.1" cy="918.3" r="2.15"/>
<circle cx="396.3" cy="914.4" r="2.15"/>
<circle cx="397.4" cy="913.5" r="2.15"/>
<circle cx="396.3" cy="917.6" r="2.15"/>
<circle cx="396.3" cy="920.8" r="2.15"/>
<circle cx="396.3" cy="925.3" r="2.15"/>
<circle cx="396.3" cy="929.1" r="2.15"/>
<circle cx="397.4" cy="929.8" r="2.15"/>
<circle cx="396.3" cy="934.9" r="2.15"/>
<circle cx="396.3" cy="941.9" r="2.15"/>
<circle cx="396.3" cy="949.6" r="2.15"/>
<circle cx="392.8" cy="948.3" r="2.15"/>
<circle cx="394.1" cy="952.8" r="2.15"/>
<circle cx="396.3" cy="956.6" r="2.15"/>
<circle cx="400.2" cy="908.7" r="2.15"/>
<circle cx="401.5" cy="908.0" r="2.15"/>
<circle cx="402.4" cy="908.7" r="2.15"/>
<circle cx="399.9" cy="912.5" r="2.15"/>
<circle cx="400.2" cy="918.3" r="2.15"/>
<circle cx="401.3" cy="920.2" r="2.15"/>
<circle cx="400.2" cy="922.7" r="2.15"/>
<circle cx="401.3" cy="925.3" r="2.15"/>
<circle cx="402.1" cy="928.5" r="2.15"/>
<circle cx="399.9" cy="931.7" r="2.15"/>
<circle cx="399.9" cy="938.1" r="2.15"/>
<circle cx="402.1" cy="939.4" r="2.15"/>
<circle cx="400.2" cy="941.9" r="2.15"/>
<circle cx="402.4" cy="943.8" r="2.15"/>
<circle cx="401.0" cy="956.6" r="2.15"/>
<circle cx="405.7" cy="926.6" r="2.15"/>
<circle cx="407.6" cy="924.0" r="2.15"/>
<circle cx="405.7" cy="940.0" r="2.15"/>
<circle cx="407.6" cy="942.6" r="2.15"/>
<circle cx="405.7" cy="957.3" r="2.15"/>
<circle cx="407.6" cy="958.6" r="2.15"/>
<circle cx="407.6" cy="966.2" r="2.15"/>
<circle cx="407.6" cy="911.9" r="2.15"/>
<circle cx="412.9" cy="905.3" r="2.15"/>
<circle cx="412.9" cy="909.5" r="2.15"/>
<circle cx="408.4" cy="911.6" r="2.15"/>
<circle cx="408.4" cy="924.1" r="2.15"/>
<circle cx="408.4" cy="935.0" r="2.15"/>
<circle cx="408.4" cy="942.2" r="2.15"/>
<circle cx="411.7" cy="926.1" r="2.15"/>
<circle cx="419.8" cy="920.2" r="2.15"/>
<circle cx="423.4" cy="921.5" r="2.15"/>
<circle cx="427.0" cy="914.7" r="2.15"/>
<circle cx="428.2" cy="908.8" r="2.15"/>
<circle cx="429.3" cy="905.9" r="2.15"/>
<circle cx="427.0" cy="923.0" r="2.15"/>
<circle cx="422.3" cy="930.0" r="2.15"/>
<circle cx="419.8" cy="932.9" r="2.15"/>
<circle cx="421.2" cy="933.4" r="2.15"/>
<circle cx="420.1" cy="936.0" r="2.15"/>
<circle cx="421.2" cy="938.1" r="2.15"/>
<circle cx="420.1" cy="940.7" r="2.15"/>
<circle cx="428.4" cy="935.5" r="2.15"/>
<circle cx="429.3" cy="939.1" r="2.15"/>
<circle cx="429.5" cy="943.8" r="2.15"/>
<circle cx="428.4" cy="938.1" r="2.15"/>
<circle cx="422.3" cy="943.3" r="2.15"/>
<circle cx="421.6" cy="946.4" r="2.15"/>
<circle cx="422.5" cy="948.5" r="2.15"/>
<circle cx="421.2" cy="951.6" r="2.15"/>
<circle cx="421.0" cy="953.7" r="2.15"/>
<circle cx="418.7" cy="951.6" r="2.15"/>
<circle cx="424.6" cy="948.5" r="2.15"/>
<circle cx="427.0" cy="954.2" r="2.15"/>
<circle cx="428.4" cy="954.7" r="2.15"/>
<circle cx="423.7" cy="956.8" r="2.15"/>
<circle cx="424.8" cy="959.4" r="2.15"/>
<circle cx="428.4" cy="959.9" r="2.15"/>
<circle cx="429.3" cy="962.0" r="2.15"/>
<circle cx="418.7" cy="961.5" r="2.15"/>
<circle cx="419.8" cy="963.6" r="2.15"/>
<circle cx="421.6" cy="965.1" r="2.15"/>
<circle cx="422.1" cy="967.2" r="2.15"/>
<circle cx="416.2" cy="967.2" r="2.15"/>
<circle cx="418.7" cy="969.8" r="2.15"/>
<circle cx="421.2" cy="968.8" r="2.15"/>
<circle cx="412.9" cy="957.8" r="2.15"/>
<circle cx="408.4" cy="955.8" r="2.15"/>
<circle cx="408.4" cy="959.9" r="2.15"/>
<circle cx="408.4" cy="965.1" r="2.15"/>
<circle cx="436.5" cy="912.1" r="2.15"/>
<circle cx="436.5" cy="925.1" r="2.15"/>
<circle cx="437.8" cy="924.1" r="2.15"/>
<circle cx="436.5" cy="949.0" r="2.15"/>
<circle cx="436.7" cy="952.6" r="2.15"/>
<circle cx="437.8" cy="955.8" r="2.15"/>
<circle cx="442.3" cy="941.2" r="2.15"/>
<circle cx="442.3" cy="947.4" r="2.15"/>
<circle cx="441.4" cy="957.8" r="2.15"/>
<circle cx="443.7" cy="955.8" r="2.15"/>
<circle cx="441.4" cy="961.0" r="2.15"/>
<circle cx="443.7" cy="961.0" r="2.15"/>
<circle cx="442.3" cy="964.1" r="2.15"/>
<circle cx="443.5" cy="965.1" r="2.15"/>
<circle cx="442.3" cy="967.2" r="2.15"/>
<circle cx="326.3" cy="846.4" r="2.15"/>
<circle cx="324.0" cy="870.8" r="2.15"/>
<circle cx="323.4" cy="875.9" r="2.15"/>
<circle cx="324.1" cy="885.2" r="2.15"/>
<circle cx="326.3" cy="891.6" r="2.15"/>
<circle cx="335.9" cy="889.3" r="2.15"/>
<circle cx="339.4" cy="891.6" r="2.15"/>
<circle cx="333.5" cy="906.0" r="2.15"/>
<circle cx="335.8" cy="906.0" r="2.15"/>
<circle cx="338.0" cy="906.0" r="2.15"/>
<circle cx="345.5" cy="853.5" r="2.15"/>
<circle cx="347.8" cy="844.4" r="2.15"/>
<circle cx="350.4" cy="843.9" r="2.15"/>
<circle cx="350.4" cy="847.1" r="2.15"/>
<circle cx="351.0" cy="854.2" r="2.15"/>
<circle cx="351.0" cy="859.3" r="2.15"/>
<circle cx="348.9" cy="858.3" r="2.15"/>
<circle cx="347.7" cy="863.8" r="2.15"/>
<circle cx="349.1" cy="864.4" r="2.15"/>
<circle cx="349.1" cy="868.2" r="2.15"/>
<circle cx="349.1" cy="870.8" r="2.15"/>
<circle cx="351.0" cy="868.2" r="2.15"/>
<circle cx="351.0" cy="873.4" r="2.15"/>
<circle cx="349.1" cy="875.9" r="2.15"/>
<circle cx="345.5" cy="871.4" r="2.15"/>
<circle cx="343.1" cy="875.6" r="2.15"/>
<circle cx="341.9" cy="880.1" r="2.15"/>
<circle cx="339.4" cy="885.5" r="2.15"/>
<circle cx="340.7" cy="883.6" r="2.15"/>
<circle cx="342.1" cy="887.4" r="2.15"/>
<circle cx="343.5" cy="889.3" r="2.15"/>
<circle cx="345.5" cy="880.1" r="2.15"/>
<circle cx="345.2" cy="883.6" r="2.15"/>
<circle cx="345.5" cy="887.4" r="2.15"/>
<circle cx="344.9" cy="890.6" r="2.15"/>
<circle cx="324.0" cy="908.2" r="2.15"/>
<circle cx="326.3" cy="908.2" r="2.15"/>
<circle cx="326.5" cy="925.1" r="2.15"/>
<circle cx="323.3" cy="925.7" r="2.15"/>
<circle cx="331.2" cy="923.2" r="2.15"/>
<circle cx="331.2" cy="931.1" r="2.15"/>
<circle cx="348.9" cy="918.4" r="2.15"/>
<circle cx="348.9" cy="927.3" r="2.15"/>
<circle cx="348.9" cy="933.1" r="2.15"/>
<circle cx="348.9" cy="935.0" r="2.15"/>
<circle cx="350.2" cy="940.5" r="2.15"/>
<circle cx="350.3" cy="948.8" r="2.15"/>
<circle cx="349.1" cy="954.2" r="2.15"/>
<circle cx="348.9" cy="961.9" r="2.15"/>
<circle cx="351.0" cy="920.9" r="2.15"/>
<circle cx="351.0" cy="926.1" r="2.15"/>
<circle cx="343.0" cy="945.9" r="2.15"/>
<circle cx="345.5" cy="945.3" r="2.15"/>
<circle cx="342.4" cy="951.6" r="2.15"/>
<circle cx="344.1" cy="951.0" r="2.15"/>
<circle cx="345.5" cy="954.8" r="2.15"/>
<circle cx="340.7" cy="957.4" r="2.15"/>
<circle cx="343.1" cy="960.0" r="2.15"/>
<circle cx="343.1" cy="967.6" r="2.15"/>
<circle cx="350.2" cy="968.9" r="2.15"/>
<circle cx="349.6" cy="908.8" r="2.15"/>
<circle cx="350.7" cy="910.1" r="2.15"/>
<circle cx="333.8" cy="970.2" r="2.15"/>
<circle cx="298.6" cy="951.4" r="2.15"/>
<circle cx="299.1" cy="954.1" r="2.15"/>
<circle cx="299.3" cy="956.8" r="2.15"/>
<circle cx="298.7" cy="959.4" r="2.15"/>
<circle cx="298.4" cy="962.0" r="2.15"/>
<circle cx="298.5" cy="964.9" r="2.15"/>
<circle cx="299.0" cy="966.5" r="2.15"/>
<circle cx="300.3" cy="966.3" r="2.15"/>
<circle cx="301.3" cy="965.7" r="2.15"/>
<circle cx="301.5" cy="962.8" r="2.15"/>
<circle cx="301.4" cy="960.0" r="2.15"/>
<circle cx="301.3" cy="957.1" r="2.15"/>
<circle cx="301.2" cy="954.3" r="2.15"/>
<circle cx="301.4" cy="951.5" r="2.15"/>
<circle cx="301.5" cy="948.7" r="2.15"/>
<circle cx="301.3" cy="945.8" r="2.15"/>
<circle cx="301.1" cy="943.0" r="2.15"/>
<circle cx="300.5" cy="940.8" r="2.15"/>
<circle cx="300.4" cy="943.7" r="2.15"/>
<circle cx="299.8" cy="945.9" r="2.15"/>
<circle cx="298.6" cy="946.4" r="2.15"/>
<circle cx="298.4" cy="948.6" r="2.15"/>
<circle cx="300.9" cy="946.7" r="2.15"/>
<circle cx="298.7" cy="947.0" r="2.15"/>
<circle cx="299.5" cy="948.5" r="2.15"/>
<circle cx="299.5" cy="949.0" r="2.15"/>
<circle cx="300.9" cy="951.5" r="2.15"/>
<circle cx="299.9" cy="955.0" r="2.15"/>
<circle cx="299.4" cy="956.6" r="2.15"/>
<circle cx="300.9" cy="955.6" r="2.15"/>
<circle cx="299.5" cy="957.9" r="2.15"/>
<circle cx="300.3" cy="958.8" r="2.15"/>
<circle cx="298.6" cy="960.9" r="2.15"/>
<circle cx="299.8" cy="961.8" r="2.15"/>
<circle cx="300.9" cy="962.6" r="2.15"/>
<circle cx="298.7" cy="964.8" r="2.15"/>
<circle cx="300.3" cy="963.6" r="2.15"/>
<circle cx="319.0" cy="949.8" r="2.15"/>
<circle cx="318.8" cy="947.1" r="2.15"/>
<circle cx="318.5" cy="944.4" r="2.15"/>
<circle cx="318.2" cy="941.8" r="2.15"/>
<circle cx="318.0" cy="939.1" r="2.15"/>
<circle cx="318.5" cy="936.6" r="2.15"/>
<circle cx="319.0" cy="934.1" r="2.15"/>
<circle cx="318.8" cy="931.4" r="2.15"/>
<circle cx="318.4" cy="929.0" r="2.15"/>
<circle cx="317.5" cy="927.0" r="2.15"/>
<circle cx="316.7" cy="925.0" r="2.15"/>
<circle cx="316.3" cy="922.4" r="2.15"/>
<circle cx="315.5" cy="921.5" r="2.15"/>
<circle cx="314.3" cy="921.6" r="2.15"/>
<circle cx="313.1" cy="921.8" r="2.15"/>
<circle cx="311.9" cy="922.0" r="2.15"/>
<circle cx="311.0" cy="923.6" r="2.15"/>
<circle cx="310.2" cy="925.7" r="2.15"/>
<circle cx="309.6" cy="928.0" r="2.15"/>
<circle cx="309.3" cy="930.7" r="2.15"/>
<circle cx="309.1" cy="933.4" r="2.15"/>
<circle cx="308.9" cy="936.1" r="2.15"/>
<circle cx="308.0" cy="937.9" r="2.15"/>
<circle cx="307.0" cy="939.4" r="2.15"/>
<circle cx="307.0" cy="942.1" r="2.15"/>
<circle cx="307.0" cy="944.8" r="2.15"/>
<circle cx="307.0" cy="947.6" r="2.15"/>
<circle cx="306.5" cy="950.1" r="2.15"/>
<circle cx="305.9" cy="952.4" r="2.15"/>
<circle cx="305.5" cy="954.9" r="2.15"/>
<circle cx="305.5" cy="957.7" r="2.15"/>
<circle cx="305.4" cy="960.5" r="2.15"/>
<circle cx="305.4" cy="963.2" r="2.15"/>
<circle cx="305.3" cy="966.0" r="2.15"/>
<circle cx="305.3" cy="968.7" r="2.15"/>
<circle cx="306.3" cy="969.1" r="2.15"/>
<circle cx="307.5" cy="969.1" r="2.15"/>
<circle cx="308.7" cy="969.1" r="2.15"/>
<circle cx="309.9" cy="969.1" r="2.15"/>
<circle cx="311.1" cy="969.1" r="2.15"/>
<circle cx="312.3" cy="969.1" r="2.15"/>
<circle cx="313.5" cy="969.1" r="2.15"/>
<circle cx="314.7" cy="969.1" r="2.15"/>
<circle cx="315.9" cy="969.1" r="2.15"/>
<circle cx="317.1" cy="969.1" r="2.15"/>
<circle cx="318.2" cy="969.0" r="2.15"/>
<circle cx="318.5" cy="966.3" r="2.15"/>
<circle cx="318.7" cy="963.6" r="2.15"/>
<circle cx="319.0" cy="960.9" r="2.15"/>
<circle cx="319.0" cy="958.1" r="2.15"/>
<circle cx="319.0" cy="955.4" r="2.15"/>
<circle cx="319.0" cy="952.6" r="2.15"/>
<circle cx="315.8" cy="921.7" r="2.15"/>
<circle cx="311.8" cy="923.7" r="2.15"/>
<circle cx="314.0" cy="926.1" r="2.15"/>
<circle cx="315.0" cy="924.2" r="2.15"/>
<circle cx="316.5" cy="923.8" r="2.15"/>
<circle cx="310.4" cy="926.6" r="2.15"/>
<circle cx="311.5" cy="927.0" r="2.15"/>
<circle cx="313.6" cy="925.1" r="2.15"/>
<circle cx="314.2" cy="927.4" r="2.15"/>
<circle cx="315.3" cy="927.8" r="2.15"/>
<circle cx="317.2" cy="926.4" r="2.15"/>
<circle cx="309.9" cy="930.2" r="2.15"/>
<circle cx="311.0" cy="929.0" r="2.15"/>
<circle cx="312.6" cy="929.0" r="2.15"/>
<circle cx="313.4" cy="928.6" r="2.15"/>
<circle cx="316.3" cy="930.6" r="2.15"/>
<circle cx="317.8" cy="928.8" r="2.15"/>
<circle cx="310.1" cy="933.2" r="2.15"/>
<circle cx="312.0" cy="932.0" r="2.15"/>
<circle cx="314.5" cy="932.0" r="2.15"/>
<circle cx="316.7" cy="932.9" r="2.15"/>
<circle cx="318.5" cy="932.5" r="2.15"/>
<circle cx="310.1" cy="935.5" r="2.15"/>
<circle cx="311.8" cy="933.6" r="2.15"/>
<circle cx="312.9" cy="933.7" r="2.15"/>
<circle cx="314.2" cy="933.1" r="2.15"/>
<circle cx="315.3" cy="934.7" r="2.15"/>
<circle cx="316.6" cy="933.9" r="2.15"/>
<circle cx="308.9" cy="937.5" r="2.15"/>
<circle cx="310.7" cy="937.6" r="2.15"/>
<circle cx="311.4" cy="938.1" r="2.15"/>
<circle cx="313.2" cy="936.0" r="2.15"/>
<circle cx="315.8" cy="938.4" r="2.15"/>
<circle cx="316.4" cy="936.7" r="2.15"/>
<circle cx="309.9" cy="940.7" r="2.15"/>
<circle cx="311.3" cy="939.0" r="2.15"/>
<circle cx="312.3" cy="941.0" r="2.15"/>
<circle cx="313.9" cy="940.0" r="2.15"/>
<circle cx="316.4" cy="940.7" r="2.15"/>
<circle cx="316.9" cy="940.2" r="2.15"/>
<circle cx="309.9" cy="942.1" r="2.15"/>
<circle cx="309.9" cy="944.1" r="2.15"/>
<circle cx="312.3" cy="943.2" r="2.15"/>
<circle cx="313.3" cy="942.4" r="2.15"/>
<circle cx="317.0" cy="942.0" r="2.15"/>
<circle cx="307.2" cy="946.1" r="2.15"/>
<circle cx="308.5" cy="945.1" r="2.15"/>
<circle cx="309.3" cy="945.1" r="2.15"/>
<circle cx="307.5" cy="949.1" r="2.15"/>
<circle cx="309.7" cy="949.4" r="2.15"/>
<circle cx="315.0" cy="947.1" r="2.15"/>
<circle cx="315.7" cy="948.2" r="2.15"/>
<circle cx="317.3" cy="948.2" r="2.15"/>
<circle cx="318.6" cy="948.1" r="2.15"/>
<circle cx="306.1" cy="952.3" r="2.15"/>
<circle cx="307.3" cy="949.1" r="2.15"/>
<circle cx="307.8" cy="949.3" r="2.15"/>
<circle cx="312.3" cy="951.2" r="2.15"/>
<circle cx="314.0" cy="949.9" r="2.15"/>
<circle cx="315.2" cy="950.4" r="2.15"/>
<circle cx="316.6" cy="949.5" r="2.15"/>
<circle cx="318.3" cy="951.6" r="2.15"/>
<circle cx="306.4" cy="953.0" r="2.15"/>
<circle cx="307.4" cy="954.0" r="2.15"/>
<circle cx="309.3" cy="954.2" r="2.15"/>
<circle cx="310.3" cy="953.4" r="2.15"/>
<circle cx="311.8" cy="954.2" r="2.15"/>
<circle cx="312.8" cy="952.4" r="2.15"/>
<circle cx="314.8" cy="951.5" r="2.15"/>
<circle cx="316.1" cy="954.5" r="2.15"/>
<circle cx="317.1" cy="952.2" r="2.15"/>
<circle cx="318.5" cy="954.7" r="2.15"/>
<circle cx="306.0" cy="954.4" r="2.15"/>
<circle cx="307.7" cy="954.8" r="2.15"/>
<circle cx="309.7" cy="955.9" r="2.15"/>
<circle cx="310.9" cy="955.6" r="2.15"/>
<circle cx="312.1" cy="955.9" r="2.15"/>
<circle cx="313.3" cy="955.9" r="2.15"/>
<circle cx="314.9" cy="956.7" r="2.15"/>
<circle cx="317.2" cy="955.2" r="2.15"/>
<circle cx="317.8" cy="955.2" r="2.15"/>
<circle cx="306.6" cy="957.6" r="2.15"/>
<circle cx="307.9" cy="959.5" r="2.15"/>
<circle cx="309.2" cy="957.0" r="2.15"/>
<circle cx="312.0" cy="959.6" r="2.15"/>
<circle cx="312.8" cy="957.9" r="2.15"/>
<circle cx="316.9" cy="959.0" r="2.15"/>
<circle cx="317.9" cy="957.5" r="2.15"/>
<circle cx="306.7" cy="960.9" r="2.15"/>
<circle cx="307.2" cy="961.4" r="2.15"/>
<circle cx="309.5" cy="960.0" r="2.15"/>
<circle cx="311.6" cy="960.4" r="2.15"/>
<circle cx="312.4" cy="962.5" r="2.15"/>
<circle cx="316.5" cy="959.9" r="2.15"/>
<circle cx="306.4" cy="963.9" r="2.15"/>
<circle cx="307.9" cy="962.9" r="2.15"/>
<circle cx="309.2" cy="965.1" r="2.15"/>
<circle cx="310.5" cy="963.2" r="2.15"/>
<circle cx="311.7" cy="963.2" r="2.15"/>
<circle cx="314.7" cy="963.7" r="2.15"/>
<circle cx="315.5" cy="963.7" r="2.15"/>
<circle cx="317.3" cy="963.9" r="2.15"/>
<circle cx="318.6" cy="962.7" r="2.15"/>
<circle cx="305.8" cy="964.6" r="2.15"/>
<circle cx="307.3" cy="966.4" r="2.15"/>
<circle cx="309.7" cy="966.6" r="2.15"/>
<circle cx="311.3" cy="966.7" r="2.15"/>
<circle cx="312.4" cy="967.1" r="2.15"/>
<circle cx="314.1" cy="966.8" r="2.15"/>
<circle cx="315.4" cy="966.0" r="2.15"/>
<circle cx="316.8" cy="967.0" r="2.15"/>
<circle cx="317.3" cy="967.1" r="2.15"/>
<circle cx="322.9" cy="933.4" r="2.15"/>
<circle cx="322.9" cy="935.5" r="2.15"/>
<circle cx="323.4" cy="938.4" r="2.15"/>
<circle cx="323.1" cy="941.3" r="2.15"/>
<circle cx="322.9" cy="944.5" r="2.15"/>
<circle cx="322.8" cy="945.8" r="2.15"/>
<circle cx="322.8" cy="949.0" r="2.15"/>
<circle cx="322.8" cy="950.9" r="2.15"/>
<circle cx="322.8" cy="953.9" r="2.15"/>
<circle cx="322.8" cy="956.0" r="2.15"/>
<circle cx="322.8" cy="958.0" r="2.15"/>
<circle cx="322.8" cy="961.2" r="2.15"/>
<circle cx="322.8" cy="963.3" r="2.15"/>
<circle cx="322.8" cy="965.9" r="2.15"/>
<circle cx="322.8" cy="968.2" r="2.15"/>
<circle cx="345.1" cy="902.1" r="2.15"/>
<circle cx="345.0" cy="899.2" r="2.15"/>
<circle cx="344.9" cy="896.3" r="2.15"/>
<circle cx="343.8" cy="895.3" r="2.15"/>
<circle cx="342.7" cy="895.6" r="2.15"/>
<circle cx="341.7" cy="897.5" r="2.15"/>
<circle cx="341.0" cy="899.6" r="2.15"/>
<circle cx="340.9" cy="902.5" r="2.15"/>
<circle cx="341.1" cy="904.8" r="2.15"/>
<circle cx="342.4" cy="904.8" r="2.15"/>
<circle cx="343.6" cy="904.8" r="2.15"/>
<circle cx="344.9" cy="904.8" r="2.15"/>
<circle cx="343.7" cy="895.4" r="2.15"/>
<circle cx="341.7" cy="898.2" r="2.15"/>
<circle cx="342.8" cy="898.3" r="2.15"/>
<circle cx="344.1" cy="897.4" r="2.15"/>
<circle cx="341.4" cy="900.1" r="2.15"/>
<circle cx="343.8" cy="901.1" r="2.15"/>
<circle cx="344.5" cy="900.4" r="2.15"/>
<circle cx="340.9" cy="903.7" r="2.15"/>
<circle cx="343.1" cy="902.4" r="2.15"/>
<circle cx="350.9" cy="879.0" r="2.15"/>
<circle cx="350.2" cy="881.3" r="2.15"/>
<circle cx="349.5" cy="884.5" r="2.15"/>
<circle cx="349.5" cy="884.7" r="2.15"/>
<circle cx="350.4" cy="886.6" r="2.15"/>
<circle cx="349.8" cy="886.6" r="2.15"/>
<circle cx="350.3" cy="888.7" r="2.15"/>
<circle cx="350.5" cy="891.8" r="2.15"/>
<circle cx="349.0" cy="894.2" r="2.15"/>
<circle cx="350.4" cy="893.6" r="2.15"/>
<circle cx="349.1" cy="896.9" r="2.15"/>
<circle cx="349.7" cy="896.3" r="2.15"/>
<circle cx="348.9" cy="898.2" r="2.15"/>
<circle cx="348.9" cy="899.9" r="2.15"/>
<circle cx="349.3" cy="901.6" r="2.15"/>
<circle cx="349.6" cy="901.2" r="2.15"/>
<circle cx="350.1" cy="904.1" r="2.15"/>
<circle cx="334.1" cy="959.2" r="2.15"/>
<circle cx="334.3" cy="956.5" r="2.15"/>
<circle cx="335.0" cy="954.3" r="2.15"/>
<circle cx="335.9" cy="952.3" r="2.15"/>
<circle cx="336.8" cy="950.3" r="2.15"/>
<circle cx="337.9" cy="949.9" r="2.15"/>
<circle cx="339.0" cy="951.1" r="2.15"/>
<circle cx="339.8" cy="950.0" r="2.15"/>
<circle cx="339.9" cy="947.3" r="2.15"/>
<circle cx="339.9" cy="944.5" r="2.15"/>
<circle cx="340.9" cy="943.2" r="2.15"/>
<circle cx="342.0" cy="944.7" r="2.15"/>
<circle cx="343.0" cy="944.5" r="2.15"/>
<circle cx="343.9" cy="942.7" r="2.15"/>
<circle cx="344.7" cy="940.6" r="2.15"/>
<circle cx="345.2" cy="938.1" r="2.15"/>
<circle cx="345.2" cy="935.3" r="2.15"/>
<circle cx="345.2" cy="932.5" r="2.15"/>
<circle cx="345.3" cy="929.7" r="2.15"/>
<circle cx="345.3" cy="926.9" r="2.15"/>
<circle cx="345.3" cy="924.1" r="2.15"/>
<circle cx="345.4" cy="921.3" r="2.15"/>
<circle cx="345.3" cy="918.5" r="2.15"/>
<circle cx="345.1" cy="915.7" r="2.15"/>
<circle cx="344.9" cy="912.9" r="2.15"/>
<circle cx="344.6" cy="910.2" r="2.15"/>
<circle cx="343.8" cy="908.9" r="2.15"/>
<circle cx="342.6" cy="908.9" r="2.15"/>
<circle cx="341.4" cy="908.9" r="2.15"/>
<circle cx="340.2" cy="908.9" r="2.15"/>
<circle cx="339.0" cy="909.0" r="2.15"/>
<circle cx="338.7" cy="911.7" r="2.15"/>
<circle cx="338.6" cy="914.5" r="2.15"/>
<circle cx="338.4" cy="917.3" r="2.15"/>
<circle cx="338.3" cy="920.1" r="2.15"/>
<circle cx="337.4" cy="921.7" r="2.15"/>
<circle cx="336.3" cy="920.6" r="2.15"/>
<circle cx="335.4" cy="918.8" r="2.15"/>
<circle cx="335.3" cy="916.0" r="2.15"/>
<circle cx="334.5" cy="917.5" r="2.15"/>
<circle cx="333.9" cy="920.0" r="2.15"/>
<circle cx="333.8" cy="922.8" r="2.15"/>
<circle cx="333.7" cy="925.6" r="2.15"/>
<circle cx="333.7" cy="928.4" r="2.15"/>
<circle cx="333.6" cy="931.2" r="2.15"/>
<circle cx="333.6" cy="934.0" r="2.15"/>
<circle cx="333.6" cy="936.8" r="2.15"/>
<circle cx="333.6" cy="939.7" r="2.15"/>
<circle cx="333.6" cy="942.5" r="2.15"/>
<circle cx="333.6" cy="945.3" r="2.15"/>
<circle cx="333.6" cy="948.1" r="2.15"/>
<circle cx="333.6" cy="950.9" r="2.15"/>
<circle cx="333.6" cy="953.7" r="2.15"/>
<circle cx="333.8" cy="956.5" r="2.15"/>
<circle cx="339.1" cy="909.6" r="2.15"/>
<circle cx="338.8" cy="911.9" r="2.15"/>
<circle cx="341.0" cy="911.5" r="2.15"/>
<circle cx="342.9" cy="911.6" r="2.15"/>
<circle cx="338.9" cy="913.2" r="2.15"/>
<circle cx="341.8" cy="914.9" r="2.15"/>
<circle cx="342.8" cy="915.1" r="2.15"/>
<circle cx="344.3" cy="915.7" r="2.15"/>
<circle cx="338.5" cy="917.5" r="2.15"/>
<circle cx="339.0" cy="917.6" r="2.15"/>
<circle cx="340.6" cy="917.4" r="2.15"/>
<circle cx="341.4" cy="916.6" r="2.15"/>
<circle cx="343.3" cy="917.2" r="2.15"/>
<circle cx="334.6" cy="918.4" r="2.15"/>
<circle cx="340.3" cy="920.7" r="2.15"/>
<circle cx="341.7" cy="919.9" r="2.15"/>
<circle cx="342.8" cy="919.3" r="2.15"/>
<circle cx="343.7" cy="921.1" r="2.15"/>
<circle cx="335.5" cy="922.1" r="2.15"/>
<circle cx="337.0" cy="921.6" r="2.15"/>
<circle cx="338.0" cy="922.2" r="2.15"/>
<circle cx="340.6" cy="921.3" r="2.15"/>
<circle cx="340.6" cy="922.9" r="2.15"/>
<circle cx="342.1" cy="922.2" r="2.15"/>
<circle cx="343.2" cy="921.8" r="2.15"/>
<circle cx="334.7" cy="925.6" r="2.15"/>
<circle cx="336.2" cy="924.1" r="2.15"/>
<circle cx="337.4" cy="923.8" r="2.15"/>
<circle cx="339.5" cy="925.1" r="2.15"/>
<circle cx="340.1" cy="925.7" r="2.15"/>
<circle cx="341.5" cy="927.2" r="2.15"/>
<circle cx="344.7" cy="924.4" r="2.15"/>
<circle cx="334.2" cy="927.5" r="2.15"/>
<circle cx="336.1" cy="927.8" r="2.15"/>
<circle cx="338.6" cy="927.8" r="2.15"/>
<circle cx="340.3" cy="926.7" r="2.15"/>
<circle cx="341.1" cy="928.2" r="2.15"/>
<circle cx="345.3" cy="926.6" r="2.15"/>
<circle cx="334.5" cy="931.2" r="2.15"/>
<circle cx="337.1" cy="930.0" r="2.15"/>
<circle cx="337.6" cy="930.3" r="2.15"/>
<circle cx="338.4" cy="931.2" r="2.15"/>
<circle cx="340.8" cy="930.4" r="2.15"/>
<circle cx="341.7" cy="930.9" r="2.15"/>
<circle cx="343.1" cy="929.7" r="2.15"/>
<circle cx="344.6" cy="930.8" r="2.15"/>
<circle cx="334.3" cy="933.8" r="2.15"/>
<circle cx="335.3" cy="932.7" r="2.15"/>
<circle cx="336.4" cy="933.9" r="2.15"/>
<circle cx="339.1" cy="932.5" r="2.15"/>
<circle cx="343.6" cy="932.4" r="2.15"/>
<circle cx="344.9" cy="932.9" r="2.15"/>
<circle cx="335.0" cy="936.3" r="2.15"/>
<circle cx="336.5" cy="937.6" r="2.15"/>
<circle cx="337.9" cy="935.2" r="2.15"/>
<circle cx="339.6" cy="933.7" r="2.15"/>
<circle cx="340.5" cy="936.2" r="2.15"/>
<circle cx="344.5" cy="934.6" r="2.15"/>
<circle cx="334.2" cy="937.4" r="2.15"/>
<circle cx="335.2" cy="937.3" r="2.15"/>
<circle cx="336.9" cy="938.6" r="2.15"/>
<circle cx="339.5" cy="938.7" r="2.15"/>
<circle cx="340.8" cy="937.9" r="2.15"/>
<circle cx="342.3" cy="937.3" r="2.15"/>
<circle cx="343.4" cy="938.6" r="2.15"/>
<circle cx="345.0" cy="938.5" r="2.15"/>
<circle cx="334.4" cy="941.2" r="2.15"/>
<circle cx="335.3" cy="940.2" r="2.15"/>
<circle cx="336.4" cy="940.9" r="2.15"/>
<circle cx="338.0" cy="941.2" r="2.15"/>
<circle cx="340.0" cy="940.6" r="2.15"/>
<circle cx="341.0" cy="939.2" r="2.15"/>
<circle cx="343.8" cy="941.4" r="2.15"/>
<circle cx="334.4" cy="943.2" r="2.15"/>
<circle cx="335.8" cy="945.1" r="2.15"/>
<circle cx="337.0" cy="942.6" r="2.15"/>
<circle cx="338.2" cy="944.3" r="2.15"/>
<circle cx="340.3" cy="941.7" r="2.15"/>
<circle cx="341.3" cy="943.2" r="2.15"/>
<circle cx="342.1" cy="942.2" r="2.15"/>
<circle cx="334.6" cy="945.5" r="2.15"/>
<circle cx="336.6" cy="945.8" r="2.15"/>
<circle cx="337.0" cy="945.5" r="2.15"/>
<circle cx="339.2" cy="945.6" r="2.15"/>
<circle cx="335.2" cy="948.6" r="2.15"/>
<circle cx="337.0" cy="949.1" r="2.15"/>
<circle cx="338.7" cy="946.8" r="2.15"/>
<circle cx="339.3" cy="948.9" r="2.15"/>
<circle cx="333.7" cy="953.8" r="2.15"/>
<circle cx="334.5" cy="951.7" r="2.15"/>
<circle cx="336.0" cy="951.3" r="2.15"/>
<circle cx="338.7" cy="950.4" r="2.15"/>
<circle cx="339.0" cy="968.2" r="2.15"/>
<circle cx="338.6" cy="965.5" r="2.15"/>
<circle cx="338.0" cy="962.9" r="2.15"/>
<circle cx="337.4" cy="960.4" r="2.15"/>
<circle cx="336.7" cy="958.6" r="2.15"/>
<circle cx="336.1" cy="960.9" r="2.15"/>
<circle cx="335.8" cy="963.6" r="2.15"/>
<circle cx="336.0" cy="966.5" r="2.15"/>
<circle cx="336.5" cy="968.2" r="2.15"/>
<circle cx="337.8" cy="968.2" r="2.15"/>
<circle cx="337.2" cy="964.1" r="2.15"/>
<circle cx="336.0" cy="967.8" r="2.15"/>
<circle cx="337.7" cy="966.5" r="2.15"/>
<circle cx="331.2" cy="939.6" r="2.15"/>
<circle cx="331.2" cy="942.0" r="2.15"/>
<circle cx="331.3" cy="947.3" r="2.15"/>
<circle cx="331.3" cy="949.8" r="2.15"/>
<circle cx="331.2" cy="952.5" r="2.15"/>
<circle cx="331.2" cy="954.7" r="2.15"/>
<circle cx="331.2" cy="956.6" r="2.15"/>
<circle cx="331.3" cy="959.0" r="2.15"/>
<circle cx="331.2" cy="961.7" r="2.15"/>
<circle cx="331.2" cy="964.2" r="2.15"/>
<circle cx="331.3" cy="966.8" r="2.15"/>
<circle cx="336.4" cy="907.7" r="2.15"/>
<circle cx="335.1" cy="907.7" r="2.15"/>
<circle cx="333.8" cy="907.7" r="2.15"/>
<circle cx="334.8" cy="909.5" r="2.15"/>
<circle cx="336.1" cy="909.9" r="2.15"/>
<circle cx="337.4" cy="909.9" r="2.15"/>
<circle cx="323.5" cy="933.8" r="2.15"/>
<circle cx="323.6" cy="936.0" r="2.15"/>
<circle cx="323.7" cy="940.5" r="2.15"/>
<circle cx="323.4" cy="943.5" r="2.15"/>
<circle cx="323.4" cy="946.1" r="2.15"/>
<circle cx="323.4" cy="947.9" r="2.15"/>
<circle cx="323.4" cy="950.8" r="2.15"/>
<circle cx="323.4" cy="953.5" r="2.15"/>
<circle cx="323.4" cy="955.7" r="2.15"/>
<circle cx="323.4" cy="956.8" r="2.15"/>
<circle cx="323.4" cy="959.8" r="2.15"/>
<circle cx="323.4" cy="962.5" r="2.15"/>
<circle cx="323.4" cy="965.0" r="2.15"/>
<circle cx="323.4" cy="967.8" r="2.15"/>
<circle cx="371.7" cy="617.3" r="2.15"/>
<circle cx="371.6" cy="620.3" r="2.15"/>
<circle cx="372.3" cy="622.4" r="2.15"/>
<circle cx="371.8" cy="625.4" r="2.15"/>
<circle cx="372.1" cy="627.6" r="2.15"/>
<circle cx="371.6" cy="634.3" r="2.15"/>
<circle cx="372.1" cy="636.8" r="2.15"/>
<circle cx="371.6" cy="639.2" r="2.15"/>
<circle cx="372.1" cy="641.6" r="2.15"/>
<circle cx="372.2" cy="643.4" r="2.15"/>
<circle cx="371.9" cy="646.9" r="2.15"/>
<circle cx="372.2" cy="649.3" r="2.15"/>
<circle cx="371.6" cy="651.4" r="2.15"/>
<circle cx="372.3" cy="653.8" r="2.15"/>
<circle cx="372.0" cy="656.3" r="2.15"/>
<circle cx="372.2" cy="659.0" r="2.15"/>
<circle cx="372.2" cy="660.5" r="2.15"/>
<circle cx="375.0" cy="616.5" r="2.15"/>
<circle cx="374.9" cy="621.2" r="2.15"/>
<circle cx="375.0" cy="625.5" r="2.15"/>
<circle cx="375.0" cy="657.7" r="2.15"/>
<circle cx="375.7" cy="661.4" r="2.15"/>
<circle cx="375.5" cy="662.3" r="2.15"/>
<circle cx="375.7" cy="662.6" r="2.15"/>
<circle cx="377.3" cy="622.1" r="2.15"/>
<circle cx="377.3" cy="623.9" r="2.15"/>
<circle cx="377.3" cy="626.4" r="2.15"/>
<circle cx="377.3" cy="628.6" r="2.15"/>
<circle cx="377.3" cy="631.9" r="2.15"/>
<circle cx="377.3" cy="633.6" r="2.15"/>
<circle cx="377.3" cy="636.6" r="2.15"/>
<circle cx="377.4" cy="641.2" r="2.15"/>
<circle cx="268.1" cy="567.1" r="2.15"/>
<circle cx="270.7" cy="625.1" r="2.15"/>
<circle cx="270.7" cy="701.8" r="2.15"/>
<circle cx="270.7" cy="743.6" r="2.15"/>
<circle cx="270.7" cy="746.6" r="2.15"/>
<circle cx="270.7" cy="751.0" r="2.15"/>
<circle cx="281.6" cy="743.4" r="2.15"/>
<circle cx="153.3" cy="758.9" r="2.15"/>
<circle cx="213.8" cy="755.9" r="2.15"/>
<circle cx="228.0" cy="756.8" r="2.15"/>
<circle cx="252.8" cy="772.1" r="2.15"/>
<circle cx="263.7" cy="780.9" r="2.15"/>
<circle cx="281.6" cy="784.7" r="2.15"/>
<circle cx="270.7" cy="791.9" r="2.15"/>
<circle cx="193.6" cy="811.3" r="2.15"/>
<circle cx="266.9" cy="835.0" r="2.15"/>
<circle cx="268.1" cy="837.1" r="2.15"/>
<circle cx="281.6" cy="831.8" r="2.15"/>
<circle cx="281.6" cy="836.8" r="2.15"/>
<circle cx="283.6" cy="841.9" r="2.15"/>
<circle cx="283.6" cy="854.3" r="2.15"/>
<circle cx="280.1" cy="868.7" r="2.15"/>
<circle cx="210.1" cy="878.9" r="2.15"/>
<circle cx="266.9" cy="878.4" r="2.15"/>
<circle cx="210.0" cy="879.4" r="2.15"/>
<circle cx="185.3" cy="890.0" r="2.15"/>
<circle cx="195.8" cy="896.1" r="2.15"/>
<circle cx="212.5" cy="903.3" r="2.15"/>
<circle cx="212.5" cy="918.7" r="2.15"/>
<circle cx="167.6" cy="920.0" r="2.15"/>
<circle cx="175.8" cy="925.2" r="2.15"/>
<circle cx="186.4" cy="920.2" r="2.15"/>
<circle cx="192.5" cy="924.6" r="2.15"/>
<circle cx="183.0" cy="934.3" r="2.15"/>
<circle cx="179.5" cy="939.7" r="2.15"/>
<circle cx="181.8" cy="943.3" r="2.15"/>
<circle cx="193.6" cy="938.5" r="2.15"/>
<circle cx="203.3" cy="938.5" r="2.15"/>
<circle cx="195.8" cy="947.1" r="2.15"/>
<circle cx="174.8" cy="953.9" r="2.15"/>
<circle cx="180.7" cy="954.3" r="2.15"/>
<circle cx="185.3" cy="957.2" r="2.15"/>
<circle cx="190.2" cy="957.2" r="2.15"/>
<circle cx="195.8" cy="956.4" r="2.15"/>
<circle cx="202.0" cy="954.6" r="2.15"/>
<circle cx="168.9" cy="958.0" r="2.15"/>
<circle cx="171.3" cy="960.8" r="2.15"/>
<circle cx="172.3" cy="967.9" r="2.15"/>
<circle cx="178.2" cy="965.6" r="2.15"/>
<circle cx="181.2" cy="966.9" r="2.15"/>
<circle cx="184.3" cy="965.9" r="2.15"/>
<circle cx="186.9" cy="962.3" r="2.15"/>
<circle cx="189.4" cy="962.8" r="2.15"/>
<circle cx="189.4" cy="966.4" r="2.15"/>
<circle cx="190.5" cy="969.0" r="2.15"/>
<circle cx="202.8" cy="959.2" r="2.15"/>
<circle cx="201.8" cy="964.3" r="2.15"/>
<circle cx="204.8" cy="962.3" r="2.15"/>
<circle cx="205.9" cy="967.4" r="2.15"/>
<circle cx="208.9" cy="952.0" r="2.15"/>
<circle cx="212.0" cy="951.0" r="2.15"/>
<circle cx="214.1" cy="944.9" r="2.15"/>
<circle cx="213.0" cy="957.2" r="2.15"/>
<circle cx="208.9" cy="964.3" r="2.15"/>
<circle cx="214.1" cy="962.3" r="2.15"/>
<circle cx="210.1" cy="879.4" r="2.15"/>
<circle cx="267.0" cy="878.7" r="2.15"/>
<circle cx="270.6" cy="885.9" r="2.15"/>
<circle cx="280.2" cy="887.9" r="2.15"/>
<circle cx="250.4" cy="892.6" r="2.15"/>
<circle cx="259.9" cy="895.9" r="2.15"/>
<circle cx="281.4" cy="898.2" r="2.15"/>
<circle cx="212.7" cy="903.3" r="2.15"/>
<circle cx="237.6" cy="910.0" r="2.15"/>
<circle cx="277.8" cy="909.0" r="2.15"/>
<circle cx="212.7" cy="918.7" r="2.15"/>
<circle cx="219.9" cy="920.8" r="2.15"/>
<circle cx="219.9" cy="931.5" r="2.15"/>
<circle cx="226.0" cy="933.1" r="2.15"/>
<circle cx="228.1" cy="937.2" r="2.15"/>
<circle cx="236.3" cy="934.3" r="2.15"/>
<circle cx="245.0" cy="932.0" r="2.15"/>
<circle cx="245.0" cy="935.6" r="2.15"/>
<circle cx="247.0" cy="923.8" r="2.15"/>
<circle cx="250.6" cy="924.9" r="2.15"/>
<circle cx="261.2" cy="926.4" r="2.15"/>
<circle cx="269.1" cy="920.2" r="2.15"/>
<circle cx="267.6" cy="925.4" r="2.15"/>
<circle cx="277.3" cy="923.3" r="2.15"/>
<circle cx="279.9" cy="870.0" r="2.15"/>
<circle cx="220.4" cy="955.1" r="2.15"/>
<circle cx="220.4" cy="958.2" r="2.15"/>
<circle cx="219.4" cy="968.4" r="2.15"/>
<circle cx="278.8" cy="914.1" r="2.15"/>
<circle cx="282.9" cy="913.1" r="2.15"/>
<circle cx="286.0" cy="915.1" r="2.15"/>
<circle cx="281.9" cy="920.2" r="2.15"/>
<circle cx="284.0" cy="925.4" r="2.15"/>
<circle cx="288.1" cy="923.3" r="2.15"/>
<circle cx="288.1" cy="927.4" r="2.15"/>
<circle cx="285.0" cy="935.6" r="2.15"/>
<circle cx="287.0" cy="941.8" r="2.15"/>
<circle cx="212.7" cy="903.3" r="2.15"/>
<circle cx="237.6" cy="909.9" r="2.15"/>
<circle cx="212.7" cy="918.7" r="2.15"/>
<circle cx="220.0" cy="920.9" r="2.15"/>
<circle cx="192.6" cy="924.5" r="2.15"/>
<circle cx="220.0" cy="931.5" r="2.15"/>
<circle cx="225.5" cy="932.9" r="2.15"/>
<circle cx="228.1" cy="937.0" r="2.15"/>
<circle cx="236.5" cy="934.3" r="2.15"/>
<circle cx="193.7" cy="938.4" r="2.15"/>
<circle cx="203.2" cy="938.4" r="2.15"/>
<circle cx="195.9" cy="947.2" r="2.15"/>
<circle cx="213.8" cy="944.7" r="2.15"/>
<circle cx="220.7" cy="944.3" r="2.15"/>
<circle cx="219.3" cy="946.1" r="2.15"/>
<circle cx="217.1" cy="947.6" r="2.15"/>
<circle cx="214.9" cy="949.0" r="2.15"/>
<circle cx="212.0" cy="950.5" r="2.15"/>
<circle cx="209.0" cy="950.5" r="2.15"/>
<circle cx="208.3" cy="953.4" r="2.15"/>
<circle cx="220.0" cy="952.0" r="2.15"/>
<circle cx="220.7" cy="955.6" r="2.15"/>
<circle cx="221.1" cy="957.8" r="2.15"/>
<circle cx="214.2" cy="956.4" r="2.15"/>
<circle cx="212.7" cy="958.6" r="2.15"/>
<circle cx="215.6" cy="960.8" r="2.15"/>
<circle cx="214.2" cy="963.0" r="2.15"/>
<circle cx="212.0" cy="965.2" r="2.15"/>
<circle cx="209.0" cy="965.9" r="2.15"/>
<circle cx="206.1" cy="964.4" r="2.15"/>
<circle cx="203.2" cy="963.0" r="2.15"/>
<circle cx="201.7" cy="960.0" r="2.15"/>
<circle cx="202.1" cy="954.5" r="2.15"/>
<circle cx="195.9" cy="956.4" r="2.15"/>
<circle cx="190.7" cy="957.1" r="2.15"/>
<circle cx="190.7" cy="963.0" r="2.15"/>
<circle cx="191.5" cy="968.1" r="2.15"/>
<circle cx="204.6" cy="968.8" r="2.15"/>
<circle cx="208.3" cy="967.3" r="2.15"/>
<circle cx="214.9" cy="970.3" r="2.15"/>
<circle cx="220.0" cy="968.1" r="2.15"/>
<circle cx="225.9" cy="963.0" r="2.15"/>
<circle cx="226.6" cy="965.9" r="2.15"/>
<circle cx="225.1" cy="968.8" r="2.15"/>
<circle cx="228.1" cy="957.8" r="2.15"/>
<circle cx="231.0" cy="958.6" r="2.15"/>
<circle cx="211.2" cy="961.5" r="2.15"/>
<circle cx="204.6" cy="965.9" r="2.15"/>
<circle cx="200.2" cy="964.4" r="2.15"/>
<circle cx="223.7" cy="960.0" r="2.15"/>
<circle cx="224.4" cy="957.1" r="2.15"/>
<circle cx="226.5" cy="968.5" r="2.15"/>
<circle cx="229.2" cy="968.5" r="2.15"/>
<circle cx="231.9" cy="968.5" r="2.15"/>
<circle cx="234.7" cy="968.5" r="2.15"/>
<circle cx="237.4" cy="968.5" r="2.15"/>
<circle cx="240.1" cy="968.5" r="2.15"/>
<circle cx="242.8" cy="968.5" r="2.15"/>
<circle cx="245.6" cy="968.5" r="2.15"/>
<circle cx="248.3" cy="968.5" r="2.15"/>
<circle cx="251.0" cy="968.5" r="2.15"/>
<circle cx="253.7" cy="968.5" r="2.15"/>
<circle cx="256.5" cy="968.5" r="2.15"/>
<circle cx="259.2" cy="968.5" r="2.15"/>
<circle cx="261.9" cy="968.5" r="2.15"/>
<circle cx="264.6" cy="968.5" r="2.15"/>
<circle cx="267.4" cy="968.5" r="2.15"/>
<circle cx="270.1" cy="968.5" r="2.15"/>
<circle cx="272.8" cy="968.5" r="2.15"/>
<circle cx="275.5" cy="968.5" r="2.15"/>
<circle cx="278.3" cy="968.5" r="2.15"/>
<circle cx="281.0" cy="968.5" r="2.15"/>
<circle cx="283.7" cy="968.5" r="2.15"/>
<circle cx="286.5" cy="968.5" r="2.15"/>
<circle cx="288.1" cy="967.4" r="2.15"/>
<circle cx="288.1" cy="964.7" r="2.15"/>
<circle cx="288.1" cy="962.0" r="2.15"/>
<circle cx="288.1" cy="959.2" r="2.15"/>
<circle cx="288.1" cy="956.5" r="2.15"/>
<circle cx="288.1" cy="953.8" r="2.15"/>
<circle cx="288.1" cy="951.1" r="2.15"/>
<circle cx="287.4" cy="948.5" r="2.15"/>
<circle cx="286.5" cy="945.9" r="2.15"/>
<circle cx="285.5" cy="943.4" r="2.15"/>
<circle cx="285.1" cy="940.7" r="2.15"/>
<circle cx="285.4" cy="938.0" r="2.15"/>
<circle cx="285.7" cy="935.3" r="2.15"/>
<circle cx="286.0" cy="932.6" r="2.15"/>
<circle cx="286.3" cy="929.9" r="2.15"/>
<circle cx="286.6" cy="927.2" r="2.15"/>
<circle cx="286.8" cy="924.5" r="2.15"/>
<circle cx="286.3" cy="922.0" r="2.15"/>
<circle cx="284.7" cy="919.8" r="2.15"/>
<circle cx="283.1" cy="917.6" r="2.15"/>
<circle cx="281.4" cy="919.4" r="2.15"/>
<circle cx="279.8" cy="921.6" r="2.15"/>
<circle cx="278.1" cy="923.8" r="2.15"/>
<circle cx="276.0" cy="925.5" r="2.15"/>
<circle cx="273.9" cy="927.2" r="2.15"/>
<circle cx="271.5" cy="928.4" r="2.15"/>
<circle cx="269.5" cy="926.8" r="2.15"/>
<circle cx="267.9" cy="924.6" r="2.15"/>
<circle cx="266.3" cy="922.9" r="2.15"/>
<circle cx="264.7" cy="925.1" r="2.15"/>
<circle cx="263.1" cy="927.3" r="2.15"/>
<circle cx="261.5" cy="929.5" r="2.15"/>
<circle cx="259.9" cy="931.7" r="2.15"/>
<circle cx="257.4" cy="932.4" r="2.15"/>
<circle cx="254.7" cy="932.1" r="2.15"/>
<circle cx="252.0" cy="931.7" r="2.15"/>
<circle cx="249.3" cy="931.7" r="2.15"/>
<circle cx="246.9" cy="932.8" r="2.15"/>
<circle cx="245.4" cy="935.0" r="2.15"/>
<circle cx="243.9" cy="937.3" r="2.15"/>
<circle cx="242.4" cy="939.6" r="2.15"/>
<circle cx="240.6" cy="941.6" r="2.15"/>
<circle cx="237.9" cy="942.0" r="2.15"/>
<circle cx="235.2" cy="942.3" r="2.15"/>
<circle cx="232.5" cy="942.6" r="2.15"/>
<circle cx="231.3" cy="944.8" r="2.15"/>
<circle cx="230.4" cy="947.4" r="2.15"/>
<circle cx="229.5" cy="949.9" r="2.15"/>
<circle cx="228.6" cy="952.5" r="2.15"/>
<circle cx="227.7" cy="955.1" r="2.15"/>
<circle cx="226.8" cy="957.6" r="2.15"/>
<circle cx="226.5" cy="960.3" r="2.15"/>
<circle cx="226.5" cy="963.0" r="2.15"/>
<circle cx="226.5" cy="965.8" r="2.15"/>
<circle cx="281.1" cy="920.1" r="2.15"/>
<circle cx="283.7" cy="919.3" r="2.15"/>
<circle cx="280.7" cy="922.5" r="2.15"/>
<circle cx="266.4" cy="925.1" r="2.15"/>
<circle cx="278.9" cy="925.7" r="2.15"/>
<circle cx="280.4" cy="925.9" r="2.15"/>
<circle cx="283.3" cy="926.1" r="2.15"/>
<circle cx="266.6" cy="928.7" r="2.15"/>
<circle cx="274.0" cy="928.5" r="2.15"/>
<circle cx="277.4" cy="927.2" r="2.15"/>
<circle cx="283.0" cy="928.2" r="2.15"/>
<circle cx="260.5" cy="931.4" r="2.15"/>
<circle cx="263.7" cy="930.6" r="2.15"/>
<circle cx="264.9" cy="929.7" r="2.15"/>
<circle cx="269.0" cy="929.6" r="2.15"/>
<circle cx="273.3" cy="929.6" r="2.15"/>
<circle cx="276.4" cy="929.7" r="2.15"/>
<circle cx="280.5" cy="930.7" r="2.15"/>
<circle cx="285.8" cy="929.7" r="2.15"/>
<circle cx="247.7" cy="933.6" r="2.15"/>
<circle cx="250.4" cy="933.0" r="2.15"/>
<circle cx="259.8" cy="931.9" r="2.15"/>
<circle cx="262.7" cy="933.1" r="2.15"/>
<circle cx="265.0" cy="932.3" r="2.15"/>
<circle cx="269.5" cy="932.1" r="2.15"/>
<circle cx="272.2" cy="932.6" r="2.15"/>
<circle cx="273.2" cy="931.5" r="2.15"/>
<circle cx="277.1" cy="932.7" r="2.15"/>
<circle cx="280.6" cy="931.1" r="2.15"/>
<circle cx="282.2" cy="932.4" r="2.15"/>
<circle cx="285.4" cy="931.8" r="2.15"/>
<circle cx="246.9" cy="935.9" r="2.15"/>
<circle cx="251.9" cy="936.9" r="2.15"/>
<circle cx="255.1" cy="934.8" r="2.15"/>
<circle cx="261.3" cy="935.9" r="2.15"/>
<circle cx="263.9" cy="936.2" r="2.15"/>
<circle cx="269.4" cy="936.4" r="2.15"/>
<circle cx="273.6" cy="935.4" r="2.15"/>
<circle cx="275.2" cy="935.1" r="2.15"/>
<circle cx="278.2" cy="935.0" r="2.15"/>
<circle cx="281.1" cy="936.7" r="2.15"/>
<circle cx="284.3" cy="934.1" r="2.15"/>
<circle cx="242.2" cy="939.8" r="2.15"/>
<circle cx="243.4" cy="938.5" r="2.15"/>
<circle cx="247.0" cy="937.5" r="2.15"/>
<circle cx="250.6" cy="937.2" r="2.15"/>
<circle cx="252.8" cy="938.5" r="2.15"/>
<circle cx="257.5" cy="938.8" r="2.15"/>
<circle cx="259.8" cy="939.0" r="2.15"/>
<circle cx="263.4" cy="937.7" r="2.15"/>
<circle cx="269.4" cy="937.6" r="2.15"/>
<circle cx="270.2" cy="937.0" r="2.15"/>
<circle cx="274.2" cy="938.5" r="2.15"/>
<circle cx="278.2" cy="937.1" r="2.15"/>
<circle cx="281.1" cy="938.1" r="2.15"/>
<circle cx="285.1" cy="937.4" r="2.15"/>
<circle cx="240.1" cy="942.8" r="2.15"/>
<circle cx="251.1" cy="941.3" r="2.15"/>
<circle cx="258.3" cy="939.7" r="2.15"/>
<circle cx="274.4" cy="940.5" r="2.15"/>
<circle cx="276.9" cy="941.1" r="2.15"/>
<circle cx="279.0" cy="941.9" r="2.15"/>
<circle cx="282.6" cy="941.3" r="2.15"/>
<circle cx="232.3" cy="945.2" r="2.15"/>
<circle cx="234.3" cy="942.8" r="2.15"/>
<circle cx="240.4" cy="943.6" r="2.15"/>
<circle cx="240.6" cy="943.7" r="2.15"/>
<circle cx="247.8" cy="942.5" r="2.15"/>
<circle cx="250.2" cy="941.3" r="2.15"/>
<circle cx="254.0" cy="943.0" r="2.15"/>
<circle cx="257.8" cy="943.6" r="2.15"/>
<circle cx="280.0" cy="943.3" r="2.15"/>
<circle cx="231.3" cy="946.3" r="2.15"/>
<circle cx="234.0" cy="947.9" r="2.15"/>
<circle cx="237.6" cy="945.1" r="2.15"/>
<circle cx="244.1" cy="945.0" r="2.15"/>
<circle cx="244.7" cy="946.1" r="2.15"/>
<circle cx="248.7" cy="945.4" r="2.15"/>
<circle cx="251.3" cy="946.5" r="2.15"/>
<circle cx="253.2" cy="945.9" r="2.15"/>
<circle cx="260.0" cy="946.6" r="2.15"/>
<circle cx="280.4" cy="947.3" r="2.15"/>
<circle cx="280.9" cy="945.4" r="2.15"/>
<circle cx="283.6" cy="946.0" r="2.15"/>
<circle cx="230.0" cy="949.3" r="2.15"/>
<circle cx="232.5" cy="947.9" r="2.15"/>
<circle cx="236.1" cy="947.6" r="2.15"/>
<circle cx="239.1" cy="949.0" r="2.15"/>
<circle cx="243.3" cy="948.8" r="2.15"/>
<circle cx="249.9" cy="948.7" r="2.15"/>
<circle cx="249.9" cy="948.7" r="2.15"/>
<circle cx="252.7" cy="948.3" r="2.15"/>
<circle cx="256.3" cy="947.8" r="2.15"/>
<circle cx="259.0" cy="948.2" r="2.15"/>
<circle cx="261.8" cy="949.2" r="2.15"/>
<circle cx="275.9" cy="947.7" r="2.15"/>
<circle cx="282.9" cy="948.4" r="2.15"/>
<circle cx="286.9" cy="947.2" r="2.15"/>
<circle cx="229.8" cy="951.5" r="2.15"/>
<circle cx="231.8" cy="951.9" r="2.15"/>
<circle cx="236.6" cy="953.1" r="2.15"/>
<circle cx="239.3" cy="951.3" r="2.15"/>
<circle cx="242.3" cy="951.5" r="2.15"/>
<circle cx="245.6" cy="952.7" r="2.15"/>
<circle cx="249.7" cy="951.7" r="2.15"/>
<circle cx="254.1" cy="951.0" r="2.15"/>
<circle cx="257.7" cy="951.7" r="2.15"/>
<circle cx="260.4" cy="951.2" r="2.15"/>
<circle cx="263.3" cy="950.1" r="2.15"/>
<circle cx="277.7" cy="950.0" r="2.15"/>
<circle cx="279.5" cy="950.9" r="2.15"/>
<circle cx="282.9" cy="952.8" r="2.15"/>
<circle cx="231.4" cy="953.1" r="2.15"/>
<circle cx="232.4" cy="953.7" r="2.15"/>
<circle cx="235.2" cy="953.8" r="2.15"/>
<circle cx="239.9" cy="953.7" r="2.15"/>
<circle cx="241.9" cy="953.5" r="2.15"/>
<circle cx="244.5" cy="953.0" r="2.15"/>
<circle cx="246.2" cy="954.9" r="2.15"/>
<circle cx="250.4" cy="953.1" r="2.15"/>
<circle cx="253.9" cy="954.5" r="2.15"/>
<circle cx="258.1" cy="954.5" r="2.15"/>
<circle cx="262.1" cy="954.8" r="2.15"/>
<circle cx="262.9" cy="953.8" r="2.15"/>
<circle cx="274.3" cy="954.1" r="2.15"/>
<circle cx="278.6" cy="952.9" r="2.15"/>
<circle cx="279.6" cy="954.0" r="2.15"/>
<circle cx="284.1" cy="953.0" r="2.15"/>
<circle cx="286.1" cy="953.8" r="2.15"/>
<circle cx="231.5" cy="956.9" r="2.15"/>
<circle cx="235.3" cy="956.8" r="2.15"/>
<circle cx="245.4" cy="956.8" r="2.15"/>
<circle cx="250.3" cy="956.6" r="2.15"/>
<circle cx="251.3" cy="955.7" r="2.15"/>
<circle cx="254.5" cy="956.4" r="2.15"/>
<circle cx="256.7" cy="956.2" r="2.15"/>
<circle cx="261.1" cy="958.1" r="2.15"/>
<circle cx="263.7" cy="954.9" r="2.15"/>
<circle cx="273.1" cy="957.7" r="2.15"/>
<circle cx="275.7" cy="955.7" r="2.15"/>
<circle cx="278.1" cy="955.4" r="2.15"/>
<circle cx="280.7" cy="956.8" r="2.15"/>
<circle cx="284.1" cy="957.3" r="2.15"/>
<circle cx="287.0" cy="956.1" r="2.15"/>
<circle cx="235.6" cy="959.4" r="2.15"/>
<circle cx="236.7" cy="960.3" r="2.15"/>
<circle cx="242.4" cy="959.9" r="2.15"/>
<circle cx="244.4" cy="958.3" r="2.15"/>
<circle cx="249.8" cy="958.9" r="2.15"/>
<circle cx="253.3" cy="959.1" r="2.15"/>
<circle cx="255.8" cy="960.7" r="2.15"/>
<circle cx="258.5" cy="958.3" r="2.15"/>
<circle cx="264.4" cy="959.3" r="2.15"/>
<circle cx="265.1" cy="960.0" r="2.15"/>
<circle cx="269.8" cy="960.3" r="2.15"/>
<circle cx="272.1" cy="959.7" r="2.15"/>
<circle cx="273.5" cy="960.1" r="2.15"/>
<circle cx="279.6" cy="957.6" r="2.15"/>
<circle cx="284.8" cy="960.8" r="2.15"/>
<circle cx="287.6" cy="958.5" r="2.15"/>
<circle cx="228.2" cy="960.6" r="2.15"/>
<circle cx="231.1" cy="961.3" r="2.15"/>
<circle cx="234.3" cy="961.4" r="2.15"/>
<circle cx="243.7" cy="962.2" r="2.15"/>
<circle cx="244.5" cy="961.2" r="2.15"/>
<circle cx="249.1" cy="961.2" r="2.15"/>
<circle cx="252.7" cy="961.8" r="2.15"/>
<circle cx="256.2" cy="962.5" r="2.15"/>
<circle cx="258.7" cy="960.9" r="2.15"/>
<circle cx="260.8" cy="960.9" r="2.15"/>
<circle cx="263.3" cy="961.8" r="2.15"/>
<circle cx="267.0" cy="961.1" r="2.15"/>
<circle cx="269.5" cy="961.8" r="2.15"/>
<circle cx="271.3" cy="961.8" r="2.15"/>
<circle cx="278.9" cy="961.1" r="2.15"/>
<circle cx="281.2" cy="962.7" r="2.15"/>
<circle cx="287.8" cy="962.0" r="2.15"/>
<circle cx="226.7" cy="963.6" r="2.15"/>
<circle cx="231.0" cy="963.9" r="2.15"/>
<circle cx="233.8" cy="965.2" r="2.15"/>
<circle cx="235.1" cy="966.3" r="2.15"/>
<circle cx="239.0" cy="964.0" r="2.15"/>
<circle cx="244.3" cy="963.1" r="2.15"/>
<circle cx="247.2" cy="962.9" r="2.15"/>
<circle cx="251.5" cy="966.7" r="2.15"/>
<circle cx="252.9" cy="963.4" r="2.15"/>
<circle cx="256.1" cy="963.7" r="2.15"/>
<circle cx="260.4" cy="964.7" r="2.15"/>
<circle cx="262.7" cy="964.8" r="2.15"/>
<circle cx="264.5" cy="963.8" r="2.15"/>
<circle cx="269.9" cy="965.4" r="2.15"/>
<circle cx="270.4" cy="964.3" r="2.15"/>
<circle cx="277.1" cy="965.0" r="2.15"/>
<circle cx="280.2" cy="964.1" r="2.15"/>
<circle cx="284.2" cy="963.9" r="2.15"/>
<circle cx="286.1" cy="962.9" r="2.15"/>
<circle cx="229.5" cy="965.9" r="2.15"/>
<circle cx="233.2" cy="965.7" r="2.15"/>
<circle cx="236.8" cy="967.1" r="2.15"/>
<circle cx="240.3" cy="966.1" r="2.15"/>
<circle cx="243.5" cy="966.8" r="2.15"/>
<circle cx="245.0" cy="966.9" r="2.15"/>
<circle cx="248.8" cy="966.1" r="2.15"/>
<circle cx="255.3" cy="964.5" r="2.15"/>
<circle cx="257.3" cy="968.0" r="2.15"/>
<circle cx="260.3" cy="966.6" r="2.15"/>
<circle cx="264.0" cy="966.3" r="2.15"/>
<circle cx="265.8" cy="966.6" r="2.15"/>
<circle cx="271.8" cy="967.4" r="2.15"/>
<circle cx="274.0" cy="967.7" r="2.15"/>
<circle cx="279.1" cy="967.1" r="2.15"/>
<circle cx="281.3" cy="964.9" r="2.15"/>
<circle cx="283.2" cy="966.9" r="2.15"/>
</g>
<polyline points="294.45,970.01 294.71,969.98 294.98,969.95 295.24,969.92 295.50,969.89 295.77,969.86 296.03,969.83 296.30,969.80 296.56,969.77 296.82,969.73 297.09,969.70 297.35,969.67 297.62,969.63 297.88,969.60 298.14,969.56 298.41,969.53 298.67,969.49 298.94,969.45 299.20,969.42 299.46,969.38 299.73,969.34 299.99,969.30 300.26,969.26 300.52,969.22 300.79,969.18 301.05,969.14 301.31,969.09 301.58,969.05 301.84,969.01 302.11,968.96 302.37,968.92 302.63,968.87 302.90,968.82 303.16,968.78 303.43,968.73 303.69,968.68 303.95,968.63 304.22,968.58 304.48,968.53 304.75,968.47 305.01,968.42 305.27,968.37 305.54,968.31 305.80,968.26 306.07,968.20 306.33,968.14 306.59,968.08 306.86,968.02 307.12,967.96 307.39,967.90 307.65,967.84 307.91,967.77 308.18,967.71 308.44,967.64 308.71,967.57 308.97,967.50 309.23,967.43 309.50,967.36 309.76,967.29 310.03,967.22 310.29,967.14 310.55,967.07 310.82,966.99 311.08,966.91 311.35,966.83 311.61,966.75 311.88,966.66 312.14,966.58 312.40,966.49 312.67,966.41 312.93,966.32 313.20,966.23 313.46,966.13 313.72,966.04 313.99,965.94 314.25,965.84 314.52,965.74 314.78,965.64 315.04,965.54 315.31,965.43 315.57,965.33 315.84,965.22 316.10,965.11 316.36,964.99 316.63,964.88 316.89,964.76 317.16,964.64 317.42,964.52 317.68,964.39 317.95,964.27 318.21,964.14 318.48,964.01 318.74,963.87 319.00,963.73 319.27,963.59 319.53,963.45 319.80,963.31 320.06,963.16 320.32,963.01 320.59,962.85 320.85,962.70 321.12,962.54 321.38,962.37 321.65,962.21 321.91,962.04 322.17,961.86 322.44,961.69 322.70,961.51 322.97,961.32 323.23,961.14 323.49,960.95 323.76,960.75 324.02,960.55 324.29,960.35 324.55,960.14 324.81,959.93 325.08,959.71 325.34,959.49 325.61,959.27 325.87,959.04 326.13,958.80 326.40,958.56 326.66,958.32 326.93,958.07 327.19,957.81 327.45,957.55 327.72,957.29 327.98,957.02 328.25,956.74 328.51,956.46 328.77,956.17 329.04,955.87 329.30,955.57 329.57,955.26 329.83,954.94 330.09,954.62 330.36,954.29 330.62,953.96 330.89,953.61 331.15,953.26 331.42,952.90 331.68,952.54 331.94,952.16 332.21,951.78 332.47,951.39 332.74,950.99 333.00,950.58 333.26,950.16 333.53,949.73 333.79,949.29 334.06,948.85 334.32,948.39 334.58,947.92 334.85,947.44 335.11,946.96 335.38,946.45 335.64,945.94 335.90,945.42 336.17,944.88 336.43,944.34 336.70,943.78 336.96,943.20 337.22,942.62 337.49,942.02 337.75,941.40 338.02,940.77 338.28,940.13 338.54,939.47 338.81,938.80 339.07,938.11 339.34,937.41 339.60,936.69 339.86,935.95 340.13,935.19 340.39,934.42 340.66,933.63 340.92,932.82 341.19,931.99 341.45,931.14 341.71,930.27 341.98,929.38 342.24,928.47 342.51,927.54 342.77,926.58 343.03,925.61 343.30,924.61 343.56,923.58 343.83,922.53 344.09,921.46 344.35,920.36 344.62,919.24 344.88,918.09 345.15,916.91 345.41,915.70 345.67,914.47 345.94,913.20 346.20,911.91 346.47,910.59 346.73,909.23 346.99,907.84 347.26,906.42 347.52,904.97 347.79,903.48 348.05,901.96 348.31,900.40 348.58,898.81 348.84,897.18 349.11,895.51 349.37,893.80 349.63,892.05 349.90,890.27 350.16,888.44 350.43,886.57 350.69,884.66 350.96,882.70 351.22,880.71 351.48,878.66 351.75,876.58 352.01,874.44 352.28,872.26 352.54,870.03 352.80,867.76 353.07,865.43 353.33,863.06 353.60,860.64 353.86,858.16 354.12,855.64 354.39,853.06 354.65,850.44 354.92,847.76 355.18,845.02 355.44,842.24 355.71,839.40 355.97,836.51 356.24,833.56 356.50,830.56 356.76,827.51 357.03,824.40 357.29,821.24 357.56,818.03 357.82,814.76 358.08,811.45 358.35,808.08 358.61,804.66 358.88,801.19 359.14,797.68 359.40,794.11 359.67,790.50 359.93,786.85 360.20,783.15 360.46,779.41 360.73,775.63 360.99,771.82 361.25,767.97 361.52,764.08 361.78,760.17 362.05,756.23 362.31,752.27 362.57,748.29 362.84,744.30 363.10,740.29 363.37,736.27 363.63,732.25 363.89,728.23 364.16,724.21 364.42,720.21 364.69,716.22 364.95,712.25 365.21,708.31 365.48,704.40 365.74,700.52 366.01,696.70 366.27,692.92 366.53,689.20 366.80,685.54 367.06,681.95 367.33,678.44 367.59,675.01 367.85,671.68 368.12,668.43 368.38,665.30 368.65,662.27 368.91,659.36 369.17,656.58 369.44,653.92 369.70,651.40 369.97,649.02 370.23,646.79 370.50,644.71 370.76,642.80 371.02,641.04 371.29,639.45 371.55,638.04 371.82,636.80 372.08,635.74 372.34,634.86 372.61,634.17 372.87,633.66 373.14,633.34 373.40,633.21 373.66,633.27 373.93,633.51 374.19,633.94 374.46,634.57 374.72,635.37 374.98,636.36 375.25,637.53 375.51,638.87 375.78,640.39 376.04,642.08 376.30,643.93 376.57,645.95 376.83,648.12 377.10,650.44 377.36,652.90 377.62,655.50 377.89,658.24 378.15,661.10 378.42,664.08 378.68,667.18 378.94,670.38 379.21,673.68 379.47,677.07 379.74,680.55 380.00,684.11 380.27,687.74 380.53,691.43 380.79,695.19 381.06,699.00 381.32,702.85 381.59,706.75 381.85,710.68 382.11,714.64 382.38,718.62 382.64,722.62 382.91,726.63 383.17,730.65 383.43,734.67 383.70,738.69 383.96,742.70 384.23,746.71 384.49,750.69 384.75,754.66 385.02,758.61 385.28,762.53 385.55,766.43 385.81,770.29 386.07,774.12 386.34,777.91 386.60,781.67 386.87,785.38 387.13,789.05 387.39,792.68 387.66,796.27 387.92,799.80 388.19,803.29 388.45,806.73 388.71,810.12 388.98,813.45 389.24,816.74 389.51,819.97 389.77,823.15 390.04,826.28 390.30,829.35 390.56,832.37 390.83,835.34 391.09,838.26 391.36,841.12 391.62,843.92 391.88,846.68 392.15,849.38 392.41,852.03 392.68,854.62 392.94,857.17 393.20,859.66 393.47,862.11 393.73,864.50 394.00,866.84 394.26,869.14 394.52,871.38 394.79,873.58 395.05,875.73 395.32,877.84 395.58,879.90 395.84,881.92 396.11,883.89 396.37,885.82 396.64,887.70 396.90,889.54 397.16,891.35 397.43,893.11 397.69,894.83 397.96,896.52 398.22,898.16 398.48,899.77 398.75,901.34 399.01,902.88 399.28,904.38 399.54,905.85 399.81,907.28 400.07,908.68 400.33,910.05 400.60,911.39 400.86,912.69 401.13,913.97 401.39,915.22 401.65,916.43 401.92,917.62 402.18,918.78 402.45,919.92 402.71,921.03 402.97,922.11 403.24,923.17 403.50,924.20 403.77,925.21 404.03,926.20 404.29,927.16 404.56,928.10 404.82,929.02 405.09,929.92 405.35,930.80 405.61,931.65 405.88,932.49 406.14,933.31 406.41,934.11 406.67,934.89 406.93,935.65 407.20,936.39 407.46,937.12 407.73,937.83 407.99,938.53 408.25,939.21 408.52,939.87 408.78,940.52 409.05,941.15 409.31,941.77 409.57,942.38 409.84,942.97 410.10,943.55 410.37,944.12 410.63,944.67 410.90,945.21 411.16,945.74 411.42,946.25 411.69,946.76 411.95,947.25 412.22,947.73 412.48,948.21 412.74,948.67 413.01,949.12 413.27,949.56 413.54,949.99 413.80,950.41 414.06,950.83 414.33,951.23 414.59,951.63 414.86,952.01 415.12,952.39 415.38,952.76 415.65,953.12 415.91,953.48 416.18,953.82 416.44,954.16 416.70,954.49 416.97,954.82 417.23,955.14 417.50,955.45 417.76,955.75 418.02,956.05 418.29,956.34 418.55,956.63 418.82,956.91 419.08,957.18 419.34,957.45 419.61,957.71 419.87,957.97 420.14,958.22 420.40,958.47 420.67,958.71 420.93,958.94 421.19,959.18 421.46,959.40 421.72,959.63 421.99,959.84 422.25,960.06 422.51,960.27 422.78,960.47 423.04,960.67 423.31,960.87 423.57,961.06 423.83,961.25 424.10,961.44 424.36,961.62 424.63,961.80 424.89,961.97 425.15,962.14 425.42,962.31 425.68,962.47 425.95,962.63 426.21,962.79 426.47,962.95 426.74,963.10 427.00,963.25 427.27,963.39 427.53,963.54 427.79,963.68 428.06,963.82 428.32,963.95 428.59,964.09 428.85,964.22 429.11,964.34 429.38,964.47 429.64,964.59 429.91,964.71 430.17,964.83 430.44,964.95 430.70,965.06 430.96,965.17 431.23,965.28 431.49,965.39 431.76,965.50 432.02,965.60 432.28,965.70 432.55,965.81 432.81,965.90 433.08,966.00 433.34,966.10 433.60,966.19 433.87,966.28 434.13,966.37 434.40,966.46 434.66,966.55 434.92,966.63 435.19,966.71 435.45,966.80 435.72,966.88 435.98,966.96 436.24,967.04 436.51,967.11 436.77,967.19 437.04,967.26 437.30,967.33 437.56,967.41 437.83,967.48 438.09,967.55 438.36,967.61 438.62,967.68 438.88,967.75 439.15,967.81 439.41,967.87 439.68,967.94 439.94,968.00 440.21,968.06 440.47,968.12 440.73,968.18 441.00,968.23 441.26,968.29 441.53,968.35 441.79,968.40 442.05,968.45 442.32,968.51 442.58,968.56 442.85,968.61 443.11,968.66 443.37,968.71 443.64,968.76 443.90,968.81 444.17,968.85 444.43,968.90 444.69,968.94 444.96,968.99 445.22,969.03 445.49,969.08 445.75,969.12 446.01,969.16 446.28,969.20 446.54,969.24 446.81,969.28 447.07,969.32 447.33,969.36 447.60,969.40 447.86,969.44 448.13,969.48 448.39,969.51 448.65,969.55 448.92,969.58 449.18,969.62 449.45,969.65 449.71,969.69 449.98,969.72 450.24,969.75 450.50,969.79 450.77,969.82 451.03,969.85 451.30,969.88 451.56,969.91 451.82,969.94 452.09,969.97 452.35,970.00 452.62,970.03" fill="none" stroke="#000" stroke-width="3.3" stroke-dasharray="5 2.4"/>
<text x="133.7" y="993.3" text-anchor="middle">7050</text>
<text x="193.0" y="993.3" text-anchor="middle">7100</text>
<text x="252.3" y="993.3" text-anchor="middle">7150</text>
<text x="311.5" y="993.3" text-anchor="middle">7200</text>
<text x="370.8" y="993.3" text-anchor="middle">7250</text>
<text x="430.1" y="993.3" text-anchor="middle">7300</text>
<text x="489.4" y="993.3" text-anchor="middle">7350</text>
<text x="120.9" y="939.8" text-anchor="end">-500</text>
<text x="120.9" y="892.3" text-anchor="end">0</text>
<text x="120.9" y="844.8" text-anchor="end">500</text>
<text x="120.9" y="797.3" text-anchor="end">1000</text>
<text x="120.9" y="749.8" text-anchor="end">1500</text>
<text x="120.9" y="702.2" text-anchor="end">2000</text>
<text x="120.9" y="654.7" text-anchor="end">2500</text>
<text x="120.9" y="607.2" text-anchor="end">3000</text>
<text x="120.9" y="559.7" text-anchor="end">3500</text>
<clipPath id="c4"><rect x="624.7" y="530" width="376.5" height="442.6"/></clipPath>
<rect x="626.7" y="532" width="372.5" height="438.6" fill="none" stroke="#808080" stroke-width="1.3"/>
<path d="M626.7,970.6V959.6M626.7,532V543M688.8,970.6V959.6M688.8,532V543M750.9,970.6V959.6M750.9,532V543M813.0,970.6V959.6M813.0,532V543M875.0,970.6V959.6M875.0,532V543M937.1,970.6V959.6M937.1,532V543M999.2,970.6V959.6M999.2,532V543M626.7,959.7H637.7M999.2,959.7H988.2M626.7,889.8H637.7M999.2,889.8H988.2M626.7,819.8H637.7M999.2,819.8H988.2M626.7,749.9H637.7M999.2,749.9H988.2M626.7,679.9H637.7M999.2,679.9H988.2M626.7,610.0H637.7M999.2,610.0H988.2M626.7,540.0H637.7M999.2,540.0H988.2" stroke="#555" stroke-width="1" fill="none"/>
<g fill="#80aa4c" clip-path="url(#c4)">
<polygon points="" stroke="#80aa4c" stroke-width="2" stroke-linejoin="round"/>
<polygon points="" stroke="#80aa4c" stroke-width="2" stroke-linejoin="round"/>
<polygon points="" stroke="#80aa4c" stroke-width="2" stroke-linejoin="round"/>
<polygon points="" stroke="#80aa4c" stroke-width="2" stroke-linejoin="round"/>
<polygon points="" stroke="#80aa4c" stroke-width="2" stroke-linejoin="round"/>
<polygon points="" stroke="#80aa4c" stroke-width="2" stroke-linejoin="round"/>
<polygon points="" stroke="#80aa4c" stroke-width="2" stroke-linejoin="round"/>
<polygon points="" stroke="#80aa4c" stroke-width="2" stroke-linejoin="round"/>
<polygon points="" stroke="#80aa4c" stroke-width="2" stroke-linejoin="round"/>
<polygon points="" stroke="#80aa4c" stroke-width="2" stroke-linejoin="round"/>
<polygon points="" stroke="#80aa4c" stroke-width="2" stroke-linejoin="round"/>
<polygon points="" stroke="#80aa4c" stroke-width="2" stroke-linejoin="round"/>
<polygon points="" stroke="#80aa4c" stroke-width="2" stroke-linejoin="round"/>
<polygon points="" stroke="#80aa4c" stroke-width="2" stroke-linejoin="round"/>
<polygon points="" stroke="#80aa4c" stroke-width="2" stroke-linejoin="round"/>
</g>
<g fill="#80aa4c">
<circle cx="828.4" cy="957.6" r="2.15"/>
<circle cx="828.4" cy="957.6" r="2.15"/>
<circle cx="823.7" cy="958.0" r="2.15"/>
<circle cx="856.8" cy="957.5" r="2.15"/>
<circle cx="891.7" cy="957.2" r="2.15"/>
<circle cx="875.5" cy="957.3" r="2.15"/>
<circle cx="884.3" cy="957.4" r="2.15"/>
<circle cx="875.5" cy="957.6" r="2.15"/>
<circle cx="879.3" cy="957.5" r="2.15"/>
<circle cx="879.3" cy="957.6" r="2.15"/>
<circle cx="884.2" cy="957.5" r="2.15"/>
<circle cx="884.3" cy="957.6" r="2.15"/>
<circle cx="888.1" cy="957.5" r="2.15"/>
<circle cx="888.1" cy="957.6" r="2.15"/>
<circle cx="891.7" cy="957.6" r="2.15"/>
<circle cx="879.2" cy="957.7" r="2.15"/>
<circle cx="882.0" cy="957.6" r="2.15"/>
<circle cx="884.2" cy="957.6" r="2.15"/>
<circle cx="884.2" cy="957.7" r="2.15"/>
<circle cx="884.2" cy="957.7" r="2.15"/>
<circle cx="888.1" cy="957.7" r="2.15"/>
<circle cx="888.1" cy="957.7" r="2.15"/>
<circle cx="881.8" cy="957.7" r="2.15"/>
<circle cx="888.1" cy="957.8" r="2.15"/>
<circle cx="889.4" cy="957.8" r="2.15"/>
<circle cx="891.8" cy="957.8" r="2.15"/>
<circle cx="889.1" cy="957.8" r="2.15"/>
<circle cx="891.8" cy="957.8" r="2.15"/>
<circle cx="888.1" cy="957.9" r="2.15"/>
<circle cx="889.1" cy="957.9" r="2.15"/>
<circle cx="887.9" cy="958.0" r="2.15"/>
<circle cx="888.5" cy="958.0" r="2.15"/>
<circle cx="889.4" cy="958.0" r="2.15"/>
<circle cx="891.8" cy="958.0" r="2.15"/>
<circle cx="905.3" cy="958.0" r="2.15"/>
<circle cx="914.2" cy="958.0" r="2.15"/>
<circle cx="878.1" cy="957.7" r="2.15"/>
<circle cx="878.8" cy="957.7" r="2.15"/>
<circle cx="878.1" cy="957.8" r="2.15"/>
<circle cx="879.2" cy="957.8" r="2.15"/>
<circle cx="878.4" cy="957.8" r="2.15"/>
<circle cx="879.2" cy="957.8" r="2.15"/>
<circle cx="878.4" cy="957.8" r="2.15"/>
<circle cx="878.9" cy="957.9" r="2.15"/>
<circle cx="879.2" cy="957.9" r="2.15"/>
<circle cx="878.7" cy="957.9" r="2.15"/>
<circle cx="879.5" cy="957.9" r="2.15"/>
<circle cx="878.4" cy="958.0" r="2.15"/>
<circle cx="879.2" cy="958.0" r="2.15"/>
<circle cx="878.7" cy="958.0" r="2.15"/>
<circle cx="879.5" cy="958.0" r="2.15"/>
<circle cx="881.8" cy="957.7" r="2.15"/>
<circle cx="881.8" cy="957.8" r="2.15"/>
<circle cx="881.8" cy="957.8" r="2.15"/>
<circle cx="882.0" cy="957.9" r="2.15"/>
<circle cx="882.0" cy="958.0" r="2.15"/>
<circle cx="883.0" cy="958.0" r="2.15"/>
<circle cx="884.5" cy="957.8" r="2.15"/>
<circle cx="884.5" cy="957.8" r="2.15"/>
<circle cx="884.2" cy="957.8" r="2.15"/>
<circle cx="884.5" cy="957.8" r="2.15"/>
<circle cx="884.5" cy="957.9" r="2.15"/>
<circle cx="884.5" cy="957.9" r="2.15"/>
<circle cx="884.2" cy="957.9" r="2.15"/>
<circle cx="884.3" cy="958.0" r="2.15"/>
<circle cx="823.7" cy="958.2" r="2.15"/>
<circle cx="828.6" cy="958.3" r="2.15"/>
<circle cx="815.1" cy="958.3" r="2.15"/>
<circle cx="831.0" cy="958.4" r="2.15"/>
<circle cx="831.1" cy="958.4" r="2.15"/>
<circle cx="831.0" cy="958.5" r="2.15"/>
<circle cx="844.8" cy="958.6" r="2.15"/>
<circle cx="853.4" cy="958.2" r="2.15"/>
<circle cx="856.8" cy="958.2" r="2.15"/>
<circle cx="823.7" cy="958.9" r="2.15"/>
<circle cx="823.7" cy="958.9" r="2.15"/>
<circle cx="858.5" cy="958.1" r="2.15"/>
<circle cx="878.4" cy="958.1" r="2.15"/>
<circle cx="878.1" cy="958.2" r="2.15"/>
<circle cx="881.8" cy="958.1" r="2.15"/>
<circle cx="883.0" cy="958.1" r="2.15"/>
<circle cx="884.2" cy="958.1" r="2.15"/>
<circle cx="889.1" cy="958.1" r="2.15"/>
<circle cx="888.5" cy="958.1" r="2.15"/>
<circle cx="889.4" cy="958.1" r="2.15"/>
<circle cx="881.8" cy="958.1" r="2.15"/>
<circle cx="883.0" cy="958.1" r="2.15"/>
<circle cx="884.5" cy="958.1" r="2.15"/>
<circle cx="881.8" cy="958.2" r="2.15"/>
<circle cx="883.0" cy="958.2" r="2.15"/>
<circle cx="882.7" cy="958.2" r="2.15"/>
<circle cx="883.0" cy="958.2" r="2.15"/>
<circle cx="882.1" cy="958.3" r="2.15"/>
<circle cx="883.3" cy="958.3" r="2.15"/>
<circle cx="888.5" cy="958.2" r="2.15"/>
<circle cx="889.4" cy="958.2" r="2.15"/>
<circle cx="891.9" cy="958.2" r="2.15"/>
<circle cx="891.9" cy="958.2" r="2.15"/>
<circle cx="891.9" cy="958.3" r="2.15"/>
<circle cx="891.7" cy="958.3" r="2.15"/>
<circle cx="888.5" cy="958.2" r="2.15"/>
<circle cx="889.4" cy="958.3" r="2.15"/>
<circle cx="874.6" cy="958.3" r="2.15"/>
<circle cx="874.6" cy="958.3" r="2.15"/>
<circle cx="875.5" cy="958.3" r="2.15"/>
<circle cx="874.3" cy="958.4" r="2.15"/>
<circle cx="874.6" cy="958.4" r="2.15"/>
<circle cx="874.6" cy="958.4" r="2.15"/>
<circle cx="877.1" cy="958.4" r="2.15"/>
<circle cx="883.2" cy="958.3" r="2.15"/>
<circle cx="884.5" cy="958.4" r="2.15"/>
<circle cx="887.9" cy="958.4" r="2.15"/>
<circle cx="889.4" cy="958.4" r="2.15"/>
<circle cx="887.9" cy="958.4" r="2.15"/>
<circle cx="893.2" cy="958.4" r="2.15"/>
<circle cx="891.8" cy="958.4" r="2.15"/>
<circle cx="887.9" cy="958.5" r="2.15"/>
<circle cx="891.9" cy="958.5" r="2.15"/>
<circle cx="893.2" cy="958.5" r="2.15"/>
<circle cx="884.5" cy="958.5" r="2.15"/>
<circle cx="883.2" cy="958.6" r="2.15"/>
<circle cx="888.2" cy="958.6" r="2.15"/>
<circle cx="874.4" cy="958.5" r="2.15"/>
<circle cx="874.4" cy="958.6" r="2.15"/>
<circle cx="874.3" cy="958.6" r="2.15"/>
<circle cx="874.3" cy="958.6" r="2.15"/>
<circle cx="889.1" cy="958.7" r="2.15"/>
<circle cx="894.3" cy="958.7" r="2.15"/>
<circle cx="892.9" cy="958.7" r="2.15"/>
<circle cx="893.5" cy="958.7" r="2.15"/>
<circle cx="889.4" cy="958.7" r="2.15"/>
<circle cx="889.4" cy="958.7" r="2.15"/>
<circle cx="894.3" cy="958.7" r="2.15"/>
<circle cx="895.5" cy="958.7" r="2.15"/>
<circle cx="894.3" cy="958.8" r="2.15"/>
<circle cx="891.7" cy="958.8" r="2.15"/>
<circle cx="894.3" cy="958.8" r="2.15"/>
<circle cx="874.3" cy="958.7" r="2.15"/>
<circle cx="874.5" cy="958.8" r="2.15"/>
<circle cx="874.5" cy="958.8" r="2.15"/>
<circle cx="858.5" cy="958.7" r="2.15"/>
<circle cx="888.2" cy="958.9" r="2.15"/>
<circle cx="887.9" cy="959.0" r="2.15"/>
<circle cx="895.4" cy="958.9" r="2.15"/>
<circle cx="893.5" cy="958.9" r="2.15"/>
<circle cx="896.6" cy="958.9" r="2.15"/>
<circle cx="896.1" cy="959.0" r="2.15"/>
<circle cx="896.6" cy="959.0" r="2.15"/>
<circle cx="892.9" cy="959.0" r="2.15"/>
<circle cx="896.6" cy="959.0" r="2.15"/>
<circle cx="873.1" cy="959.0" r="2.15"/>
<circle cx="877.1" cy="959.0" r="2.15"/>
<circle cx="932.7" cy="958.9" r="2.15"/>
<circle cx="818.9" cy="959.1" r="2.15"/>
<circle cx="818.9" cy="959.1" r="2.15"/>
<circle cx="815.1" cy="959.2" r="2.15"/>
<circle cx="814.9" cy="959.2" r="2.15"/>
<circle cx="818.6" cy="959.2" r="2.15"/>
<circle cx="819.8" cy="959.2" r="2.15"/>
<circle cx="823.8" cy="959.2" r="2.15"/>
<circle cx="828.5" cy="959.3" r="2.15"/>
<circle cx="828.5" cy="959.3" r="2.15"/>
<circle cx="831.0" cy="959.4" r="2.15"/>
<circle cx="844.5" cy="959.2" r="2.15"/>
<circle cx="844.5" cy="959.2" r="2.15"/>
<circle cx="848.5" cy="959.2" r="2.15"/>
<circle cx="853.4" cy="959.1" r="2.15"/>
<circle cx="854.9" cy="959.1" r="2.15"/>
<circle cx="856.1" cy="959.1" r="2.15"/>
<circle cx="853.6" cy="959.3" r="2.15"/>
<circle cx="854.9" cy="959.2" r="2.15"/>
<circle cx="856.7" cy="959.3" r="2.15"/>
<circle cx="853.6" cy="959.4" r="2.15"/>
<circle cx="855.8" cy="959.4" r="2.15"/>
<circle cx="856.1" cy="959.4" r="2.15"/>
<circle cx="851.0" cy="959.5" r="2.15"/>
<circle cx="854.6" cy="959.5" r="2.15"/>
<circle cx="856.7" cy="959.5" r="2.15"/>
<circle cx="853.5" cy="959.5" r="2.15"/>
<circle cx="854.9" cy="959.5" r="2.15"/>
<circle cx="854.9" cy="959.6" r="2.15"/>
<circle cx="854.9" cy="959.6" r="2.15"/>
<circle cx="851.0" cy="959.6" r="2.15"/>
<circle cx="848.5" cy="959.6" r="2.15"/>
<circle cx="815.1" cy="959.5" r="2.15"/>
<circle cx="818.9" cy="959.5" r="2.15"/>
<circle cx="819.8" cy="959.6" r="2.15"/>
<circle cx="828.5" cy="959.6" r="2.15"/>
<circle cx="827.6" cy="959.6" r="2.15"/>
<circle cx="815.0" cy="959.6" r="2.15"/>
<circle cx="818.9" cy="959.6" r="2.15"/>
<circle cx="819.2" cy="959.7" r="2.15"/>
<circle cx="820.1" cy="959.7" r="2.15"/>
<circle cx="815.1" cy="959.7" r="2.15"/>
<circle cx="828.5" cy="959.7" r="2.15"/>
<circle cx="823.6" cy="959.7" r="2.15"/>
<circle cx="831.0" cy="959.7" r="2.15"/>
<circle cx="818.9" cy="959.7" r="2.15"/>
<circle cx="820.1" cy="959.7" r="2.15"/>
<circle cx="815.0" cy="959.8" r="2.15"/>
<circle cx="814.9" cy="959.8" r="2.15"/>
<circle cx="841.0" cy="959.7" r="2.15"/>
<circle cx="844.6" cy="959.7" r="2.15"/>
<circle cx="808.8" cy="959.8" r="2.15"/>
<circle cx="817.6" cy="959.8" r="2.15"/>
<circle cx="819.8" cy="959.8" r="2.15"/>
<circle cx="821.3" cy="959.8" r="2.15"/>
<circle cx="822.1" cy="959.8" r="2.15"/>
<circle cx="822.7" cy="959.8" r="2.15"/>
<circle cx="828.5" cy="959.9" r="2.15"/>
<circle cx="831.0" cy="959.9" r="2.15"/>
<circle cx="814.0" cy="959.9" r="2.15"/>
<circle cx="817.6" cy="959.9" r="2.15"/>
<circle cx="820.4" cy="959.9" r="2.15"/>
<circle cx="822.1" cy="959.9" r="2.15"/>
<circle cx="823.3" cy="959.9" r="2.15"/>
<circle cx="823.6" cy="959.9" r="2.15"/>
<circle cx="810.1" cy="959.9" r="2.15"/>
<circle cx="815.2" cy="960.0" r="2.15"/>
<circle cx="819.2" cy="959.9" r="2.15"/>
<circle cx="820.7" cy="959.9" r="2.15"/>
<circle cx="821.4" cy="960.0" r="2.15"/>
<circle cx="827.4" cy="960.0" r="2.15"/>
<circle cx="831.1" cy="960.0" r="2.15"/>
<circle cx="801.5" cy="959.7" r="2.15"/>
<circle cx="803.7" cy="959.7" r="2.15"/>
<circle cx="854.9" cy="959.7" r="2.15"/>
<circle cx="855.2" cy="959.7" r="2.15"/>
<circle cx="854.6" cy="959.7" r="2.15"/>
<circle cx="856.4" cy="959.8" r="2.15"/>
<circle cx="855.5" cy="959.9" r="2.15"/>
<circle cx="854.9" cy="959.9" r="2.15"/>
<circle cx="854.9" cy="959.9" r="2.15"/>
<circle cx="856.9" cy="960.0" r="2.15"/>
<circle cx="847.1" cy="959.7" r="2.15"/>
<circle cx="845.9" cy="959.7" r="2.15"/>
<circle cx="844.8" cy="959.7" r="2.15"/>
<circle cx="848.8" cy="959.7" r="2.15"/>
<circle cx="850.0" cy="959.7" r="2.15"/>
<circle cx="850.9" cy="959.7" r="2.15"/>
<circle cx="851.1" cy="959.7" r="2.15"/>
<circle cx="850.0" cy="959.7" r="2.15"/>
<circle cx="848.2" cy="959.7" r="2.15"/>
<circle cx="846.5" cy="959.7" r="2.15"/>
<circle cx="858.1" cy="959.3" r="2.15"/>
<circle cx="858.3" cy="959.3" r="2.15"/>
<circle cx="859.5" cy="959.3" r="2.15"/>
<circle cx="860.7" cy="959.3" r="2.15"/>
<circle cx="858.3" cy="959.4" r="2.15"/>
<circle cx="859.5" cy="959.4" r="2.15"/>
<circle cx="858.1" cy="959.4" r="2.15"/>
<circle cx="859.5" cy="959.4" r="2.15"/>
<circle cx="858.3" cy="959.4" r="2.15"/>
<circle cx="859.5" cy="959.4" r="2.15"/>
<circle cx="858.1" cy="959.5" r="2.15"/>
<circle cx="858.9" cy="959.5" r="2.15"/>
<circle cx="858.1" cy="959.5" r="2.15"/>
<circle cx="859.2" cy="959.5" r="2.15"/>
<circle cx="858.3" cy="959.6" r="2.15"/>
<circle cx="860.4" cy="959.6" r="2.15"/>
<circle cx="858.6" cy="959.6" r="2.15"/>
<circle cx="859.5" cy="959.6" r="2.15"/>
<circle cx="858.3" cy="959.6" r="2.15"/>
<circle cx="860.7" cy="959.7" r="2.15"/>
<circle cx="857.5" cy="959.7" r="2.15"/>
<circle cx="857.5" cy="959.7" r="2.15"/>
<circle cx="859.8" cy="959.8" r="2.15"/>
<circle cx="857.5" cy="959.8" r="2.15"/>
<circle cx="857.5" cy="959.8" r="2.15"/>
<circle cx="858.3" cy="959.9" r="2.15"/>
<circle cx="859.8" cy="959.9" r="2.15"/>
<circle cx="857.5" cy="960.0" r="2.15"/>
<circle cx="859.7" cy="959.1" r="2.15"/>
<circle cx="873.3" cy="959.0" r="2.15"/>
<circle cx="873.3" cy="959.1" r="2.15"/>
<circle cx="873.3" cy="959.1" r="2.15"/>
<circle cx="873.3" cy="959.2" r="2.15"/>
<circle cx="873.3" cy="959.2" r="2.15"/>
<circle cx="873.3" cy="959.2" r="2.15"/>
<circle cx="874.5" cy="959.4" r="2.15"/>
<circle cx="873.3" cy="959.4" r="2.15"/>
<circle cx="874.3" cy="959.5" r="2.15"/>
<circle cx="883.3" cy="959.5" r="2.15"/>
<circle cx="883.3" cy="959.6" r="2.15"/>
<circle cx="888.2" cy="959.7" r="2.15"/>
<circle cx="883.3" cy="959.8" r="2.15"/>
<circle cx="877.0" cy="959.8" r="2.15"/>
<circle cx="877.0" cy="960.0" r="2.15"/>
<circle cx="888.2" cy="959.4" r="2.15"/>
<circle cx="893.0" cy="959.3" r="2.15"/>
<circle cx="893.0" cy="959.6" r="2.15"/>
<circle cx="893.2" cy="959.1" r="2.15"/>
<circle cx="894.3" cy="959.0" r="2.15"/>
<circle cx="893.2" cy="959.1" r="2.15"/>
<circle cx="896.6" cy="959.1" r="2.15"/>
<circle cx="893.5" cy="959.1" r="2.15"/>
<circle cx="894.9" cy="959.1" r="2.15"/>
<circle cx="897.8" cy="959.1" r="2.15"/>
<circle cx="899.3" cy="959.1" r="2.15"/>
<circle cx="899.0" cy="959.2" r="2.15"/>
<circle cx="899.3" cy="959.2" r="2.15"/>
<circle cx="893.2" cy="959.2" r="2.15"/>
<circle cx="893.0" cy="959.2" r="2.15"/>
<circle cx="895.8" cy="959.2" r="2.15"/>
<circle cx="897.8" cy="959.3" r="2.15"/>
<circle cx="899.5" cy="959.3" r="2.15"/>
<circle cx="900.1" cy="959.3" r="2.15"/>
<circle cx="900.4" cy="959.3" r="2.15"/>
<circle cx="895.5" cy="959.3" r="2.15"/>
<circle cx="896.1" cy="959.3" r="2.15"/>
<circle cx="897.2" cy="959.3" r="2.15"/>
<circle cx="900.4" cy="959.3" r="2.15"/>
<circle cx="901.3" cy="959.4" r="2.15"/>
<circle cx="895.8" cy="959.4" r="2.15"/>
<circle cx="895.8" cy="959.4" r="2.15"/>
<circle cx="895.8" cy="959.4" r="2.15"/>
<circle cx="898.1" cy="959.4" r="2.15"/>
<circle cx="901.3" cy="959.4" r="2.15"/>
<circle cx="898.4" cy="959.5" r="2.15"/>
<circle cx="898.1" cy="959.5" r="2.15"/>
<circle cx="901.9" cy="959.5" r="2.15"/>
<circle cx="897.8" cy="959.5" r="2.15"/>
<circle cx="899.0" cy="959.5" r="2.15"/>
<circle cx="897.8" cy="959.6" r="2.15"/>
<circle cx="899.5" cy="959.6" r="2.15"/>
<circle cx="898.1" cy="959.6" r="2.15"/>
<circle cx="897.8" cy="959.6" r="2.15"/>
<circle cx="900.1" cy="959.6" r="2.15"/>
<circle cx="900.7" cy="959.6" r="2.15"/>
<circle cx="900.1" cy="959.7" r="2.15"/>
<circle cx="901.9" cy="959.6" r="2.15"/>
<circle cx="898.1" cy="959.7" r="2.15"/>
<circle cx="899.3" cy="959.7" r="2.15"/>
<circle cx="901.3" cy="959.7" r="2.15"/>
<circle cx="895.5" cy="959.5" r="2.15"/>
<circle cx="904.2" cy="959.4" r="2.15"/>
<circle cx="905.3" cy="959.3" r="2.15"/>
<circle cx="908.2" cy="959.4" r="2.15"/>
<circle cx="909.4" cy="959.4" r="2.15"/>
<circle cx="904.2" cy="959.5" r="2.15"/>
<circle cx="910.5" cy="959.5" r="2.15"/>
<circle cx="910.5" cy="959.6" r="2.15"/>
<circle cx="908.0" cy="959.6" r="2.15"/>
<circle cx="904.5" cy="959.6" r="2.15"/>
<circle cx="904.5" cy="959.6" r="2.15"/>
<circle cx="914.1" cy="959.6" r="2.15"/>
<circle cx="914.1" cy="959.7" r="2.15"/>
<circle cx="910.5" cy="959.7" r="2.15"/>
<circle cx="908.0" cy="959.7" r="2.15"/>
<circle cx="909.4" cy="959.7" r="2.15"/>
<circle cx="910.6" cy="959.7" r="2.15"/>
<circle cx="908.2" cy="959.8" r="2.15"/>
<circle cx="910.3" cy="959.8" r="2.15"/>
<circle cx="908.2" cy="959.8" r="2.15"/>
<circle cx="904.2" cy="959.8" r="2.15"/>
<circle cx="900.7" cy="959.8" r="2.15"/>
<circle cx="901.9" cy="959.8" r="2.15"/>
<circle cx="904.2" cy="959.8" r="2.15"/>
<circle cx="908.2" cy="959.9" r="2.15"/>
<circle cx="910.5" cy="959.9" r="2.15"/>
<circle cx="905.3" cy="959.9" r="2.15"/>
<circle cx="903.9" cy="959.9" r="2.15"/>
<circle cx="901.9" cy="959.9" r="2.15"/>
<circle cx="907.7" cy="959.9" r="2.15"/>
<circle cx="908.8" cy="960.0" r="2.15"/>
<circle cx="904.2" cy="960.0" r="2.15"/>
<circle cx="916.1" cy="959.9" r="2.15"/>
<circle cx="915.8" cy="960.0" r="2.15"/>
<circle cx="920.3" cy="959.1" r="2.15"/>
<circle cx="920.3" cy="959.4" r="2.15"/>
<circle cx="938.8" cy="959.3" r="2.15"/>
<circle cx="938.8" cy="959.4" r="2.15"/>
<circle cx="936.5" cy="959.5" r="2.15"/>
<circle cx="946.3" cy="959.7" r="2.15"/>
<circle cx="947.7" cy="959.7" r="2.15"/>
<circle cx="936.5" cy="959.7" r="2.15"/>
<circle cx="946.3" cy="959.8" r="2.15"/>
<circle cx="921.5" cy="959.8" r="2.15"/>
<circle cx="921.5" cy="959.9" r="2.15"/>
<circle cx="938.9" cy="959.8" r="2.15"/>
<circle cx="937.6" cy="959.9" r="2.15"/>
<circle cx="936.5" cy="959.9" r="2.15"/>
<circle cx="946.3" cy="959.9" r="2.15"/>
<circle cx="928.9" cy="959.9" r="2.15"/>
<circle cx="932.7" cy="960.0" r="2.15"/>
<circle cx="936.5" cy="960.0" r="2.15"/>
<circle cx="947.7" cy="960.0" r="2.15"/>
<circle cx="946.2" cy="960.0" r="2.15"/>
<circle cx="808.8" cy="959.8" r="2.15"/>
<circle cx="828.6" cy="959.9" r="2.15"/>
<circle cx="831.1" cy="959.9" r="2.15"/>
<circle cx="820.2" cy="959.9" r="2.15"/>
<circle cx="821.7" cy="959.9" r="2.15"/>
<circle cx="823.5" cy="959.9" r="2.15"/>
<circle cx="823.7" cy="959.9" r="2.15"/>
<circle cx="817.6" cy="959.9" r="2.15"/>
<circle cx="814.0" cy="959.9" r="2.15"/>
<circle cx="810.2" cy="959.9" r="2.15"/>
<circle cx="827.2" cy="960.0" r="2.15"/>
<circle cx="831.1" cy="960.0" r="2.15"/>
<circle cx="810.1" cy="960.1" r="2.15"/>
<circle cx="815.5" cy="960.0" r="2.15"/>
<circle cx="816.3" cy="960.0" r="2.15"/>
<circle cx="803.6" cy="960.1" r="2.15"/>
<circle cx="804.6" cy="960.1" r="2.15"/>
<circle cx="801.0" cy="960.1" r="2.15"/>
<circle cx="802.1" cy="960.1" r="2.15"/>
<circle cx="805.0" cy="960.1" r="2.15"/>
<circle cx="813.0" cy="960.0" r="2.15"/>
<circle cx="821.0" cy="959.9" r="2.15"/>
<circle cx="831.0" cy="959.9" r="2.15"/>
<circle cx="831.2" cy="960.0" r="2.15"/>
<circle cx="836.1" cy="960.0" r="2.15"/>
<circle cx="836.1" cy="960.0" r="2.15"/>
<circle cx="855.6" cy="959.9" r="2.15"/>
<circle cx="857.1" cy="959.8" r="2.15"/>
<circle cx="858.5" cy="959.9" r="2.15"/>
<circle cx="859.8" cy="959.9" r="2.15"/>
<circle cx="854.7" cy="959.9" r="2.15"/>
<circle cx="854.7" cy="959.9" r="2.15"/>
<circle cx="857.3" cy="960.0" r="2.15"/>
<circle cx="857.1" cy="960.0" r="2.15"/>
<circle cx="854.6" cy="960.0" r="2.15"/>
<circle cx="854.9" cy="960.0" r="2.15"/>
<circle cx="854.7" cy="960.1" r="2.15"/>
<circle cx="856.0" cy="960.1" r="2.15"/>
<circle cx="856.0" cy="960.2" r="2.15"/>
<circle cx="854.7" cy="960.2" r="2.15"/>
<circle cx="854.6" cy="960.3" r="2.15"/>
<circle cx="855.6" cy="960.3" r="2.15"/>
<circle cx="857.3" cy="960.3" r="2.15"/>
<circle cx="860.9" cy="960.3" r="2.15"/>
<circle cx="850.9" cy="960.1" r="2.15"/>
<circle cx="848.4" cy="960.1" r="2.15"/>
<circle cx="849.8" cy="960.2" r="2.15"/>
<circle cx="847.7" cy="960.2" r="2.15"/>
<circle cx="851.1" cy="960.2" r="2.15"/>
<circle cx="851.1" cy="960.2" r="2.15"/>
<circle cx="846.0" cy="960.2" r="2.15"/>
<circle cx="848.6" cy="960.2" r="2.15"/>
<circle cx="848.6" cy="960.3" r="2.15"/>
<circle cx="838.6" cy="960.3" r="2.15"/>
<circle cx="839.3" cy="959.9" r="2.15"/>
<circle cx="840.4" cy="959.9" r="2.15"/>
<circle cx="857.5" cy="959.8" r="2.15"/>
<circle cx="858.5" cy="959.9" r="2.15"/>
<circle cx="859.8" cy="959.9" r="2.15"/>
<circle cx="857.5" cy="960.0" r="2.15"/>
<circle cx="857.5" cy="960.0" r="2.15"/>
<circle cx="877.1" cy="959.8" r="2.15"/>
<circle cx="877.1" cy="960.0" r="2.15"/>
<circle cx="857.5" cy="960.3" r="2.15"/>
<circle cx="860.8" cy="960.3" r="2.15"/>
<circle cx="901.9" cy="959.9" r="2.15"/>
<circle cx="904.2" cy="959.9" r="2.15"/>
<circle cx="905.3" cy="959.9" r="2.15"/>
<circle cx="904.2" cy="959.9" r="2.15"/>
<circle cx="904.2" cy="960.0" r="2.15"/>
<circle cx="904.2" cy="960.0" r="2.15"/>
<circle cx="904.2" cy="960.0" r="2.15"/>
<circle cx="905.3" cy="960.0" r="2.15"/>
<circle cx="904.2" cy="960.1" r="2.15"/>
<circle cx="904.2" cy="960.1" r="2.15"/>
<circle cx="904.2" cy="960.2" r="2.15"/>
<circle cx="900.6" cy="960.2" r="2.15"/>
<circle cx="901.9" cy="960.2" r="2.15"/>
<circle cx="904.2" cy="960.2" r="2.15"/>
<circle cx="908.2" cy="959.9" r="2.15"/>
<circle cx="909.7" cy="959.9" r="2.15"/>
<circle cx="910.6" cy="959.9" r="2.15"/>
<circle cx="908.0" cy="959.9" r="2.15"/>
<circle cx="908.2" cy="959.9" r="2.15"/>
<circle cx="909.4" cy="959.9" r="2.15"/>
<circle cx="908.2" cy="960.0" r="2.15"/>
<circle cx="909.4" cy="960.0" r="2.15"/>
<circle cx="910.3" cy="960.0" r="2.15"/>
<circle cx="908.0" cy="960.0" r="2.15"/>
<circle cx="908.0" cy="960.1" r="2.15"/>
<circle cx="910.3" cy="960.1" r="2.15"/>
<circle cx="908.2" cy="960.1" r="2.15"/>
<circle cx="910.6" cy="960.1" r="2.15"/>
<circle cx="909.1" cy="960.2" r="2.15"/>
<circle cx="914.1" cy="960.0" r="2.15"/>
<circle cx="916.1" cy="960.0" r="2.15"/>
<circle cx="914.1" cy="960.1" r="2.15"/>
<circle cx="916.1" cy="960.1" r="2.15"/>
<circle cx="914.1" cy="960.2" r="2.15"/>
<circle cx="916.1" cy="960.2" r="2.15"/>
<circle cx="916.1" cy="960.3" r="2.15"/>
<circle cx="916.1" cy="959.9" r="2.15"/>
<circle cx="921.6" cy="959.8" r="2.15"/>
<circle cx="921.6" cy="959.9" r="2.15"/>
<circle cx="916.8" cy="959.9" r="2.15"/>
<circle cx="916.8" cy="960.0" r="2.15"/>
<circle cx="916.8" cy="960.1" r="2.15"/>
<circle cx="916.8" cy="960.1" r="2.15"/>
<circle cx="920.4" cy="960.0" r="2.15"/>
<circle cx="928.9" cy="959.9" r="2.15"/>
<circle cx="932.6" cy="960.0" r="2.15"/>
<circle cx="936.4" cy="959.9" r="2.15"/>
<circle cx="937.6" cy="959.9" r="2.15"/>
<circle cx="938.8" cy="959.8" r="2.15"/>
<circle cx="936.4" cy="960.0" r="2.15"/>
<circle cx="931.5" cy="960.0" r="2.15"/>
<circle cx="928.9" cy="960.0" r="2.15"/>
<circle cx="930.3" cy="960.0" r="2.15"/>
<circle cx="929.1" cy="960.1" r="2.15"/>
<circle cx="930.3" cy="960.1" r="2.15"/>
<circle cx="929.1" cy="960.1" r="2.15"/>
<circle cx="937.8" cy="960.1" r="2.15"/>
<circle cx="938.8" cy="960.1" r="2.15"/>
<circle cx="939.0" cy="960.1" r="2.15"/>
<circle cx="937.8" cy="960.1" r="2.15"/>
<circle cx="931.5" cy="960.1" r="2.15"/>
<circle cx="930.8" cy="960.1" r="2.15"/>
<circle cx="931.7" cy="960.2" r="2.15"/>
<circle cx="930.3" cy="960.2" r="2.15"/>
<circle cx="930.0" cy="960.2" r="2.15"/>
<circle cx="927.7" cy="960.2" r="2.15"/>
<circle cx="933.8" cy="960.2" r="2.15"/>
<circle cx="936.4" cy="960.2" r="2.15"/>
<circle cx="937.8" cy="960.2" r="2.15"/>
<circle cx="932.9" cy="960.2" r="2.15"/>
<circle cx="934.1" cy="960.2" r="2.15"/>
<circle cx="937.8" cy="960.2" r="2.15"/>
<circle cx="938.8" cy="960.3" r="2.15"/>
<circle cx="927.7" cy="960.3" r="2.15"/>
<circle cx="928.9" cy="960.3" r="2.15"/>
<circle cx="930.8" cy="960.3" r="2.15"/>
<circle cx="931.2" cy="960.3" r="2.15"/>
<circle cx="925.1" cy="960.3" r="2.15"/>
<circle cx="927.7" cy="960.3" r="2.15"/>
<circle cx="930.3" cy="960.3" r="2.15"/>
<circle cx="921.6" cy="960.2" r="2.15"/>
<circle cx="916.8" cy="960.2" r="2.15"/>
<circle cx="916.8" cy="960.2" r="2.15"/>
<circle cx="916.8" cy="960.3" r="2.15"/>
<circle cx="946.3" cy="959.9" r="2.15"/>
<circle cx="946.3" cy="960.0" r="2.15"/>
<circle cx="947.7" cy="960.0" r="2.15"/>
<circle cx="946.3" cy="960.2" r="2.15"/>
<circle cx="946.5" cy="960.2" r="2.15"/>
<circle cx="947.7" cy="960.2" r="2.15"/>
<circle cx="952.4" cy="960.1" r="2.15"/>
<circle cx="952.4" cy="960.1" r="2.15"/>
<circle cx="951.5" cy="960.2" r="2.15"/>
<circle cx="953.9" cy="960.2" r="2.15"/>
<circle cx="951.5" cy="960.2" r="2.15"/>
<circle cx="953.9" cy="960.2" r="2.15"/>
<circle cx="952.4" cy="960.3" r="2.15"/>
<circle cx="953.6" cy="960.3" r="2.15"/>
<circle cx="952.4" cy="960.3" r="2.15"/>
<circle cx="831.0" cy="959.4" r="2.15"/>
<circle cx="828.5" cy="959.6" r="2.15"/>
<circle cx="827.9" cy="959.6" r="2.15"/>
<circle cx="828.6" cy="959.7" r="2.15"/>
<circle cx="831.0" cy="959.7" r="2.15"/>
<circle cx="841.0" cy="959.7" r="2.15"/>
<circle cx="844.6" cy="959.7" r="2.15"/>
<circle cx="838.5" cy="959.8" r="2.15"/>
<circle cx="840.8" cy="959.8" r="2.15"/>
<circle cx="843.1" cy="959.8" r="2.15"/>
<circle cx="851.0" cy="959.5" r="2.15"/>
<circle cx="853.4" cy="959.4" r="2.15"/>
<circle cx="856.2" cy="959.4" r="2.15"/>
<circle cx="856.2" cy="959.4" r="2.15"/>
<circle cx="856.8" cy="959.5" r="2.15"/>
<circle cx="856.8" cy="959.5" r="2.15"/>
<circle cx="854.6" cy="959.5" r="2.15"/>
<circle cx="853.3" cy="959.5" r="2.15"/>
<circle cx="854.7" cy="959.5" r="2.15"/>
<circle cx="854.7" cy="959.6" r="2.15"/>
<circle cx="854.7" cy="959.6" r="2.15"/>
<circle cx="856.8" cy="959.6" r="2.15"/>
<circle cx="856.8" cy="959.6" r="2.15"/>
<circle cx="854.7" cy="959.6" r="2.15"/>
<circle cx="851.0" cy="959.6" r="2.15"/>
<circle cx="848.5" cy="959.6" r="2.15"/>
<circle cx="847.2" cy="959.7" r="2.15"/>
<circle cx="844.6" cy="959.7" r="2.15"/>
<circle cx="846.0" cy="959.7" r="2.15"/>
<circle cx="847.5" cy="959.7" r="2.15"/>
<circle cx="848.9" cy="959.7" r="2.15"/>
<circle cx="851.0" cy="959.7" r="2.15"/>
<circle cx="850.7" cy="959.7" r="2.15"/>
<circle cx="851.0" cy="959.7" r="2.15"/>
<circle cx="850.4" cy="959.7" r="2.15"/>
<circle cx="828.5" cy="959.9" r="2.15"/>
<circle cx="831.0" cy="959.9" r="2.15"/>
<circle cx="831.1" cy="960.0" r="2.15"/>
<circle cx="827.8" cy="960.0" r="2.15"/>
<circle cx="836.0" cy="960.0" r="2.15"/>
<circle cx="836.0" cy="960.0" r="2.15"/>
<circle cx="854.6" cy="959.9" r="2.15"/>
<circle cx="854.6" cy="960.0" r="2.15"/>
<circle cx="854.6" cy="960.0" r="2.15"/>
<circle cx="854.6" cy="960.1" r="2.15"/>
<circle cx="855.9" cy="960.1" r="2.15"/>
<circle cx="856.1" cy="960.2" r="2.15"/>
<circle cx="854.7" cy="960.2" r="2.15"/>
<circle cx="854.6" cy="960.3" r="2.15"/>
<circle cx="856.8" cy="960.0" r="2.15"/>
<circle cx="856.8" cy="960.0" r="2.15"/>
<circle cx="848.4" cy="960.1" r="2.15"/>
<circle cx="851.0" cy="960.1" r="2.15"/>
<circle cx="847.8" cy="960.2" r="2.15"/>
<circle cx="849.5" cy="960.2" r="2.15"/>
<circle cx="851.0" cy="960.2" r="2.15"/>
<circle cx="846.0" cy="960.2" r="2.15"/>
<circle cx="848.5" cy="960.2" r="2.15"/>
<circle cx="848.5" cy="960.3" r="2.15"/>
<circle cx="855.9" cy="960.3" r="2.15"/>
<circle cx="855.3" cy="959.9" r="2.15"/>
<circle cx="856.5" cy="959.9" r="2.15"/>
<circle cx="838.8" cy="960.3" r="2.15"/>
<circle cx="801.9" cy="960.2" r="2.15"/>
<circle cx="802.4" cy="960.2" r="2.15"/>
<circle cx="802.6" cy="960.2" r="2.15"/>
<circle cx="802.0" cy="960.2" r="2.15"/>
<circle cx="801.6" cy="960.3" r="2.15"/>
<circle cx="801.8" cy="960.3" r="2.15"/>
<circle cx="802.4" cy="960.3" r="2.15"/>
<circle cx="803.6" cy="960.3" r="2.15"/>
<circle cx="804.8" cy="960.3" r="2.15"/>
<circle cx="805.0" cy="960.3" r="2.15"/>
<circle cx="804.9" cy="960.2" r="2.15"/>
<circle cx="804.7" cy="960.2" r="2.15"/>
<circle cx="804.6" cy="960.2" r="2.15"/>
<circle cx="804.8" cy="960.2" r="2.15"/>
<circle cx="804.9" cy="960.2" r="2.15"/>
<circle cx="804.8" cy="960.1" r="2.15"/>
<circle cx="804.5" cy="960.1" r="2.15"/>
<circle cx="803.9" cy="960.1" r="2.15"/>
<circle cx="803.8" cy="960.1" r="2.15"/>
<circle cx="803.1" cy="960.1" r="2.15"/>
<circle cx="801.9" cy="960.1" r="2.15"/>
<circle cx="801.7" cy="960.2" r="2.15"/>
<circle cx="804.3" cy="960.1" r="2.15"/>
<circle cx="802.1" cy="960.1" r="2.15"/>
<circle cx="802.9" cy="960.2" r="2.15"/>
<circle cx="802.9" cy="960.2" r="2.15"/>
<circle cx="804.3" cy="960.2" r="2.15"/>
<circle cx="803.3" cy="960.2" r="2.15"/>
<circle cx="802.7" cy="960.2" r="2.15"/>
<circle cx="804.4" cy="960.2" r="2.15"/>
<circle cx="802.8" cy="960.2" r="2.15"/>
<circle cx="803.7" cy="960.2" r="2.15"/>
<circle cx="801.9" cy="960.2" r="2.15"/>
<circle cx="803.2" cy="960.3" r="2.15"/>
<circle cx="804.3" cy="960.3" r="2.15"/>
<circle cx="802.0" cy="960.3" r="2.15"/>
<circle cx="803.7" cy="960.3" r="2.15"/>
<circle cx="823.3" cy="960.2" r="2.15"/>
<circle cx="823.0" cy="960.1" r="2.15"/>
<circle cx="822.7" cy="960.1" r="2.15"/>
<circle cx="822.5" cy="960.1" r="2.15"/>
<circle cx="822.2" cy="960.1" r="2.15"/>
<circle cx="822.8" cy="960.1" r="2.15"/>
<circle cx="823.2" cy="960.0" r="2.15"/>
<circle cx="823.1" cy="960.0" r="2.15"/>
<circle cx="822.6" cy="960.0" r="2.15"/>
<circle cx="821.7" cy="960.0" r="2.15"/>
<circle cx="820.9" cy="960.0" r="2.15"/>
<circle cx="820.5" cy="960.0" r="2.15"/>
<circle cx="819.6" cy="960.0" r="2.15"/>
<circle cx="818.3" cy="960.0" r="2.15"/>
<circle cx="817.1" cy="960.0" r="2.15"/>
<circle cx="815.8" cy="960.0" r="2.15"/>
<circle cx="814.9" cy="960.0" r="2.15"/>
<circle cx="814.1" cy="960.0" r="2.15"/>
<circle cx="813.4" cy="960.0" r="2.15"/>
<circle cx="813.1" cy="960.0" r="2.15"/>
<circle cx="812.9" cy="960.0" r="2.15"/>
<circle cx="812.7" cy="960.1" r="2.15"/>
<circle cx="811.8" cy="960.1" r="2.15"/>
<circle cx="810.7" cy="960.1" r="2.15"/>
<circle cx="810.7" cy="960.1" r="2.15"/>
<circle cx="810.7" cy="960.1" r="2.15"/>
<circle cx="810.7" cy="960.1" r="2.15"/>
<circle cx="810.2" cy="960.2" r="2.15"/>
<circle cx="809.5" cy="960.2" r="2.15"/>
<circle cx="809.2" cy="960.2" r="2.15"/>
<circle cx="809.1" cy="960.2" r="2.15"/>
<circle cx="809.1" cy="960.2" r="2.15"/>
<circle cx="809.0" cy="960.3" r="2.15"/>
<circle cx="808.9" cy="960.3" r="2.15"/>
<circle cx="808.9" cy="960.3" r="2.15"/>
<circle cx="810.0" cy="960.3" r="2.15"/>
<circle cx="811.2" cy="960.3" r="2.15"/>
<circle cx="812.5" cy="960.3" r="2.15"/>
<circle cx="813.7" cy="960.3" r="2.15"/>
<circle cx="815.0" cy="960.3" r="2.15"/>
<circle cx="816.2" cy="960.3" r="2.15"/>
<circle cx="817.5" cy="960.3" r="2.15"/>
<circle cx="818.7" cy="960.3" r="2.15"/>
<circle cx="820.0" cy="960.3" r="2.15"/>
<circle cx="821.2" cy="960.3" r="2.15"/>
<circle cx="822.4" cy="960.3" r="2.15"/>
<circle cx="822.7" cy="960.3" r="2.15"/>
<circle cx="823.0" cy="960.3" r="2.15"/>
<circle cx="823.3" cy="960.2" r="2.15"/>
<circle cx="823.3" cy="960.2" r="2.15"/>
<circle cx="823.3" cy="960.2" r="2.15"/>
<circle cx="823.3" cy="960.2" r="2.15"/>
<circle cx="819.9" cy="960.0" r="2.15"/>
<circle cx="815.7" cy="960.0" r="2.15"/>
<circle cx="818.0" cy="960.0" r="2.15"/>
<circle cx="819.1" cy="960.0" r="2.15"/>
<circle cx="820.6" cy="960.0" r="2.15"/>
<circle cx="814.2" cy="960.0" r="2.15"/>
<circle cx="815.4" cy="960.0" r="2.15"/>
<circle cx="817.6" cy="960.0" r="2.15"/>
<circle cx="818.3" cy="960.0" r="2.15"/>
<circle cx="819.4" cy="960.0" r="2.15"/>
<circle cx="821.4" cy="960.0" r="2.15"/>
<circle cx="813.7" cy="960.0" r="2.15"/>
<circle cx="814.9" cy="960.0" r="2.15"/>
<circle cx="816.5" cy="960.0" r="2.15"/>
<circle cx="817.4" cy="960.0" r="2.15"/>
<circle cx="820.4" cy="960.0" r="2.15"/>
<circle cx="822.0" cy="960.0" r="2.15"/>
<circle cx="813.9" cy="960.0" r="2.15"/>
<circle cx="816.0" cy="960.0" r="2.15"/>
<circle cx="818.6" cy="960.0" r="2.15"/>
<circle cx="820.8" cy="960.0" r="2.15"/>
<circle cx="822.8" cy="960.0" r="2.15"/>
<circle cx="814.0" cy="960.1" r="2.15"/>
<circle cx="815.8" cy="960.0" r="2.15"/>
<circle cx="816.9" cy="960.0" r="2.15"/>
<circle cx="818.3" cy="960.0" r="2.15"/>
<circle cx="819.4" cy="960.1" r="2.15"/>
<circle cx="820.7" cy="960.0" r="2.15"/>
<circle cx="812.7" cy="960.1" r="2.15"/>
<circle cx="814.6" cy="960.1" r="2.15"/>
<circle cx="815.3" cy="960.1" r="2.15"/>
<circle cx="817.2" cy="960.1" r="2.15"/>
<circle cx="819.9" cy="960.1" r="2.15"/>
<circle cx="820.5" cy="960.1" r="2.15"/>
<circle cx="813.8" cy="960.1" r="2.15"/>
<circle cx="815.2" cy="960.1" r="2.15"/>
<circle cx="816.3" cy="960.1" r="2.15"/>
<circle cx="817.9" cy="960.1" r="2.15"/>
<circle cx="820.5" cy="960.1" r="2.15"/>
<circle cx="821.0" cy="960.1" r="2.15"/>
<circle cx="813.7" cy="960.1" r="2.15"/>
<circle cx="813.7" cy="960.1" r="2.15"/>
<circle cx="816.2" cy="960.1" r="2.15"/>
<circle cx="817.3" cy="960.1" r="2.15"/>
<circle cx="821.2" cy="960.1" r="2.15"/>
<circle cx="810.9" cy="960.1" r="2.15"/>
<circle cx="812.3" cy="960.1" r="2.15"/>
<circle cx="813.1" cy="960.1" r="2.15"/>
<circle cx="811.2" cy="960.2" r="2.15"/>
<circle cx="813.5" cy="960.2" r="2.15"/>
<circle cx="819.0" cy="960.1" r="2.15"/>
<circle cx="819.8" cy="960.2" r="2.15"/>
<circle cx="821.5" cy="960.2" r="2.15"/>
<circle cx="822.8" cy="960.2" r="2.15"/>
<circle cx="809.8" cy="960.2" r="2.15"/>
<circle cx="811.0" cy="960.2" r="2.15"/>
<circle cx="811.6" cy="960.2" r="2.15"/>
<circle cx="816.3" cy="960.2" r="2.15"/>
<circle cx="818.0" cy="960.2" r="2.15"/>
<circle cx="819.3" cy="960.2" r="2.15"/>
<circle cx="820.8" cy="960.2" r="2.15"/>
<circle cx="822.6" cy="960.2" r="2.15"/>
<circle cx="810.1" cy="960.2" r="2.15"/>
<circle cx="811.1" cy="960.2" r="2.15"/>
<circle cx="813.2" cy="960.2" r="2.15"/>
<circle cx="814.1" cy="960.2" r="2.15"/>
<circle cx="815.7" cy="960.2" r="2.15"/>
<circle cx="816.7" cy="960.2" r="2.15"/>
<circle cx="818.8" cy="960.2" r="2.15"/>
<circle cx="820.3" cy="960.2" r="2.15"/>
<circle cx="821.3" cy="960.2" r="2.15"/>
<circle cx="822.7" cy="960.2" r="2.15"/>
<circle cx="809.6" cy="960.2" r="2.15"/>
<circle cx="811.4" cy="960.2" r="2.15"/>
<circle cx="813.6" cy="960.2" r="2.15"/>
<circle cx="814.8" cy="960.2" r="2.15"/>
<circle cx="816.0" cy="960.2" r="2.15"/>
<circle cx="817.3" cy="960.2" r="2.15"/>
<circle cx="818.9" cy="960.2" r="2.15"/>
<circle cx="821.3" cy="960.2" r="2.15"/>
<circle cx="822.0" cy="960.2" r="2.15"/>
<circle cx="810.3" cy="960.2" r="2.15"/>
<circle cx="811.7" cy="960.2" r="2.15"/>
<circle cx="813.0" cy="960.2" r="2.15"/>
<circle cx="815.9" cy="960.2" r="2.15"/>
<circle cx="816.8" cy="960.2" r="2.15"/>
<circle cx="821.1" cy="960.2" r="2.15"/>
<circle cx="822.1" cy="960.2" r="2.15"/>
<circle cx="810.4" cy="960.2" r="2.15"/>
<circle cx="811.0" cy="960.2" r="2.15"/>
<circle cx="813.3" cy="960.2" r="2.15"/>
<circle cx="815.5" cy="960.2" r="2.15"/>
<circle cx="816.4" cy="960.3" r="2.15"/>
<circle cx="820.6" cy="960.2" r="2.15"/>
<circle cx="810.1" cy="960.3" r="2.15"/>
<circle cx="811.6" cy="960.3" r="2.15"/>
<circle cx="813.0" cy="960.3" r="2.15"/>
<circle cx="814.4" cy="960.3" r="2.15"/>
<circle cx="815.6" cy="960.3" r="2.15"/>
<circle cx="818.7" cy="960.3" r="2.15"/>
<circle cx="819.6" cy="960.3" r="2.15"/>
<circle cx="821.5" cy="960.3" r="2.15"/>
<circle cx="822.8" cy="960.3" r="2.15"/>
<circle cx="809.5" cy="960.3" r="2.15"/>
<circle cx="811.0" cy="960.3" r="2.15"/>
<circle cx="813.5" cy="960.3" r="2.15"/>
<circle cx="815.2" cy="960.3" r="2.15"/>
<circle cx="816.4" cy="960.3" r="2.15"/>
<circle cx="818.1" cy="960.3" r="2.15"/>
<circle cx="819.5" cy="960.3" r="2.15"/>
<circle cx="821.0" cy="960.3" r="2.15"/>
<circle cx="821.5" cy="960.3" r="2.15"/>
<circle cx="827.3" cy="960.0" r="2.15"/>
<circle cx="827.3" cy="960.1" r="2.15"/>
<circle cx="827.9" cy="960.1" r="2.15"/>
<circle cx="827.6" cy="960.1" r="2.15"/>
<circle cx="827.3" cy="960.1" r="2.15"/>
<circle cx="827.3" cy="960.1" r="2.15"/>
<circle cx="827.3" cy="960.2" r="2.15"/>
<circle cx="827.3" cy="960.2" r="2.15"/>
<circle cx="827.3" cy="960.2" r="2.15"/>
<circle cx="827.2" cy="960.2" r="2.15"/>
<circle cx="827.2" cy="960.2" r="2.15"/>
<circle cx="827.2" cy="960.2" r="2.15"/>
<circle cx="827.2" cy="960.3" r="2.15"/>
<circle cx="827.2" cy="960.3" r="2.15"/>
<circle cx="827.2" cy="960.3" r="2.15"/>
<circle cx="850.6" cy="959.8" r="2.15"/>
<circle cx="850.5" cy="959.8" r="2.15"/>
<circle cx="850.4" cy="959.8" r="2.15"/>
<circle cx="849.2" cy="959.8" r="2.15"/>
<circle cx="848.1" cy="959.8" r="2.15"/>
<circle cx="847.1" cy="959.8" r="2.15"/>
<circle cx="846.3" cy="959.8" r="2.15"/>
<circle cx="846.2" cy="959.8" r="2.15"/>
<circle cx="846.4" cy="959.8" r="2.15"/>
<circle cx="847.8" cy="959.8" r="2.15"/>
<circle cx="849.1" cy="959.8" r="2.15"/>
<circle cx="850.4" cy="959.8" r="2.15"/>
<circle cx="849.2" cy="959.8" r="2.15"/>
<circle cx="847.0" cy="959.8" r="2.15"/>
<circle cx="848.2" cy="959.8" r="2.15"/>
<circle cx="849.6" cy="959.8" r="2.15"/>
<circle cx="846.7" cy="959.8" r="2.15"/>
<circle cx="849.3" cy="959.8" r="2.15"/>
<circle cx="850.0" cy="959.8" r="2.15"/>
<circle cx="846.2" cy="959.8" r="2.15"/>
<circle cx="848.5" cy="959.8" r="2.15"/>
<circle cx="856.7" cy="959.6" r="2.15"/>
<circle cx="855.9" cy="959.7" r="2.15"/>
<circle cx="855.2" cy="959.7" r="2.15"/>
<circle cx="855.2" cy="959.7" r="2.15"/>
<circle cx="856.1" cy="959.7" r="2.15"/>
<circle cx="855.5" cy="959.7" r="2.15"/>
<circle cx="856.0" cy="959.7" r="2.15"/>
<circle cx="856.2" cy="959.7" r="2.15"/>
<circle cx="854.7" cy="959.8" r="2.15"/>
<circle cx="856.2" cy="959.8" r="2.15"/>
<circle cx="854.8" cy="959.8" r="2.15"/>
<circle cx="855.4" cy="959.8" r="2.15"/>
<circle cx="854.6" cy="959.8" r="2.15"/>
<circle cx="854.5" cy="959.8" r="2.15"/>
<circle cx="854.9" cy="959.8" r="2.15"/>
<circle cx="855.4" cy="959.8" r="2.15"/>
<circle cx="855.8" cy="959.8" r="2.15"/>
<circle cx="839.0" cy="960.2" r="2.15"/>
<circle cx="839.3" cy="960.2" r="2.15"/>
<circle cx="840.1" cy="960.2" r="2.15"/>
<circle cx="841.0" cy="960.2" r="2.15"/>
<circle cx="841.9" cy="960.2" r="2.15"/>
<circle cx="843.0" cy="960.2" r="2.15"/>
<circle cx="844.2" cy="960.2" r="2.15"/>
<circle cx="845.0" cy="960.2" r="2.15"/>
<circle cx="845.1" cy="960.1" r="2.15"/>
<circle cx="845.2" cy="960.1" r="2.15"/>
<circle cx="846.2" cy="960.1" r="2.15"/>
<circle cx="847.3" cy="960.1" r="2.15"/>
<circle cx="848.4" cy="960.1" r="2.15"/>
<circle cx="849.4" cy="960.1" r="2.15"/>
<circle cx="850.2" cy="960.1" r="2.15"/>
<circle cx="850.7" cy="960.1" r="2.15"/>
<circle cx="850.7" cy="960.1" r="2.15"/>
<circle cx="850.7" cy="960.0" r="2.15"/>
<circle cx="850.8" cy="960.0" r="2.15"/>
<circle cx="850.8" cy="960.0" r="2.15"/>
<circle cx="850.9" cy="960.0" r="2.15"/>
<circle cx="850.9" cy="960.0" r="2.15"/>
<circle cx="850.8" cy="959.9" r="2.15"/>
<circle cx="850.6" cy="959.9" r="2.15"/>
<circle cx="850.4" cy="959.9" r="2.15"/>
<circle cx="850.1" cy="959.9" r="2.15"/>
<circle cx="849.3" cy="959.9" r="2.15"/>
<circle cx="848.0" cy="959.9" r="2.15"/>
<circle cx="846.7" cy="959.9" r="2.15"/>
<circle cx="845.4" cy="959.9" r="2.15"/>
<circle cx="844.2" cy="959.9" r="2.15"/>
<circle cx="843.9" cy="959.9" r="2.15"/>
<circle cx="843.8" cy="959.9" r="2.15"/>
<circle cx="843.6" cy="959.9" r="2.15"/>
<circle cx="843.5" cy="959.9" r="2.15"/>
<circle cx="842.5" cy="960.0" r="2.15"/>
<circle cx="841.4" cy="959.9" r="2.15"/>
<circle cx="840.5" cy="959.9" r="2.15"/>
<circle cx="840.3" cy="959.9" r="2.15"/>
<circle cx="839.5" cy="959.9" r="2.15"/>
<circle cx="838.9" cy="959.9" r="2.15"/>
<circle cx="838.8" cy="960.0" r="2.15"/>
<circle cx="838.7" cy="960.0" r="2.15"/>
<circle cx="838.6" cy="960.0" r="2.15"/>
<circle cx="838.6" cy="960.0" r="2.15"/>
<circle cx="838.6" cy="960.0" r="2.15"/>
<circle cx="838.6" cy="960.1" r="2.15"/>
<circle cx="838.6" cy="960.1" r="2.15"/>
<circle cx="838.6" cy="960.1" r="2.15"/>
<circle cx="838.6" cy="960.1" r="2.15"/>
<circle cx="838.6" cy="960.2" r="2.15"/>
<circle cx="838.6" cy="960.2" r="2.15"/>
<circle cx="838.6" cy="960.2" r="2.15"/>
<circle cx="838.8" cy="960.2" r="2.15"/>
<circle cx="844.3" cy="959.9" r="2.15"/>
<circle cx="844.0" cy="959.9" r="2.15"/>
<circle cx="846.3" cy="959.9" r="2.15"/>
<circle cx="848.3" cy="959.9" r="2.15"/>
<circle cx="844.1" cy="959.9" r="2.15"/>
<circle cx="847.1" cy="959.9" r="2.15"/>
<circle cx="848.2" cy="959.9" r="2.15"/>
<circle cx="849.7" cy="959.9" r="2.15"/>
<circle cx="843.7" cy="959.9" r="2.15"/>
<circle cx="844.2" cy="959.9" r="2.15"/>
<circle cx="845.9" cy="959.9" r="2.15"/>
<circle cx="846.7" cy="959.9" r="2.15"/>
<circle cx="848.7" cy="959.9" r="2.15"/>
<circle cx="839.6" cy="959.9" r="2.15"/>
<circle cx="845.5" cy="960.0" r="2.15"/>
<circle cx="847.1" cy="959.9" r="2.15"/>
<circle cx="848.2" cy="959.9" r="2.15"/>
<circle cx="849.1" cy="960.0" r="2.15"/>
<circle cx="840.5" cy="960.0" r="2.15"/>
<circle cx="842.1" cy="960.0" r="2.15"/>
<circle cx="843.1" cy="960.0" r="2.15"/>
<circle cx="845.9" cy="960.0" r="2.15"/>
<circle cx="845.9" cy="960.0" r="2.15"/>
<circle cx="847.4" cy="960.0" r="2.15"/>
<circle cx="848.6" cy="960.0" r="2.15"/>
<circle cx="839.8" cy="960.0" r="2.15"/>
<circle cx="841.3" cy="960.0" r="2.15"/>
<circle cx="842.5" cy="960.0" r="2.15"/>
<circle cx="844.7" cy="960.0" r="2.15"/>
<circle cx="845.3" cy="960.0" r="2.15"/>
<circle cx="846.8" cy="960.0" r="2.15"/>
<circle cx="850.2" cy="960.0" r="2.15"/>
<circle cx="839.1" cy="960.0" r="2.15"/>
<circle cx="841.2" cy="960.0" r="2.15"/>
<circle cx="843.8" cy="960.0" r="2.15"/>
<circle cx="845.6" cy="960.0" r="2.15"/>
<circle cx="846.4" cy="960.0" r="2.15"/>
<circle cx="850.8" cy="960.0" r="2.15"/>
<circle cx="839.5" cy="960.0" r="2.15"/>
<circle cx="842.2" cy="960.0" r="2.15"/>
<circle cx="842.8" cy="960.0" r="2.15"/>
<circle cx="843.6" cy="960.0" r="2.15"/>
<circle cx="846.1" cy="960.0" r="2.15"/>
<circle cx="847.0" cy="960.0" r="2.15"/>
<circle cx="848.5" cy="960.0" r="2.15"/>
<circle cx="850.1" cy="960.0" r="2.15"/>
<circle cx="839.3" cy="960.0" r="2.15"/>
<circle cx="840.3" cy="960.0" r="2.15"/>
<circle cx="841.5" cy="960.0" r="2.15"/>
<circle cx="844.3" cy="960.0" r="2.15"/>
<circle cx="849.0" cy="960.0" r="2.15"/>
<circle cx="850.4" cy="960.0" r="2.15"/>
<circle cx="840.0" cy="960.1" r="2.15"/>
<circle cx="841.6" cy="960.1" r="2.15"/>
<circle cx="843.1" cy="960.1" r="2.15"/>
<circle cx="844.8" cy="960.0" r="2.15"/>
<circle cx="845.8" cy="960.1" r="2.15"/>
<circle cx="850.0" cy="960.1" r="2.15"/>
<circle cx="839.2" cy="960.1" r="2.15"/>
<circle cx="840.3" cy="960.1" r="2.15"/>
<circle cx="842.0" cy="960.1" r="2.15"/>
<circle cx="844.8" cy="960.1" r="2.15"/>
<circle cx="846.1" cy="960.1" r="2.15"/>
<circle cx="847.6" cy="960.1" r="2.15"/>
<circle cx="848.8" cy="960.1" r="2.15"/>
<circle cx="850.5" cy="960.1" r="2.15"/>
<circle cx="839.4" cy="960.1" r="2.15"/>
<circle cx="840.3" cy="960.1" r="2.15"/>
<circle cx="841.5" cy="960.1" r="2.15"/>
<circle cx="843.2" cy="960.1" r="2.15"/>
<circle cx="845.2" cy="960.1" r="2.15"/>
<circle cx="846.3" cy="960.1" r="2.15"/>
<circle cx="849.3" cy="960.1" r="2.15"/>
<circle cx="839.4" cy="960.1" r="2.15"/>
<circle cx="840.9" cy="960.1" r="2.15"/>
<circle cx="842.1" cy="960.1" r="2.15"/>
<circle cx="843.3" cy="960.1" r="2.15"/>
<circle cx="845.5" cy="960.1" r="2.15"/>
<circle cx="846.6" cy="960.1" r="2.15"/>
<circle cx="847.5" cy="960.1" r="2.15"/>
<circle cx="839.6" cy="960.1" r="2.15"/>
<circle cx="841.7" cy="960.1" r="2.15"/>
<circle cx="842.1" cy="960.1" r="2.15"/>
<circle cx="844.4" cy="960.1" r="2.15"/>
<circle cx="840.2" cy="960.2" r="2.15"/>
<circle cx="842.1" cy="960.2" r="2.15"/>
<circle cx="843.9" cy="960.1" r="2.15"/>
<circle cx="844.5" cy="960.2" r="2.15"/>
<circle cx="838.7" cy="960.2" r="2.15"/>
<circle cx="839.5" cy="960.2" r="2.15"/>
<circle cx="841.1" cy="960.2" r="2.15"/>
<circle cx="843.9" cy="960.2" r="2.15"/>
<circle cx="844.2" cy="960.3" r="2.15"/>
<circle cx="843.8" cy="960.3" r="2.15"/>
<circle cx="843.2" cy="960.3" r="2.15"/>
<circle cx="842.6" cy="960.2" r="2.15"/>
<circle cx="841.8" cy="960.2" r="2.15"/>
<circle cx="841.2" cy="960.2" r="2.15"/>
<circle cx="840.9" cy="960.3" r="2.15"/>
<circle cx="841.0" cy="960.3" r="2.15"/>
<circle cx="841.6" cy="960.3" r="2.15"/>
<circle cx="842.9" cy="960.3" r="2.15"/>
<circle cx="842.3" cy="960.3" r="2.15"/>
<circle cx="841.1" cy="960.3" r="2.15"/>
<circle cx="842.8" cy="960.3" r="2.15"/>
<circle cx="836.0" cy="960.1" r="2.15"/>
<circle cx="836.0" cy="960.1" r="2.15"/>
<circle cx="836.1" cy="960.1" r="2.15"/>
<circle cx="836.1" cy="960.2" r="2.15"/>
<circle cx="836.0" cy="960.2" r="2.15"/>
<circle cx="836.0" cy="960.2" r="2.15"/>
<circle cx="836.1" cy="960.2" r="2.15"/>
<circle cx="836.1" cy="960.2" r="2.15"/>
<circle cx="836.1" cy="960.3" r="2.15"/>
<circle cx="836.1" cy="960.3" r="2.15"/>
<circle cx="836.1" cy="960.3" r="2.15"/>
<circle cx="841.5" cy="959.9" r="2.15"/>
<circle cx="840.1" cy="959.9" r="2.15"/>
<circle cx="838.8" cy="959.9" r="2.15"/>
<circle cx="839.8" cy="959.9" r="2.15"/>
<circle cx="841.2" cy="959.9" r="2.15"/>
<circle cx="842.5" cy="959.9" r="2.15"/>
<circle cx="828.0" cy="960.0" r="2.15"/>
<circle cx="828.1" cy="960.1" r="2.15"/>
<circle cx="828.2" cy="960.1" r="2.15"/>
<circle cx="827.9" cy="960.1" r="2.15"/>
<circle cx="827.9" cy="960.1" r="2.15"/>
<circle cx="827.9" cy="960.2" r="2.15"/>
<circle cx="827.9" cy="960.2" r="2.15"/>
<circle cx="827.9" cy="960.2" r="2.15"/>
<circle cx="827.9" cy="960.2" r="2.15"/>
<circle cx="827.9" cy="960.2" r="2.15"/>
<circle cx="827.9" cy="960.2" r="2.15"/>
<circle cx="827.9" cy="960.3" r="2.15"/>
<circle cx="827.9" cy="960.3" r="2.15"/>
<circle cx="827.9" cy="960.3" r="2.15"/>
<circle cx="878.5" cy="957.7" r="2.15"/>
<circle cx="878.4" cy="957.7" r="2.15"/>
<circle cx="879.1" cy="957.8" r="2.15"/>
<circle cx="878.6" cy="957.8" r="2.15"/>
<circle cx="878.8" cy="957.8" r="2.15"/>
<circle cx="878.4" cy="957.8" r="2.15"/>
<circle cx="878.9" cy="957.9" r="2.15"/>
<circle cx="878.4" cy="957.9" r="2.15"/>
<circle cx="878.9" cy="957.9" r="2.15"/>
<circle cx="879.0" cy="957.9" r="2.15"/>
<circle cx="878.7" cy="957.9" r="2.15"/>
<circle cx="879.0" cy="958.0" r="2.15"/>
<circle cx="878.4" cy="958.0" r="2.15"/>
<circle cx="879.0" cy="958.0" r="2.15"/>
<circle cx="878.8" cy="958.0" r="2.15"/>
<circle cx="879.0" cy="958.0" r="2.15"/>
<circle cx="879.0" cy="958.0" r="2.15"/>
<circle cx="881.9" cy="957.7" r="2.15"/>
<circle cx="881.8" cy="957.7" r="2.15"/>
<circle cx="881.9" cy="957.8" r="2.15"/>
<circle cx="882.0" cy="958.0" r="2.15"/>
<circle cx="882.7" cy="958.0" r="2.15"/>
<circle cx="882.5" cy="958.0" r="2.15"/>
<circle cx="882.6" cy="958.1" r="2.15"/>
<circle cx="884.3" cy="957.8" r="2.15"/>
<circle cx="884.4" cy="957.8" r="2.15"/>
<circle cx="884.3" cy="957.8" r="2.15"/>
<circle cx="884.3" cy="957.8" r="2.15"/>
<circle cx="884.3" cy="957.8" r="2.15"/>
<circle cx="884.3" cy="957.8" r="2.15"/>
<circle cx="884.3" cy="957.9" r="2.15"/>
<circle cx="884.4" cy="957.9" r="2.15"/>
<circle cx="815.0" cy="953.7" r="2.15"/>
<circle cx="828.6" cy="950.4" r="2.15"/>
<circle cx="901.7" cy="963.2" r="2.15"/>
<circle cx="914.0" cy="955.6" r="2.15"/>
<circle cx="940.1" cy="950.5" r="2.15"/>
<circle cx="941.3" cy="969.9" r="2.15"/>
<circle cx="943.8" cy="966.8" r="2.15"/>
<circle cx="924.0" cy="966.3" r="2.15"/>
<circle cx="941.1" cy="962.6" r="2.15"/>
<circle cx="848.5" cy="531.7" r="2.15"/>
<circle cx="657.2" cy="966.2" r="2.15"/>
<circle cx="691.6" cy="964.2" r="2.15"/>
<circle cx="711.9" cy="963.4" r="2.15"/>
<circle cx="773.8" cy="952.9" r="2.15"/>
<circle cx="769.7" cy="955.8" r="2.15"/>
<circle cx="773.1" cy="968.6" r="2.15"/>
<circle cx="753.6" cy="965.7" r="2.15"/>
<circle cx="769.7" cy="965.7" r="2.15"/>
<circle cx="634.9" cy="961.2" r="2.15"/>
<circle cx="635.5" cy="960.9" r="2.15"/>
<circle cx="636.1" cy="960.7" r="2.15"/>
<circle cx="636.8" cy="961.3" r="2.15"/>
<circle cx="637.4" cy="961.2" r="2.15"/>
<circle cx="638.0" cy="960.4" r="2.15"/>
<circle cx="638.6" cy="961.3" r="2.15"/>
<circle cx="639.2" cy="961.2" r="2.15"/>
<circle cx="645.1" cy="960.4" r="2.15"/>
<circle cx="645.7" cy="960.7" r="2.15"/>
<circle cx="646.3" cy="961.0" r="2.15"/>
<circle cx="646.9" cy="960.8" r="2.15"/>
<circle cx="647.6" cy="960.7" r="2.15"/>
<circle cx="648.2" cy="961.1" r="2.15"/>
<circle cx="648.8" cy="961.2" r="2.15"/>
<circle cx="649.4" cy="960.6" r="2.15"/>
<circle cx="650.0" cy="960.7" r="2.15"/>
<circle cx="650.7" cy="960.8" r="2.15"/>
<circle cx="651.3" cy="960.5" r="2.15"/>
<circle cx="651.9" cy="960.8" r="2.15"/>
<circle cx="652.5" cy="960.3" r="2.15"/>
<circle cx="653.1" cy="961.2" r="2.15"/>
<circle cx="653.8" cy="960.8" r="2.15"/>
<circle cx="654.4" cy="960.9" r="2.15"/>
<circle cx="655.0" cy="961.0" r="2.15"/>
<circle cx="655.6" cy="960.8" r="2.15"/>
<circle cx="656.3" cy="961.1" r="2.15"/>
<circle cx="656.9" cy="960.5" r="2.15"/>
<circle cx="657.5" cy="960.5" r="2.15"/>
<circle cx="658.1" cy="961.2" r="2.15"/>
<circle cx="658.7" cy="960.9" r="2.15"/>
<circle cx="659.4" cy="961.1" r="2.15"/>
<circle cx="660.0" cy="961.3" r="2.15"/>
<circle cx="660.6" cy="960.4" r="2.15"/>
<circle cx="661.2" cy="960.9" r="2.15"/>
<circle cx="661.8" cy="961.2" r="2.15"/>
<circle cx="662.5" cy="960.7" r="2.15"/>
<circle cx="663.1" cy="961.2" r="2.15"/>
<circle cx="663.7" cy="960.4" r="2.15"/>
<circle cx="664.3" cy="961.2" r="2.15"/>
<circle cx="664.9" cy="961.3" r="2.15"/>
<circle cx="665.6" cy="961.2" r="2.15"/>
<circle cx="666.2" cy="961.0" r="2.15"/>
<circle cx="666.8" cy="960.9" r="2.15"/>
<circle cx="667.4" cy="960.4" r="2.15"/>
<circle cx="668.0" cy="960.6" r="2.15"/>
<circle cx="668.7" cy="961.0" r="2.15"/>
<circle cx="669.3" cy="961.4" r="2.15"/>
<circle cx="669.9" cy="961.2" r="2.15"/>
<circle cx="670.5" cy="960.3" r="2.15"/>
<circle cx="671.2" cy="960.9" r="2.15"/>
<circle cx="671.8" cy="960.7" r="2.15"/>
<circle cx="672.4" cy="961.3" r="2.15"/>
<circle cx="673.0" cy="961.3" r="2.15"/>
<circle cx="673.6" cy="960.5" r="2.15"/>
<circle cx="674.3" cy="960.8" r="2.15"/>
<circle cx="674.9" cy="961.1" r="2.15"/>
<circle cx="675.5" cy="961.0" r="2.15"/>
<circle cx="676.1" cy="961.3" r="2.15"/>
<circle cx="676.7" cy="961.2" r="2.15"/>
<circle cx="677.4" cy="961.4" r="2.15"/>
<circle cx="678.0" cy="960.5" r="2.15"/>
<circle cx="678.6" cy="960.9" r="2.15"/>
<circle cx="679.2" cy="961.2" r="2.15"/>
<circle cx="679.8" cy="960.6" r="2.15"/>
<circle cx="680.5" cy="961.2" r="2.15"/>
<circle cx="681.1" cy="961.3" r="2.15"/>
<circle cx="681.7" cy="960.8" r="2.15"/>
<circle cx="682.3" cy="960.4" r="2.15"/>
<circle cx="682.9" cy="961.4" r="2.15"/>
<circle cx="683.6" cy="960.5" r="2.15"/>
<circle cx="684.2" cy="961.2" r="2.15"/>
<circle cx="684.8" cy="961.3" r="2.15"/>
<circle cx="685.4" cy="961.4" r="2.15"/>
<circle cx="686.1" cy="961.1" r="2.15"/>
<circle cx="686.7" cy="960.6" r="2.15"/>
<circle cx="687.3" cy="960.9" r="2.15"/>
<circle cx="687.9" cy="960.5" r="2.15"/>
<circle cx="688.5" cy="961.2" r="2.15"/>
<circle cx="689.2" cy="961.0" r="2.15"/>
<circle cx="689.8" cy="961.1" r="2.15"/>
<circle cx="690.4" cy="960.4" r="2.15"/>
<circle cx="691.0" cy="960.4" r="2.15"/>
<circle cx="691.6" cy="961.0" r="2.15"/>
<circle cx="692.3" cy="960.9" r="2.15"/>
<circle cx="692.9" cy="961.0" r="2.15"/>
<circle cx="700.8" cy="960.6" r="2.15"/>
<circle cx="701.4" cy="961.3" r="2.15"/>
<circle cx="702.1" cy="961.3" r="2.15"/>
<circle cx="702.7" cy="961.0" r="2.15"/>
<circle cx="703.3" cy="961.1" r="2.15"/>
<circle cx="703.9" cy="960.5" r="2.15"/>
<circle cx="704.6" cy="960.6" r="2.15"/>
<circle cx="705.2" cy="960.8" r="2.15"/>
<circle cx="705.8" cy="960.7" r="2.15"/>
<circle cx="706.4" cy="960.7" r="2.15"/>
<circle cx="707.0" cy="960.6" r="2.15"/>
<circle cx="707.7" cy="960.4" r="2.15"/>
<circle cx="708.3" cy="961.2" r="2.15"/>
<circle cx="708.9" cy="960.7" r="2.15"/>
<circle cx="709.5" cy="961.2" r="2.15"/>
<circle cx="710.1" cy="960.9" r="2.15"/>
<circle cx="710.8" cy="960.6" r="2.15"/>
<circle cx="711.4" cy="960.4" r="2.15"/>
<circle cx="712.0" cy="960.6" r="2.15"/>
<circle cx="712.6" cy="961.3" r="2.15"/>
<circle cx="713.2" cy="961.0" r="2.15"/>
<circle cx="713.9" cy="961.2" r="2.15"/>
<circle cx="714.5" cy="960.3" r="2.15"/>
<circle cx="715.1" cy="961.2" r="2.15"/>
<circle cx="715.7" cy="961.1" r="2.15"/>
<circle cx="716.3" cy="961.0" r="2.15"/>
<circle cx="717.0" cy="961.3" r="2.15"/>
<circle cx="717.6" cy="960.5" r="2.15"/>
<circle cx="718.2" cy="960.7" r="2.15"/>
<circle cx="718.8" cy="961.2" r="2.15"/>
<circle cx="719.5" cy="960.9" r="2.15"/>
<circle cx="725.8" cy="961.3" r="2.15"/>
<circle cx="726.4" cy="960.7" r="2.15"/>
<circle cx="727.0" cy="961.1" r="2.15"/>
<circle cx="727.6" cy="961.3" r="2.15"/>
<circle cx="728.3" cy="961.3" r="2.15"/>
<circle cx="728.9" cy="960.8" r="2.15"/>
<circle cx="729.5" cy="960.7" r="2.15"/>
<circle cx="730.1" cy="961.0" r="2.15"/>
<circle cx="730.8" cy="960.7" r="2.15"/>
<circle cx="731.4" cy="961.0" r="2.15"/>
<circle cx="732.0" cy="961.2" r="2.15"/>
<circle cx="732.6" cy="961.0" r="2.15"/>
<circle cx="733.2" cy="961.0" r="2.15"/>
<circle cx="733.9" cy="960.4" r="2.15"/>
<circle cx="734.5" cy="961.3" r="2.15"/>
<circle cx="735.1" cy="961.3" r="2.15"/>
<circle cx="735.7" cy="960.8" r="2.15"/>
<circle cx="736.3" cy="960.4" r="2.15"/>
<circle cx="737.0" cy="960.4" r="2.15"/>
<circle cx="737.6" cy="960.6" r="2.15"/>
<circle cx="738.2" cy="961.3" r="2.15"/>
<circle cx="738.8" cy="960.5" r="2.15"/>
<circle cx="739.4" cy="960.7" r="2.15"/>
<circle cx="740.1" cy="961.2" r="2.15"/>
<circle cx="740.7" cy="960.9" r="2.15"/>
<circle cx="741.3" cy="961.3" r="2.15"/>
<circle cx="741.9" cy="960.5" r="2.15"/>
<circle cx="742.5" cy="960.6" r="2.15"/>
<circle cx="743.2" cy="960.5" r="2.15"/>
<circle cx="743.8" cy="960.6" r="2.15"/>
<circle cx="744.4" cy="961.1" r="2.15"/>
<circle cx="745.0" cy="960.6" r="2.15"/>
<circle cx="745.7" cy="961.1" r="2.15"/>
<circle cx="746.3" cy="961.2" r="2.15"/>
<circle cx="746.9" cy="961.0" r="2.15"/>
<circle cx="747.5" cy="960.9" r="2.15"/>
<circle cx="748.1" cy="961.1" r="2.15"/>
<circle cx="748.8" cy="960.7" r="2.15"/>
<circle cx="749.4" cy="960.7" r="2.15"/>
<circle cx="750.0" cy="961.1" r="2.15"/>
<circle cx="750.6" cy="960.7" r="2.15"/>
<circle cx="751.2" cy="961.0" r="2.15"/>
<circle cx="751.9" cy="960.6" r="2.15"/>
<circle cx="752.5" cy="961.1" r="2.15"/>
<circle cx="753.1" cy="960.5" r="2.15"/>
<circle cx="753.7" cy="960.9" r="2.15"/>
<circle cx="754.3" cy="960.8" r="2.15"/>
<circle cx="755.0" cy="960.7" r="2.15"/>
<circle cx="755.6" cy="960.8" r="2.15"/>
<circle cx="756.2" cy="961.1" r="2.15"/>
<circle cx="756.8" cy="960.4" r="2.15"/>
<circle cx="757.4" cy="961.3" r="2.15"/>
<circle cx="758.1" cy="961.0" r="2.15"/>
<circle cx="758.7" cy="960.8" r="2.15"/>
<circle cx="759.3" cy="961.3" r="2.15"/>
<circle cx="759.9" cy="961.2" r="2.15"/>
<circle cx="760.6" cy="960.5" r="2.15"/>
<circle cx="761.2" cy="960.6" r="2.15"/>
<circle cx="761.8" cy="960.7" r="2.15"/>
<circle cx="762.4" cy="960.4" r="2.15"/>
<circle cx="763.0" cy="960.6" r="2.15"/>
<circle cx="763.7" cy="961.1" r="2.15"/>
<circle cx="764.3" cy="960.7" r="2.15"/>
<circle cx="764.9" cy="961.0" r="2.15"/>
<circle cx="765.5" cy="960.6" r="2.15"/>
<circle cx="766.1" cy="961.0" r="2.15"/>
<circle cx="766.8" cy="961.2" r="2.15"/>
<circle cx="767.4" cy="960.5" r="2.15"/>
<circle cx="768.0" cy="960.7" r="2.15"/>
<circle cx="768.6" cy="960.6" r="2.15"/>
<circle cx="769.2" cy="960.8" r="2.15"/>
<circle cx="769.9" cy="960.6" r="2.15"/>
<circle cx="770.5" cy="960.9" r="2.15"/>
<circle cx="771.1" cy="960.8" r="2.15"/>
<circle cx="771.7" cy="961.3" r="2.15"/>
<circle cx="772.3" cy="960.8" r="2.15"/>
<circle cx="773.0" cy="960.5" r="2.15"/>
<circle cx="773.6" cy="960.6" r="2.15"/>
<circle cx="774.2" cy="960.5" r="2.15"/>
<circle cx="774.8" cy="960.9" r="2.15"/>
<circle cx="775.5" cy="960.5" r="2.15"/>
<circle cx="776.1" cy="961.3" r="2.15"/>
<circle cx="776.7" cy="960.5" r="2.15"/>
<circle cx="777.3" cy="961.0" r="2.15"/>
<circle cx="777.9" cy="961.3" r="2.15"/>
<circle cx="778.6" cy="960.7" r="2.15"/>
<circle cx="779.2" cy="960.9" r="2.15"/>
<circle cx="779.8" cy="960.9" r="2.15"/>
<circle cx="780.4" cy="960.5" r="2.15"/>
<circle cx="781.0" cy="961.2" r="2.15"/>
<circle cx="781.7" cy="960.7" r="2.15"/>
<circle cx="782.3" cy="960.9" r="2.15"/>
<circle cx="782.9" cy="960.8" r="2.15"/>
<circle cx="783.5" cy="960.9" r="2.15"/>
<circle cx="784.1" cy="961.2" r="2.15"/>
<circle cx="784.8" cy="960.8" r="2.15"/>
<circle cx="785.4" cy="960.5" r="2.15"/>
<circle cx="786.0" cy="961.2" r="2.15"/>
<circle cx="786.6" cy="961.4" r="2.15"/>
<circle cx="787.2" cy="961.3" r="2.15"/>
<circle cx="787.9" cy="960.9" r="2.15"/>
<circle cx="788.5" cy="960.4" r="2.15"/>
<circle cx="789.1" cy="961.3" r="2.15"/>
<circle cx="789.7" cy="960.3" r="2.15"/>
<circle cx="790.4" cy="960.8" r="2.15"/>
<circle cx="791.0" cy="961.3" r="2.15"/>
<circle cx="801.4" cy="960.9" r="2.15"/>
<circle cx="802.0" cy="961.2" r="2.15"/>
<circle cx="802.6" cy="960.6" r="2.15"/>
<circle cx="803.3" cy="960.8" r="2.15"/>
<circle cx="803.9" cy="961.1" r="2.15"/>
<circle cx="809.2" cy="961.1" r="2.15"/>
<circle cx="809.8" cy="960.5" r="2.15"/>
<circle cx="810.5" cy="960.6" r="2.15"/>
<circle cx="811.1" cy="960.9" r="2.15"/>
<circle cx="811.7" cy="961.0" r="2.15"/>
<circle cx="812.3" cy="960.6" r="2.15"/>
<circle cx="813.0" cy="960.4" r="2.15"/>
<circle cx="813.6" cy="961.3" r="2.15"/>
<circle cx="814.2" cy="961.2" r="2.15"/>
<circle cx="814.8" cy="961.0" r="2.15"/>
<circle cx="815.4" cy="960.8" r="2.15"/>
<circle cx="816.1" cy="961.3" r="2.15"/>
<circle cx="816.7" cy="961.3" r="2.15"/>
<circle cx="817.3" cy="961.1" r="2.15"/>
<circle cx="817.9" cy="961.0" r="2.15"/>
<circle cx="818.5" cy="960.6" r="2.15"/>
<circle cx="819.2" cy="960.7" r="2.15"/>
<circle cx="819.8" cy="961.3" r="2.15"/>
<circle cx="820.4" cy="961.3" r="2.15"/>
<circle cx="821.0" cy="960.9" r="2.15"/>
<circle cx="821.6" cy="960.5" r="2.15"/>
<circle cx="822.3" cy="960.4" r="2.15"/>
<circle cx="822.9" cy="961.0" r="2.15"/>
<circle cx="823.5" cy="960.4" r="2.15"/>
<circle cx="824.1" cy="960.4" r="2.15"/>
<circle cx="824.7" cy="961.0" r="2.15"/>
<circle cx="825.4" cy="960.6" r="2.15"/>
<circle cx="826.0" cy="961.0" r="2.15"/>
<circle cx="826.6" cy="961.2" r="2.15"/>
<circle cx="827.2" cy="960.8" r="2.15"/>
<circle cx="827.9" cy="961.3" r="2.15"/>
<circle cx="828.5" cy="960.7" r="2.15"/>
<circle cx="829.1" cy="960.5" r="2.15"/>
<circle cx="829.7" cy="960.4" r="2.15"/>
<circle cx="830.3" cy="960.9" r="2.15"/>
<circle cx="831.0" cy="961.3" r="2.15"/>
<circle cx="831.6" cy="960.4" r="2.15"/>
<circle cx="832.2" cy="960.5" r="2.15"/>
<circle cx="832.8" cy="960.4" r="2.15"/>
<circle cx="833.4" cy="960.8" r="2.15"/>
<circle cx="834.1" cy="960.7" r="2.15"/>
<circle cx="834.7" cy="961.0" r="2.15"/>
<circle cx="835.3" cy="961.2" r="2.15"/>
<circle cx="835.9" cy="961.1" r="2.15"/>
<circle cx="836.5" cy="960.6" r="2.15"/>
<circle cx="837.2" cy="961.0" r="2.15"/>
<circle cx="837.8" cy="960.7" r="2.15"/>
<circle cx="838.4" cy="960.9" r="2.15"/>
<circle cx="839.0" cy="960.9" r="2.15"/>
<circle cx="839.6" cy="960.4" r="2.15"/>
<circle cx="840.3" cy="961.2" r="2.15"/>
<circle cx="840.9" cy="960.9" r="2.15"/>
<circle cx="841.5" cy="961.2" r="2.15"/>
<circle cx="842.1" cy="960.4" r="2.15"/>
<circle cx="842.8" cy="960.9" r="2.15"/>
<circle cx="843.4" cy="961.0" r="2.15"/>
<circle cx="844.0" cy="961.2" r="2.15"/>
<circle cx="844.6" cy="960.8" r="2.15"/>
<circle cx="845.2" cy="961.0" r="2.15"/>
<circle cx="845.9" cy="961.2" r="2.15"/>
<circle cx="846.5" cy="961.3" r="2.15"/>
<circle cx="847.1" cy="961.0" r="2.15"/>
<circle cx="847.7" cy="960.8" r="2.15"/>
<circle cx="848.3" cy="960.8" r="2.15"/>
<circle cx="849.0" cy="960.4" r="2.15"/>
<circle cx="849.6" cy="960.4" r="2.15"/>
<circle cx="850.2" cy="960.4" r="2.15"/>
<circle cx="850.8" cy="960.5" r="2.15"/>
<circle cx="851.4" cy="960.9" r="2.15"/>
<circle cx="852.1" cy="960.8" r="2.15"/>
<circle cx="852.7" cy="961.0" r="2.15"/>
<circle cx="853.3" cy="961.0" r="2.15"/>
<circle cx="853.9" cy="961.3" r="2.15"/>
<circle cx="854.5" cy="960.5" r="2.15"/>
<circle cx="855.2" cy="961.1" r="2.15"/>
<circle cx="855.8" cy="961.3" r="2.15"/>
<circle cx="856.4" cy="960.9" r="2.15"/>
<circle cx="857.0" cy="960.6" r="2.15"/>
<circle cx="857.7" cy="960.9" r="2.15"/>
<circle cx="858.3" cy="961.0" r="2.15"/>
<circle cx="858.9" cy="960.7" r="2.15"/>
<circle cx="859.5" cy="961.2" r="2.15"/>
<circle cx="860.1" cy="961.4" r="2.15"/>
<circle cx="873.9" cy="960.8" r="2.15"/>
<circle cx="874.5" cy="960.8" r="2.15"/>
<circle cx="875.2" cy="960.5" r="2.15"/>
<circle cx="875.8" cy="960.9" r="2.15"/>
<circle cx="876.4" cy="960.6" r="2.15"/>
<circle cx="877.0" cy="961.4" r="2.15"/>
<circle cx="877.6" cy="961.4" r="2.15"/>
<circle cx="878.3" cy="960.8" r="2.15"/>
<circle cx="878.9" cy="961.1" r="2.15"/>
<circle cx="879.5" cy="961.3" r="2.15"/>
<circle cx="880.1" cy="961.2" r="2.15"/>
<circle cx="880.7" cy="961.0" r="2.15"/>
<circle cx="881.4" cy="961.0" r="2.15"/>
<circle cx="882.0" cy="960.8" r="2.15"/>
<circle cx="882.6" cy="960.4" r="2.15"/>
<circle cx="883.2" cy="961.0" r="2.15"/>
<circle cx="883.8" cy="961.2" r="2.15"/>
<circle cx="884.5" cy="960.8" r="2.15"/>
<circle cx="885.1" cy="961.4" r="2.15"/>
<circle cx="885.7" cy="961.0" r="2.15"/>
<circle cx="886.3" cy="961.0" r="2.15"/>
<circle cx="887.0" cy="961.0" r="2.15"/>
<circle cx="887.6" cy="961.3" r="2.15"/>
<circle cx="888.2" cy="960.8" r="2.15"/>
<circle cx="888.8" cy="960.7" r="2.15"/>
<circle cx="889.4" cy="960.6" r="2.15"/>
<circle cx="890.1" cy="960.4" r="2.15"/>
<circle cx="890.7" cy="961.0" r="2.15"/>
<circle cx="891.3" cy="960.7" r="2.15"/>
<circle cx="891.9" cy="960.9" r="2.15"/>
<circle cx="892.5" cy="961.2" r="2.15"/>
<circle cx="893.2" cy="960.4" r="2.15"/>
<circle cx="893.8" cy="960.6" r="2.15"/>
<circle cx="894.4" cy="960.4" r="2.15"/>
<circle cx="895.0" cy="960.5" r="2.15"/>
<circle cx="895.6" cy="960.4" r="2.15"/>
<circle cx="896.3" cy="961.2" r="2.15"/>
<circle cx="896.9" cy="961.4" r="2.15"/>
<circle cx="897.5" cy="961.2" r="2.15"/>
<circle cx="898.1" cy="960.9" r="2.15"/>
<circle cx="898.7" cy="960.7" r="2.15"/>
<circle cx="899.4" cy="960.9" r="2.15"/>
<circle cx="900.0" cy="960.8" r="2.15"/>
<circle cx="900.6" cy="960.6" r="2.15"/>
<circle cx="901.2" cy="961.3" r="2.15"/>
<circle cx="901.9" cy="960.7" r="2.15"/>
<circle cx="902.5" cy="961.3" r="2.15"/>
<circle cx="903.1" cy="961.1" r="2.15"/>
<circle cx="903.7" cy="960.6" r="2.15"/>
<circle cx="904.3" cy="960.7" r="2.15"/>
<circle cx="905.0" cy="961.0" r="2.15"/>
<circle cx="905.6" cy="961.1" r="2.15"/>
<circle cx="906.2" cy="960.5" r="2.15"/>
<circle cx="906.8" cy="961.1" r="2.15"/>
<circle cx="907.4" cy="961.3" r="2.15"/>
<circle cx="908.1" cy="961.1" r="2.15"/>
<circle cx="908.7" cy="961.4" r="2.15"/>
<circle cx="909.3" cy="960.5" r="2.15"/>
<circle cx="909.9" cy="961.3" r="2.15"/>
<circle cx="910.5" cy="960.4" r="2.15"/>
<circle cx="911.2" cy="961.2" r="2.15"/>
<circle cx="911.8" cy="961.1" r="2.15"/>
<circle cx="912.4" cy="960.8" r="2.15"/>
<circle cx="913.0" cy="961.1" r="2.15"/>
<circle cx="913.6" cy="961.0" r="2.15"/>
<circle cx="914.3" cy="961.3" r="2.15"/>
<circle cx="914.9" cy="961.0" r="2.15"/>
<circle cx="915.5" cy="961.4" r="2.15"/>
<circle cx="916.1" cy="961.1" r="2.15"/>
<circle cx="916.8" cy="960.4" r="2.15"/>
<circle cx="917.4" cy="961.1" r="2.15"/>
<circle cx="918.0" cy="961.1" r="2.15"/>
<circle cx="918.6" cy="960.7" r="2.15"/>
<circle cx="919.2" cy="960.5" r="2.15"/>
<circle cx="919.9" cy="961.1" r="2.15"/>
<circle cx="920.5" cy="961.0" r="2.15"/>
<circle cx="921.1" cy="960.6" r="2.15"/>
<circle cx="921.7" cy="960.5" r="2.15"/>
<circle cx="922.3" cy="960.7" r="2.15"/>
<circle cx="923.0" cy="961.2" r="2.15"/>
<circle cx="923.6" cy="961.2" r="2.15"/>
<circle cx="924.2" cy="960.6" r="2.15"/>
<circle cx="924.8" cy="960.6" r="2.15"/>
<circle cx="925.4" cy="960.4" r="2.15"/>
<circle cx="926.1" cy="960.6" r="2.15"/>
<circle cx="926.7" cy="960.9" r="2.15"/>
<circle cx="927.3" cy="961.2" r="2.15"/>
<circle cx="927.9" cy="960.4" r="2.15"/>
<circle cx="928.5" cy="960.6" r="2.15"/>
<circle cx="929.2" cy="960.8" r="2.15"/>
<circle cx="929.8" cy="960.7" r="2.15"/>
<circle cx="930.4" cy="961.0" r="2.15"/>
<circle cx="931.0" cy="961.0" r="2.15"/>
<circle cx="931.7" cy="960.8" r="2.15"/>
<circle cx="932.3" cy="960.9" r="2.15"/>
<circle cx="932.9" cy="960.6" r="2.15"/>
<circle cx="933.5" cy="960.4" r="2.15"/>
<circle cx="934.1" cy="960.5" r="2.15"/>
<circle cx="934.8" cy="961.0" r="2.15"/>
<circle cx="935.4" cy="961.0" r="2.15"/>
<circle cx="936.0" cy="960.4" r="2.15"/>
<circle cx="936.6" cy="961.0" r="2.15"/>
<circle cx="937.2" cy="960.5" r="2.15"/>
<circle cx="937.9" cy="961.3" r="2.15"/>
<circle cx="938.5" cy="960.9" r="2.15"/>
<circle cx="939.1" cy="960.8" r="2.15"/>
<circle cx="939.7" cy="960.5" r="2.15"/>
<circle cx="940.3" cy="960.5" r="2.15"/>
<circle cx="941.0" cy="961.2" r="2.15"/>
<circle cx="941.6" cy="960.7" r="2.15"/>
<circle cx="942.2" cy="960.7" r="2.15"/>
<circle cx="942.8" cy="961.2" r="2.15"/>
<circle cx="943.4" cy="960.5" r="2.15"/>
<circle cx="944.1" cy="960.8" r="2.15"/>
<circle cx="944.7" cy="960.4" r="2.15"/>
<circle cx="945.3" cy="961.2" r="2.15"/>
<circle cx="945.9" cy="960.8" r="2.15"/>
<circle cx="946.6" cy="961.0" r="2.15"/>
<circle cx="947.2" cy="960.7" r="2.15"/>
<circle cx="947.8" cy="960.7" r="2.15"/>
<circle cx="948.4" cy="960.8" r="2.15"/>
<circle cx="949.0" cy="961.0" r="2.15"/>
<circle cx="949.7" cy="960.9" r="2.15"/>
<circle cx="950.3" cy="961.0" r="2.15"/>
<circle cx="950.9" cy="960.4" r="2.15"/>
<circle cx="951.5" cy="960.9" r="2.15"/>
<circle cx="770.0" cy="957.3" r="2.15"/>
<circle cx="772.7" cy="957.8" r="2.15"/>
<circle cx="772.7" cy="958.3" r="2.15"/>
<circle cx="772.7" cy="958.6" r="2.15"/>
<circle cx="772.7" cy="958.7" r="2.15"/>
<circle cx="772.7" cy="958.7" r="2.15"/>
<circle cx="784.1" cy="958.6" r="2.15"/>
<circle cx="649.8" cy="958.8" r="2.15"/>
<circle cx="713.1" cy="958.7" r="2.15"/>
<circle cx="728.0" cy="958.7" r="2.15"/>
<circle cx="754.0" cy="958.9" r="2.15"/>
<circle cx="765.4" cy="958.9" r="2.15"/>
<circle cx="784.1" cy="958.9" r="2.15"/>
<circle cx="772.7" cy="959.0" r="2.15"/>
<circle cx="691.9" cy="959.1" r="2.15"/>
<circle cx="768.7" cy="959.3" r="2.15"/>
<circle cx="770.0" cy="959.3" r="2.15"/>
<circle cx="784.1" cy="959.3" r="2.15"/>
<circle cx="784.1" cy="959.3" r="2.15"/>
<circle cx="786.2" cy="959.4" r="2.15"/>
<circle cx="786.2" cy="959.5" r="2.15"/>
<circle cx="782.5" cy="959.6" r="2.15"/>
<circle cx="709.2" cy="959.6" r="2.15"/>
<circle cx="768.7" cy="959.6" r="2.15"/>
<circle cx="709.1" cy="959.6" r="2.15"/>
<circle cx="683.3" cy="959.7" r="2.15"/>
<circle cx="694.3" cy="959.8" r="2.15"/>
<circle cx="711.8" cy="959.8" r="2.15"/>
<circle cx="711.8" cy="959.9" r="2.15"/>
<circle cx="664.7" cy="959.9" r="2.15"/>
<circle cx="673.3" cy="960.0" r="2.15"/>
<circle cx="684.4" cy="959.9" r="2.15"/>
<circle cx="690.8" cy="960.0" r="2.15"/>
<circle cx="680.8" cy="960.1" r="2.15"/>
<circle cx="677.2" cy="960.1" r="2.15"/>
<circle cx="679.5" cy="960.1" r="2.15"/>
<circle cx="691.9" cy="960.1" r="2.15"/>
<circle cx="702.1" cy="960.1" r="2.15"/>
<circle cx="694.3" cy="960.1" r="2.15"/>
<circle cx="672.2" cy="960.2" r="2.15"/>
<circle cx="678.5" cy="960.2" r="2.15"/>
<circle cx="683.3" cy="960.2" r="2.15"/>
<circle cx="688.3" cy="960.2" r="2.15"/>
<circle cx="694.3" cy="960.2" r="2.15"/>
<circle cx="700.7" cy="960.2" r="2.15"/>
<circle cx="666.1" cy="960.2" r="2.15"/>
<circle cx="668.6" cy="960.2" r="2.15"/>
<circle cx="669.7" cy="960.3" r="2.15"/>
<circle cx="675.8" cy="960.3" r="2.15"/>
<circle cx="679.0" cy="960.3" r="2.15"/>
<circle cx="682.2" cy="960.3" r="2.15"/>
<circle cx="684.9" cy="960.3" r="2.15"/>
<circle cx="687.6" cy="960.3" r="2.15"/>
<circle cx="687.6" cy="960.3" r="2.15"/>
<circle cx="688.7" cy="960.3" r="2.15"/>
<circle cx="701.6" cy="960.2" r="2.15"/>
<circle cx="700.5" cy="960.3" r="2.15"/>
<circle cx="703.7" cy="960.3" r="2.15"/>
<circle cx="704.8" cy="960.3" r="2.15"/>
<circle cx="708.0" cy="960.2" r="2.15"/>
<circle cx="711.2" cy="960.2" r="2.15"/>
<circle cx="713.4" cy="960.1" r="2.15"/>
<circle cx="712.3" cy="960.2" r="2.15"/>
<circle cx="708.0" cy="960.3" r="2.15"/>
<circle cx="713.4" cy="960.3" r="2.15"/>
<circle cx="709.3" cy="959.6" r="2.15"/>
<circle cx="768.8" cy="959.6" r="2.15"/>
<circle cx="772.6" cy="959.7" r="2.15"/>
<circle cx="782.6" cy="959.7" r="2.15"/>
<circle cx="751.5" cy="959.7" r="2.15"/>
<circle cx="761.3" cy="959.8" r="2.15"/>
<circle cx="783.9" cy="959.8" r="2.15"/>
<circle cx="711.9" cy="959.8" r="2.15"/>
<circle cx="738.0" cy="959.9" r="2.15"/>
<circle cx="780.1" cy="959.9" r="2.15"/>
<circle cx="711.9" cy="959.9" r="2.15"/>
<circle cx="719.5" cy="960.0" r="2.15"/>
<circle cx="719.5" cy="960.0" r="2.15"/>
<circle cx="725.9" cy="960.0" r="2.15"/>
<circle cx="728.0" cy="960.1" r="2.15"/>
<circle cx="736.6" cy="960.1" r="2.15"/>
<circle cx="745.8" cy="960.0" r="2.15"/>
<circle cx="745.8" cy="960.1" r="2.15"/>
<circle cx="747.9" cy="960.0" r="2.15"/>
<circle cx="751.7" cy="960.0" r="2.15"/>
<circle cx="762.7" cy="960.0" r="2.15"/>
<circle cx="771.0" cy="959.9" r="2.15"/>
<circle cx="769.4" cy="960.0" r="2.15"/>
<circle cx="779.6" cy="960.0" r="2.15"/>
<circle cx="782.3" cy="959.6" r="2.15"/>
<circle cx="720.0" cy="960.2" r="2.15"/>
<circle cx="720.0" cy="960.2" r="2.15"/>
<circle cx="718.9" cy="960.3" r="2.15"/>
<circle cx="781.2" cy="959.9" r="2.15"/>
<circle cx="785.5" cy="959.9" r="2.15"/>
<circle cx="788.7" cy="959.9" r="2.15"/>
<circle cx="784.4" cy="959.9" r="2.15"/>
<circle cx="786.6" cy="960.0" r="2.15"/>
<circle cx="790.9" cy="960.0" r="2.15"/>
<circle cx="790.9" cy="960.0" r="2.15"/>
<circle cx="787.6" cy="960.1" r="2.15"/>
<circle cx="789.8" cy="960.1" r="2.15"/>
<circle cx="711.9" cy="959.8" r="2.15"/>
<circle cx="738.0" cy="959.9" r="2.15"/>
<circle cx="711.9" cy="959.9" r="2.15"/>
<circle cx="719.6" cy="960.0" r="2.15"/>
<circle cx="690.9" cy="960.0" r="2.15"/>
<circle cx="719.6" cy="960.0" r="2.15"/>
<circle cx="725.4" cy="960.0" r="2.15"/>
<circle cx="728.0" cy="960.1" r="2.15"/>
<circle cx="736.9" cy="960.1" r="2.15"/>
<circle cx="692.0" cy="960.1" r="2.15"/>
<circle cx="702.0" cy="960.1" r="2.15"/>
<circle cx="694.3" cy="960.1" r="2.15"/>
<circle cx="713.1" cy="960.1" r="2.15"/>
<circle cx="720.4" cy="960.1" r="2.15"/>
<circle cx="718.8" cy="960.1" r="2.15"/>
<circle cx="716.5" cy="960.1" r="2.15"/>
<circle cx="714.2" cy="960.2" r="2.15"/>
<circle cx="711.2" cy="960.2" r="2.15"/>
<circle cx="708.1" cy="960.2" r="2.15"/>
<circle cx="707.3" cy="960.2" r="2.15"/>
<circle cx="719.6" cy="960.2" r="2.15"/>
<circle cx="720.4" cy="960.2" r="2.15"/>
<circle cx="720.8" cy="960.2" r="2.15"/>
<circle cx="713.5" cy="960.2" r="2.15"/>
<circle cx="711.9" cy="960.2" r="2.15"/>
<circle cx="715.0" cy="960.2" r="2.15"/>
<circle cx="713.5" cy="960.3" r="2.15"/>
<circle cx="711.2" cy="960.3" r="2.15"/>
<circle cx="708.1" cy="960.3" r="2.15"/>
<circle cx="705.0" cy="960.3" r="2.15"/>
<circle cx="702.0" cy="960.3" r="2.15"/>
<circle cx="700.4" cy="960.2" r="2.15"/>
<circle cx="700.8" cy="960.2" r="2.15"/>
<circle cx="694.3" cy="960.2" r="2.15"/>
<circle cx="688.9" cy="960.2" r="2.15"/>
<circle cx="688.9" cy="960.3" r="2.15"/>
<circle cx="689.7" cy="960.3" r="2.15"/>
<circle cx="703.5" cy="960.3" r="2.15"/>
<circle cx="707.3" cy="960.3" r="2.15"/>
<circle cx="714.2" cy="960.3" r="2.15"/>
<circle cx="719.6" cy="960.3" r="2.15"/>
<circle cx="725.7" cy="960.3" r="2.15"/>
<circle cx="726.5" cy="960.3" r="2.15"/>
<circle cx="725.0" cy="960.3" r="2.15"/>
<circle cx="728.0" cy="960.2" r="2.15"/>
<circle cx="731.1" cy="960.2" r="2.15"/>
<circle cx="710.4" cy="960.3" r="2.15"/>
<circle cx="703.5" cy="960.3" r="2.15"/>
<circle cx="698.9" cy="960.3" r="2.15"/>
<circle cx="723.4" cy="960.2" r="2.15"/>
<circle cx="724.2" cy="960.2" r="2.15"/>
<circle cx="726.4" cy="960.3" r="2.15"/>
<circle cx="729.2" cy="960.3" r="2.15"/>
<circle cx="732.1" cy="960.3" r="2.15"/>
<circle cx="734.9" cy="960.3" r="2.15"/>
<circle cx="737.8" cy="960.3" r="2.15"/>
<circle cx="740.7" cy="960.3" r="2.15"/>
<circle cx="743.5" cy="960.3" r="2.15"/>
<circle cx="746.4" cy="960.3" r="2.15"/>
<circle cx="749.2" cy="960.3" r="2.15"/>
<circle cx="752.1" cy="960.3" r="2.15"/>
<circle cx="754.9" cy="960.3" r="2.15"/>
<circle cx="757.8" cy="960.3" r="2.15"/>
<circle cx="760.6" cy="960.3" r="2.15"/>
<circle cx="763.5" cy="960.3" r="2.15"/>
<circle cx="766.3" cy="960.3" r="2.15"/>
<circle cx="769.2" cy="960.3" r="2.15"/>
<circle cx="772.1" cy="960.3" r="2.15"/>
<circle cx="774.9" cy="960.3" r="2.15"/>
<circle cx="777.8" cy="960.3" r="2.15"/>
<circle cx="780.6" cy="960.3" r="2.15"/>
<circle cx="783.5" cy="960.3" r="2.15"/>
<circle cx="786.3" cy="960.3" r="2.15"/>
<circle cx="789.2" cy="960.3" r="2.15"/>
<circle cx="790.9" cy="960.3" r="2.15"/>
<circle cx="790.9" cy="960.3" r="2.15"/>
<circle cx="790.9" cy="960.3" r="2.15"/>
<circle cx="790.9" cy="960.2" r="2.15"/>
<circle cx="790.9" cy="960.2" r="2.15"/>
<circle cx="790.9" cy="960.2" r="2.15"/>
<circle cx="790.9" cy="960.2" r="2.15"/>
<circle cx="790.2" cy="960.2" r="2.15"/>
<circle cx="789.2" cy="960.1" r="2.15"/>
<circle cx="788.2" cy="960.1" r="2.15"/>
<circle cx="787.8" cy="960.1" r="2.15"/>
<circle cx="788.1" cy="960.1" r="2.15"/>
<circle cx="788.4" cy="960.1" r="2.15"/>
<circle cx="788.7" cy="960.0" r="2.15"/>
<circle cx="789.0" cy="960.0" r="2.15"/>
<circle cx="789.3" cy="960.0" r="2.15"/>
<circle cx="789.6" cy="960.0" r="2.15"/>
<circle cx="789.1" cy="960.0" r="2.15"/>
<circle cx="787.3" cy="959.9" r="2.15"/>
<circle cx="785.6" cy="959.9" r="2.15"/>
<circle cx="783.9" cy="959.9" r="2.15"/>
<circle cx="782.2" cy="960.0" r="2.15"/>
<circle cx="780.5" cy="960.0" r="2.15"/>
<circle cx="778.2" cy="960.0" r="2.15"/>
<circle cx="776.0" cy="960.0" r="2.15"/>
<circle cx="773.6" cy="960.0" r="2.15"/>
<circle cx="771.4" cy="960.0" r="2.15"/>
<circle cx="769.7" cy="960.0" r="2.15"/>
<circle cx="768.1" cy="960.0" r="2.15"/>
<circle cx="766.4" cy="960.0" r="2.15"/>
<circle cx="764.7" cy="960.0" r="2.15"/>
<circle cx="763.0" cy="960.0" r="2.15"/>
<circle cx="761.4" cy="960.0" r="2.15"/>
<circle cx="758.8" cy="960.0" r="2.15"/>
<circle cx="755.9" cy="960.0" r="2.15"/>
<circle cx="753.1" cy="960.0" r="2.15"/>
<circle cx="750.3" cy="960.0" r="2.15"/>
<circle cx="747.8" cy="960.0" r="2.15"/>
<circle cx="746.2" cy="960.1" r="2.15"/>
<circle cx="744.6" cy="960.1" r="2.15"/>
<circle cx="743.0" cy="960.1" r="2.15"/>
<circle cx="741.2" cy="960.1" r="2.15"/>
<circle cx="738.4" cy="960.1" r="2.15"/>
<circle cx="735.5" cy="960.1" r="2.15"/>
<circle cx="732.7" cy="960.1" r="2.15"/>
<circle cx="731.5" cy="960.1" r="2.15"/>
<circle cx="730.5" cy="960.1" r="2.15"/>
<circle cx="729.6" cy="960.2" r="2.15"/>
<circle cx="728.6" cy="960.2" r="2.15"/>
<circle cx="727.7" cy="960.2" r="2.15"/>
<circle cx="726.7" cy="960.2" r="2.15"/>
<circle cx="726.4" cy="960.2" r="2.15"/>
<circle cx="726.4" cy="960.3" r="2.15"/>
<circle cx="726.4" cy="960.3" r="2.15"/>
<circle cx="783.6" cy="959.9" r="2.15"/>
<circle cx="786.3" cy="959.9" r="2.15"/>
<circle cx="783.2" cy="960.0" r="2.15"/>
<circle cx="768.2" cy="960.0" r="2.15"/>
<circle cx="781.3" cy="960.0" r="2.15"/>
<circle cx="782.9" cy="960.0" r="2.15"/>
<circle cx="785.9" cy="960.0" r="2.15"/>
<circle cx="768.4" cy="960.0" r="2.15"/>
<circle cx="776.2" cy="960.0" r="2.15"/>
<circle cx="779.7" cy="960.0" r="2.15"/>
<circle cx="785.6" cy="960.0" r="2.15"/>
<circle cx="762.0" cy="960.0" r="2.15"/>
<circle cx="765.4" cy="960.0" r="2.15"/>
<circle cx="766.7" cy="960.0" r="2.15"/>
<circle cx="770.9" cy="960.0" r="2.15"/>
<circle cx="775.4" cy="960.0" r="2.15"/>
<circle cx="778.6" cy="960.0" r="2.15"/>
<circle cx="782.9" cy="960.0" r="2.15"/>
<circle cx="788.5" cy="960.0" r="2.15"/>
<circle cx="748.6" cy="960.0" r="2.15"/>
<circle cx="751.4" cy="960.0" r="2.15"/>
<circle cx="761.3" cy="960.0" r="2.15"/>
<circle cx="764.4" cy="960.0" r="2.15"/>
<circle cx="766.7" cy="960.0" r="2.15"/>
<circle cx="771.5" cy="960.0" r="2.15"/>
<circle cx="774.3" cy="960.0" r="2.15"/>
<circle cx="775.3" cy="960.0" r="2.15"/>
<circle cx="779.4" cy="960.0" r="2.15"/>
<circle cx="783.0" cy="960.0" r="2.15"/>
<circle cx="784.7" cy="960.0" r="2.15"/>
<circle cx="788.1" cy="960.0" r="2.15"/>
<circle cx="747.8" cy="960.1" r="2.15"/>
<circle cx="753.0" cy="960.1" r="2.15"/>
<circle cx="756.3" cy="960.1" r="2.15"/>
<circle cx="762.8" cy="960.1" r="2.15"/>
<circle cx="765.6" cy="960.1" r="2.15"/>
<circle cx="771.3" cy="960.1" r="2.15"/>
<circle cx="775.7" cy="960.1" r="2.15"/>
<circle cx="777.3" cy="960.1" r="2.15"/>
<circle cx="780.6" cy="960.1" r="2.15"/>
<circle cx="783.5" cy="960.1" r="2.15"/>
<circle cx="787.0" cy="960.0" r="2.15"/>
<circle cx="742.8" cy="960.1" r="2.15"/>
<circle cx="744.1" cy="960.1" r="2.15"/>
<circle cx="747.9" cy="960.1" r="2.15"/>
<circle cx="751.6" cy="960.1" r="2.15"/>
<circle cx="753.9" cy="960.1" r="2.15"/>
<circle cx="758.9" cy="960.1" r="2.15"/>
<circle cx="761.3" cy="960.1" r="2.15"/>
<circle cx="765.0" cy="960.1" r="2.15"/>
<circle cx="771.3" cy="960.1" r="2.15"/>
<circle cx="772.2" cy="960.1" r="2.15"/>
<circle cx="776.3" cy="960.1" r="2.15"/>
<circle cx="780.5" cy="960.1" r="2.15"/>
<circle cx="783.6" cy="960.1" r="2.15"/>
<circle cx="787.8" cy="960.1" r="2.15"/>
<circle cx="740.6" cy="960.1" r="2.15"/>
<circle cx="752.2" cy="960.1" r="2.15"/>
<circle cx="759.7" cy="960.1" r="2.15"/>
<circle cx="776.5" cy="960.1" r="2.15"/>
<circle cx="779.2" cy="960.1" r="2.15"/>
<circle cx="781.4" cy="960.1" r="2.15"/>
<circle cx="785.2" cy="960.1" r="2.15"/>
<circle cx="732.4" cy="960.1" r="2.15"/>
<circle cx="734.6" cy="960.1" r="2.15"/>
<circle cx="741.0" cy="960.1" r="2.15"/>
<circle cx="741.1" cy="960.1" r="2.15"/>
<circle cx="748.7" cy="960.1" r="2.15"/>
<circle cx="751.3" cy="960.1" r="2.15"/>
<circle cx="755.2" cy="960.1" r="2.15"/>
<circle cx="759.2" cy="960.1" r="2.15"/>
<circle cx="782.4" cy="960.1" r="2.15"/>
<circle cx="731.4" cy="960.1" r="2.15"/>
<circle cx="734.2" cy="960.2" r="2.15"/>
<circle cx="738.0" cy="960.1" r="2.15"/>
<circle cx="744.8" cy="960.1" r="2.15"/>
<circle cx="745.5" cy="960.1" r="2.15"/>
<circle cx="749.6" cy="960.1" r="2.15"/>
<circle cx="752.4" cy="960.1" r="2.15"/>
<circle cx="754.4" cy="960.1" r="2.15"/>
<circle cx="761.5" cy="960.1" r="2.15"/>
<circle cx="782.8" cy="960.1" r="2.15"/>
<circle cx="783.4" cy="960.1" r="2.15"/>
<circle cx="786.1" cy="960.1" r="2.15"/>
<circle cx="730.1" cy="960.2" r="2.15"/>
<circle cx="732.7" cy="960.2" r="2.15"/>
<circle cx="736.4" cy="960.1" r="2.15"/>
<circle cx="739.6" cy="960.2" r="2.15"/>
<circle cx="744.0" cy="960.2" r="2.15"/>
<circle cx="750.9" cy="960.2" r="2.15"/>
<circle cx="750.9" cy="960.2" r="2.15"/>
<circle cx="753.8" cy="960.2" r="2.15"/>
<circle cx="757.6" cy="960.1" r="2.15"/>
<circle cx="760.4" cy="960.2" r="2.15"/>
<circle cx="763.3" cy="960.2" r="2.15"/>
<circle cx="778.1" cy="960.1" r="2.15"/>
<circle cx="785.5" cy="960.2" r="2.15"/>
<circle cx="789.6" cy="960.1" r="2.15"/>
<circle cx="729.8" cy="960.2" r="2.15"/>
<circle cx="732.0" cy="960.2" r="2.15"/>
<circle cx="736.9" cy="960.2" r="2.15"/>
<circle cx="739.8" cy="960.2" r="2.15"/>
<circle cx="742.9" cy="960.2" r="2.15"/>
<circle cx="746.4" cy="960.2" r="2.15"/>
<circle cx="750.7" cy="960.2" r="2.15"/>
<circle cx="755.3" cy="960.2" r="2.15"/>
<circle cx="759.0" cy="960.2" r="2.15"/>
<circle cx="761.9" cy="960.2" r="2.15"/>
<circle cx="765.0" cy="960.2" r="2.15"/>
<circle cx="780.0" cy="960.2" r="2.15"/>
<circle cx="781.9" cy="960.2" r="2.15"/>
<circle cx="785.5" cy="960.2" r="2.15"/>
<circle cx="731.5" cy="960.2" r="2.15"/>
<circle cx="732.5" cy="960.2" r="2.15"/>
<circle cx="735.5" cy="960.2" r="2.15"/>
<circle cx="740.4" cy="960.2" r="2.15"/>
<circle cx="742.6" cy="960.2" r="2.15"/>
<circle cx="745.3" cy="960.2" r="2.15"/>
<circle cx="747.1" cy="960.2" r="2.15"/>
<circle cx="751.4" cy="960.2" r="2.15"/>
<circle cx="755.1" cy="960.2" r="2.15"/>
<circle cx="759.5" cy="960.2" r="2.15"/>
<circle cx="763.7" cy="960.2" r="2.15"/>
<circle cx="764.6" cy="960.2" r="2.15"/>
<circle cx="776.4" cy="960.2" r="2.15"/>
<circle cx="781.0" cy="960.2" r="2.15"/>
<circle cx="782.1" cy="960.2" r="2.15"/>
<circle cx="786.7" cy="960.2" r="2.15"/>
<circle cx="788.8" cy="960.2" r="2.15"/>
<circle cx="731.7" cy="960.2" r="2.15"/>
<circle cx="735.7" cy="960.2" r="2.15"/>
<circle cx="746.2" cy="960.2" r="2.15"/>
<circle cx="751.3" cy="960.2" r="2.15"/>
<circle cx="752.4" cy="960.2" r="2.15"/>
<circle cx="755.7" cy="960.2" r="2.15"/>
<circle cx="758.0" cy="960.2" r="2.15"/>
<circle cx="762.7" cy="960.2" r="2.15"/>
<circle cx="765.4" cy="960.2" r="2.15"/>
<circle cx="775.2" cy="960.2" r="2.15"/>
<circle cx="777.9" cy="960.2" r="2.15"/>
<circle cx="780.4" cy="960.2" r="2.15"/>
<circle cx="783.2" cy="960.2" r="2.15"/>
<circle cx="786.7" cy="960.2" r="2.15"/>
<circle cx="789.7" cy="960.2" r="2.15"/>
<circle cx="735.9" cy="960.2" r="2.15"/>
<circle cx="737.0" cy="960.2" r="2.15"/>
<circle cx="743.0" cy="960.2" r="2.15"/>
<circle cx="745.1" cy="960.2" r="2.15"/>
<circle cx="750.8" cy="960.2" r="2.15"/>
<circle cx="754.5" cy="960.2" r="2.15"/>
<circle cx="757.1" cy="960.2" r="2.15"/>
<circle cx="759.9" cy="960.2" r="2.15"/>
<circle cx="766.1" cy="960.2" r="2.15"/>
<circle cx="766.8" cy="960.2" r="2.15"/>
<circle cx="771.7" cy="960.2" r="2.15"/>
<circle cx="774.1" cy="960.2" r="2.15"/>
<circle cx="775.7" cy="960.2" r="2.15"/>
<circle cx="782.0" cy="960.2" r="2.15"/>
<circle cx="787.4" cy="960.2" r="2.15"/>
<circle cx="790.3" cy="960.2" r="2.15"/>
<circle cx="728.2" cy="960.2" r="2.15"/>
<circle cx="731.2" cy="960.2" r="2.15"/>
<circle cx="734.6" cy="960.2" r="2.15"/>
<circle cx="744.4" cy="960.3" r="2.15"/>
<circle cx="745.2" cy="960.2" r="2.15"/>
<circle cx="750.1" cy="960.2" r="2.15"/>
<circle cx="753.8" cy="960.3" r="2.15"/>
<circle cx="757.5" cy="960.3" r="2.15"/>
<circle cx="760.2" cy="960.2" r="2.15"/>
<circle cx="762.3" cy="960.2" r="2.15"/>
<circle cx="764.9" cy="960.3" r="2.15"/>
<circle cx="768.8" cy="960.2" r="2.15"/>
<circle cx="771.5" cy="960.3" r="2.15"/>
<circle cx="773.3" cy="960.3" r="2.15"/>
<circle cx="781.2" cy="960.2" r="2.15"/>
<circle cx="783.6" cy="960.3" r="2.15"/>
<circle cx="790.6" cy="960.3" r="2.15"/>
<circle cx="726.6" cy="960.3" r="2.15"/>
<circle cx="731.1" cy="960.3" r="2.15"/>
<circle cx="734.0" cy="960.3" r="2.15"/>
<circle cx="735.4" cy="960.3" r="2.15"/>
<circle cx="739.5" cy="960.3" r="2.15"/>
<circle cx="745.0" cy="960.3" r="2.15"/>
<circle cx="748.1" cy="960.3" r="2.15"/>
<circle cx="752.6" cy="960.3" r="2.15"/>
<circle cx="754.1" cy="960.3" r="2.15"/>
<circle cx="757.4" cy="960.3" r="2.15"/>
<circle cx="761.8" cy="960.3" r="2.15"/>
<circle cx="764.3" cy="960.3" r="2.15"/>
<circle cx="766.2" cy="960.3" r="2.15"/>
<circle cx="771.9" cy="960.3" r="2.15"/>
<circle cx="772.4" cy="960.3" r="2.15"/>
<circle cx="779.4" cy="960.3" r="2.15"/>
<circle cx="782.7" cy="960.3" r="2.15"/>
<circle cx="786.8" cy="960.3" r="2.15"/>
<circle cx="788.8" cy="960.3" r="2.15"/>
<circle cx="729.5" cy="960.3" r="2.15"/>
<circle cx="733.5" cy="960.3" r="2.15"/>
<circle cx="737.1" cy="960.3" r="2.15"/>
<circle cx="740.8" cy="960.3" r="2.15"/>
<circle cx="744.2" cy="960.3" r="2.15"/>
<circle cx="745.8" cy="960.3" r="2.15"/>
<circle cx="749.7" cy="960.3" r="2.15"/>
<circle cx="756.6" cy="960.3" r="2.15"/>
<circle cx="758.7" cy="960.3" r="2.15"/>
<circle cx="761.8" cy="960.3" r="2.15"/>
<circle cx="765.7" cy="960.3" r="2.15"/>
<circle cx="767.5" cy="960.3" r="2.15"/>
<circle cx="773.8" cy="960.3" r="2.15"/>
<circle cx="776.2" cy="960.3" r="2.15"/>
<circle cx="781.5" cy="960.3" r="2.15"/>
<circle cx="783.8" cy="960.3" r="2.15"/>
<circle cx="785.7" cy="960.3" r="2.15"/>
</g>
<polyline points="797.55,960.31 797.83,960.31 798.11,960.31 798.38,960.31 798.66,960.31 798.94,960.31 799.21,960.31 799.49,960.31 799.77,960.31 800.04,960.31 800.32,960.31 800.60,960.31 800.87,960.31 801.15,960.31 801.42,960.31 801.70,960.31 801.98,960.31 802.25,960.31 802.53,960.31 802.81,960.31 803.08,960.31 803.36,960.31 803.64,960.31 803.91,960.31 804.19,960.31 804.47,960.31 804.74,960.31 805.02,960.31 805.30,960.31 805.57,960.31 805.85,960.31 806.13,960.30 806.40,960.30 806.68,960.30 806.96,960.30 807.23,960.30 807.51,960.30 807.78,960.30 808.06,960.30 808.34,960.30 808.61,960.30 808.89,960.30 809.17,960.30 809.44,960.30 809.72,960.30 810.00,960.30 810.27,960.30 810.55,960.30 810.83,960.30 811.10,960.30 811.38,960.30 811.66,960.30 811.93,960.30 812.21,960.30 812.49,960.30 812.76,960.29 813.04,960.29 813.32,960.29 813.59,960.29 813.87,960.29 814.14,960.29 814.42,960.29 814.70,960.29 814.97,960.29 815.25,960.29 815.53,960.29 815.80,960.29 816.08,960.29 816.36,960.29 816.63,960.29 816.91,960.29 817.19,960.29 817.46,960.28 817.74,960.28 818.02,960.28 818.29,960.28 818.57,960.28 818.85,960.28 819.12,960.28 819.40,960.28 819.68,960.28 819.95,960.28 820.23,960.28 820.50,960.28 820.78,960.28 821.06,960.27 821.33,960.27 821.61,960.27 821.89,960.27 822.16,960.27 822.44,960.27 822.72,960.27 822.99,960.27 823.27,960.27 823.55,960.27 823.82,960.27 824.10,960.26 824.38,960.26 824.65,960.26 824.93,960.26 825.21,960.26 825.48,960.26 825.76,960.26 826.04,960.26 826.31,960.25 826.59,960.25 826.86,960.25 827.14,960.25 827.42,960.25 827.69,960.25 827.97,960.25 828.25,960.25 828.52,960.24 828.80,960.24 829.08,960.24 829.35,960.24 829.63,960.24 829.91,960.24 830.18,960.23 830.46,960.23 830.74,960.23 831.01,960.23 831.29,960.23 831.57,960.23 831.84,960.22 832.12,960.22 832.40,960.22 832.67,960.22 832.95,960.22 833.23,960.21 833.50,960.21 833.78,960.21 834.05,960.21 834.33,960.20 834.61,960.20 834.88,960.20 835.16,960.20 835.44,960.20 835.71,960.19 835.99,960.19 836.27,960.19 836.54,960.18 836.82,960.18 837.10,960.18 837.37,960.18 837.65,960.17 837.93,960.17 838.20,960.17 838.48,960.16 838.76,960.16 839.03,960.16 839.31,960.15 839.59,960.15 839.86,960.15 840.14,960.14 840.41,960.14 840.69,960.14 840.97,960.13 841.24,960.13 841.52,960.12 841.80,960.12 842.07,960.12 842.35,960.11 842.63,960.11 842.90,960.10 843.18,960.10 843.46,960.09 843.73,960.09 844.01,960.08 844.29,960.08 844.56,960.07 844.84,960.07 845.12,960.06 845.39,960.06 845.67,960.05 845.95,960.05 846.22,960.04 846.50,960.03 846.77,960.03 847.05,960.02 847.33,960.01 847.60,960.01 847.88,960.00 848.16,959.99 848.43,959.99 848.71,959.98 848.99,959.97 849.26,959.96 849.54,959.96 849.82,959.95 850.09,959.94 850.37,959.93 850.65,959.92 850.92,959.91 851.20,959.90 851.48,959.90 851.75,959.89 852.03,959.88 852.31,959.87 852.58,959.86 852.86,959.85 853.13,959.83 853.41,959.82 853.69,959.81 853.96,959.80 854.24,959.79 854.52,959.78 854.79,959.76 855.07,959.75 855.35,959.74 855.62,959.73 855.90,959.71 856.18,959.70 856.45,959.69 856.73,959.67 857.01,959.66 857.28,959.64 857.56,959.63 857.84,959.61 858.11,959.59 858.39,959.58 858.67,959.56 858.94,959.54 859.22,959.53 859.49,959.51 859.77,959.49 860.05,959.47 860.32,959.45 860.60,959.43 860.88,959.41 861.15,959.39 861.43,959.37 861.71,959.35 861.98,959.33 862.26,959.31 862.54,959.29 862.81,959.26 863.09,959.24 863.37,959.22 863.64,959.19 863.92,959.17 864.20,959.15 864.47,959.12 864.75,959.10 865.03,959.07 865.30,959.04 865.58,959.02 865.85,958.99 866.13,958.97 866.41,958.94 866.68,958.91 866.96,958.88 867.24,958.85 867.51,958.83 867.79,958.80 868.07,958.77 868.34,958.74 868.62,958.71 868.90,958.68 869.17,958.65 869.45,958.62 869.73,958.59 870.00,958.56 870.28,958.53 870.56,958.50 870.83,958.47 871.11,958.45 871.39,958.42 871.66,958.39 871.94,958.36 872.22,958.33 872.49,958.30 872.77,958.27 873.04,958.25 873.32,958.22 873.60,958.19 873.87,958.17 874.15,958.14 874.43,958.12 874.70,958.09 874.98,958.07 875.26,958.05 875.53,958.03 875.81,958.01 876.09,957.99 876.36,957.97 876.64,957.95 876.92,957.93 877.19,957.92 877.47,957.90 877.75,957.89 878.02,957.88 878.30,957.87 878.58,957.86 878.85,957.85 879.13,957.85 879.40,957.84 879.68,957.84 879.96,957.84 880.23,957.83 880.51,957.83 880.79,957.84 881.06,957.84 881.34,957.84 881.62,957.85 881.89,957.86 882.17,957.87 882.45,957.88 882.72,957.89 883.00,957.90 883.28,957.91 883.55,957.93 883.83,957.94 884.11,957.96 884.38,957.98 884.66,958.00 884.94,958.02 885.21,958.04 885.49,958.06 885.76,958.08 886.04,958.11 886.32,958.13 886.59,958.16 886.87,958.18 887.15,958.21 887.42,958.24 887.70,958.26 887.98,958.29 888.25,958.32 888.53,958.35 888.81,958.38 889.08,958.40 889.36,958.43 889.64,958.46 889.91,958.49 890.19,958.52 890.47,958.55 890.74,958.58 891.02,958.61 891.30,958.64 891.57,958.67 891.85,958.70 892.12,958.73 892.40,958.76 892.68,958.79 892.95,958.81 893.23,958.84 893.51,958.87 893.78,958.90 894.06,958.93 894.34,958.95 894.61,958.98 894.89,959.01 895.17,959.03 895.44,959.06 895.72,959.09 896.00,959.11 896.27,959.14 896.55,959.16 896.83,959.19 897.10,959.21 897.38,959.23 897.66,959.26 897.93,959.28 898.21,959.30 898.48,959.32 898.76,959.34 899.04,959.36 899.31,959.39 899.59,959.41 899.87,959.43 900.14,959.44 900.42,959.46 900.70,959.48 900.97,959.50 901.25,959.52 901.53,959.54 901.80,959.55 902.08,959.57 902.36,959.59 902.63,959.60 902.91,959.62 903.19,959.63 903.46,959.65 903.74,959.66 904.02,959.68 904.29,959.69 904.57,959.71 904.84,959.72 905.12,959.73 905.40,959.75 905.67,959.76 905.95,959.77 906.23,959.78 906.50,959.80 906.78,959.81 907.06,959.82 907.33,959.83 907.61,959.84 907.89,959.85 908.16,959.86 908.44,959.87 908.72,959.88 908.99,959.89 909.27,959.90 909.55,959.91 909.82,959.92 910.10,959.93 910.38,959.94 910.65,959.94 910.93,959.95 911.21,959.96 911.48,959.97 911.76,959.98 912.03,959.98 912.31,959.99 912.59,960.00 912.86,960.00 913.14,960.01 913.42,960.02 913.69,960.02 913.97,960.03 914.25,960.04 914.52,960.04 914.80,960.05 915.08,960.05 915.35,960.06 915.63,960.07 915.91,960.07 916.18,960.08 916.46,960.08 916.74,960.09 917.01,960.09 917.29,960.10 917.57,960.10 917.84,960.11 918.12,960.11 918.39,960.11 918.67,960.12 918.95,960.12 919.22,960.13 919.50,960.13 919.78,960.13 920.05,960.14 920.33,960.14 920.61,960.15 920.88,960.15 921.16,960.15 921.44,960.16 921.71,960.16 921.99,960.16 922.27,960.17 922.54,960.17 922.82,960.17 923.10,960.18 923.37,960.18 923.65,960.18 923.93,960.18 924.20,960.19 924.48,960.19 924.75,960.19 925.03,960.19 925.31,960.20 925.58,960.20 925.86,960.20 926.14,960.20 926.41,960.21 926.69,960.21 926.97,960.21 927.24,960.21 927.52,960.21 927.80,960.22 928.07,960.22 928.35,960.22 928.63,960.22 928.90,960.22 929.18,960.23 929.46,960.23 929.73,960.23 930.01,960.23 930.29,960.23 930.56,960.24 930.84,960.24 931.11,960.24 931.39,960.24 931.67,960.24 931.94,960.24 932.22,960.24 932.50,960.25 932.77,960.25 933.05,960.25 933.33,960.25 933.60,960.25 933.88,960.25 934.16,960.25 934.43,960.26 934.71,960.26 934.99,960.26 935.26,960.26 935.54,960.26 935.82,960.26 936.09,960.26 936.37,960.26 936.65,960.26 936.92,960.27 937.20,960.27 937.47,960.27 937.75,960.27 938.03,960.27 938.30,960.27 938.58,960.27 938.86,960.27 939.13,960.27 939.41,960.27 939.69,960.28 939.96,960.28 940.24,960.28 940.52,960.28 940.79,960.28 941.07,960.28 941.35,960.28 941.62,960.28 941.90,960.28 942.18,960.28 942.45,960.28 942.73,960.28 943.01,960.28 943.28,960.29 943.56,960.29 943.83,960.29 944.11,960.29 944.39,960.29 944.66,960.29 944.94,960.29 945.22,960.29 945.49,960.29 945.77,960.29 946.05,960.29 946.32,960.29 946.60,960.29 946.88,960.29 947.15,960.29 947.43,960.29 947.71,960.29 947.98,960.30 948.26,960.30 948.54,960.30 948.81,960.30 949.09,960.30 949.37,960.30 949.64,960.30 949.92,960.30 950.20,960.30 950.47,960.30 950.75,960.30 951.02,960.30 951.30,960.30 951.58,960.30 951.85,960.30 952.13,960.30 952.41,960.30 952.68,960.30 952.96,960.30 953.24,960.30 953.51,960.30 953.79,960.30 954.07,960.30 954.34,960.30 954.62,960.31 954.90,960.31 955.17,960.31 955.45,960.31 955.73,960.31 956.00,960.31 956.28,960.31 956.56,960.31 956.83,960.31 957.11,960.31 957.38,960.31 957.66,960.31 957.94,960.31 958.21,960.31 958.49,960.31 958.77,960.31 959.04,960.31 959.32,960.31 959.60,960.31 959.87,960.31 960.15,960.31 960.43,960.31 960.70,960.31 960.98,960.31 961.26,960.31 961.53,960.31 961.81,960.31 962.09,960.31 962.36,960.31 962.64,960.31 962.92,960.31 963.19,960.31" fill="none" stroke="#000" stroke-width="3.3" stroke-dasharray="5 2.4"/>
<text x="629.1" y="993.1" text-anchor="middle">7050</text>
<text x="691.2" y="993.1" text-anchor="middle">7100</text>
<text x="753.3" y="993.1" text-anchor="middle">7150</text>
<text x="815.4" y="993.1" text-anchor="middle">7200</text>
<text x="877.4" y="993.1" text-anchor="middle">7250</text>
<text x="939.5" y="993.1" text-anchor="middle">7300</text>
<text x="1001.6" y="993.1" text-anchor="middle">7350</text>
<text x="616.3" y="965.3" text-anchor="end">0</text>
<text x="616.3" y="895.4" text-anchor="end">100000</text>
<text x="616.3" y="825.4" text-anchor="end">200000</text>
<text x="616.3" y="755.5" text-anchor="end">300000</text>
<text x="616.3" y="685.5" text-anchor="end">400000</text>
<text x="616.3" y="615.6" text-anchor="end">500000</text>
<text x="616.3" y="545.6" text-anchor="end">600000</text>
<text x="309" y="30" text-anchor="middle">BLG02T2332.1340</text>
<text x="813" y="30" text-anchor="middle" xml:space="preserve">12552  19.54  0.14  542</text>
<text x="309" y="1018" text-anchor="middle">time (HJD-2450000)</text>
<text x="813" y="1018" text-anchor="middle">time (HJD-2450000)</text>
<text transform="translate(39,264) rotate(-90)" text-anchor="middle">d flux</text>
<text transform="translate(39,746) rotate(-90)" text-anchor="middle">d flux</text>
</svg></body></html>
